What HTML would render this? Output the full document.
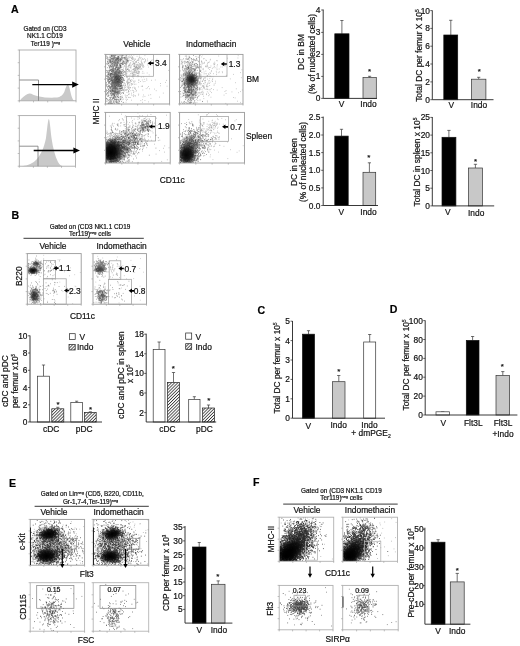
<!DOCTYPE html>
<html><head><meta charset="utf-8"><title>Figure</title>
<style>html,body{margin:0;padding:0;background:#fff}svg{display:block}text{font-family:"Liberation Sans",Arial,sans-serif;stroke:#111;stroke-width:.2px}</style>
</head><body>
<svg width="520" height="646" viewBox="0 0 520 646" font-size="8.4" fill="#111">
<defs><radialGradient id="g"><stop offset="0" stop-color="#000" stop-opacity="1"/><stop offset=".45" stop-color="#000" stop-opacity=".75"/><stop offset=".75" stop-color="#000" stop-opacity=".25"/><stop offset="1" stop-color="#000" stop-opacity="0"/></radialGradient><filter id="bl" x="-5%" y="-5%" width="110%" height="110%"><feGaussianBlur stdDeviation=".3"/></filter><pattern id="h" width="2.2" height="2.2" patternUnits="userSpaceOnUse" patternTransform="rotate(-45)"><rect width="2.2" height="2.2" fill="#fff"/><rect width="2.2" height=".8" fill="#333"/></pattern></defs>
<rect width="520" height="646" fill="#fff"/>
<text x="11" y="12.6" font-weight="bold" font-size="10.6" fill="#000">A</text><text x="45" y="30.5" text-anchor="middle" font-size="6.4">Gated on (CD3</text><text x="45" y="37.9" text-anchor="middle" font-size="6.4">NK1.1 CD19</text><text x="45.5" y="45.8" text-anchor="middle" font-size="6.4">Ter119 )<tspan dy="-2" font-size="3.8">neg</tspan></text><path d="M20 100.8L21 99C24 96 27 93.4 29.5 93.4C32 93.4 34 95.5 38 96.2C44 97.5 50 98 56 97.6C59 97.3 62 96.5 64.3 92C66 87.5 66.8 84.6 67.7 84.6C68.8 84.6 69.5 88 70.6 92.5C71.6 97 72.5 99.5 74 100.8Z" fill="#c9c9c9"/><rect x="19.3" y="50" width="56.7" height="50.8" fill="none" stroke="#aaa" stroke-width="0.9"/><path d="M19.3 100.8v1.6M19.3 100.8h-1.6M33.5 100.8v1.6M19.3 88.1h-1.6M47.7 100.8v1.6M19.3 75.4h-1.6M61.8 100.8v1.6M19.3 62.7h-1.6M76 100.8v1.6M19.3 50h-1.6" stroke="#999" stroke-width=".6" fill="none"/><path d="M19.3 80H38.5V100.8" stroke="#858585" stroke-width=".9" fill="none"/><path d="M32.3 84.6L72.7 84.6" stroke="#000" stroke-width="1.4" fill="none"/><path d="M78.8 84.6l-6.6 -3.1v6.2z" fill="#000"/><path d="M22 166.2C28 165.5 33 163.5 37 159C41 154 44 148 46 138C47.3 128 48 119 48.8 119C49.7 119 50.3 128 51.5 138C53 148 55 156 58 162C59.5 164.5 61 165.8 63 166.2Z" fill="#c9c9c9"/><rect x="19.3" y="115.6" width="56.2" height="50.6" fill="none" stroke="#aaa" stroke-width="0.9"/><path d="M19.3 166.2v1.6M19.3 166.2h-1.6M33.4 166.2v1.6M19.3 153.5h-1.6M47.4 166.2v1.6M19.3 140.9h-1.6M61.5 166.2v1.6M19.3 128.2h-1.6M75.5 166.2v1.6M19.3 115.6h-1.6" stroke="#999" stroke-width=".6" fill="none"/><path d="M19.3 146.2H38V166.2" stroke="#858585" stroke-width=".9" fill="none"/><path d="M33.7 150.5L73.9 150.5" stroke="#000" stroke-width="1.4" fill="none"/><path d="M80 150.5l-6.6 -3.1v6.2z" fill="#000"/><text x="136.8" y="46.9" text-anchor="middle">Vehicle</text><text x="211.2" y="46.9" text-anchor="middle">Indomethacin</text><text x="246.4" y="81.8">BM</text><text x="246" y="138.5">Spleen</text><text x="99.2" y="111.5" text-anchor="middle" transform="rotate(-90 99.2 111.5)">MHC II</text><text x="172.3" y="183.4" text-anchor="middle">CD11c</text><clipPath id="c1"><rect x="105.6" y="54.4" width="64" height="49.6"/></clipPath><g clip-path="url(#c1)"><ellipse cx="117.5" cy="79.5" rx="5" ry="7" fill="url(#g)" opacity="0.3"/><path d="M106.4 55h.7m2.6 0h.7m1-.1h.7m-.5 .3h.7m.1-.1h.7m-.5-.1h.7m0 .2h.7m0-.2h.7m-.3 0h.7m-.2 0h.7m.1 .2h.7m.3-.2h.7m.3 0h.7m.7 0h.7m1.1-.1h.7m.2 .2h.7m.3-.1h.7m-12.3 .5h.7m-.7-.2h.7m-.7 0h.7m1.3 .2h.7m.6 .1h.7m6.7-.3h.7m0 .1h.7m3 0h.7m-16.4 .6h.7m.4-.1h.7m-.1 0h.7m1.7-.1h.7m-.1 .1h.7m2 .3h.7m1.1-.3h.7m.8 .3h.7m-.6-.1h.7m0 .1h.7m-16.1 .4h.7m3.6 0h.7m-.2-.2h.7m-.5 0h.7m1.9 .3h.7m-.7-.1h.7m2.5-.1h.7m-.3 0h.7m-.7 0h.7m-.4 .2h.7m-.4 0h.7m-9.9 .3h.7m.1 .1h.7m.9-.3h.7m.8 .1h.7m-.6 .1h.7m-.4-.2h.7m3.6 .4h.7m.1 0h.7m12.5-.2h.7m-25.6 .4h.7m1 .3h.7m.7 0h.7m-.2-.4h.7m2.4 .4h.7m-.1-.3h.7m-.2 .2h.7m-.5 .1h.7m.4-.1h.7m.1-.3h.7m-.3 .1h.7m.2 .3h.7m-.2-.2h.7m1.8 .1h.7m-.6 0h.7m.1 0h.7m0 .1h.7m.4-.2h.7m-.7-.2h.7m-.2 .1h.7m3.7 .3h.7m-22.2 .5h.7m4.2-.3h.7m.6 .1h.7m.3 0h.7m-.6 .1h.7m.4-.1h.7m.7-.1h.7m.2 .1h.7m1.7 .1h.7m1.3 0h.7m2.1 0h.7m-.6-.3h.7m-19.6 .6h.7m3.5 .1h.7m-.3-.1h.7m.6-.1h.7m.4 0h.7m-.4 .4h.7m-.4-.4h.7m.9 .3h.7m-.2-.1h.7m-.2-.1h.7m-.3 .1h.7m-.3 .1h.7m-.7-.1h.7m-.4 .1h.7m-.6-.2h.7m.2 .2h.7m1.3 0h.7m9.6-.3h.7m-24.2 .8h.7m.7 .1h.7m1-.1h.7m-.4-.3h.7m-.6 .3h.7m0-.2h.7m-.2 .2h.7m-.5-.3h.7m.2 .2h.7m-.6 .1h.7m1.6 .1h.7m-.5-.1h.7m-.3 .1h.7m-.5 0h.7m-.6-.1h.7m-.6-.3h.7m-.6 .1h.7m.4-.1h.7m-.3 0h.7m-.1 .1h.7m.2 .1h.7m-.4-.2h.7m-.4 .3h.7m-.1-.3h.7m.4 0h.7m1.5 .3h.7m.3 .1h.7m-.2-.1h.7m.2 0h.7m-19 .3h.7m.5 .3h.7m.1-.1h.7m2.7 .1h.7m.9-.4h.7m-.6 .2h.7m-.7 .1h.7m.1-.3h.7m-.3 0h.7m-.6 .4h.7m-.2-.3h.7m.5 .3h.7m.3-.1h.7m-.5 0h.7m-.7-.3h.7m.2 .1h.7m-.1-.1h.7m4.3 0h.7m-19.5 .6h.7m1.3 .1h.7m-.4-.1h.7m1.5 0h.7m.2 .3h.7m1-.4h.7m.4 .2h.7m-.5 .2h.7m.4-.1h.7m.2 0h.7m-.2-.2h.7m-.6 .2h.7m.6-.2h.7m-.5 .2h.7m-.4 .1h.7m-.6-.4h.7m.1 .1h.7m5.9 .2h.7m-18.8 .3h.7m-.4-.1h.7m.1 0h.7m1.3 0h.7m1.5 0h.7m-.4 .3h.7m.1 .1h.7m0-.2h.7m.7 0h.7m-.1 .2h.7m.2-.2h.7m-.1 .2h.7m.8-.4h.7m3.5 0h.7m.7 0h.7m-.1 .2h.7m-20.1 .3h.7m-.3 .4h.7m.2-.3h.7m-.7 .1h.7m-.4-.1h.7m1.5 0h.7m-.3 0h.7m-.4 .3h.7m.2-.2h.7m-.5-.2h.7m0 .2h.7m-.3 0h.7m-.2 .1h.7m-.5-.3h.7m-.5 .4h.7m.1 0h.7m.2 0h.7m-.2-.3h.7m.8-.1h.7m-.4 .1h.7m1.6 .3h.7m4.1-.3h.7m-20.6 .5h.7m.8 0h.7m.8 0h.7m.8 .2h.7m-.5-.1h.7m-.6 .2h.7m1.1 0h.7m-.5-.3h.7m0-.1h.7m1.7 0h.7m.7 .3h.7m.3 0h.7m2.8-.3h.7m0 .4h.7m2.4-.2h.7m-20.6 .5h.7m-.2-.1h.7m1.4 .1h.7m-.4 0h.7m.3 0h.7m-.3 0h.7m.6-.2h.7m-.5 0h.7m1.9 0h.7m.6 0h.7m-.4 .4h.7m-.4-.3h.7m1.6 .2h.7m.3-.3h.7m1.3 .3h.7m.1-.3h.7m.7 .3h.7m2.6-.3h.7m-18.6 .5h.7m-.6 .1h.7m1.7 .3h.7m-.3-.3h.7m.8 .1h.7m0-.1h.7m.3 .3h.7m-.7-.1h.7m.2 0h.7m-.4-.2h.7m-.6 .3h.7m-.3-.2h.7m3.3 .1h.7m.8 .1h.7m2.1 0h.7m-19.2 .1h.7m.2 0h.7m-.5 0h.7m1.4 .1h.7m-.3 0h.7m0 .3h.7m.3-.2h.7m-.6 .1h.7m.1 0h.7m-.4-.1h.7m-.7-.2h.7m-.5 .3h.7m-.7-.3h.7m-.4 0h.7m-.4 .2h.7m-.3 0h.7m3.2 .2h.7m2.2 0h.7m0 0h.7m.4-.3h.7m-17 .6h.7m-.2 0h.7m2.7 .1h.7m-.3-.3h.7m2.5 .2h.7m.6 .2h.7m-.5-.3h.7m.2-.1h.7m-.3 .1h.7m.9-.1h.7m-.5 .4h.7m.3-.2h.7m-.5-.1h.7m-.2 .2h.7m2-.1h.7m-.1 .2h.7m-18.5 .5h.7m0-.3h.7m1.6-.1h.7m.8 0h.7m0 .2h.7m-.3 .1h.7m1.3-.2h.7m.7 0h.7m.8 .1h.7m2.1-.1h.7m1.6-.1h.7m-12.3 .8h.7m1.2-.3h.7m.2 .1h.7m-.6 0h.7m.6 .1h.7m.6 .1h.7m.1-.1h.7m.9 .2h.7m2.1-.3h.7m-.6 .2h.7m.4 0h.7m-14.1 .3h.7m1.8 0h.7m-.1 .2h.7m.6-.1h.7m-.4 .1h.7m.4 0h.7m.1-.3h.7m.3 0h.7m1.5 .1h.7m5.7 0h.7m3.1 0h.7m-22.2 .5h.7m1.1 0h.7m-.3 0h.7m1.2 .1h.7m.9 .2h.7m-.6-.4h.7m-.1 .1h.7m.2 .1h.7m.7 .1h.7m-.5 0h.7m-.2-.2h.7m2 0h.7m-.7 .2h.7m-.5 .1h.7m7.5-.1h.7m-19.3 .3h.7m.2-.1h.7m1.2 .2h.7m0 .1h.7m-.4-.1h.7m1 .2h.7m0-.3h.7m-.7-.1h.7m-.4 .2h.7m-.6 .1h.7m.3-.3h.7m.9 0h.7m.1 0h.7m.1 .2h.7m-12.7 .3h.7m-.6 .4h.7m.3-.4h.7m.7 .4h.7m-.1-.4h.7m0 .1h.7m.2 .3h.7m.5-.3h.7m.6 .2h.7m.8 0h.7m1.5 .1h.7m-.4-.1h.7m-10.9 .3h.7m.1-.1h.7m1.2 .2h.7m-.4-.2h.7m1.4 .3h.7m.9-.2h.7m.9 .3h.7m.3-.4h.7m1.8 .2h.7m-15.1 .7h.7m1.5-.2h.7m1.5 .1h.7m.7 .1h.7m2.1-.2h.7m-.6 0h.7m-.6 .1h.7m-.1-.1h.7m-.3 .1h.7m.1-.1h.7m-.4-.2h.7m1.4 0h.7m-.2 .3h.7m-.6-.3h.7m-12.6 .6h.7m-.1-.1h.7m1.3 .4h.7m.1 0h.7m.1-.3h.7m1.3 .3h.7m.1-.1h.7m0-.3h.7m.5 .2h.7m.6-.2h.7m-.6 0h.7m.4 .1h.7m-8.6 .4h.7m-.4 .3h.7m-.6-.3h.7m.3 .3h.7m.2 .1h.7m-.6-.1h.7m-.3-.3h.7m1.3 .3h.7m.7-.2h.7m-.6 .2h.7m-.4-.3h.7m-10.8 .8h.7m.7 .1h.7m-.2 0h.7m3.1-.1h.7m-.3-.2h.7m-.3 .1h.7m1.2 0h.7m.1 0h.7m-.6-.2h.7m-.4 0h.7m-8.4 .7h.7m-.1 0h.7m-.3 .1h.7m-.2-.1h.7m.5 0h.7m.6 .2h.7m-.6-.4h.7m-.2 0h.7m.1 .3h.7m0-.3h.7m-.5 0h.7m-.7 .3h.7m-.6 .1h.7m-.6 0h.7m-.5-.1h.7m.2-.3h.7m-.7 .3h.7m2.4-.2h.7m-.3 .3h.7m4.3-.3h.7m-17.5 .8h.7m-.5-.2h.7m-.3-.1h.7m-.3 .3h.7m-.5-.4h.7m-.1 0h.7m-.6 .2h.7m-.2 .2h.7m.1-.4h.7m-.6 0h.7m-.3 .4h.7m.1-.1h.7m1.8 0h.7m-.5-.2h.7m.9 .1h.7m-.7 .2h.7m-.2 0h.7m2.6-.1h.7m-17.3 .4h.7m.8 .1h.7m.5 .1h.7m-.2-.1h.7m-.6-.3h.7m0 .4h.7m-.5 0h.7m1.1-.1h.7m-.4 0h.7m-.2 .1h.7m-.4-.4h.7m-.6 .2h.7m-.2-.2h.7m1.8 0h.7m.5 .3h.7m-.6-.2h.7m.4 .1h.7m-.4 .2h.7m-12.1 .1h.7m.4 .4h.7m1.8-.1h.7m-.6 .1h.7m0 0h.7m-.4-.2h.7m0 0h.7m1.2-.1h.7m0 0h.7m-.6 .1h.7m-.5 .1h.7m-.4-.3h.7m-.7 .3h.7m-.2 .1h.7m.9-.4h.7m.3 .3h.7m.1 0h.7m-.6-.1h.7m2 0h.7m-14.6 .6h.7m1.3 0h.7m-.3-.3h.7m-.3 .3h.7m.4-.1h.7m-.5 .1h.7m.6-.2h.7m-.4-.1h.7m0 0h.7m-.5 .2h.7m0-.1h.7m.1 0h.7m.1-.1h.7m0 .2h.7m.1-.2h.7m-.4 .2h.7m-.6 0h.7m1.2 .1h.7m1.9 .1h.7m-17.7 .4h.7m-.7-.1h.7m3.8-.1h.7m-.3 .3h.7m-.1 0h.7m-.2-.2h.7m.5 .2h.7m-.7 0h.7m-.4-.2h.7m-.2 .2h.7m-.7-.4h.7m.2 .2h.7m-.4-.2h.7m-.4 .2h.7m-.6 0h.7m-.6 .2h.7m.5-.4h.7m-.6 .3h.7m-.1 0h.7m-.6 .1h.7m-.5-.3h.7m-.6 .2h.7m.6-.2h.7m3.9 .2h.7m-19.5 .2h.7m1.3 0h.7m-.2 .3h.7m2.5-.3h.7m.9 .3h.7m-.7 .1h.7m-.2-.2h.7m-.7-.2h.7m-.1 .1h.7m-.6 .1h.7m-.5 .1h.7m-.2-.2h.7m0 .1h.7m-.4-.1h.7m-.1-.1h.7m-.2 .2h.7m-.7 .2h.7m-.3-.2h.7m2.1-.2h.7m1.6 .3h.7m-15.8 .5h.7m-.5 0h.7m-.5-.1h.7m.7 .1h.7m.2 0h.7m-.5 .1h.7m.9-.3h.7m1.1 0h.7m-.3-.1h.7m-.6 .4h.7m-.6-.2h.7m-.4 .2h.7m-.5-.1h.7m-.1 0h.7m-.5-.1h.7m-.7 .1h.7m.8-.2h.7m-.5 .2h.7m-.6-.1h.7m-.6 .2h.7m-.5-.4h.7m-.7 .4h.7m-.2-.4h.7m-.5 .1h.7m-.5 .1h.7m0-.2h.7m-.7 .4h.7m-.3-.2h.7m-.2 .1h.7m.4 .1h.7m-.1-.1h.7m-13.5 .5h.7m-.4 .1h.7m-.1 0h.7m-.5-.2h.7m-.4 .1h.7m-.3 .1h.7m0-.1h.7m0-.3h.7m.6 .4h.7m-.6-.2h.7m-.7 0h.7m0-.2h.7m-.7 .3h.7m-.4-.1h.7m-.1 .1h.7m0-.1h.7m-.3 .1h.7m1.5 .1h.7m-.4-.4h.7m-.7 .2h.7m.9 0h.7m-.5-.2h.7m-14.6 .9h.7m-.7-.1h.7m-.1 0h.7m0 0h.7m-.3-.3h.7m0 .4h.7m-.5-.3h.7m-.5 .2h.7m-.4-.3h.7m-.3 .1h.7m.2 0h.7m-.5 .2h.7m.1-.1h.7m-.4 .2h.7m.2-.1h.7m-.6-.2h.7m-.4 .3h.7m-.2-.3h.7m.7 .3h.7m.3-.2h.7m0 0h.7m1.3 .2h.7m-12.6 .4h.7m-.2 .1h.7m.8-.3h.7m-.7 .1h.7m.9-.2h.7m-.4 .3h.7m-.5-.3h.7m.1 .2h.7m-.5 0h.7m-.2-.2h.7m-.4 .1h.7m-.6 .1h.7m-.6 .1h.7m-.6-.1h.7m-.4 0h.7m-.3 .2h.7m-.4-.3h.7m.1 .1h.7m-.6 .2h.7m-.3 0h.7m-.6-.1h.7m-.6-.3h.7m-.5 .1h.7m.8 .1h.7m.3-.1h.7m-12 .5h.7m1.6 .1h.7m0-.2h.7m-.3 .1h.7m1 .3h.7m-.1-.1h.7m-.6-.2h.7m-.6 .1h.7m.1 0h.7m-.1-.1h.7m-.1 .2h.7m-.6 .1h.7m-.3-.4h.7m-.6 .2h.7m.3-.2h.7m0 .2h.7m.2 .2h.7m-.1-.1h.7m.2-.2h.7m.7 0h.7m-15.6 .4h.7m1.2 0h.7m-.1 .1h.7m-.6 0h.7m-.4 .3h.7m.1-.3h.7m1.1-.1h.7m.8 .1h.7m-.5 .1h.7m0 .2h.7m-.5-.1h.7m-.1 0h.7m-.3 .1h.7m-.1-.2h.7m-.2-.1h.7m-.5-.1h.7m-.7 .1h.7m-.6 .1h.7m-.7 .2h.7m-.1-.1h.7m1-.2h.7m-.4 .2h.7m-.6-.3h.7m-.7 .1h.7m-.4 .2h.7m.9-.3h.7m.1 .2h.7m-17.9 .3h.7m-.6 .4h.7m.7-.3h.7m1.3 .1h.7m-.6 0h.7m-.4 .1h.7m-.5-.1h.7m-.6 0h.7m-.6 .1h.7m.5 .1h.7m-.1-.4h.7m.1 .3h.7m.1-.2h.7m-.6 0h.7m-.6 .1h.7m-.5 .2h.7m-.5-.1h.7m.4 .1h.7m-.7-.3h.7m-.4 .2h.7m-.5 0h.7m-.6-.3h.7m-.5 0h.7m-.4 0h.7m-.7 .4h.7m-.3-.1h.7m0-.2h.7m-.6-.1h.7m-.7 .3h.7m-.5-.1h.7m-.3-.1h.7m-.3 .2h.7m-.6-.1h.7m-.1 .1h.7m-.5-.2h.7m.3 .2h.7m-14.5 .3h.7m-.6 .3h.7m.1-.2h.7m-.1 0h.7m.9-.2h.7m-.3 .4h.7m-.4-.4h.7m1 0h.7m-.5 .1h.7m-.5-.1h.7m-.7 .3h.7m-.7 .1h.7m-.5-.1h.7m-.6 .1h.7m-.1-.4h.7m-.5 .3h.7m-.1-.3h.7m-.3 .1h.7m-.7 .1h.7m-.4-.2h.7m-.5 .1h.7m-.6 .2h.7m-.4-.1h.7m-.4 .2h.7m-.6-.4h.7m-.3 .2h.7m-.6 .2h.7m-.4-.1h.7m-.5-.2h.7m-.6 .2h.7m0 0h.7m-.4-.2h.7m0 0h.7m-.4 0h.7m-.6 .1h.7m-.3-.1h.7m.8 0h.7m2 .1h.7m-16.7 .7h.7m1.9-.1h.7m-.3 0h.7m-.6 0h.7m-.6 .1h.7m0 0h.7m.2-.1h.7m-.3-.3h.7m-.5 0h.7m-.6 .4h.7m-.5-.4h.7m-.3 0h.7m-.5 .3h.7m-.2 .1h.7m-.5-.3h.7m-.6 .2h.7m-.6-.2h.7m-.2 .1h.7m-.4-.2h.7m-.6 0h.7m-.6 .2h.7m-.4 .1h.7m-.7 .1h.7m-.5-.3h.7m-.4 0h.7m-.5 .3h.7m-.6-.2h.7m-.5 0h.7m-.4 .1h.7m-.1-.2h.7m-.6 .3h.7m-.7-.3h.7m-.3 0h.7m.4 .3h.7m.2-.2h.7m4.5-.1h.7m-18.2 .7h.7m-.5 .1h.7m-.6-.1h.7m2.1-.1h.7m-.5 .2h.7m-.4-.1h.7m1.5-.2h.7m-.5 .2h.7m-.6-.3h.7m-.4 0h.7m-.5 0h.7m-.7 .4h.7m0-.4h.7m-.1 .1h.7m.4 0h.7m-.5 0h.7m-.6-.1h.7m-.3 .4h.7m-.6 0h.7m.8-.4h.7m-.6 .3h.7m-.6-.1h.7m-.7-.2h.7m.1 .2h.7m-.3 .2h.7m0-.2h.7m-.7-.2h.7m-.1 .1h.7m-15.9 .5h.7m-.5 .1h.7m1.4 .2h.7m-.5-.1h.7m-.6-.1h.7m.2 .1h.7m-.7-.2h.7m-.2 .2h.7m-.7-.1h.7m.4 .2h.7m-.7-.2h.7m-.6-.1h.7m1 .3h.7m-.6-.4h.7m-.1 0h.7m-.6 .4h.7m-.2-.4h.7m-.6 .3h.7m-.6-.1h.7m.3-.2h.7m-.7 0h.7m-.5 .4h.7m-.7-.1h.7m-.7-.3h.7m.2 .3h.7m.5-.3h.7m-.3 .1h.7m-.3 0h.7m1.1 .1h.7m6.8 .2h.7m-23.8 .4h.7m.7 .1h.7m1.5 0h.7m.7 0h.7m-.1-.3h.7m-.4 0h.7m.9 0h.7m-.4-.1h.7m-.4 .1h.7m.1-.1h.7m-.2 .2h.7m-.3 .2h.7m-.5-.4h.7m-.6 .4h.7m-.6-.2h.7m-.2 .1h.7m-.3-.3h.7m-.6 .1h.7m-.4 0h.7m-.6 .3h.7m-.5-.4h.7m-.4 .2h.7m.7 .1h.7m-.6-.3h.7m-.6 .4h.7m-.3-.2h.7m.7 0h.7m.3-.1h.7m-15.2 .7h.7m-.2-.2h.7m-.1-.1h.7m-.5 .3h.7m-.6-.2h.7m-.3 0h.7m.2 .1h.7m0-.2h.7m1.3 .4h.7m-.4-.1h.7m-.4-.3h.7m-.3 0h.7m-.6 .1h.7m-.7 .3h.7m-.5-.1h.7m-.3-.3h.7m-.6 .3h.7m-.6-.3h.7m-.1 .1h.7m-.5 0h.7m-.7 .1h.7m-.4-.2h.7m-.7 0h.7m-.7 .1h.7m-.4 .2h.7m-.6-.2h.7m-.7 0h.7m-.4 .3h.7m-.5-.2h.7m-.4-.1h.7m-.2 .3h.7m-.1-.3h.7m-.5 .2h.7m-.6 0h.7m-.4 .1h.7m-.5 0h.7m-.4-.3h.7m2.9 .3h.7m-16.8 .2h.7m-.2 .1h.7m0 .1h.7m-.1-.2h.7m-.5 .1h.7m-.3 0h.7m.3 0h.7m-.2 .2h.7m-.4-.1h.7m-.7-.3h.7m-.6 .4h.7m.4-.1h.7m-.6-.2h.7m-.2 .2h.7m.4-.3h.7m-.4 .3h.7m.3 .1h.7m-.6 0h.7m-.5-.4h.7m-.5 .4h.7m-.6 0h.7m-.3-.1h.7m-.5-.2h.7m-.3 .1h.7m-.2 .1h.7m-.6 .1h.7m.2-.2h.7m-.4-.1h.7m1 .3h.7m-.7 0h.7m-.3-.3h.7m.6-.1h.7m-15.9 .8h.7m-.3 0h.7m-.6-.2h.7m1.5-.1h.7m.7 0h.7m-.7 0h.7m-.6 .3h.7m-.2-.1h.7m-.4 0h.7m-.1 .1h.7m-.3 0h.7m-.4 .1h.7m-.5-.4h.7m-.7 .2h.7m-.4-.2h.7m-.6 .3h.7m-.7-.3h.7m-.1 .1h.7m-.1 .1h.7m-.4 .1h.7m-.7-.2h.7m.1-.1h.7m.1 .4h.7m-.4-.1h.7m-.4 0h.7m.2-.3h.7m-.6 .1h.7m-.6 .3h.7m.3-.1h.7m-.7 .1h.7m.5-.2h.7m0-.1h.7m-14.8 .7h.7m1.2 .1h.7m.1 0h.7m-.2 0h.7m-.6 0h.7m-.1-.4h.7m-.6 .2h.7m0 .2h.7m-.5 0h.7m0-.2h.7m-.1-.2h.7m-.2 .4h.7m-.5 0h.7m-.5 0h.7m-.5-.3h.7m-.6 .2h.7m-.7-.2h.7m-.6 .3h.7m-.6-.1h.7m-.7-.2h.7m-.2 .2h.7m-.1-.3h.7m-.1 .4h.7m.2 0h.7m.4-.4h.7m-.3 .2h.7m-.5 0h.7m3-.2h.7m-.2 .2h.7m-17.5 .7h.7m-.3 0h.7m.2 0h.7m-.6 0h.7m1.1-.2h.7m-.6-.1h.7m-.6 .1h.7m-.2-.2h.7m-.2 0h.7m-.4 .3h.7m.6 0h.7m-.3-.1h.7m-.4-.1h.7m-.3 .2h.7m-.6 .1h.7m-.7-.1h.7m-.4 .1h.7m-.3-.2h.7m0-.1h.7m0 .1h.7m-.3 .1h.7m-.1 .1h.7m-.4-.3h.7m.6 0h.7m-.3 0h.7m-.5 0h.7m-.6-.1h.7m-.7 .1h.7m-.5 .1h.7m-.4-.1h.7m-.3 0h.7m-12.6 .6h.7m-.6 .1h.7m.4-.2h.7m1.5 .2h.7m-.3-.1h.7m-.1-.2h.7m-.6 .2h.7m-.1 0h.7m-.7 0h.7m-.4 .2h.7m-.4-.4h.7m-.1 .2h.7m.1-.1h.7m0-.1h.7m-.5 .1h.7m-.5 .2h.7m-.2-.1h.7m-.6 .2h.7m.1-.2h.7m-.1 0h.7m.7 0h.7m-.3-.2h.7m-.4 .1h.7m-.6 .2h.7m-.2-.1h.7m-.2 0h.7m-14.4 .7h.7m-.2-.3h.7m-.4-.1h.7m1.6 .4h.7m-.6 0h.7m-.4-.1h.7m-.2-.3h.7m-.1 .4h.7m-.1 0h.7m-.7-.1h.7m-.5-.3h.7m-.5 .1h.7m-.6 .2h.7m.1 .1h.7m-.6-.3h.7m-.6 .1h.7m.1 .1h.7m-.6-.2h.7m-.7 .1h.7m-.7 .2h.7m-.7-.2h.7m-.5 0h.7m.2 .2h.7m-.6-.4h.7m-.4 0h.7m-.3 .2h.7m-.6 .1h.7m-.6 .1h.7m-.5-.1h.7m-.5 .1h.7m-.4-.3h.7m-.3 0h.7m-.5 .2h.7m.1 .1h.7m.1-.3h.7m.5 .2h.7m-16.8 .4h.7m1.6 .1h.7m.2-.3h.7m1.8 .2h.7m-.4 0h.7m-.3-.1h.7m-.1-.1h.7m-.5 .1h.7m-.3 .3h.7m-.6-.3h.7m-.6-.1h.7m-.6 .2h.7m-.5-.2h.7m-.5 .4h.7m-.4-.3h.7m-.1 .2h.7m.1-.3h.7m-.6 .2h.7m-.7-.2h.7m-.1 .2h.7m-.2 .1h.7m-.5 .1h.7m-.5-.3h.7m.1 .2h.7m-.6 .1h.7m-.3-.2h.7m0 .2h.7m0-.3h.7m1 .1h.7m-14.6 .3h.7m.5 .1h.7m-.6 .3h.7m.8-.1h.7m-.3-.1h.7m-.6 .1h.7m-.1 0h.7m-.6-.2h.7m-.6 0h.7m-.5-.1h.7m-.5 .4h.7m.4-.1h.7m-.4-.1h.7m-.7-.2h.7m-.5 .3h.7m-.6-.1h.7m.1-.1h.7m-.6 0h.7m-.6 .1h.7m.2 .1h.7m-.4-.1h.7m-.6 .2h.7m-.3-.3h.7m-.5-.1h.7m-.7 .2h.7m.1 0h.7m-.3-.2h.7m-.6 .4h.7m-.7-.2h.7m-.7 .1h.7m.3-.3h.7m-.4 .3h.7m-.5-.3h.7m-.1 0h.7m-.5 .4h.7m-.5-.1h.7m-.5-.2h.7m-13.3 .8h.7m.5-.1h.7m.7-.3h.7m-.3 .1h.7m0 .1h.7m-.2-.1h.7m-.6 0h.7m-.6 .2h.7m-.5 .1h.7m-.4 0h.7m-.1-.2h.7m-.3 .1h.7m-.6-.3h.7m-.7 0h.7m-.5 .4h.7m-.4-.2h.7m-.3 .1h.7m-.6-.2h.7m-.7 .1h.7m-.6 .1h.7m-.1-.3h.7m.6 .4h.7m-.2 0h.7m.6-.3h.7m.1 0h.7m-.6-.1h.7m-.4 .2h.7m3.1 0h.7m-19.2 .4h.7m1.2-.1h.7m2.7 .3h.7m-.6 0h.7m.4-.1h.7m-.6-.1h.7m-.7-.1h.7m-.5 .3h.7m.4-.1h.7m.4-.2h.7m-.6 .2h.7m-.3-.1h.7m-.6 .3h.7m-.2 0h.7m0-.3h.7m-.5 .2h.7m-.7-.3h.7m-.2 .1h.7m-.6 0h.7m-.6 .2h.7m-.1-.3h.7m1.9 .1h.7m5.7 .1h.7m-20.9 .7h.7m2.5-.2h.7m-.3 .2h.7m-.5-.4h.7m-.3 .3h.7m-.1 0h.7m.8-.1h.7m-.1 .2h.7m-.4-.1h.7m-.6-.1h.7m-.6 .2h.7m-.2-.4h.7m.3 .4h.7m-.2-.3h.7m.2 .2h.7m-.7-.3h.7m0 .4h.7m-.4-.2h.7m-.7 .2h.7m-.2 0h.7m-.4 0h.7m-.2-.3h.7m.6 0h.7m-15.7 .7h.7m4.3 0h.7m0-.2h.7m-.4-.1h.7m-.5 .4h.7m.2-.4h.7m-.7 .1h.7m-.2 .1h.7m-.5 0h.7m-.5 .1h.7m-.7-.2h.7m-.6 0h.7m-.6 0h.7m-.3-.1h.7m-.3 .1h.7m-.3 .1h.7m-.2 .2h.7m-.3 0h.7m.1-.1h.7m-.7-.2h.7m-.3-.1h.7m0 0h.7m.1 .3h.7m-.4-.3h.7m.1 .3h.7m-.5-.2h.7m.2 .3h.7m-.3 0h.7m-13.7 .1h.7m-.7 .4h.7m2.5-.4h.7m-.3 0h.7m-.4 .4h.7m-.1-.4h.7m-.1 0h.7m0 .1h.7m-.4 .3h.7m.4-.4h.7m-.7 .3h.7m-.3-.1h.7m-.5 .1h.7m.4-.3h.7m1.3 .3h.7m-.3-.3h.7m-.1 .1h.7m-.3 0h.7m-.7 .3h.7m-.4-.3h.7m.6 .1h.7m1.9 .2h.7m-19.8 .5h.7m1.7-.4h.7m-.3 .3h.7m1.3 .1h.7m-.6-.1h.7m-.6 .1h.7m-.5-.4h.7m-.5 .1h.7m.5 .2h.7m-.6 .1h.7m-.5-.1h.7m.3 0h.7m-.6-.3h.7m-.6 .4h.7m-.5-.4h.7m-.6 .1h.7m-.3 .1h.7m-.5 .1h.7m-.2-.2h.7m-.7 .3h.7m-.6-.4h.7m-.5 .3h.7m.7-.3h.7m-.6 .1h.7m-.4 .3h.7m-.7-.1h.7m-.6-.3h.7m-.7 .1h.7m-.3 .2h.7m-.3-.3h.7m-.1 .3h.7m-.3 0h.7m-.1 0h.7m.1-.2h.7m2.7 .1h.7m-16.9 .4h.7m-.3 0h.7m-.5 .1h.7m1.1-.2h.7m.4 .2h.7m-.5-.1h.7m-.2 .3h.7m-.5-.3h.7m-.2 0h.7m.2 .1h.7m-.6-.1h.7m-.4 .2h.7m-.5 0h.7m-.6 .1h.7m-.6-.4h.7m-.7 0h.7m-.2 .2h.7m-.6-.1h.7m1.3 .3h.7m.4-.1h.7m-.1 .1h.7m-.6-.1h.7m-.6-.3h.7m-.2 .2h.7m-.1 .1h.7m-.6-.1h.7m-14.3 .3h.7m-.3 .1h.7m.7 .2h.7m.5-.3h.7m0 .2h.7m-.6-.2h.7m-.4 .3h.7m0-.1h.7m1.1 .2h.7m-.4-.2h.7m.2 .1h.7m.9-.2h.7m-.2 .3h.7m-.7-.1h.7m-.2-.3h.7m.7 .3h.7m-.6-.2h.7m.5-.1h.7m.6 .2h.7m.1-.2h.7m-12.4 .8h.7m-.6 .1h.7m1.1-.4h.7m-.3 .4h.7m.4-.3h.7m-.5-.1h.7m-.5 .4h.7m-.6-.2h.7m-.4 .1h.7m-.2-.2h.7m-.5 .1h.7m-.6 .2h.7m.5-.3h.7m4.2 0h.7m-.2-.1h.7m-15.5 .8h.7m1.4-.2h.7m-.7-.1h.7m-.5 .2h.7m-.1 .2h.7m-.5-.4h.7m.5 .2h.7m.2-.2h.7m-.2 .4h.7m-.5-.2h.7m-.5-.1h.7m-.6-.1h.7m.2 .4h.7m-.5 0h.7m-.1-.1h.7m-.5 .1h.7m-.4-.1h.7m-.7 0h.7m-.5-.3h.7m-.3 .2h.7m-.4-.2h.7m1.9 .4h.7m.8-.2h.7m.6 .2h.7m-.2 0h.7m-12.9 .3h.7m.9 .2h.7m.2-.3h.7m-.2 0h.7m-.7-.1h.7m.2 .3h.7m.3 0h.7m.1 .1h.7m-.3-.3h.7m.2 .3h.7m.8-.4h.7m-.1 .1h.7m0 .3h.7m-.6-.1h.7m-.4 .1h.7m-.5-.1h.7m-.5-.2h.7m-.5 0h.7m-.6 .1h.7m-13.7 .3h.7m3 0h.7m-.4 0h.7m-.1 .1h.7m-.7 .1h.7m-.2 .1h.7m0-.1h.7m-.5 .1h.7m-.2-.3h.7m-.6 .3h.7m.1-.2h.7m-.7 .1h.7m.7 .1h.7m-.3-.2h.7m-.6 .3h.7m-.5-.2h.7m-.4 .2h.7m-.1-.4h.7m2.3 .1h.7m-14.2 .6h.7m-.3 0h.7m1.8-.1h.7m.1 .2h.7m-.3-.2h.7m2.2-.1h.7m.2 .4h.7m-.3-.4h.7m.1 .1h.7m2 .3h.7m-14.3 .1h.7m3.3 .2h.7m-.3-.2h.7m1 0h.7m-.1 .2h.7m-.1 .1h.7m-.3 .1h.7m-.2-.4h.7m-.1 .1h.7m-.5 .3h.7m-.3-.2h.7m2.3 .2h.7m-.6-.1h.7m-.3 .1h.7m.6 0h.7m.5 0h.7m.3-.4h.7m.3 0h.7m-18 .5h.7m.2 .1h.7m.9 .3h.7m.8-.2h.7m0-.1h.7m.5 .1h.7m-.4 .1h.7m-.4 .1h.7m.1-.3h.7m-.6 .1h.7m1.3 0h.7m.6-.1h.7m3.1 .2h.7m1.9 .1h.7m-15.8 .5h.7m1.2-.3h.7m-.4-.1h.7m-.3 .3h.7m-.6 0h.7m.1 0h.7m-.6 0h.7m-.6-.3h.7m.4 .2h.7m-.6 .2h.7m-.2-.3h.7m-.7 .3h.7m0-.1h.7m-.5-.2h.7m-.3 .1h.7m.3-.1h.7m.5 0h.7m0 .3h.7m-.5-.4h.7m.4 .2h.7m-13.9 .4h.7m1.8-.1h.7m-.6 .4h.7m.9-.2h.7m-.3 0h.7m.7 .1h.7m-.1-.3h.7m0 .2h.7m-.4 0h.7m-.5-.2h.7m-.3 .1h.7m-.6 .1h.7m-.2-.2h.7m-.6 0h.7m-.3 .4h.7m-.7-.1h.7m.2-.1h.7m.2 .2h.7m-.6 0h.7m.5-.3h.7m.3 .1h.7m-10.4 .3h.7m0 0h.7m-.7 0h.7m.2 .4h.7m.5-.4h.7m-.5 .2h.7m.1 .1h.7m-.2-.2h.7m-.5-.1h.7m.4 .3h.7m-.5 0h.7m-.4-.3h.7m-.1 .2h.7m.3 .1h.7m-.2-.1h.7m-.1-.1h.7m.5 .2h.7m-.6-.2h.7m-12.8 .7h.7m.2-.3h.7m1.8 .1h.7m2.1 0h.7m-.4 .2h.7m-.1-.1h.7m-.4 .1h.7m-.5 0h.7m-.3 0h.7m-.5 .1h.7m-.5-.2h.7m.6-.1h.7m-.6-.1h.7m-.6 .1h.7m.3 .2h.7m2.7 0h.7m-15.9 .4h.7m-.1-.2h.7m-.6 .3h.7m2.7 0h.7m.7-.1h.7m.8-.1h.7m-.4 0h.7m-.1-.1h.7m-.3 0h.7m3.1 .2h.7m-.6 0h.7m1.2 .2h.7m1.3-.1h.7m-13.8 .3h.7m-.3 .3h.7m.4-.3h.7m0 .1h.7m.5-.2h.7m.2 .1h.7m.4 .3h.7m-.4-.1h.7m.2 0h.7m.1-.1h.7m-.3-.1h.7m1.2 0h.7m2.9 .1h.7m-17.7 .4h.7m0-.1h.7m.7 .2h.7m1.4 0h.7m.7-.1h.7m0 0h.7m-.5 .1h.7m-.3-.2h.7m.2 .2h.7m-.7-.1h.7m-.2 0h.7m1.1 .3h.7m0 0h.7m-.5-.4h.7m-.4 .3h.7m.1-.2h.7m-.6-.1h.7m-12.9 .9h.7m5.6 0h.7m-.2-.3h.7m-.5 .1h.7m-.3 0h.7m.1 0h.7m4.9 .1h.7m7.5-.3h.7m-22.2 .7h.7m1.4 .2h.7m1.7-.2h.7m-.3 .1h.7m-.3-.2h.7m.2-.1h.7m.6 .1h.7m.1 0h.7m.2-.1h.7m0 .3h.7m.6 .1h.7m6.3-.1h.7m-17.6 .6h.7m-.2-.3h.7m1.7-.1h.7m-.7 0h.7m1.2 .2h.7m.2 .1h.7m-.3 .1h.7m-.7 0h.7m-3.6 .4h.7m2.1-.3h.7m.1 .4h.7m1.1-.3h.7m.5-.1h.7m3.3 .3h.7m-15.3 .2h.7m.1 .1h.7m4.8 .2h.7m.4-.1h.7m0 0h.7m1.3 .2h.7m-.4-.1h.7m-5.5 .6h.7m-.7-.2h.7m1.1-.2h.7m3.4 .3h.7m.5-.2h.7m0-.1h.7m-.7 0h.7m4.3 .2h.7m-17.1 .4h.7m.5-.1h.7m.1 .3h.7m1.1 0h.7m-.1 .1h.7m-.6-.1h.7m.5 .1h.7m-.6-.2h.7m2.3 .1h.7m-.6-.1h.7m3.5 0h.7m-12.8 .3h.7m1.7 .2h.7m-.1-.2h.7m.2 .2h.7m6.2 0h.7m-15.5 .4h.7m-.5 .1h.7m5.5-.1h.7m0-.1h.7m-.3 .3h.7m5.5-.3h.7m-13.6 .8h.7m2.3-.2h.7m-.4 0h.7m1.2 0h.7m-.5 0h.7m.7 0h.7m.4 .2h.7m.3 .1h.7m0-.2h.7m.5 .2h.7m2.1-.1h.7m1.6 0h.7m-16.7 .5h.7m1.8-.3h.7m1 .4h.7m2.5-.4h.7m-.3 0h.7m-.7 .2h.7m-.3 .2h.7m.7-.3h.7m.3 .1h.7m.3 0h.7m.6-.2h.7m-.4 .2h.7m-12.1 .6h.7m.4-.1h.7m1.5 0h.7m3.1-.2h.7m-.4 0h.7m3.1 0h.7m-12 .5h.7m7.2 .3h.7m.9 .1h.7m-12.3 .5h.7m.4-.2h.7m1.8 0h.7m-.4 0h.7m0-.1h.7m1.7 .2h.7m-.7-.1h.7m-.2-.1h.7m.3 .3h.7m1.9 0h.7m-9.2 .2h.7m1 .2h.7m4.4-.3h.7m2.7 .1h.7m1.2 .1h.7m-10.3 .5h.7m1.2 0h.7m1.4 .2h.7m-.2-.2h.7m-.2-.1h.7m.7 .3h.7m.3-.4h.7m-10.7 .8h.7m4-.1h.7m2-.1h.7m.1 .3h.7m5-.3h.7m-15.1 .5h.7m.6 .1h.7m-.2-.2h.7m-.2 .3h.7m.1 .1h.7m1.3 0h.7m2.1-.1h.7m-9.4 .3h.7m-.3 .1h.7m-.4-.1h.7m0 0h.7m.1 0h.7m-.4 0h.7m.4 0h.7m-.6 0h.7m-.2 0h.7m-.4 0h.7m1.3 0h.7m2.5-.1h.7m.1 .2h.7m-.2-.2h.7m.1 .2h.7" stroke="#000" stroke-width=".7" opacity="0.6" fill="none" filter="url(#bl)"/><path d="M119.9 55h.7m12.9 .1h.7m4.8-.1h.7m-15.9 .3h.7m5 .4h.7m1.1 0h.7m12.6-.1h.7m-17.7 .4h.7m-2.5 .3h.7m2.1 .2h.7m7.4-.2h.7m-31.1 .7h.7m23.3 0h.7m7.9-.1h.7m-13.4 .6h.7m3.7 0h.7m1-.2h.7m6.5 0h.7m.5 .2h.7m-23.1 .7h.7m4.1-.3h.7m3.1 0h.7m.8 .2h.7m3.8-.1h.7m5.3-.1h.7m-28 .4h.7m4.9 .1h.7m6.1-.1h.7m-.3 .1h.7m-.6-.1h.7m2.2 0h.7m9.9 .3h.7m1.2 .1h.7m3.3-.1h.7m-31.9 .6h.7m-.1-.1h.7m9.6-.2h.7m2.6 .2h.7m4.2 0h.7m-.7-.3h.7m-.2 .2h.7m-.4 .2h.7m.2-.2h.7m.5-.1h.7m6.4 0h.7m-.2 0h.7m4.1 .1h.7m8.8 .2h.7m-39.7 .5h.7m3.4 0h.7m12.6-.4h.7m2.8 .2h.7m3.7 0h.7m-17.1 .5h.7m0 .2h.7m1.1-.1h.7m4.1 0h.7m3.2-.2h.7m2.8 .2h.7m3-.3h.7m-.6 .3h.7m6.1-.2h.7m-29.1 .7h.7m3.4 .1h.7m1.7-.2h.7m.8 .2h.7m2-.3h.7m2.6 .1h.7m-.5-.2h.7m.2 .4h.7m11.7-.2h.7m4.6-.1h.7m-46.1 .5h.7m11.8 .3h.7m.5-.2h.7m1 .1h.7m-.7 .1h.7m9.4-.1h.7m3.7 .1h.7m4-.1h.7m1.1-.3h.7m-37 .5h.7m6.9 0h.7m13.5 .1h.7m10.4 .3h.7m-34.3 .3h.7m15.2 .2h.7m-.2-.4h.7m.2 .1h.7m4.4-.1h.7m-.1 .4h.7m1-.2h.7m-.5 .1h.7m-.1-.3h.7m-.1 0h.7m4.1 .4h.7m-.5 0h.7m2.6-.4h.7m-27.7 .8h.7m8.2 0h.7m3.2-.1h.7m5.3 .1h.7m.9-.1h.7m5.6 .2h.7m-23.3 .2h.7m3.9 .2h.7m.1-.1h.7m6.5 .2h.7m7.4-.2h.7m-27.4 .7h.7m5.4-.3h.7m2.6 .2h.7m.4-.2h.7m3 .2h.7m2.6 0h.7m-.5-.2h.7m-.2-.1h.7m6.6 .3h.7m.1 .1h.7m-36.5 .1h.7m-.4 0h.7m4.1 .3h.7m4.6-.1h.7m-.1-.2h.7m11.3 .2h.7m1.9 .2h.7m1.4-.2h.7m-.2-.1h.7m-.3 0h.7m3.1 .2h.7m-.3-.3h.7m0 .1h.7m-.2 .3h.7m6.7-.3h.7m-28.6 .7h.7m-.1 .1h.7m1.4-.1h.7m2.7-.3h.7m5.7 0h.7m.8 .1h.7m1.4 .2h.7m0 .1h.7m0-.4h.7m2.7 .2h.7m-25.3 .5h.7m11.7 .2h.7m8-.1h.7m.6-.1h.7m-.1 .2h.7m.9-.4h.7m.6 .2h.7m-.7-.1h.7m.4 .2h.7m3.8 0h.7m3.7-.1h.7m-43.8 .7h.7m10-.4h.7m.3 .2h.7m2.8 .2h.7m4.6-.4h.7m4.2 0h.7m2.9 .4h.7m2.4-.4h.7m1.3 .4h.7m-32.6 .5h.7m8.4 0h.7m-.6 0h.7m3.3 0h.7m5.6-.1h.7m-.2-.3h.7m1.8 .2h.7m-.6 0h.7m-.1 .2h.7m.6-.1h.7m-.6 .1h.7m-.3-.2h.7m1 0h.7m1.2 .1h.7m-.2-.3h.7m1.5 .4h.7m13.4-.2h.7m-46.3 .7h.7m16.7-.2h.7m4.9 0h.7m-.2 0h.7m1.2-.2h.7m-.5 .4h.7m1.1-.1h.7m.1 .1h.7m.4-.1h.7m2.8 0h.7m-20.8 .3h.7m1.5 0h.7m-.6 .2h.7m1-.3h.7m1.1 .3h.7m.2 .1h.7m3-.2h.7m1 0h.7m-.1-.1h.7m2.4 .2h.7m.4-.2h.7m1.5-.1h.7m4.9 .3h.7m-33.4 .2h.7m3.7 .2h.7m14.7 0h.7m-.6 .1h.7m-.3 .1h.7m-.6-.1h.7m-.4 0h.7m.5-.2h.7m-.6 0h.7m.3-.1h.7m-.2 .2h.7m.4 .2h.7m2-.2h.7m-30.2 .7h.7m9 0h.7m4.2-.3h.7m1.9 0h.7m-.6 0h.7m4 0h.7m.9-.1h.7m0 .2h.7m0 .2h.7m-19.2 .4h.7m4.5 .1h.7m8.1-.1h.7m-.1-.3h.7m-.1 .4h.7m0-.4h.7m-.5 0h.7m.5 .1h.7m-.4 .2h.7m.1-.1h.7m-.5 .1h.7m.2-.3h.7m1 .4h.7m-14.8 .5h.7m-.3-.2h.7m-.2 0h.7m4.5 0h.7m.2-.1h.7m3.2 0h.7m1.9 .1h.7m.5 .1h.7m-24.6 .3h.7m2 .3h.7m4.4-.2h.7m1.5 0h.7m4 .1h.7m-.1 .1h.7m-.5-.3h.7m1.2 .2h.7m0 .1h.7m.3-.2h.7m-.2 .2h.7m1.6-.3h.7m-17.4 .6h.7m4.9-.2h.7m0 .2h.7m4.1-.2h.7m-.5 .4h.7m.1 0h.7m2-.3h.7m-12.1 .4h.7m1 .2h.7m.1 .2h.7m1.9-.4h.7m3.3 .3h.7m32.3-.2h.7m-48.3 .7h.7m2-.2h.7m5.4 0h.7m3.2 .2h.7m0-.1h.7m-.6 .2h.7m.3-.1h.7m-.1-.1h.7m1.1 0h.7m-16.8 .3h.7m-.2 .1h.7m2.9 .3h.7m1.2-.1h.7m1 .1h.7m0 0h.7m5.6-.4h.7m1.6 .1h.7m-.7 .1h.7m-.6 .2h.7m3.1-.3h.7m-22.2 .8h.7m2.6 0h.7m-.4-.2h.7m2.3-.2h.7m3.3 0h.7m-.6 .1h.7m1.3-.1h.7m2.5 .1h.7m1.1 .2h.7m-18.6 .3h.7m11.4 .3h.7m0-.3h.7m0 .1h.7m.1 .1h.7m.3-.1h.7m-18.1 .3h.7m13 .1h.7m2.5 .1h.7m.3-.2h.7m.7 .3h.7m-.3-.2h.7m-.2 0h.7m2.3 .3h.7m1 0h.7m2.5-.2h.7m-21 .3h.7m2.8 .2h.7m.7-.2h.7m.1 .3h.7m-.4-.2h.7m3.4 .2h.7m-.1-.1h.7m-.3-.1h.7m-28.3 .8h.7m.6-.2h.7m-.7-.2h.7m3.7 .1h.7m7.1 .3h.7m1.1-.4h.7m.4 .2h.7m6 .2h.7m.3 0h.7m3.7-.2h.7m-30.5 .7h.7m14.3 0h.7m-.2-.3h.7m8.2 .2h.7m0-.3h.7m-11.7 .9h.7m1.7-.3h.7m3.3 .3h.7m.5-.1h.7m.6 0h.7m-.2-.2h.7m2.4 .2h.7m-.5-.3h.7m12.6 .1h.7m-26.7 .6h.7m2.4 .2h.7m1.1-.4h.7m5.2 .1h.7m-.7 .2h.7m2.6-.1h.7m0-.2h.7m.1 .4h.7m-6.8 .2h.7m.6 0h.7m-18.7 .5h.7m11.1 0h.7m3.5 .1h.7m.2-.2h.7m-.6 .4h.7m.2-.4h.7m2.6 .4h.7m.9-.1h.7m-23.3 .3h.7m2.9 0h.7m2.1 .3h.7m3.8-.2h.7m4.5-.1h.7m8.3 .2h.7m1.5-.2h.7m-28.9 .5h.7m5 .4h.7m5.8 0h.7m5.4 .4h.7m-16.4 .1h.7m2.3 .1h.7m1.8 .2h.7m4.2 .1h.7m-9.3 .5h.7m.9-.2h.7m24.8-.1h.7m-30.8 .7h.7m1.1 0h.7m4.6-.3h.7m3.5 .3h.7m.2-.2h.7m.3 .3h.7m.7 0h.7m12.3-.4h.7m-26.2 .8h.7m3.3 .1h.7m4.5-.2h.7m4.2 .2h.7m4.9-.1h.7m-.1 0h.7m2.5-.1h.7m3.9 .2h.7m7.7-.2h.7m-44.2 .7h.7m9.8-.2h.7m.4-.2h.7m-.2 0h.7m6.1 .1h.7m20.3-.1h.7m14.2 .1h.7m-54.8 .4h.7m-.5 .4h.7m5.2-.2h.7m-.3 .1h.7m7.4 .1h.7m-.2-.3h.7m-.3 .3h.7m1.5-.2h.7m-.5-.2h.7m-.7 .1h.7m3.1 .2h.7m.3 0h.7m-18.3 .5h.7m8.6-.3h.7m4 0h.7m1.5 .4h.7m5.9-.2h.7m2.1 .2h.7m1.1-.2h.7m-21.8 .5h.7m-12.5 .7h.7m.9 0h.7m.7-.3h.7m6.4 0h.7m0-.1h.7m.6 .3h.7m2-.1h.7m.3 0h.7m-.6-.2h.7m.1 .2h.7m.2 0h.7m-.2-.2h.7m3.3 .4h.7m3.9-.3h.7m26.2 0h.7m-47.1 .5h.7m3.2 .2h.7m4.3-.1h.7m-1 .3h.7m.4 .4h.7m2.2 0h.7m28-.2h.7m-41.5 .6h.7m7.2 0h.7m2.7-.3h.7m-.2 .2h.7m.7 0h.7m2.3 .2h.7m-12.8 .3h.7m.9 .2h.7m6.5-.4h.7m1.2 0h.7m-28.8 .7h.7m9.4 .1h.7m12-.3h.7m1.3 .4h.7m-13.3 .2h.7m.9 .2h.7m2.3 .1h.7m3.8-.4h.7m-15.6 .6h.7m7.2 0h.7m7.1 .3h.7m.5-.3h.7m11.9 .2h.7m17.4-.3h.7m5.9 .4h.7m-46.6 .5h.7m19.4-.4h.7m.5 0h.7m5.2 .2h.7m-33.4 .4h.7m2.3 .1h.7m7.7-.2h.7m-.3 .4h.7m5.9 0h.7m3.6-.3h.7m-14.9 .8h.7m.5-.1h.7m2.3-.3h.7m1.2 .2h.7m4.1 .2h.7m-14.8 .3h.7m2.8 .2h.7m3.7-.4h.7m.2 .1h.7m-.1-.1h.7m1.4 0h.7m14.2 0h.7m-33 .7h.7m1.2 .2h.7m2.5-.4h.7m7.3 .4h.7m0-.4h.7m4.8 .1h.7m11.1 .2h.7m-35.7 .3h.7m7.4 0h.7m15.3 .2h.7m-.3 0h.7m13-.3h.7m4.5 .3h.7m-46 .6h.7m13-.4h.7m1.5 .2h.7m.5-.1h.7m.2 .1h.7m1.4 0h.7m-17.9 .7h.7m30-.2h.7m-34 .4h.7m2.4 .1h.7m7.8 0h.7m.4-.2h.7m2.7 .1h.7m.4 .2h.7m1 .1h.7m1.7 0h.7m1-.4h.7m.4 .4h.7m2.3-.3h.7m18.8 .3h.7m-41 .2h.7m8.1 .1h.7m3.3-.2h.7m-11.4 .9h.7m9.9-.1h.7m-.3 0h.7m6.4-.3h.7m-8.2 .7h.7m4.7-.2h.7m-17.8 .7h.7m-.5 0h.7m.4 .2h.7m4.7-.1h.7m2.7-.1h.7m5.8 .1h.7m-13.1 .4h.7m9.9 .2h.7m30.9-.1h.7m-50.6 .5h.7m4.8 .5h.7m9.8-.1h.7m8.7 .1h.7m-5.7 .6h.7m16.3 0h.7m-20 .3h.7m6.3 .1h.7m4.2-.1h.7m4.7 .2h.7m-35.1 .3h.7m12 0h.7m5.3 .1h.7m1.3-.1h.7m-8.6 .3h.7m7.4 .3h.7m-2.6 .5h.7m10.9-.2h.7m-29.2 .7h.7m.6-.1h.7m24.6-.2h.7m15.8 .3h.7m-44.1 .2h.7m9.5 .4h.7m1.5-.3h.7m-.1 0h.7m.4 .1h.7m20 .9h.7m-25.7 .8h.7m.9 .2h.7m14.2 .3h.7m-21.1 .2h.7m8.6 .3h.7m-12.4 .4h.7m6.3-.3h.7m13.5 .3h.7m3.4-.1h.7m-19.6 1.7h.7m21.6-.3h.7m-25.3 .5h.7m18.1-.1h.7" stroke="#000" stroke-width=".7" opacity="0.4" fill="none" filter="url(#bl)"/></g><rect x="105.6" y="54.4" width="64" height="49.6" fill="none" stroke="#9a9a9a" stroke-width="0.9"/><path d="M105.6 104v1.6M105.6 104h-1.6M121.6 104v1.6M105.6 91.6h-1.6M137.6 104v1.6M105.6 79.2h-1.6M153.6 104v1.6M105.6 66.8h-1.6M169.6 104v1.6M105.6 54.4h-1.6" stroke="#999" stroke-width=".6" fill="none"/><rect x="126" y="54.4" width="27.5" height="21.9" fill="none" stroke="#a0a0a0" stroke-width="0.75"/><path d="M147.7 63.2l3.4 -2.2v1.35h2.6v1.7h-2.6v1.35z" fill="#000"/><text x="155" y="66.2">3.4</text><clipPath id="c2"><rect x="179.6" y="54.4" width="63.4" height="49.6"/></clipPath><g clip-path="url(#c2)"><ellipse cx="191.3" cy="79.5" rx="5.8" ry="5.8" fill="url(#g)" opacity="0.7"/><ellipse cx="189.5" cy="84" rx="10" ry="22" fill="url(#g)" opacity="0.15"/><path d="M193.3 55.5h.7m-9.1 .6h.7m.8-.1h.7m1.6 .2h.7m6.2 .4h.7m-7.1 .4h.7m-1.1 .5h.7m.1 .1h.7m-2.1 1.1h.7m-.3-.3h.7m1.7 .3h.7m4.6-.3h.7m-13.8 .4h.7m1.6 .1h.7m-.3 .1h.7m.2-.1h.7m3.3-.1h.7m1.8 .2h.7m2.4-.2h.7m-16.5 .9h.7m5.6-.4h.7m.1 .1h.7m4 .2h.7m.4-.3h.7m-5.6 .5h.7m4.8 0h.7m0 .3h.7m.4-.2h.7m0 .2h.7m-3.8 .5h.7m1.2 .1h.7m-14.7 .5h.7m8.9-.2h.7m9.3 .1h.7m-14 .5h.7m3.5-.1h.7m5.8-.2h.7m-17.4 .6h.7m1.2 0h.7m.2 .1h.7m-.3 0h.7m1-.1h.7m.3 0h.7m4.7 .1h.7m-11.8 .7h.7m3.4-.1h.7m3.2-.3h.7m-.3 .4h.7m1.2-.4h.7m-.6 0h.7m8.6 .3h.7m-20.7 .6h.7m5.2-.3h.7m.2-.1h.7m2.5 .3h.7m-7.8 .6h.7m3.7-.4h.7m5 .1h.7m.7 .2h.7m-15.9 .4h.7m9.3 0h.7m.6 .1h.7m9-.3h.7m-14.8 .5h.7m.7 0h.7m1.9 .2h.7m1.4 .1h.7m-.2-.1h.7m2.3 0h.7m-15.9 .6h.7m3.9-.1h.7m2 .1h.7m4.3 0h.7m-10.2 .5h.7m1.9-.1h.7m.6 .2h.7m.8-.4h.7m3.9 .1h.7m-13.1 .8h.7m.1-.3h.7m1 .3h.7m4-.3h.7m.6 .1h.7m-.4-.1h.7m1.6 .2h.7m-.7 .1h.7m1.7-.2h.7m-14.3 .6h.7m5.1-.1h.7m3.4-.1h.7m4.6-.1h.7m-12.4 .8h.7m-.3-.1h.7m.5-.1h.7m-.1 .1h.7m1.5 .2h.7m3.9-.2h.7m1.7 0h.7m-16 .4h.7m5.1 0h.7m-.3 .3h.7m1-.2h.7m6.3-.1h.7m.2 0h.7m-15.8 .4h.7m2 .4h.7m.8-.1h.7m-.1-.2h.7m2.9-.1h.7m-.5 .4h.7m-.6-.3h.7m4.2 .3h.7m-.6-.3h.7m-12.7 .7h.7m2.7-.1h.7m-.3 .2h.7m-.5-.4h.7m-.5 0h.7m.4 .1h.7m2.1 0h.7m.2 .3h.7m-.2 0h.7m.7 0h.7m-13.7 .5h.7m2.1-.1h.7m.6-.2h.7m2.5 .3h.7m.2-.1h.7m1.2 0h.7m-.4-.2h.7m-.7-.1h.7m1.4 .4h.7m-11.4 .1h.7m1.6 0h.7m.4 .2h.7m2.5 0h.7m2.3 .2h.7m.2-.3h.7m-6.6 .4h.7m-.3 .4h.7m1.1-.2h.7m3.1 .1h.7m-12.7 .3h.7m1.2 .2h.7m.5 0h.7m4.3-.3h.7m.1 .3h.7m1.7-.2h.7m2.2 0h.7m-14.2 .7h.7m.8 0h.7m2.1-.1h.7m-.3 0h.7m.3-.1h.7m4.5 0h.7m-8.7 .6h.7m1.2 .2h.7m-.3-.4h.7m.9 .1h.7m.5-.1h.7m.3 .3h.7m.5 .1h.7m5.7-.3h.7m-13.1 .8h.7m.6-.2h.7m.7-.1h.7m-4.5 .5h.7m-.7 .1h.7m1 .2h.7m.1-.3h.7m-.1-.1h.7m-.4 .4h.7m1.4 0h.7m1.6-.4h.7m-10.4 .7h.7m0 .2h.7m-.1-.2h.7m.4 0h.7m1.8-.2h.7m-.6 .2h.7m.6-.1h.7m.7-.1h.7m2 .3h.7m-.2 0h.7m-12.8 .3h.7m-.2 .3h.7m1-.4h.7m.5 .3h.7m-.4 0h.7m0-.2h.7m.2 .1h.7m-.5-.1h.7m-.5 0h.7m-.3 .3h.7m-.5 0h.7m.6-.3h.7m-.6 .2h.7m-.6 0h.7m-.3 .1h.7m-.1-.4h.7m3.9 0h.7m1.5 .3h.7m-16.7 .6h.7m1.3 0h.7m.5-.3h.7m1.2 .3h.7m-.6-.2h.7m.1-.1h.7m2.5 .1h.7m0 .2h.7m.3-.2h.7m-.2-.1h.7m-12.3 .6h.7m1.6-.1h.7m.9 .2h.7m.4-.1h.7m0 0h.7m-.1 .2h.7m-.6-.4h.7m-.6 .2h.7m-.5-.2h.7m-.4 .4h.7m-.3-.2h.7m-.2 0h.7m-.2 .1h.7m-.2-.2h.7m-.6 .1h.7m-.5 .2h.7m-.2-.1h.7m-.5-.2h.7m0 .2h.7m-.3-.3h.7m-.5 .4h.7m-.7-.4h.7m0 .3h.7m.6 .1h.7m-16 .3h.7m2.4-.1h.7m.2 0h.7m-.4 .1h.7m-.4-.1h.7m.1-.1h.7m.1 .4h.7m-.7-.4h.7m.6 .3h.7m.9-.1h.7m-.4 0h.7m-.5-.1h.7m-.5 .2h.7m-.1-.2h.7m-.5 .1h.7m-.3 .2h.7m-.4-.3h.7m-.5 .1h.7m-.4 .2h.7m1-.1h.7m3.7 .1h.7m-16 .1h.7m2 .4h.7m-.2-.3h.7m.1 .2h.7m-.5-.1h.7m-.3-.1h.7m-.2-.1h.7m.1 0h.7m-.6 .3h.7m0-.2h.7m.1 .3h.7m.1-.2h.7m-.7-.2h.7m-.7 .1h.7m-.3 .3h.7m.1-.4h.7m-.4 .2h.7m-.1 0h.7m-.5-.1h.7m-.2 .2h.7m-.5-.1h.7m-.3-.2h.7m-.5 .1h.7m-14.6 .7h.7m-.2 0h.7m.5 0h.7m.8-.3h.7m-.3 0h.7m1.3 .4h.7m0-.1h.7m-.5 0h.7m-.6-.1h.7m0 .2h.7m-.4-.3h.7m-.7 .2h.7m-.5-.1h.7m-.6-.2h.7m-.2 .2h.7m-.6 .2h.7m-.5 0h.7m-.6-.3h.7m-.6 0h.7m-.6 .3h.7m-.5-.3h.7m.4 .3h.7m-.6-.4h.7m-.2 .1h.7m-.5-.1h.7m-.5 .3h.7m-.7-.3h.7m-.1 .4h.7m-.5 0h.7m-.5-.3h.7m.2-.1h.7m.6 .4h.7m-.2 0h.7m-.2-.3h.7m-12 .5h.7m.1 .3h.7m-.3-.4h.7m-.2 .2h.7m-.6 .1h.7m.2 0h.7m-.3 0h.7m-.5 .1h.7m0-.3h.7m-.4 .1h.7m-.6 0h.7m-.2-.1h.7m-.4 .1h.7m-.6 .1h.7m-.2-.1h.7m-.3 .2h.7m-.7-.4h.7m-.5 .1h.7m-.6 0h.7m-.7-.1h.7m-.2 .3h.7m-.4 0h.7m-.7-.2h.7m.3 0h.7m-.3 .1h.7m2-.2h.7m.3 .1h.7m.4 .2h.7m.3-.2h.7m-14.9 .7h.7m-.3 0h.7m-.1 0h.7m-.7 0h.7m0-.1h.7m-.5-.2h.7m.3 .2h.7m-.3-.2h.7m-.7 .4h.7m-.5-.2h.7m-.7-.2h.7m-.3 .3h.7m-.6 0h.7m-.7-.1h.7m-.5-.1h.7m-.7-.1h.7m-.3 0h.7m-.3 .1h.7m-.6 .2h.7m-.7 .1h.7m-.6 0h.7m-.3-.2h.7m-.6 0h.7m-.6 0h.7m-.6 .1h.7m-.7 0h.7m-.5 0h.7m-.7 .1h.7m-.6-.3h.7m-.2-.1h.7m-.6 .4h.7m-.3-.4h.7m.8 .1h.7m.1 .1h.7m-.4-.1h.7m-.6 .1h.7m-.7 .1h.7m-.1-.3h.7m-.4 .4h.7m-.3-.3h.7m0-.1h.7m-.7 .4h.7m-18 .3h.7m4 0h.7m1.2-.2h.7m-.6 0h.7m-.6 .2h.7m-.1-.2h.7m-.7 .3h.7m-.2-.1h.7m-.5 0h.7m-.5-.1h.7m.3 .3h.7m-.3-.3h.7m-.6 0h.7m-.6 .2h.7m-.4-.2h.7m-.3 0h.7m-.6 .2h.7m-.7-.2h.7m-.6 .1h.7m-.3 0h.7m-.5-.1h.7m-.5 .3h.7m-.7-.1h.7m-.7-.1h.7m-.4-.2h.7m-.7 .3h.7m-.6 .1h.7m-.3-.3h.7m-.3-.1h.7m-.6 .1h.7m-.7 .3h.7m-.6-.1h.7m.2 0h.7m-.3-.1h.7m.2 .1h.7m-.6-.1h.7m-.4-.1h.7m-10.1 .6h.7m-.7-.1h.7m-.3 .1h.7m-.6 0h.7m0 .2h.7m-.7 0h.7m-.1-.2h.7m-.6-.2h.7m-.6 .2h.7m-.6 0h.7m-.6-.1h.7m-.2 .3h.7m-.5-.2h.7m-.6-.1h.7m-.7 .3h.7m-.5-.4h.7m-.6 .4h.7m-.6 0h.7m-.6 0h.7m-.6 0h.7m-.7-.4h.7m-.6 .3h.7m-.6-.3h.7m-.4 .1h.7m-.3 .2h.7m-.6 .1h.7m-.3 0h.7m-.6 0h.7m-.6-.2h.7m-.6-.1h.7m-.3 .1h.7m-.5 0h.7m-.6 .1h.7m-.7-.3h.7m-.5 .3h.7m-.7 0h.7m-.7-.2h.7m-.5 .2h.7m-.7 0h.7m-.7-.3h.7m-.7 .3h.7m-.4-.2h.7m-.3 0h.7m-.5 .2h.7m-.6-.2h.7m-.6 .1h.7m-.4-.1h.7m-.5 .2h.7m-.4 0h.7m.2 0h.7m-15.7 .3h.7m2.2-.1h.7m-.4 0h.7m.2 .2h.7m.3-.2h.7m.6 .3h.7m-.7 0h.7m-.4 .1h.7m-.5-.1h.7m-.3 .1h.7m-.1 0h.7m-.6-.1h.7m-.4-.1h.7m-.5 0h.7m-.6 .2h.7m-.5-.1h.7m-.7 .1h.7m-.7 0h.7m-.4 0h.7m-.6-.4h.7m-.6 .4h.7m-.5 0h.7m-.7-.3h.7m-.7 .1h.7m-.7 .2h.7m-.6-.4h.7m-.5 .1h.7m-.2 .1h.7m-.6-.2h.7m-.6 .3h.7m-.6 0h.7m-.4 .1h.7m-.5-.4h.7m-.6 .3h.7m-.4-.3h.7m-.5 0h.7m-.5 0h.7m-.4 .1h.7m-.6 .1h.7m-.6-.1h.7m-.6-.1h.7m-.7 .3h.7m-.5-.2h.7m-.6-.1h.7m-.5 .4h.7m-.7 0h.7m-.6-.2h.7m.4 .1h.7m-.4-.2h.7m-.1 0h.7m-.4 .1h.7m.9-.1h.7m1.6-.1h.7m-17.9 .6h.7m4.1-.1h.7m.1 0h.7m-.7 .3h.7m-.6 .1h.7m-.5-.4h.7m-.6 .2h.7m-.6 .2h.7m-.2-.2h.7m-.5 .2h.7m-.7-.4h.7m-.6 .4h.7m-.6-.2h.7m-.5-.1h.7m-.5 .3h.7m-.5-.3h.7m-.6-.1h.7m-.6 .2h.7m-.6 0h.7m-.6 .2h.7m-.1-.4h.7m-.4 .2h.7m-.7 .1h.7m-.6-.3h.7m-.7 0h.7m-.6 0h.7m-.7 .3h.7m-.5-.1h.7m-.6-.2h.7m-.7 .2h.7m-.6 .2h.7m-.6-.3h.7m-.7 .3h.7m-.5-.1h.7m-.5-.1h.7m-.7 .2h.7m-.6-.2h.7m-.5 0h.7m-.7 .2h.7m-.7-.4h.7m-.3 .2h.7m-.5-.2h.7m-.7 .3h.7m-.6-.1h.7m-.7-.1h.7m-.7-.1h.7m-.7 .4h.7m-.5 0h.7m.5-.4h.7m.9 .3h.7m-.6-.3h.7m.1 .3h.7m-15.6 .6h.7m-.6-.3h.7m1.8 .2h.7m-.6-.1h.7m-.3 0h.7m-.5-.1h.7m-.3-.1h.7m-.6 .1h.7m-.4 0h.7m-.4 .1h.7m.1-.2h.7m-.6 0h.7m-.7 .3h.7m-.5-.3h.7m-.5 .3h.7m-.7 .1h.7m-.7 0h.7m-.4-.1h.7m-.6-.3h.7m-.6 .1h.7m-.7-.1h.7m-.5 .3h.7m-.6 0h.7m-.5-.1h.7m-.6-.2h.7m-.6 .1h.7m-.7-.1h.7m-.7 .1h.7m-.7-.1h.7m.1 .3h.7m-.4-.3h.7m-.7 .3h.7m-.4-.1h.7m-.7 .1h.7m-.6 .1h.7m-.4-.1h.7m-.6-.1h.7m-.7-.1h.7m-.5 .1h.7m-.6 0h.7m-.7 .1h.7m-.4 0h.7m-.5-.3h.7m-.4 .4h.7m-.6-.4h.7m-.5 .2h.7m-.7-.1h.7m-.3 .1h.7m-.5 .2h.7m-.7-.4h.7m-.7 .4h.7m-.5-.2h.7m-.5 .1h.7m-.6-.3h.7m-.6 0h.7m-.6 0h.7m.1 .1h.7m-.2-.1h.7m-.3 .3h.7m-.1-.1h.7m-13.4 .3h.7m.3 0h.7m.2 0h.7m-.2 .4h.7m.3-.2h.7m-.5-.1h.7m-.4 .3h.7m0-.1h.7m-.6-.3h.7m-.5 .1h.7m-.2 .3h.7m-.6-.4h.7m-.5 .1h.7m-.5 .3h.7m.1-.3h.7m-.6 .2h.7m-.5-.3h.7m-.7 .4h.7m-.7-.4h.7m-.6 .1h.7m-.7 0h.7m-.6 .3h.7m-.6-.1h.7m-.6-.2h.7m-.6 .1h.7m-.1 0h.7m-.7 .1h.7m-.5-.1h.7m-.7-.2h.7m-.7 .4h.7m-.3-.3h.7m-.6 .2h.7m-.5-.1h.7m-.5-.1h.7m-.5 .2h.7m-.7-.3h.7m-.4 .1h.7m-.7 .1h.7m-.5-.2h.7m-.6 .1h.7m-.5 0h.7m-.7-.1h.7m-.5 .1h.7m-.7 .1h.7m.2 .1h.7m-.5 0h.7m-.6 .1h.7m.4-.2h.7m-.5 .1h.7m-.1 .1h.7m-15.5 .5h.7m0-.1h.7m1.1-.1h.7m.5-.1h.7m0 .2h.7m-.5 .1h.7m-.1-.3h.7m-.7 .1h.7m-.6 .2h.7m-.7-.3h.7m-.3 .2h.7m-.6 0h.7m-.5-.1h.7m-.6 .1h.7m-.6 0h.7m-.3-.2h.7m-.5 .1h.7m-.7-.2h.7m-.5 0h.7m-.4 .2h.7m-.6-.2h.7m-.7 .3h.7m-.4 0h.7m-.7-.1h.7m-.4 .2h.7m-.7 0h.7m-.4 0h.7m-.6 0h.7m-.5 0h.7m-.7 0h.7m-.5 0h.7m-.7-.4h.7m-.2 .2h.7m-.4 .1h.7m-.6 0h.7m-.3-.1h.7m-.7-.2h.7m-.4 .3h.7m0-.1h.7m-.7 0h.7m-.4-.2h.7m-.5 .1h.7m.3 .3h.7m-.6-.3h.7m-.5 .1h.7m-.6 .1h.7m-.6-.3h.7m-.1 0h.7m.8 .4h.7m-16.5 .4h.7m1.5-.1h.7m-.6-.1h.7m0 .2h.7m.6-.1h.7m-.7-.1h.7m-.3 .3h.7m-.3-.1h.7m-.3 .1h.7m.5 0h.7m-.5-.4h.7m-.2 .3h.7m-.5 .1h.7m-.7-.2h.7m-.3 .1h.7m-.7-.3h.7m-.3 .1h.7m-.7 .3h.7m-.7-.2h.7m-.6-.2h.7m-.3 .3h.7m-.6-.2h.7m-.6-.1h.7m-.7 .1h.7m-.3 0h.7m-.6 .2h.7m-.4 .1h.7m-.6-.2h.7m-.2 0h.7m-.7-.1h.7m-.2 0h.7m-.7-.1h.7m-.6 .3h.7m-.6 .1h.7m-.7-.2h.7m-.6 0h.7m-.6 0h.7m-.6 0h.7m-.5 .2h.7m-.6-.2h.7m-.3 0h.7m-.6 0h.7m-.2 .2h.7m-.7-.2h.7m1.9 .1h.7m-17.2 .5h.7m-.1 .1h.7m-.1 0h.7m2.3-.4h.7m-.2 .4h.7m-.1-.4h.7m-.5 .1h.7m-.6 .1h.7m-.7-.1h.7m-.3-.1h.7m-.7 .1h.7m.6 0h.7m-.4 .3h.7m-.5-.1h.7m-.2 0h.7m-.7 0h.7m-.2-.1h.7m-.2 .1h.7m-.4 .1h.7m-.6 0h.7m-.7-.1h.7m-.3 0h.7m-.5 .1h.7m-.6 0h.7m-.5-.2h.7m-.2-.1h.7m-.6 .1h.7m-.7 0h.7m-.4 0h.7m-.4-.2h.7m-.7 .1h.7m-.6-.1h.7m-.4 .3h.7m-.4-.3h.7m-.5 .2h.7m-.1 .2h.7m.2 0h.7m-.6 0h.7m1-.4h.7m-.3 0h.7m-14.1 .7h.7m-.5 .2h.7m1.2-.1h.7m0 0h.7m-.6 0h.7m-.1 0h.7m-.3 0h.7m-.7-.2h.7m-.2 0h.7m-.3 .3h.7m-.3-.3h.7m-.6-.1h.7m-.6 .1h.7m-.5 0h.7m-.5 .2h.7m-.5-.3h.7m-.4 .3h.7m-.6-.1h.7m-.4-.2h.7m-.4 0h.7m-.3 .1h.7m-.6 .1h.7m-.2-.2h.7m-.5 .3h.7m-.6-.1h.7m-.5 .2h.7m-.3-.1h.7m-.3 .1h.7m-.6-.4h.7m-.4 0h.7m-.4 .2h.7m-.7 .1h.7m-.5 0h.7m-.3-.2h.7m-.6-.1h.7m-.7 .2h.7m-.7 .2h.7m-.6-.1h.7m0 .1h.7m-.2 0h.7m1.6-.2h.7m-14.5 .5h.7m.3-.2h.7m.6 .1h.7m-.2 .3h.7m-.4-.1h.7m-.5-.1h.7m-.6 .1h.7m-.3-.3h.7m.1 .1h.7m-.2 .3h.7m-.3-.1h.7m-.6 .1h.7m-.6-.4h.7m-.5 .3h.7m-.6-.2h.7m-.2 0h.7m-.2-.1h.7m-.3 .2h.7m-.2 .1h.7m0 .1h.7m-.6-.2h.7m.1-.1h.7m-.4-.1h.7m-.4 .3h.7m-.7 .1h.7m-.5-.4h.7m.5 0h.7m.4 0h.7m-.6 .3h.7m1.2 0h.7m5 0h.7m-22.1 .2h.7m.4 .4h.7m-.6 0h.7m-.1-.1h.7m-.2 0h.7m-.6-.1h.7m-.5 0h.7m-.1-.2h.7m.1 0h.7m-.6 .4h.7m-.5-.2h.7m-.5 .2h.7m-.6 0h.7m-.6-.2h.7m-.6 .2h.7m-.7-.4h.7m-.3 .3h.7m-.2-.1h.7m-.3 .2h.7m-.6-.2h.7m-.6-.1h.7m-.7 .2h.7m-.6 0h.7m-.4 0h.7m-.6-.3h.7m-.7 .2h.7m-.6 0h.7m.3 0h.7m-.7 .1h.7m-.6-.3h.7m-.7 .4h.7m-.6-.1h.7m-.6 .1h.7m-.4-.1h.7m-.4 .1h.7m-.5-.2h.7m-.4 0h.7m-.5-.2h.7m-.5 .4h.7m.9-.2h.7m-.6 .1h.7m0-.3h.7m-.1 .3h.7m-.3 0h.7m-.5-.3h.7m2.7 .3h.7m-16.9 .6h.7m1-.4h.7m-.5 .2h.7m1.1 .2h.7m-.6-.3h.7m-.1 .3h.7m-.4-.2h.7m-.7 .2h.7m-.5-.3h.7m-.2-.1h.7m-.4 .2h.7m-.7-.2h.7m-.6 .3h.7m-.5-.3h.7m-.1 .3h.7m-.6 0h.7m-.6 0h.7m0-.3h.7m-.7 .1h.7m-.3 .1h.7m-.1 0h.7m-.6 .2h.7m-.6-.2h.7m-.7-.2h.7m-.5 .4h.7m-.6 0h.7m-.4-.3h.7m-.6 .3h.7m-.3-.4h.7m0 0h.7m-.1 .2h.7m-.5-.2h.7m0 .2h.7m2.1 .2h.7m-17.6 .5h.7m.2-.3h.7m.1 .3h.7m-.4-.2h.7m-.4-.2h.7m-.7 .4h.7m-.5-.1h.7m-.5-.1h.7m.7-.1h.7m-.7 0h.7m-.1 0h.7m-.3 0h.7m-.1 .3h.7m-.7-.3h.7m.3-.1h.7m0 0h.7m-.5 .2h.7m-.6 .2h.7m-.3-.3h.7m-.6 0h.7m-.3 .3h.7m0-.4h.7m-.7 .4h.7m0-.2h.7m-.6 0h.7m-.4 .2h.7m-.6 0h.7m-.5-.1h.7m-.5-.2h.7m.2 0h.7m.5-.1h.7m-.5 .2h.7m-.4-.1h.7m-.4-.1h.7m.3 .1h.7m-12.8 .4h.7m.5 .3h.7m-.3-.3h.7m-.1 .3h.7m-.2-.1h.7m-.6 .1h.7m.3 0h.7m-.5-.3h.7m-.4 .2h.7m-.7-.1h.7m.3 .3h.7m.2-.2h.7m-.6 .1h.7m-.5-.3h.7m-.4 .2h.7m-.6-.1h.7m-.7-.1h.7m-.6 .3h.7m-.4 0h.7m-.3-.1h.7m-.4-.1h.7m-.3 0h.7m.4-.1h.7m0 .3h.7m-.4 0h.7m2.8-.2h.7m-15.3 .5h.7m.8 .1h.7m1.1 .1h.7m-.1-.3h.7m-.5 .1h.7m-.7 .2h.7m-.6-.2h.7m-.2-.1h.7m-.5 .2h.7m.4 .1h.7m-.4 .1h.7m-.1-.3h.7m-.6 .1h.7m-.5-.2h.7m-.6 .2h.7m-.3 .2h.7m-.4-.2h.7m-.4 .1h.7m-.6 .1h.7m-.6-.1h.7m-.6 .1h.7m-.3-.3h.7m-.4 .2h.7m-.4-.1h.7m0-.2h.7m-.4 .1h.7m.7 .3h.7m.6 0h.7m-15.7 .4h.7m2 .1h.7m-.4-.2h.7m.8 0h.7m.3-.1h.7m-.4 .3h.7m.3-.4h.7m-.5 .2h.7m-.7-.2h.7m-.5 .4h.7m.5-.2h.7m1.1 0h.7m-.4-.2h.7m-.2 .1h.7m.4 .1h.7m0 0h.7m.6 0h.7m-13 .3h.7m-.5 .2h.7m2.4-.1h.7m-.6-.1h.7m1.7 .3h.7m-.4-.2h.7m-.6 0h.7m-.6 0h.7m1.6 .3h.7m-.4-.2h.7m-.6-.1h.7m-.6 .2h.7m-.1 .1h.7m-.6-.1h.7m2.1-.2h.7m-16.2 .4h.7m5.2 .1h.7m-.3 0h.7m-.5 .2h.7m-.6-.3h.7m-.5 .2h.7m-.6-.1h.7m-.4-.1h.7m.8 .1h.7m-.6 .1h.7m-.4-.2h.7m.1 0h.7m-.3 .1h.7m-.7 0h.7m1.4 0h.7m1.8 .3h.7m-11.5 .2h.7m0-.1h.7m.7 .3h.7m.7 .1h.7m-.7-.4h.7m0 0h.7m-.6 .3h.7m.1-.1h.7m-.2-.2h.7m-.5 .3h.7m1-.2h.7m1 .2h.7m2.2-.2h.7m-17.8 .6h.7m2.1 .1h.7m.5-.3h.7m-.6 0h.7m1.2 .1h.7m-.1 0h.7m0 0h.7m0 .2h.7m-.3-.3h.7m-.7 .3h.7m-.6-.3h.7m1.7 0h.7m-.7 .2h.7m-.6-.2h.7m.5 .2h.7m.5-.1h.7m-.5 0h.7m2.7-.1h.7m-14.4 .6h.7m.5-.1h.7m.4 .2h.7m1.7 .1h.7m-.6-.1h.7m-.6 0h.7m-.5 .1h.7m1 .1h.7m2.9-.4h.7m.6 0h.7m1.6 .3h.7m-14.8 .5h.7m.3-.3h.7m3.4 .3h.7m-.1-.2h.7m.9 .1h.7m-.7-.2h.7m-.3 0h.7m1 .1h.7m1.4 .3h.7m-.2 0h.7m-.1-.3h.7m-12.5 .5h.7m.3 .2h.7m2.8-.1h.7m2.2-.1h.7m.8 .3h.7m3.2-.1h.7m1.6-.2h.7m-14.6 .8h.7m-.4-.4h.7m1.5 .2h.7m-.5-.2h.7m-.3 .4h.7m-.6-.3h.7m-.1 .1h.7m-.1 .1h.7m.3-.2h.7m0 .3h.7m-.6-.3h.7m.2 .3h.7m-.2-.1h.7m-.5 .1h.7m1.7-.1h.7m-12.1 .3h.7m-.7 .3h.7m.4-.1h.7m-.4-.1h.7m.4-.1h.7m.3 .3h.7m-.4-.4h.7m-.6 .1h.7m-.4 0h.7m-.6-.1h.7m-.2 .2h.7m.4 0h.7m-.6 0h.7m-.6 .1h.7m-.1 0h.7m-.4-.1h.7m-.4 0h.7m2 0h.7m.8-.2h.7m.5 .1h.7m-14.2 .6h.7m.3-.2h.7m3.9 0h.7m-.5 .4h.7m-.5-.3h.7m1.4 .3h.7m-8 .5h.7m-.2-.4h.7m1.7 .3h.7m-.7 0h.7m.6-.3h.7m.2 .2h.7m1.8 .2h.7m-.5-.3h.7m-.2 0h.7m.1-.1h.7m-.5 .1h.7m-.1 .1h.7m-.1 .1h.7m.2-.1h.7m-16 .5h.7m4.4 0h.7m-.4 .2h.7m.9 0h.7m-.2 0h.7m-.6-.4h.7m2.1 .3h.7m-.6-.1h.7m-.5 .1h.7m.9 0h.7m1.8 .1h.7m-11.3 .4h.7m-.5 0h.7m-.6-.3h.7m-.7 .1h.7m-.6-.1h.7m-.1 0h.7m.7 0h.7m-.5 .2h.7m.1 0h.7m.5-.1h.7m-.7 .2h.7m-.5-.2h.7m.8 0h.7m.7 .2h.7m.9 .1h.7m.6-.2h.7m-10.5 .7h.7m.4-.3h.7m-.5 .2h.7m-.6 .1h.7m.6-.4h.7m-.2 .2h.7m-.1 0h.7m-.3 .2h.7m-.6-.2h.7m-.3 0h.7m.3 0h.7m-.1-.2h.7m1.5 .3h.7m.5 0h.7m-.7 .1h.7m.5-.1h.7m-8.5 .2h.7m-.5 0h.7m1.4 0h.7m-.4 .4h.7m-.7-.1h.7m-.6 0h.7m-.6-.1h.7m-.5 .1h.7m3.3 .1h.7m-.4-.3h.7m-13 .6h.7m-.4-.2h.7m1.4 .3h.7m5 .1h.7m-.7-.1h.7m1.8-.2h.7m.2 .3h.7m-15.2 .3h.7m6.2 .2h.7m1.9-.4h.7m-.4 0h.7m-.5 0h.7m1.4 .3h.7m-.1-.1h.7m-.3-.2h.7m1.3 .3h.7m.6 .1h.7m-12.3 .2h.7m.5 .2h.7m.2 0h.7m1.2 0h.7m1.5-.1h.7m-.2 .1h.7m-.5-.3h.7m.1 0h.7m.7 .3h.7m-.4-.3h.7m-12.2 .9h.7m1.3 0h.7m0-.1h.7m.7 .1h.7m0-.1h.7m.5-.3h.7m-.1 0h.7m-.2 .2h.7m1.3 .2h.7m-.4-.2h.7m.1 0h.7m-.7-.1h.7m.8 .3h.7m-12 .3h.7m-.5-.2h.7m3 .1h.7m-.5 .3h.7m-.2 0h.7m-.2-.4h.7m-.3 .4h.7m-.7-.3h.7m-.5-.1h.7m1.2 0h.7m1 .3h.7m1.9-.1h.7m-.1 .1h.7m2-.3h.7m-13.4 .7h.7m-.4-.1h.7m.1-.1h.7m.4 .1h.7m-.5 .1h.7m3 0h.7m.9 0h.7m.6 0h.7m-13.3 .3h.7m4.1 0h.7m.8 .2h.7m9-.1h.7m-18.5 .6h.7m4-.1h.7m.6 .2h.7m.3-.3h.7m.2 .1h.7m1.4 .1h.7m-.5 .2h.7m.1-.2h.7m.5 .1h.7m3.8-.1h.7m-12.6 .3h.7m1.2 .4h.7m4.4-.2h.7m.4-.2h.7m.4 .2h.7m.2 0h.7m.9 .1h.7m-12.5 .3h.7m.4 .2h.7m1.7-.3h.7m.2 .1h.7m-.3-.1h.7m-.4 .3h.7m.1 .1h.7m-2.1 .1h.7m1.3 .2h.7m.2 0h.7m.2-.1h.7m-6 .7h.7m2.9 0h.7m.6 0h.7m-8.8 .4h.7m2.3 .1h.7m1.5-.3h.7m-.6 .1h.7m8.6 .6h.7m-13.3 .3h.7m1.6 0h.7m.4 .2h.7m-.1-.1h.7m2.7 .3h.7m-6.8 .5h.7m5.2-.1h.7m7.2 .3h.7m-21.8 .7h.7m1.2 .1h.7m.4-.3h.7m5.7-.1h.7m-5.7 .8h.7m2.5-.3h.7m.8 0h.7m.2 0h.7m1.9 .2h.7m-11.8 .7h.7m3-.1h.7m2.2 .1h.7m-.6-.4h.7m.1 0h.7m.7 0h.7m2.9 .2h.7m-13.3 .4h.7m1.1 0h.7m2.1 0h.7m.7 0h.7m.9 0h.7m2.2 0h.7" stroke="#000" stroke-width=".7" opacity="0.6" fill="none" filter="url(#bl)"/><path d="M199.5 55.2h.7m-.2-.2h.7m1.4-.1h.7m35 .8h.7m-20.1 .3h.7m-32.7 1.2h.7m10.6-.1h.7m3-.2h.7m-3.6 .5h.7m28.1 .8h.7m9.6-.2h.7m-34.6 .5h.7m-13.4 .5h.7m11.7-.1h.7m6.2 .4h.7m-28.6 .5h.7m22.4 .3h.7m3.6-.1h.7m-4.3 .6h.7m9.5 0h.7m-32.5 .4h.7m3.8-.2h.7m7.7 0h.7m18.7 0h.7m-30.4 .6h.7m13.6 0h.7m-3.7 .5h.7m9.7 0h.7m4.8 .3h.7m-10.8 .1h.7m2.7 .1h.7m0 .2h.7m-20.3 .4h.7m14.2 .1h.7m19.6-.2h.7m-29.4 .7h.7m7.6-.2h.7m3 0h.7m5.5-.1h.7m-24 .9h.7m2.6-.1h.7m1.8-.2h.7m17.1 .1h.7m.1-.2h.7m-17.9 .6h.7m1.4 0h.7m.3 0h.7m12.6 .1h.7m2.6 .2h.7m4.9 0h.7m-16.7 .3h.7m-.4 .2h.7m6.1-.3h.7m-17.6 .8h.7m27.1-.2h.7m-40.4 .6h.7m5.5-.3h.7m5.4 .1h.7m.7 .2h.7m1.4-.2h.7m3.6 .2h.7m.5 .1h.7m3.6-.2h.7m5.4 0h.7m7.4-.1h.7m-25.8 .7h.7m.3 0h.7m3.8 .1h.7m1.4-.4h.7m5.9 .2h.7m-26.3 .7h.7m.2-.3h.7m5.2 0h.7m.4 .2h.7m2.9-.2h.7m6 0h.7m13.3 .1h.7m.7 0h.7m-35.6 .6h.7m.9 .1h.7m9-.1h.7m-.2 0h.7m1 .1h.7m-.3 0h.7m6.3-.4h.7m.8 .2h.7m-.3 0h.7m2.3 .1h.7m1.2 .1h.7m-33.5 .1h.7m5.5 .3h.7m27.8 0h.7m-30.9 .5h.7m10.7-.3h.7m4.4 .1h.7m4.3 0h.7m3.3 .2h.7m-10.7 .6h.7m16.2-.2h.7m-32.3 .6h.7m7 0h.7m7.5 .1h.7m5.5-.2h.7m6.7 .1h.7m-23.8 .6h.7m-.4-.2h.7m5.3 0h.7m41-.2h.7m-52.2 .6h.7m4.2 .3h.7m3.6-.4h.7m.4 .2h.7m9.9 .1h.7m-31.4 .3h.7m13.9 .1h.7m4.6-.2h.7m-.3 .1h.7m4.2 .2h.7m-12.9 .6h.7m5.8-.4h.7m10.4 .3h.7m4.3-.3h.7m5.3 .4h.7m-38.2 .5h.7m-.2-.2h.7m18.1 0h.7m14.5-.2h.7m-30.6 .7h.7m2.9-.1h.7m3.2 .2h.7m1.3 .1h.7m2.3-.1h.7m16.3 .1h.7m2.9 0h.7m17.3-.1h.7m-53.1 .2h.7m2.6 .3h.7m6.9 .1h.7m10.3-.4h.7m6.1 0h.7m-28.1 .9h.7m6.2-.2h.7m8.2 .2h.7m4.7-.3h.7m2.1 .3h.7m-17.4 .5h.7m1.8-.4h.7m.5 .3h.7m3-.2h.7m1.8-.1h.7m1.1 0h.7m-9.4 .9h.7m8.6-.1h.7m6.9 0h.7m16.1-.2h.7m-41.2 .4h.7m1.7 .3h.7m.5-.1h.7m-.6 .2h.7m3.8-.2h.7m-13.7 .5h.7m4.3 .1h.7m6-.3h.7m.4 0h.7m5.6 .3h.7m-.4 0h.7m18.1-.3h.7m-33.4 .6h.7m32.5 .2h.7m-38 .6h.7m1-.4h.7m5 .2h.7m1.8 .2h.7m1.1-.1h.7m5.1-.2h.7m-.2 .2h.7m.8-.3h.7m.2 0h.7m-.2 0h.7m.1 .4h.7m1.2 0h.7m-22 .2h.7m.4 .3h.7m6.1-.1h.7m2.7-.1h.7m-16.2 .6h.7m7.1 0h.7m0-.3h.7m1.5 .4h.7m.9 0h.7m-.3 0h.7m.7-.3h.7m3.4 0h.7m34.8 .3h.7m-59.3 .4h.7m-.3 0h.7m1.6 0h.7m1.5-.3h.7m3 .4h.7m1.9 0h.7m4 0h.7m2-.1h.7m2.5-.3h.7m-18.8 .8h.7m8.1-.1h.7m3.6-.1h.7m4.9 0h.7m4.1 0h.7m-29.7 .8h.7m5.1-.1h.7m4.8 .1h.7m.1 0h.7m1.9-.3h.7m1.6-.1h.7m2.5 .1h.7m1.8-.1h.7m3.2 .3h.7m4.6-.2h.7m16.8 0h.7m-47.7 .4h.7m19.4 0h.7m8.6 .1h.7m-32.3 .7h.7m5.9 0h.7m7.7 .1h.7m1.5-.4h.7m1.8 .3h.7m1.8-.2h.7m-23.1 .6h.7m11.9 0h.7m2.7-.2h.7m6.7 .4h.7m.5-.4h.7m3.1 .1h.7m-26.7 .5h.7m7.3 .3h.7m.1-.4h.7m1.1 .3h.7m.3-.2h.7m-.3 .1h.7m.7 .2h.7m-.2-.4h.7m-.2 .1h.7m4.3 .1h.7m1.6 0h.7m-.4-.2h.7m2.8 .2h.7m2.6-.2h.7m2.8 .4h.7m-33.7 .2h.7m10.7 .3h.7m4.9-.2h.7m.5 .2h.7m.7-.3h.7m-.5-.1h.7m9.5 .2h.7m-3.2 .7h.7m-18.8 .4h.7m43 .1h.7m-51.4 .1h.7m13.6 .3h.7m8.2-.1h.7m6.5 .1h.7m-28.5 .6h.7m-.3-.4h.7m.6 .2h.7m7.5 .2h.7m3.2-.1h.7m1.4-.1h.7m3.7-.2h.7m.9 .1h.7m-26 .6h.7m4.8 .2h.7m6.1 0h.7m.1-.3h.7m1.9 0h.7m4.3 .1h.7m8.6 0h.7m-26.2 .6h.7m2.1-.1h.7m.5-.1h.7m.9-.1h.7m1.2 .1h.7m4.1 .3h.7m5.6-.4h.7m-19.7 .9h.7m2.2 0h.7m8.3-.3h.7m5.9 .2h.7m-25.8 .6h.7m20.7-.4h.7m-.6 .4h.7m5.9-.2h.7m3.6-.2h.7m-12.5 .8h.7m-.2 0h.7m.6 0h.7m1.5 .1h.7m-.5 0h.7m.7-.1h.7m-20.1 .5h.7m5.8-.3h.7m7.7 .3h.7m3.8 .1h.7m-18.9 .5h.7m13.5-.2h.7m2.4-.1h.7m-10.4 .6h.7m1.3 .1h.7m1.3-.2h.7m1.7 .2h.7m0-.2h.7m17.1 .2h.7m-22.6 .5h.7m-14.9 .3h.7m9.7-.1h.7m-.2 .3h.7m2.2-.2h.7m3.4-.1h.7m6.8 .3h.7m-10 .5h.7m1.9-.3h.7m1.4 .1h.7m28.7-.1h.7m-43.2 .7h.7m3.5 0h.7m1.1-.1h.7m.4 .2h.7m4.4-.2h.7m.6-.1h.7m-.1 0h.7m1.6 0h.7m2.6 .3h.7m-24.2 .2h.7m1.3 .3h.7m7 0h.7m8.8-.2h.7m7.3 .2h.7m24.4-.1h.7m-51.1 .7h.7m4.5-.1h.7m28.3 0h.7m-23.9 .6h.7m-7.2 .1h.7m4.9 .4h.7m7.6-.4h.7m14 .2h.7m14.9 .1h.7m-53.3 .2h.7m5.1 .4h.7m12.8-.4h.7m24 .1h.7m-43.9 .5h.7m8.6 .3h.7m.8-.3h.7m.8 .3h.7m-.6-.1h.7m9.7 0h.7m26.4 .1h.7m-56.6 .3h.7m14.9 0h.7m3.7 0h.7m-.1-.1h.7m4.6 .3h.7m-9.5 .1h.7m25.5 .2h.7m-20.2 .4h.7m-6.4 .5h.7m.7 .1h.7m0-.1h.7m2.8 .2h.7m-18.6 .3h.7m3.8 .1h.7m15.6-.2h.7m14 .3h.7m-16.4 .6h.7m-23.8 .2h.7m17.5 .3h.7m-17.7 .9h.7m4.6-.3h.7m18.5 .4h.7m21.7 .3h.7m1.1 .4h.7m-38.2 .8h.7m5.5-.1h.7m-11.3 .8h.7m2.7 0h.7m-5.4 .5h.7m5.2 .6h.7m8.7 .4h.7m29.4 .3h.7m-53.8 .4h.7m2.7 .1h.7m14.3-.1h.7m4.3 .4h.7m-11.4 .4h.7m42.7 0h.7m-60.6 1h.7m13-.1h.7m31 .1h.7" stroke="#000" stroke-width=".7" opacity="0.4" fill="none" filter="url(#bl)"/></g><rect x="179.6" y="54.4" width="63.4" height="49.6" fill="none" stroke="#9a9a9a" stroke-width="0.9"/><path d="M179.6 104v1.6M179.6 104h-1.6M195.4 104v1.6M179.6 91.6h-1.6M211.3 104v1.6M179.6 79.2h-1.6M227.2 104v1.6M179.6 66.8h-1.6M243 104v1.6M179.6 54.4h-1.6" stroke="#999" stroke-width=".6" fill="none"/><rect x="199.5" y="54.4" width="27.5" height="21.9" fill="none" stroke="#a0a0a0" stroke-width="0.75"/><path d="M220.8 64l3.4 -2.2v1.35h2.6v1.7h-2.6v1.35z" fill="#000"/><text x="228.7" y="66.8">1.3</text><clipPath id="c3"><rect x="105.6" y="112.4" width="64.6" height="50.6"/></clipPath><g clip-path="url(#c3)"><ellipse cx="111" cy="152.5" rx="11" ry="14" fill="url(#g)" opacity="1.0"/><ellipse cx="115" cy="149" rx="14" ry="15" fill="url(#g)" opacity="0.45"/><path d="M144.5 118.5h.7m-1.7 .5h.7m5 .1h.7m-4 .5h.7m-4.8 .5h.7m1.1 .4h.7m.3-.1h.7m.2 .3h.7m3.8-.1h.7m-5.8 .3h.7m1.3 .3h.7m.8-.4h.7m-.2 .4h.7m.2-.2h.7m-6.5 .6h.7m.6-.1h.7m.4 .1h.7m1.1-.3h.7m-9.7 .8h.7m1.7 .1h.7m-.1-.2h.7m.7 0h.7m6.1 .1h.7m-12.7 .2h.7m7.1 0h.7m.3 .1h.7m.6 0h.7m-29 .6h.7m18.2-.1h.7m2.9 .2h.7m2.5 0h.7m-.2-.2h.7m.2 .3h.7m.5-.2h.7m1-.2h.7m1.1 0h.7m-5.2 .9h.7m-.7-.2h.7m4.2 .2h.7m-27.5 .5h.7m14.8-.1h.7m-.1-.1h.7m.4-.1h.7m1.2 .2h.7m.2-.3h.7m-.7 .2h.7m.1-.2h.7m-.2 .3h.7m.7-.3h.7m-32.2 .6h.7m6.7 .3h.7m16.6 0h.7m.1-.4h.7m.3 0h.7m-.7 .3h.7m-.4-.2h.7m.3 .1h.7m1.1 .2h.7m1.3-.4h.7m-31.8 .8h.7m20.6 0h.7m3.1-.2h.7m-.6 0h.7m-.6-.1h.7m.1 .3h.7m-.5 .1h.7m1.8-.2h.7m1.8 .2h.7m-.6-.2h.7m-9.2 .7h.7m1.1 0h.7m.4-.2h.7m.5 .1h.7m1.6 0h.7m.5 .1h.7m-7.7 .1h.7m.1 0h.7m2.9 .4h.7m.3-.3h.7m.3 .1h.7m.9-.2h.7m-.7 .3h.7m-.1-.1h.7m2.6 0h.7m1.4 .2h.7m-30.2 .2h.7m13.8 0h.7m.9-.1h.7m1.5 .4h.7m1.3-.1h.7m-.7 .1h.7m-.1 0h.7m.2-.4h.7m-.4 .4h.7m-.7-.1h.7m.2-.1h.7m.3-.2h.7m-38.9 .9h.7m25.2 0h.7m4.3-.3h.7m1.1-.1h.7m-.5 .1h.7m0 .1h.7m0 .2h.7m-.5-.4h.7m1.1 .3h.7m.2 0h.7m.1-.2h.7m.1 .1h.7m-24.3 .6h.7m14.3-.1h.7m.6-.1h.7m.2-.1h.7m.5 .4h.7m-.2 0h.7m1.3-.2h.7m.7 .1h.7m1 .1h.7m2.7 0h.7m-15.2 .3h.7m.2 0h.7m0 0h.7m.2-.1h.7m-.3-.1h.7m-.7 .3h.7m1-.3h.7m.5 .3h.7m-.2 .1h.7m-.4-.2h.7m1.8-.2h.7m-33.8 .6h.7m18.9 .2h.7m1.3 .1h.7m.4-.3h.7m4.2 0h.7m-.7 .1h.7m3.4-.1h.7m-5.1 .5h.7m.6 0h.7m1.2 .2h.7m.9 .1h.7m-.1-.3h.7m-37.5 .8h.7m3.1-.4h.7m12.6 .4h.7m.4-.2h.7m3.7-.2h.7m1.1 .2h.7m5.9 .2h.7m.7-.1h.7m2.9-.2h.7m-.6 0h.7m1.4 0h.7m-22.5 .5h.7m5.3-.1h.7m-.2 .4h.7m2.6-.1h.7m3.8 .1h.7m.6 0h.7m2.1 0h.7m-35.1 .5h.7m7.3-.1h.7m16.8-.3h.7m2.5 0h.7m2.1 .2h.7m1.5-.2h.7m1.5 .3h.7m0-.2h.7m.8 0h.7m-38.6 .4h.7m10.2 .1h.7m-.1-.1h.7m4.4 .1h.7m-.4 0h.7m8.9 .2h.7m.9 0h.7m-.1 0h.7m-.6-.2h.7m.7-.1h.7m-.4 .4h.7m0-.2h.7m.5-.2h.7m3 .3h.7m-.4 .1h.7m-27.7 .4h.7m5-.3h.7m20.6 .1h.7m-36.8 .4h.7m6.4 .1h.7m-.2 .2h.7m10.5 .1h.7m1.5-.3h.7m5.4 .1h.7m.1 .2h.7m-28.7 .3h.7m-.4-.2h.7m0 .3h.7m9.8-.1h.7m3 .2h.7m14.2-.2h.7m-36.3 .7h.7m2.7 0h.7m1-.2h.7m9.5 .2h.7m1.4-.2h.7m.8 .2h.7m-.5 0h.7m2.7-.1h.7m1-.1h.7m1.2 .2h.7m-14.6 .2h.7m10.6-.1h.7m1.4 .3h.7m15.1-.1h.7m-41.5 .7h.7m.7-.3h.7m.5 0h.7m3.1 .3h.7m.7 0h.7m-.2 0h.7m1.2-.4h.7m1.4 0h.7m4.1 .4h.7m0-.1h.7m.4-.2h.7m1.7 .1h.7m3.2 0h.7m.2 .1h.7m3.9 0h.7m1.3-.1h.7m-20 .5h.7m.2 .1h.7m5.2-.3h.7m.4 .1h.7m5.3 .1h.7m.2 .2h.7m3.7 0h.7m1.4 0h.7m5.8-.3h.7m-38.5 .6h.7m5.7 .2h.7m.9-.1h.7m13.1 0h.7m2.2-.1h.7m2.9 0h.7m16.4 .2h.7m-44.8 .4h.7m4-.1h.7m5.6-.2h.7m2.5 .1h.7m.5 .1h.7m-.5-.2h.7m4.9 0h.7m0 .2h.7m.1 .2h.7m-.5-.1h.7m-.2-.2h.7m-.3 .1h.7m.4 .2h.7m.3-.3h.7m6.2 .2h.7m10.1 0h.7m-46.7 .3h.7m4.2 0h.7m.4 .1h.7m3.5-.1h.7m1.1 .3h.7m5.2 0h.7m2.9-.1h.7m1.1-.3h.7m2.9 .1h.7m6.7 0h.7m-31.2 .6h.7m4.6-.2h.7m2.1 .2h.7m-.5-.1h.7m2.7-.1h.7m-.3 .4h.7m5.2-.3h.7m1.5 .2h.7m-.3-.1h.7m-26.8 .3h.7m1.9 .1h.7m3.6 .2h.7m.7-.1h.7m.1-.2h.7m-.4 0h.7m.1 .4h.7m2-.2h.7m.4-.1h.7m-.1 0h.7m-.3 .2h.7m0-.3h.7m-.3 .3h.7m-.5 .1h.7m0 0h.7m1.1-.1h.7m1.5-.3h.7m-.6 .4h.7m-.4-.1h.7m4.5-.1h.7m-.7 .2h.7m7.1-.3h.7m-30.7 .4h.7m2.6 .2h.7m1.2 0h.7m-.2 .1h.7m-.7-.3h.7m.8 .3h.7m2.6 .1h.7m0 0h.7m2.6-.4h.7m.9 .4h.7m3.1-.4h.7m1.4 0h.7m-.6 .1h.7m-.1 .2h.7m.7-.1h.7m-21 .7h.7m2.3-.2h.7m-.3 .1h.7m-.3-.3h.7m-.4 .1h.7m1.7 .3h.7m4.6-.3h.7m-.2 .2h.7m-.7-.1h.7m-.6-.2h.7m.8 .3h.7m2.6-.3h.7m-.6 .4h.7m5.8-.1h.7m4.1 .1h.7m-34.8 .4h.7m4.1-.2h.7m.7 .2h.7m.5-.1h.7m2.8 .1h.7m0-.3h.7m1.6 .2h.7m-.5 .2h.7m.4-.2h.7m2 0h.7m-.1-.1h.7m0-.1h.7m3.3 .3h.7m0 .1h.7m.1-.4h.7m0 .4h.7m.1-.3h.7m3.8 0h.7m-32.5 .7h.7m-.6-.3h.7m1.8 0h.7m.1 .2h.7m-.6-.2h.7m.4 .4h.7m.1-.3h.7m-.1 .3h.7m.4-.3h.7m3.5-.1h.7m.7 .2h.7m1.4-.2h.7m4.1 .4h.7m5.3-.2h.7m.2 0h.7m.6 .2h.7m2.8-.1h.7m1.1 0h.7m-36.9 .3h.7m1 .3h.7m1.9-.3h.7m-.3 .2h.7m2.8-.2h.7m-.3 .3h.7m.1-.4h.7m.9 .3h.7m-.3-.1h.7m.4-.2h.7m-.4 .2h.7m-.2-.2h.7m.6 0h.7m0 .1h.7m-.7 .2h.7m2.7 .1h.7m.4-.2h.7m1.2 .1h.7m1.3 .1h.7m3.8-.1h.7m1.8 .1h.7m1.5 0h.7m5-.2h.7m-37.6 .4h.7m-.2-.1h.7m-.1 .3h.7m.5-.3h.7m.5 .3h.7m-.5 0h.7m-.3-.3h.7m-.4 .1h.7m-.2 .3h.7m-.2-.1h.7m.1-.3h.7m-.2 .2h.7m-.4 .1h.7m-.3-.2h.7m0-.1h.7m.9 0h.7m2 0h.7m.9 .3h.7m.6 0h.7m.1 .1h.7m-.7 0h.7m.5-.2h.7m1.2 .1h.7m2.7 0h.7m-.4-.1h.7m.3 .1h.7m7.3-.3h.7m-.7 .2h.7m3.4 .2h.7m-37 .2h.7m.5 .3h.7m-.1-.1h.7m0 0h.7m1.3-.1h.7m9.2-.1h.7m0 .3h.7m.3-.3h.7m.4 0h.7m-.7 0h.7m3.4 .3h.7m-.5-.4h.7m.8 .4h.7m-.2-.4h.7m.7 .4h.7m1.1-.1h.7m-28.9 .6h.7m.4 0h.7m1.9-.4h.7m0 0h.7m-.7 .3h.7m-.3-.1h.7m-.7 .2h.7m-.2 0h.7m-.3-.4h.7m-.3 0h.7m.9 .2h.7m-.2-.2h.7m-.5 .4h.7m0-.4h.7m.2 0h.7m-.5 .4h.7m2.2-.1h.7m2.1 .1h.7m.2-.2h.7m-.1-.1h.7m1.1-.1h.7m-.1 .1h.7m.2 .1h.7m1.4-.1h.7m.2 .3h.7m3.9-.3h.7m-.3-.1h.7m2 .2h.7m-.3-.2h.7m6.5 0h.7m.8 .3h.7m0 .1h.7m-40.7 .4h.7m2.5 0h.7m-.2-.1h.7m-.6 .2h.7m.1-.3h.7m.3-.1h.7m.1 .1h.7m-.5 .2h.7m-.7-.2h.7m-.2 .2h.7m3.1 .1h.7m-.1-.3h.7m2.2 0h.7m.9 .2h.7m.5 0h.7m.4-.1h.7m.3 0h.7m.2 0h.7m-.3-.2h.7m1.4 .1h.7m-.7 0h.7m2.7 .1h.7m7 .1h.7m-.3-.2h.7m-35.2 .5h.7m.4-.1h.7m.2 .3h.7m.6-.2h.7m-.4 .3h.7m-.5-.3h.7m.8 .1h.7m-.4-.2h.7m-.5 .4h.7m-.7 0h.7m-.6 0h.7m.7-.2h.7m-.7 .1h.7m.3-.3h.7m-.5 .1h.7m-.7 .2h.7m.2-.1h.7m0 .2h.7m.1-.3h.7m-.6-.1h.7m-.2 .3h.7m-.2 .1h.7m.3-.2h.7m.2 0h.7m.6-.1h.7m1.6 0h.7m-.3 .1h.7m.7 0h.7m-.4 0h.7m-.2 .2h.7m-.1-.4h.7m-.6 .3h.7m.3-.1h.7m-.3-.2h.7m.4 .2h.7m2.2 .2h.7m.7 0h.7m-.4 0h.7m.1-.2h.7m.3 .2h.7m.6-.3h.7m-.3 .3h.7m-.7-.4h.7m6 .4h.7m-39.6 .5h.7m-.6 0h.7m-.2 0h.7m.2-.2h.7m-.3 .1h.7m-.4-.1h.7m.8 .2h.7m.5-.1h.7m-.5-.1h.7m-.3-.1h.7m-.6 .3h.7m-.6-.1h.7m-.4 .1h.7m-.5-.4h.7m-.4 .3h.7m0 .1h.7m-.1-.1h.7m-.7-.1h.7m.6 .1h.7m-.6-.3h.7m.2 .4h.7m0-.2h.7m-.4 0h.7m-.4 .1h.7m0-.3h.7m.2 .1h.7m.7 .2h.7m-.7 .1h.7m-.7-.4h.7m-.6 .4h.7m-.5 0h.7m1-.3h.7m-.5 0h.7m-.2 .2h.7m-.6-.1h.7m-.6-.1h.7m-.2-.1h.7m-.6 .3h.7m.1-.3h.7m1 .1h.7m-.2 0h.7m.5 .2h.7m-.3-.2h.7m-.4 .2h.7m2-.3h.7m-.6 .4h.7m-.2-.3h.7m.3 .1h.7m-.6 0h.7m.1 0h.7m.1 0h.7m-.4-.2h.7m.8 .2h.7m-31.3 .4h.7m.1 0h.7m-.6 .1h.7m-.3-.1h.7m.7 .3h.7m-.6 0h.7m-.6-.1h.7m0-.2h.7m-.1 .1h.7m-.6-.1h.7m.3-.1h.7m1.2 .1h.7m-.3 .1h.7m-.6 .2h.7m0-.1h.7m-.6-.1h.7m-.6 .1h.7m2.3-.3h.7m-.5 .3h.7m-.7-.1h.7m-.4-.2h.7m-.2 0h.7m-.4 .4h.7m-.3 0h.7m3.4-.1h.7m.4 .1h.7m.4 0h.7m1.6-.2h.7m-.1 0h.7m-.2 0h.7m-.5 .2h.7m-.2-.4h.7m1.1 .1h.7m.8 .1h.7m0-.1h.7m.4 .3h.7m1.4 0h.7m8.2-.3h.7m-40.5 .4h.7m-.7 .4h.7m.8-.2h.7m.9 .2h.7m1.2-.2h.7m.1 0h.7m-.4 .1h.7m-.6-.3h.7m-.2 .2h.7m-.6-.2h.7m-.7 .3h.7m-.6-.3h.7m-.3 .2h.7m-.2 .2h.7m-.6-.2h.7m-.7 .1h.7m.5-.1h.7m.5 .2h.7m.1 0h.7m-.4 0h.7m-.3 0h.7m.9-.3h.7m1.4 0h.7m-.4-.1h.7m-.5 0h.7m-.7 .4h.7m2.2 0h.7m.4-.4h.7m1.2 .3h.7m.6-.3h.7m-.2 .2h.7m.2-.1h.7m1.9 0h.7m3.2 .2h.7m-.3-.1h.7m2.3-.1h.7m2.6 .3h.7m-38.5 .4h.7m-.3-.3h.7m-.6 .3h.7m-.5-.2h.7m-.4 .2h.7m.2-.3h.7m-.6 .1h.7m-.3 .1h.7m1.1-.1h.7m-.6-.1h.7m-.6 .1h.7m1 .3h.7m3.2-.1h.7m.2-.3h.7m-.2 .4h.7m2.1-.1h.7m.7-.3h.7m.5 0h.7m-.5 .3h.7m.1 .1h.7m1.2-.4h.7m-.4 .1h.7m-.3 0h.7m-.4 .1h.7m-.1-.1h.7m-.5 .3h.7m.2-.4h.7m-.1 .2h.7m-.1 0h.7m2.2 .1h.7m1.9-.1h.7m1.5 .1h.7m-.1 0h.7m7.7 0h.7m-41 .4h.7m0 .2h.7m-.6-.4h.7m-.3 0h.7m-.3 .3h.7m-.7 .1h.7m-.2 0h.7m-.2-.2h.7m-.5 .2h.7m-.1-.1h.7m-.7-.3h.7m-.4 .3h.7m-.4-.3h.7m-.4 .3h.7m-.6 0h.7m-.6-.1h.7m-.3 0h.7m-.6-.2h.7m-.7 0h.7m-.3 .4h.7m-.5 0h.7m-.1 0h.7m-.6-.2h.7m-.1-.2h.7m.5 .2h.7m-.7 0h.7m-.5-.2h.7m-.1 .1h.7m-.1 .1h.7m-.5 .1h.7m.2 0h.7m-.4-.3h.7m-.6 .3h.7m-.6-.1h.7m-.3 .2h.7m-.4-.3h.7m-.3 0h.7m.1 .1h.7m-.6 .1h.7m0-.2h.7m.1 .1h.7m-.1 .2h.7m.3 0h.7m-.2 0h.7m-.6-.1h.7m4.7 .1h.7m-.6-.1h.7m2-.2h.7m1.6 .3h.7m.4-.3h.7m.2-.1h.7m1.3 0h.7m-.3 0h.7m-.5 0h.7m.8 0h.7m-33.9 .7h.7m-.7 .2h.7m-.2-.4h.7m-.5 .4h.7m0 0h.7m.7-.2h.7m-.7-.1h.7m-.5 .1h.7m-.7 0h.7m-.3 .2h.7m-.4-.1h.7m-.7 0h.7m-.3-.3h.7m-.7 0h.7m-.4 .2h.7m-.5-.1h.7m-.6-.1h.7m-.7 .3h.7m.4 0h.7m-.1-.3h.7m-.6 0h.7m-.7 .3h.7m-.3 .1h.7m-.5-.2h.7m-.4 .1h.7m-.4 .1h.7m-.4-.1h.7m-.7-.1h.7m-.6 .2h.7m-.6-.4h.7m-.5 .2h.7m-.7 .1h.7m-.5 .1h.7m-.7-.4h.7m-.7 .3h.7m.4-.3h.7m-.7 .1h.7m-.1 .3h.7m-.3 0h.7m-.7 0h.7m-.4-.3h.7m-.1 .1h.7m-.5 0h.7m1.2 .1h.7m-.1-.1h.7m-.3-.1h.7m-.2-.1h.7m-.7 .3h.7m1.3-.1h.7m-.1 .2h.7m-.4-.2h.7m-.3 .2h.7m-.7-.4h.7m1.2 .4h.7m.6-.1h.7m-.5-.1h.7m.6 0h.7m3.5-.2h.7m-28.3 .8h.7m-.3 .1h.7m-.1-.1h.7m-.4 .1h.7m.9-.4h.7m-.3 .3h.7m-.2 .1h.7m.3-.2h.7m-.7-.2h.7m-.4 .1h.7m-.7 .3h.7m-.6-.1h.7m-.7 0h.7m-.5-.1h.7m-.5 .2h.7m.1 0h.7m-.7 0h.7m-.3-.4h.7m-.1 0h.7m-.3 0h.7m-.3 0h.7m0 0h.7m-.4 .4h.7m.9-.3h.7m-.7 .3h.7m0-.3h.7m-.2 0h.7m-.4 .1h.7m-.6-.2h.7m0 .2h.7m-.7-.1h.7m-.3 .1h.7m-.6-.1h.7m-.5 0h.7m0 .1h.7m-.3 .1h.7m-.4 .1h.7m2.4 0h.7m1.2 0h.7m.7 0h.7m4.1 0h.7m-.4-.2h.7m-.4 .2h.7m2.3-.4h.7m5.7 0h.7m1.2 0h.7m1.9 .2h.7m-41.6 .6h.7m-.2 .1h.7m.7 0h.7m-.5-.4h.7m.3 0h.7m.9 .3h.7m-.5 .1h.7m-.6-.2h.7m-.5 .1h.7m-.6-.3h.7m-.7 .2h.7m-.6-.2h.7m-.6 .2h.7m-.6 0h.7m-.2 .2h.7m-.4-.3h.7m-.5 .1h.7m-.7-.1h.7m0-.1h.7m-.5 .2h.7m-.7 .2h.7m-.3-.4h.7m-.6 0h.7m-.7 .1h.7m-.5-.1h.7m-.6 .1h.7m-.5 .1h.7m.5 .2h.7m-.2-.4h.7m-.5 0h.7m-.7 .2h.7m-.6 .2h.7m-.6-.3h.7m-.2 .1h.7m-.1-.1h.7m0 .2h.7m-.4-.2h.7m-.6 0h.7m-.7 .3h.7m1.2-.2h.7m-.2-.1h.7m.7-.1h.7m.9 .4h.7m.4-.1h.7m-.5 0h.7m.2 .1h.7m2.3 0h.7m.7-.2h.7m-.3 .1h.7m-.7 0h.7m1.9-.2h.7m9.3 0h.7m-37.7 .4h.7m-.2 .2h.7m-.4 .1h.7m.1-.3h.7m-.5 .1h.7m-.5 .1h.7m-.4-.2h.7m-.4 .2h.7m-.7-.1h.7m-.7 0h.7m0-.1h.7m0 0h.7m-.7 .4h.7m-.2-.3h.7m-.5 .1h.7m-.4-.2h.7m-.6 .3h.7m-.7 0h.7m0 .1h.7m-.6-.3h.7m-.7 0h.7m-.5 .3h.7m-.4-.2h.7m-.6-.2h.7m-.6 .2h.7m-.4 0h.7m-.1 .1h.7m-.4 .1h.7m-.5-.3h.7m-.1 0h.7m-.5 .2h.7m-.5-.3h.7m-.4 .1h.7m-.6 .3h.7m-.7-.3h.7m-.3-.1h.7m-.7 .2h.7m-.3 0h.7m-.1 .1h.7m-.4 .1h.7m-.4-.4h.7m-.1 .1h.7m-.1 0h.7m.6 .2h.7m-.1-.1h.7m1.4-.2h.7m-.6 .2h.7m-.5-.2h.7m.4 .3h.7m-.2 0h.7m3.3-.1h.7m.4 .1h.7m2.7-.1h.7m-.4 .1h.7m.9-.3h.7m.5 .2h.7m2.4 0h.7m.9-.1h.7m-36.3 .5h.7m-.7 .3h.7m0-.4h.7m.6 .1h.7m-.4 .1h.7m-.5-.2h.7m-.4 .4h.7m-.5-.4h.7m-.6 .2h.7m-.4 0h.7m-.7 .2h.7m0 0h.7m-.5 0h.7m.2-.1h.7m-.3-.2h.7m1 .2h.7m-.5 0h.7m-.4-.2h.7m0 0h.7m-.5 .2h.7m.1-.2h.7m-.7-.1h.7m-.5 .1h.7m-.7 .2h.7m1-.2h.7m-.6 .2h.7m.6-.2h.7m-.3-.1h.7m-.6 .1h.7m-.6 0h.7m.4 .3h.7m-.3 0h.7m-.3-.4h.7m-.6 .2h.7m-.4 0h.7m.1-.2h.7m-.7 .1h.7m.1 .3h.7m-.4-.2h.7m.1-.2h.7m-.1 .4h.7m-.6 0h.7m-.2-.3h.7m-.6 0h.7m.1 .1h.7m-.5-.1h.7m.9 0h.7m1 .3h.7m1-.1h.7m1.5 0h.7m-.7 0h.7m-28.6 .6h.7m-.7-.2h.7m-.3-.1h.7m-.7 .3h.7m-.6-.3h.7m.1-.1h.7m-.6 0h.7m-.7 .2h.7m-.6 .2h.7m-.6-.2h.7m-.5-.1h.7m-.3 .3h.7m-.6 0h.7m0-.1h.7m-.7-.3h.7m-.4 .3h.7m-.6 .1h.7m-.5-.4h.7m-.3 .2h.7m-.5 .1h.7m-.6-.3h.7m-.6 0h.7m-.3 0h.7m-.1 .2h.7m-.5-.1h.7m-.6 .2h.7m-.5-.1h.7m-.4 .1h.7m-.7 .1h.7m0-.2h.7m-.5 0h.7m-.7 .2h.7m-.4-.1h.7m-.3 .1h.7m-.3-.4h.7m-.7 .2h.7m-.6-.1h.7m-.3 .1h.7m-.5-.1h.7m-.5 .1h.7m-.5 0h.7m.2-.1h.7m.3 0h.7m-.6 .3h.7m0-.4h.7m-.5 0h.7m-.7 .4h.7m-.3-.3h.7m-.5 .2h.7m-.7 0h.7m0 .1h.7m-.3-.1h.7m-.6-.3h.7m.8 .4h.7m-.6-.3h.7m-.5-.1h.7m-.6 .1h.7m-.5 .2h.7m-.2 .1h.7m-.6-.4h.7m-.7 .3h.7m-.4-.3h.7m-.3 .2h.7m-.4-.2h.7m-.6 0h.7m-.4 .2h.7m-.7 .2h.7m1.2-.1h.7m.5-.3h.7m-.5 .4h.7m4.5-.2h.7m1.3 0h.7m-.3-.1h.7m-29.7 .7h.7m-.7 .1h.7m-.7-.4h.7m-.7 .2h.7m-.7 .2h.7m-.1 0h.7m-.2 0h.7m-.6-.1h.7m-.6-.1h.7m-.5 .1h.7m-.7-.2h.7m.1 0h.7m-.6 .1h.7m-.7 0h.7m-.5-.1h.7m-.5 0h.7m-.5-.1h.7m-.4 0h.7m-.5 .4h.7m-.7 0h.7m-.4-.3h.7m-.6 0h.7m-.5-.1h.7m-.7 .1h.7m-.6-.1h.7m-.6 0h.7m-.6 0h.7m-.7 .1h.7m.1 .2h.7m-.5-.3h.7m-.4 .1h.7m-.5 .1h.7m-.7 .2h.7m-.5-.3h.7m-.5 .3h.7m-.6-.4h.7m-.5 0h.7m-.2 0h.7m.4 .1h.7m-.5 .3h.7m-.5 0h.7m-.7-.2h.7m.1-.2h.7m-.5 0h.7m-.4 .2h.7m-.3 .2h.7m-.4-.3h.7m-.6 0h.7m-.5-.1h.7m-.3 0h.7m-.7 .3h.7m-.4 0h.7m-.3-.2h.7m1.8 .2h.7m1-.3h.7m.3 .3h.7m-.3-.3h.7m-.2 .1h.7m-.7 0h.7m-.5 0h.7m1-.1h.7m1.7 .4h.7m-.4-.1h.7m-.6-.2h.7m.9 .1h.7m-.1-.1h.7m-.6 .1h.7m.1 0h.7m-.2-.2h.7m.4 .1h.7m-.4 .2h.7m2.1-.1h.7m.4-.1h.7m4.3 .2h.7m12.1 0h.7m-50.2 .4h.7m-.7-.1h.7m-.5 0h.7m-.3 .2h.7m-.3 0h.7m-.6 0h.7m-.3 .1h.7m-.7-.3h.7m-.6 .1h.7m-.2-.1h.7m-.4 .3h.7m-.2-.2h.7m.1 .1h.7m-.6 .1h.7m-.6 0h.7m-.7 0h.7m-.7-.3h.7m-.6 0h.7m-.6 .1h.7m-.2 .1h.7m.2-.1h.7m-.6-.2h.7m-.3 .3h.7m-.5-.2h.7m-.2 .1h.7m-.3-.2h.7m-.7 .4h.7m.2-.3h.7m-.6 .3h.7m-.6 0h.7m.1-.4h.7m-.5 0h.7m-.7 .1h.7m0 .1h.7m-.5 0h.7m-.5 0h.7m-.3 0h.7m-.6-.2h.7m-.3 .1h.7m.2 .1h.7m-.3-.1h.7m-.6 .2h.7m-.4-.2h.7m.8 .2h.7m-.6-.2h.7m-.7 0h.7m-.2 .1h.7m-.3 .1h.7m.4 0h.7m-.6 0h.7m-.7-.2h.7m.6 .2h.7m.4 0h.7m.2 .1h.7m-.4-.1h.7m.4 .1h.7m.1-.4h.7m-.2 0h.7m-.1 0h.7m-.7 .3h.7m2.6-.1h.7m.6 0h.7m1.9-.2h.7m.2 .4h.7m-32.1 .4h.7m-.6-.3h.7m-.6 0h.7m-.1 .2h.7m.1-.1h.7m-.6 0h.7m-.7 .1h.7m-.5 .2h.7m-.5-.2h.7m-.1-.2h.7m-.5 0h.7m.1 .2h.7m-.7 .2h.7m-.7-.4h.7m-.1 .3h.7m-.4-.3h.7m-.7 .3h.7m-.1 .1h.7m-.6-.1h.7m-.7 0h.7m-.5-.2h.7m-.7 .3h.7m-.5-.2h.7m-.6 .1h.7m-.6-.1h.7m.4-.2h.7m-.2 .2h.7m-.5-.1h.7m-.7 .2h.7m-.7 .1h.7m-.7 0h.7m-.5 0h.7m-.6-.1h.7m-.4-.1h.7m-.6 .2h.7m-.5-.1h.7m-.7-.1h.7m-.6 .1h.7m-.6-.1h.7m-.7 0h.7m-.6 .1h.7m-.5-.3h.7m-.5 0h.7m-.5 .3h.7m-.7-.1h.7m-.4 .1h.7m-.4-.3h.7m-.2 .4h.7m-.2-.4h.7m-.4 .2h.7m-.5-.1h.7m-.3 0h.7m-.6 .3h.7m-.4-.3h.7m-.6 .3h.7m-.6-.3h.7m.1 .2h.7m-.7-.3h.7m-.6 .1h.7m.3 .1h.7m-.4 .2h.7m.4-.4h.7m1.8 .3h.7m-.5-.2h.7m-.6-.1h.7m-.6 .1h.7m-.2 0h.7m.4 .2h.7m-.2 .1h.7m-.4-.4h.7m-.4 .2h.7m-22.1 .3h.7m-.7 0h.7m.6 0h.7m-.5 .2h.7m-.5 .1h.7m-.5-.3h.7m-.5 .4h.7m-.5-.1h.7m-.3 0h.7m-.2-.1h.7m-.3 .1h.7m-.7 0h.7m-.6 .1h.7m-.7-.1h.7m-.3-.3h.7m-.7 .4h.7m-.5-.1h.7m.5-.1h.7m.6 0h.7m-.6-.2h.7m0 .1h.7m-.5-.1h.7m-.2 .3h.7m-.7 0h.7m0 .1h.7m-.6-.3h.7m-.7 .2h.7m-.5-.1h.7m-.5 0h.7m-.6 .2h.7m.3 0h.7m-.2-.2h.7m-.1 .1h.7m.9-.2h.7m-.1 0h.7m-.2 .2h.7m2.3 0h.7m-.6 0h.7m.5 0h.7m-.3 0h.7m.6-.3h.7m-.3 .3h.7m-.7-.3h.7m-.3 .3h.7m-.6 .1h.7m1.5-.1h.7m-.4 0h.7m-.7-.3h.7m6.7 .1h.7m1.3 .2h.7m2.3-.2h.7m-36.9 .5h.7m-.2 .3h.7m-.6-.1h.7m-.2-.3h.7m-.7 .1h.7m-.6 0h.7m-.6-.1h.7m-.6 0h.7m-.5 .3h.7m-.4-.3h.7m-.7 .3h.7m-.6 0h.7m-.1 .1h.7m-.3-.4h.7m-.1 .4h.7m-.2 0h.7m-.2 0h.7m-.3-.4h.7m-.6 0h.7m-.7 .1h.7m-.5 .3h.7m-.5-.4h.7m-.3 .1h.7m-.5 .3h.7m-.6 0h.7m-.7-.1h.7m-.5 0h.7m-.2-.3h.7m-.7 .4h.7m-.6-.4h.7m-.1 .3h.7m-.6-.2h.7m-.7 .2h.7m-.6-.2h.7m-.2 .2h.7m-.6 0h.7m-.7-.1h.7m-.3-.1h.7m-.5 0h.7m-.6 .1h.7m-.6 .1h.7m-.7-.2h.7m-.4 .1h.7m-.4-.2h.7m.1 .3h.7m-.7 0h.7m-.6-.3h.7m.1 0h.7m-.5 .2h.7m-.5-.1h.7m-.6 0h.7m-.7 .2h.7m.1-.1h.7m.1-.1h.7m-.4 .1h.7m-.3-.1h.7m-.3 0h.7m-.6 .2h.7m-.5-.1h.7m1.2 .1h.7m0-.2h.7m-.6 0h.7m-.2 .3h.7m.3 0h.7m-.4-.1h.7m-.1-.1h.7m-.4 .1h.7m-.5-.2h.7m.4 .1h.7m-.1 .1h.7m.4-.1h.7m4-.2h.7m-28.8 .5h.7m-.7 .1h.7m-.4-.1h.7m-.3 .1h.7m-.6-.1h.7m-.5 .3h.7m-.5-.3h.7m-.5 .4h.7m0 0h.7m-.7 0h.7m-.5-.4h.7m-.6 .4h.7m-.2 0h.7m-.6-.1h.7m-.7-.1h.7m-.3 0h.7m-.5 0h.7m-.6 .1h.7m-.7 0h.7m-.5-.3h.7m-.6 .4h.7m-.6-.2h.7m-.4 .2h.7m-.3-.4h.7m-.3 0h.7m-.6 .4h.7m-.7 0h.7m0-.1h.7m-.6-.2h.7m-.3 .2h.7m-.6-.1h.7m-.7-.1h.7m-.5 .3h.7m-.4-.3h.7m-.7 0h.7m-.5 0h.7m-.3 .2h.7m-.7-.3h.7m-.5 .3h.7m-.4 0h.7m-.1 0h.7m-.6 0h.7m.1-.1h.7m.2 .1h.7m-.7 .1h.7m-.2-.3h.7m.1 0h.7m-.2 0h.7m-.5 0h.7m-.5 .1h.7m-.2 .2h.7m-.2-.3h.7m-.6-.1h.7m-.7 .2h.7m-.4 .1h.7m1.2-.1h.7m3.9 0h.7m-.2 0h.7m.8-.2h.7m.6 .1h.7m.3 .3h.7m-25 .4h.7m-.7-.1h.7m-.2-.2h.7m-.5 .3h.7m-.5-.1h.7m-.4 0h.7m-.4-.2h.7m-.5 .2h.7m-.6 .2h.7m-.4-.3h.7m-.5-.1h.7m-.4 0h.7m.2 .1h.7m-.7 .1h.7m-.6-.1h.7m-.2-.1h.7m-.3 0h.7m-.3 .2h.7m-.6 .2h.7m-.4-.1h.7m-.7 .1h.7m-.7-.3h.7m-.7 0h.7m-.5 .3h.7m-.7-.4h.7m-.7 .4h.7m0 0h.7m-.7-.3h.7m.2 0h.7m-.5 .3h.7m-.4 0h.7m-.5 0h.7m-.7-.3h.7m-.3 .3h.7m-.6 0h.7m-.7-.4h.7m-.5 .4h.7m-.7-.2h.7m-.4 .2h.7m-.5-.4h.7m-.5 .1h.7m-.6 .1h.7m-.6-.2h.7m-.4 .2h.7m-.6-.2h.7m-.7 .3h.7m-.5-.2h.7m-.7 .3h.7m-.2-.3h.7m.1 .3h.7m1.6-.2h.7m-.2 .1h.7m-.6-.2h.7m-.6 .3h.7m-.2-.3h.7m.2 .1h.7m1.7 .1h.7m1-.3h.7m-.6 .4h.7m1.3-.3h.7m-23.3 .7h.7m-.1 0h.7m-.5-.1h.7m-.6 .2h.7m0-.3h.7m-.3 .2h.7m-.5-.3h.7m-.6 .3h.7m-.2 .1h.7m.2-.4h.7m-.6 .2h.7m-.6 0h.7m-.3 0h.7m-.6 0h.7m-.6-.2h.7m.4 0h.7m-.5 0h.7m-.3 .3h.7m-.5-.2h.7m-.7 .3h.7m-.3-.2h.7m-.7-.2h.7m-.6 .4h.7m-.5-.2h.7m.1-.2h.7m-.5 .2h.7m-.6-.2h.7m.1 .4h.7m-.6-.3h.7m-.6 0h.7m-.7-.1h.7m-.7 .3h.7m-.6-.1h.7m-.5 0h.7m.1-.2h.7m-.2 .4h.7m-.6-.3h.7m-.2 .1h.7m-.6 .1h.7m-.5 .1h.7m.3 0h.7m-.4-.4h.7m-.3 0h.7m-.4 .1h.7m-.1 .2h.7m-.1-.1h.7m.2-.1h.7m-.7-.1h.7m-.1 0h.7m-.3 .1h.7m-.2 0h.7m-.7 .2h.7m-.5 0h.7m1.4-.3h.7m1.2 .4h.7m.4-.2h.7m2.3-.2h.7m1.1 0h.7m-28.2 .7h.7m-.6-.2h.7m-.4 0h.7m.1 0h.7m-.6 .4h.7m-.6-.3h.7m.7 .1h.7m-.4 .2h.7m-.5-.4h.7m-.5 .4h.7m-.6-.2h.7m-.6-.1h.7m-.3-.1h.7m-.6 .3h.7m-.4-.2h.7m-.7 .1h.7m-.6 .2h.7m-.4-.3h.7m-.5 .2h.7m-.2-.1h.7m-.3 0h.7m-.7 .1h.7m.2-.2h.7m-.6 .2h.7m-.6 0h.7m-.6-.1h.7m-.7-.1h.7m-.6 .1h.7m-.1-.2h.7m-.2 .3h.7m-.5 0h.7m-.5 0h.7m-.6-.2h.7m-.7 .1h.7m-.5-.2h.7m-.6 .2h.7m-.6 .1h.7m-.4 0h.7m-.6-.3h.7m-.4 .1h.7m-.4 0h.7m-.6 .2h.7m-.2-.2h.7m.4 0h.7m-.3-.1h.7m.4 0h.7m-.6 .2h.7m.9 0h.7m.8-.2h.7m3 .2h.7m-.4 .1h.7m.2 .1h.7m2.2-.2h.7m0-.1h.7m4.3 .1h.7m-30.9 .4h.7m-.6 .2h.7m-.6-.3h.7m.9 .3h.7m-.6 0h.7m-.6-.3h.7m-.6 .4h.7m-.7-.3h.7m-.6 .1h.7m0-.1h.7m-.3-.1h.7m-.1 .2h.7m-.1 0h.7m-.4 .1h.7m-.4-.1h.7m-.2 .1h.7m-.5 0h.7m-.2 .1h.7m-.5 0h.7m-.4-.3h.7m0 .2h.7m-.5-.1h.7m-.4-.2h.7m-.6 .3h.7m-.4-.1h.7m-.6 0h.7m-.4-.1h.7m-.7 .3h.7m.2-.1h.7m-.6 .1h.7m-.7-.3h.7m-.2 .1h.7m-.4 .1h.7m-.7-.2h.7m-.4 .2h.7m-.6-.2h.7m-.7 .3h.7m-.1-.2h.7m0 .1h.7m-.1 .1h.7m-.4-.1h.7m.9-.2h.7m.6 .1h.7m.4 .2h.7m.2-.1h.7m-.3 0h.7m-.4-.2h.7m.9 .2h.7m-.4-.2h.7m1.6 .2h.7m8.6-.2h.7m-32.9 .8h.7m-.1 0h.7m-.2-.3h.7m-.6 .2h.7m-.5 .1h.7m-.5-.4h.7m-.7 .4h.7m-.4 0h.7m-.7-.1h.7m-.4-.3h.7m-.6 .4h.7m-.7-.4h.7m-.7 .3h.7m-.5-.2h.7m-.7-.1h.7m-.3 .3h.7m-.6-.1h.7m-.5-.1h.7m-.5 0h.7m-.5 .2h.7m-.3 .1h.7m-.6-.3h.7m-.5 0h.7m-.6 .2h.7m-.6-.1h.7m-.7-.1h.7m-.3 .3h.7m-.6-.3h.7m.8 .3h.7m-.5-.4h.7m-.6 .1h.7m-.5-.1h.7m-.6 0h.7m-.4 .4h.7m-.2-.4h.7m-.6 .4h.7m-.6-.4h.7m-.6 .4h.7m-.3-.4h.7m-.3 .3h.7m-.4 0h.7m-.7 0h.7m-.4-.2h.7m-.5 .1h.7m-.2 .1h.7m-.6-.3h.7m-.2 .4h.7m.5-.2h.7m-.2 .2h.7m-.7-.1h.7m-.6 0h.7m-.5-.1h.7m-.7 0h.7m-.7 0h.7m-.5 .1h.7m-.5 0h.7m-.1-.1h.7m-.6-.1h.7m-.7 .3h.7m.1-.4h.7m.2 .2h.7m0-.2h.7m1.5 .1h.7m-.6 .3h.7m1-.4h.7m.1 .1h.7m-.6 .3h.7m.2-.4h.7m4 .4h.7m1.1-.2h.7m3.1-.2h.7m-33.2 .5h.7m-.7 .2h.7m-.3 0h.7m.4 .1h.7m-.7 0h.7m-.6-.2h.7m-.5 0h.7m-.3 .2h.7m-.6 .1h.7m-.6-.3h.7m-.7 0h.7m-.6 0h.7m-.6 .3h.7m-.6 0h.7m.1-.3h.7m-.7-.1h.7m.2 .1h.7m-.2 .3h.7m.1-.4h.7m-.7 0h.7m-.5 .1h.7m-.6 .2h.7m-.3-.1h.7m0 .2h.7m-.3-.4h.7m-.5 0h.7m-.6 .2h.7m-.6 0h.7m.1-.2h.7m.1 .3h.7m-.6-.3h.7m-.4 .3h.7m-.3-.2h.7m-.2 .1h.7m-.7 .2h.7m-.4-.1h.7m-.5-.3h.7m-.7 .3h.7m-.4-.3h.7m-.4 0h.7m-.5 .1h.7m-.6 .1h.7m-.2-.2h.7m-.6 .1h.7m0-.1h.7m-.3 .4h.7m.4-.4h.7m-.4 .1h.7m.2 .1h.7m.6 0h.7m.9-.1h.7m4.8 .1h.7m-25.3 .4h.7m.2 .2h.7m-.5 .1h.7m.2-.1h.7m-.6 0h.7m-.2 0h.7m-.2-.1h.7m-.1-.2h.7m-.5 .1h.7m-.5 .2h.7m-.6-.3h.7m.1 .1h.7m-.6 .1h.7m-.4 .1h.7m-.6-.2h.7m-.7 0h.7m.3 .2h.7m0-.1h.7m-.6-.2h.7m-.6 .2h.7m-.7-.1h.7m-.4 .2h.7m-.7-.1h.7m-.5-.1h.7m.3 0h.7m-.2 .3h.7m-.4-.1h.7m-.6 0h.7m-.1 0h.7m-.4 0h.7m-.7 0h.7m-.2 .1h.7m-.1 0h.7m.3-.2h.7m-.6 .2h.7m-.5-.1h.7m.2-.3h.7m-.3 .4h.7m.1-.1h.7m2.2-.3h.7m.4 .3h.7m6.7 0h.7m-.5-.2h.7m.5 .3h.7m2.3-.4h.7m-31.7 .5h.7m-.7 .3h.7m.1 0h.7m-.6-.1h.7m.3-.1h.7m-.5 .3h.7m-.5-.3h.7m-.5 0h.7m-.6 .3h.7m-.5-.4h.7m-.5 .4h.7m-.6 0h.7m-.7-.1h.7m-.7-.3h.7m-.4 0h.7m0 .3h.7m-.5 .1h.7m-.7 0h.7m-.1-.1h.7m-.6 .1h.7m-.7 0h.7m-.6-.2h.7m-.7 .2h.7m-.4-.2h.7m-.5 0h.7m-.7-.2h.7m-.4 .2h.7m-.4 0h.7m-.1 .1h.7m-.7 .1h.7m-.3-.3h.7m-.3 .2h.7m-.2-.1h.7m-.7 .1h.7m-.7 0h.7m-.5 .1h.7m-.5-.3h.7m-.2-.1h.7m.3 .1h.7m-.7-.1h.7m-.6 .1h.7m-.7 .2h.7m-.2-.3h.7m-.7 0h.7m-.6 .3h.7m-.6 .1h.7m-.7 0h.7m-.1-.4h.7m-.7 .4h.7m-.2 0h.7m-.3-.3h.7m-.2-.1h.7m-.2 .1h.7m-.4 0h.7m-.7-.1h.7m.1 .1h.7m-.5 0h.7m0 0h.7m-.6 .2h.7m-.3 .1h.7m-.4 0h.7m5.3-.1h.7m-22.3 .2h.7m.2 .2h.7m-.3-.1h.7m-.5 .1h.7m-.6 .2h.7m-.5 0h.7m-.4-.3h.7m-.7 .2h.7m-.3-.2h.7m-.5 .3h.7m-.4-.3h.7m-.7 .3h.7m-.7-.1h.7m-.6-.1h.7m.9-.1h.7m.7 .3h.7m-.6-.3h.7m-.5 .2h.7m-.6 .1h.7m-.7-.3h.7m-.2 .2h.7m-.7 0h.7m-.5-.2h.7m-.4 .1h.7m-.7 .2h.7m-.2-.3h.7m1 .2h.7m-.6-.2h.7m-.4 .1h.7m.7 .2h.7m-.1-.3h.7m-.2 .2h.7m-.2 0h.7m-.4 0h.7m.7 .1h.7m-.6-.1h.7m-.1-.3h.7m.2 .2h.7m-.2 .2h.7m.5-.1h.7m-.5-.3h.7m-.4 .4h.7m0 0h.7m.8-.3h.7m.5 0h.7m19.6 .3h.7m-43.5 .4h.7m-.7-.1h.7m-.5 .1h.7m-.4 .1h.7m-.4-.3h.7m-.3-.1h.7m-.6 .4h.7m-.5-.4h.7m-.3 .2h.7m-.3 .2h.7m-.6 0h.7m-.6-.2h.7m.2-.2h.7m-.1 .4h.7m.6-.2h.7m-.7 0h.7m-.7-.1h.7m1 .1h.7m-.5 .2h.7m-.5-.4h.7m-.5 .1h.7m-.7 0h.7m-.4 .3h.7m-.7 0h.7m-.1-.1h.7m.4 0h.7m.1-.2h.7m-.6-.1h.7m-.4 .4h.7m-.5-.1h.7m-.2-.1h.7m-.2 .2h.7m4.2-.4h.7m-.7 .3h.7m-.7 0h.7m-.6-.3h.7m-.1 .1h.7m-.6 .1h.7m-.4 .2h.7m3.3-.2h.7m-22.3 .5h.7m-.4 .2h.7m-.5-.4h.7m-.6 .2h.7m-.3 .1h.7m-.2-.2h.7m-.5 .2h.7m.8-.1h.7m-.2 0h.7m-.5-.1h.7m-.4 0h.7m-.5 0h.7m-.7 .3h.7m-.4-.3h.7m-.6-.1h.7m-.4 .2h.7m-.5 .2h.7m-.7-.2h.7m-.2-.2h.7m-.2 .4h.7m0-.1h.7m-.4-.1h.7m-.3-.1h.7m-.4-.1h.7m-.6 .4h.7m-.7-.4h.7m-.7 .3h.7m-.5 0h.7m-.3-.2h.7m1 0h.7m-.5 .2h.7m.8-.2h.7m-.4 .1h.7m-.3-.2h.7m-.7 .4h.7m-.6-.3h.7m-.5 .2h.7m-.5-.1h.7m-.1-.2h.7m1.1 .1h.7m.2 0h.7m5.3-.1h.7m-.6 0h.7m5.6 .2h.7m-29.8 .3h.7m0 .1h.7m-.1 .1h.7m1.2-.1h.7m-.5-.1h.7m-.7 .2h.7m0 0h.7m-.7 0h.7m0-.1h.7m-.3-.1h.7m-.6 .2h.7m-.4 .1h.7m-.5-.3h.7m-.5 .4h.7m-.7-.3h.7m-.5 0h.7m-.5 0h.7m.1 .2h.7m-.7-.2h.7m0 0h.7m-.6 .2h.7m.9 0h.7m-.2-.2h.7m-.1 .3h.7m-.5-.3h.7m.7 0h.7m.5-.1h.7m-.1 .4h.7m.1-.4h.7m-.6 .3h.7m.8-.1h.7m.1-.1h.7m-.3 .2h.7m1-.2h.7m-20.2 .6h.7m-.5 0h.7m-.4-.2h.7m-.6 .2h.7m-.6-.2h.7m-.2 .4h.7m-.4 0h.7m-.6-.4h.7m-.7 .3h.7m-.4-.3h.7m-.3 .1h.7m-.6 0h.7m.3 .2h.7m-.3-.1h.7m-.6-.1h.7m.2 .2h.7m-.2-.3h.7m0 .2h.7m.9-.2h.7m-.4 .2h.7m.3 .2h.7m1.2-.2h.7m-.5 .2h.7m-.6-.4h.7m-.6 .2h.7m-.7 0h.7m-.1 0h.7m-.6-.2h.7m.5 .2h.7m-.3-.2h.7m0 .4h.7m-.4-.4h.7m.4 0h.7m1.2 .3h.7m-.6-.1h.7m-.6-.2h.7m.7 0h.7m1.6 0h.7m-22.3 .6h.7m-.7 .3h.7m-.7-.3h.7m-.4 .1h.7m-.2 .1h.7m-.4 0h.7m-.3 0h.7m-.6 0h.7m-.6 0h.7m-.2-.3h.7m.9 .3h.7m-.5-.1h.7m-.5-.2h.7m.2 .1h.7m-.7 .1h.7m.6 .2h.7m-.1-.1h.7m-.4 .1h.7m.2-.4h.7m-.4 0h.7m-.6 .2h.7m-.7 .1h.7m-.7-.3h.7m-.3 .4h.7m-.4-.1h.7m.6-.3h.7m-.2 .1h.7m-.5-.1h.7m-.7 .4h.7m.1-.3h.7m-.6 .2h.7m-.5-.2h.7m-.5 0h.7m-.3 .2h.7m-.5 .1h.7m-.7-.2h.7m.6 0h.7m-.6 .2h.7m.9-.1h.7m-.3 .1h.7m4.3-.2h.7m.2 .2h.7m-23.2 .5h.7m-.7-.1h.7m-.7-.2h.7m-.5 .3h.7m-.1-.3h.7m1.1 .2h.7m-.2 0h.7m0-.1h.7m-.6-.1h.7m-.3-.1h.7m-.4 0h.7m-.6 .3h.7m-.1-.2h.7m-.3 .3h.7m-.6-.4h.7m.1 0h.7m.1 .1h.7m.9 .2h.7m-.7 .1h.7m-.3-.1h.7m-.4-.3h.7m-.5 .1h.7m-.2-.1h.7m-.3 .1h.7m0 .2h.7m.8-.2h.7m-.6 .1h.7m-.6 .2h.7m-.2-.4h.7m.7 .4h.7m1.5-.1h.7m12.2-.1h.7m-31 .7h.7m0-.1h.7m-.1-.1h.7m-.7 .2h.7m-.6-.3h.7m-.4 .2h.7m-.6-.2h.7m0 .3h.7m-.1-.1h.7m-.1-.2h.7m-.6 0h.7m.8 0h.7m-.6-.1h.7m-.4 .2h.7m-.5 .1h.7m-.4-.3h.7m-.4 .2h.7m-.4 0h.7m-.5-.2h.7m-.6 0h.7m-.6 .4h.7m-.3 0h.7m-.5-.4h.7m-.5 0h.7m-.4 .3h.7m-.4-.2h.7m-.6 .1h.7m-.6 0h.7m0-.1h.7m-.6-.1h.7m-.7 .4h.7m0 0h.7m-.6-.4h.7m1.2 .3h.7m.8-.1h.7m-.3 0h.7m.3 .1h.7m0 .1h.7m1.4-.4h.7m2.4 .2h.7m-21.7 .6h.7m0-.2h.7m-.5-.1h.7m.8 .2h.7m.5-.1h.7m-.6 0h.7m-.6 .3h.7m-.2-.3h.7m-.3 0h.7m-.6 0h.7m-.4 .1h.7m-.2 .2h.7m-.7-.4h.7m-.5 .4h.7m.7-.3h.7m1.2 .2h.7m-.4 0h.7m-.5-.2h.7m-.6-.1h.7m-.4 0h.7m.2 .1h.7m-.2 .1h.7m-.2 .2h.7m.5 0h.7m.1-.1h.7m-.5 .1h.7m-.5-.1h.7m12.1-.1h.7m-27.8 .6h.7m.3 .1h.7m-.4-.4h.7m0 0h.7m-.1 0h.7m0 .1h.7m-.5 .3h.7m-.6 0h.7m-.7-.1h.7m-.6-.2h.7m-.6 .2h.7m.1-.3h.7m1.8 .2h.7m.7 .2h.7m2-.2h.7m1.1-.1h.7m.9-.1h.7m2 .3h.7m-.1 0h.7m-16.9 .6h.7m2.5-.1h.7m.7-.3h.7m-.1 .2h.7m.5-.2h.7m1 .1h.7m-.6 .3h.7m-.6-.2h.7m-.6 0h.7m-.1 .1h.7m-.7-.1h.7m.1 0h.7m-.7 .2h.7m.6 0h.7m-.4-.3h.7m1.9-.1h.7m1.4 .2h.7m3.9 0h.7m-23.2 .4h.7m3.9 .1h.7m2.9-.1h.7m0 .2h.7m-.5 .1h.7m.7 0h.7m-.5 0h.7m-.2 0h.7m.6-.2h.7m-13.1 .7h.7m3.1-.2h.7m-.5 .1h.7m.2-.1h.7m-.5 .2h.7m.5-.1h.7m-.4-.1h.7m-.1 .2h.7m-.7-.1h.7m.6-.3h.7m-.5 .2h.7m-.4-.1h.7m-.6 .3h.7m-.3-.2h.7m.3 .1h.7m.8-.3h.7m.3 .1h.7m.6 .3h.7m4.7 0h.7m1.3-.3h.7m.9 .3h.7m-24 .3h.7m1.9-.1h.7m0 .3h.7m.6-.2h.7m.4 .1h.7m-.4-.3h.7m-.2 .2h.7m-.3 .1h.7m-.2-.1h.7m.3-.2h.7m-.4 0h.7m1.5 .2h.7m-.5-.1h.7m-.2 0h.7m-.1 .1h.7m.9 .2h.7m1.9-.4h.7m4.3 .1h.7m3.7 .3h.7m-22.8 .1h.7m-.7 .4h.7m-.2-.3h.7m-.6-.1h.7m.2 .1h.7m.6-.1h.7m-.4 .2h.7m.7-.1h.7m-.7 0h.7m.8 0h.7m1.8-.1h.7m1.6 .1h.7m-15.2 .5h.7m-.7 0h.7m-.2 0h.7m1.5 0h.7m-.4 0h.7m-.2 0h.7m.9-.1h.7m-.6 0h.7m.9 .1h.7m1.7 0h.7m0-.1h.7m-.6 .1h.7m2.2 0h.7m.1 0h.7m2.5 .1h.7m1.2-.1h.7m12.1 0h.7" stroke="#000" stroke-width=".7" opacity="0.65" fill="none" filter="url(#bl)"/><path d="M137.6 113h.7m-17.3 1.2h.7m28.9 .3h.7m-4.1 .7h.7m18.4 0h.7m-27.5 .4h.7m1.7 .1h.7m-33.3 .5h.7m15.4-.4h.7m-1.5 1.2h.7m12.1 0h.7m.6 .5h.7m-8.2 .5h.7m13.6-.2h.7m9.9 .4h.7m-34.9 .3h.7m16.7 .1h.7m-6.2 .5h.7m3.1 .1h.7m9.3-.3h.7m-29.2 .6h.7m2.7 .2h.7m0 .4h.7m17.4 .1h.7m-23.5 .5h.7m6.9-.3h.7m5.4 .2h.7m10.9-.1h.7m-1.8 .7h.7m9 .5h.7m-26.4 .3h.7m4.2 0h.7m8.5 0h.7m-17.8 .3h.7m4.6 .2h.7m11.9 0h.7m-.1-.2h.7m-21.7 .5h.7m10.2 .1h.7m2 .3h.7m-.1-.3h.7m6.5 .1h.7m10.7 .1h.7m-42.4 .2h.7m.8 .1h.7m3.1 .2h.7m16.9 .1h.7m5.3-.4h.7m-6.2 .7h.7m1.5 0h.7m9.7 .1h.7m-37.2 .2h.7m15.3 0h.7m-10.7 .5h.7m4.7 0h.7m8.6 0h.7m8.6 .3h.7m4.8 .1h.7m-36.3 .2h.7m5.1 .2h.7m11.4-.2h.7m2.8 .1h.7m3.1 .2h.7m2.4-.1h.7m.8-.2h.7m14.5 .3h.7m-47.5 .2h.7m2.7 .3h.7m4.4 0h.7m1.3-.3h.7m2.8 .3h.7m10.2-.1h.7m2.1-.1h.7m-9.5 .4h.7m2.5-.1h.7m2.4 .1h.7m.2 .3h.7m10.3-.3h.7m2.3 0h.7m-39.8 .7h.7m17.1-.3h.7m.4 .2h.7m1.5 0h.7m.1 .2h.7m7.5-.4h.7m1.2 .2h.7m1.6 0h.7m-18.4 .7h.7m.2-.2h.7m-.2 .2h.7m2.3 0h.7m-.4 0h.7m6.8 0h.7m9.8-.4h.7m-9 .8h.7m.6-.3h.7m.5 0h.7m-34 .9h.7m13.1 0h.7m2.3-.3h.7m2.4 .2h.7m9.1 .1h.7m1-.3h.7m-26.3 .8h.7m-.1 0h.7m8.9-.2h.7m3.4 0h.7m3-.1h.7m3.7 0h.7m.7 0h.7m-30.7 .8h.7m4.1 0h.7m21.1-.2h.7m.1-.1h.7m1.7-.1h.7m.1 .3h.7m0-.1h.7m.3 .2h.7m-.6-.1h.7m-.2 0h.7m3.7-.1h.7m-22.6 .5h.7m1.2-.1h.7m2.2 .2h.7m.8-.2h.7m1.9-.1h.7m11.3 .1h.7m-31.1 .7h.7m8-.2h.7m2.5-.1h.7m3.3 .3h.7m.2 .1h.7m.2-.3h.7m4.8 .3h.7m.8-.4h.7m5.2 0h.7m-41.3 .8h.7m15.6-.1h.7m-.4-.1h.7m.4 .2h.7m-.5-.3h.7m6.4 .1h.7m7.3 .3h.7m7.5-.2h.7m1.3-.1h.7m1.2 .3h.7m-31.2 .5h.7m3.2 0h.7m3.3-.4h.7m2.1 0h.7m1.9 .3h.7m-.1 .1h.7m2.1-.4h.7m5.8 .4h.7m-.2-.4h.7m-23.5 .5h.7m2 .4h.7m-.7 0h.7m.5-.4h.7m4.2 .4h.7m1.2 0h.7m10-.4h.7m-37.3 .6h.7m18.5-.1h.7m2.6 .3h.7m2.9-.1h.7m2.9 .2h.7m-27.2 .2h.7m4.7 .1h.7m4.1 .2h.7m0-.4h.7m6.9 .4h.7m2.3-.2h.7m-.6 .1h.7m3.6-.3h.7m-.3 .4h.7m2.7-.2h.7m-.5 .2h.7m12-.3h.7m-42.5 .5h.7m2.7 0h.7m1 .1h.7m7 0h.7m.1-.2h.7m-.4 0h.7m-.2 .3h.7m4.2-.3h.7m.6 0h.7m-.3 .3h.7m-.1 .1h.7m.4-.1h.7m-.6-.3h.7m-.4 .3h.7m.4 .1h.7m.3-.1h.7m1-.2h.7m.2 0h.7m-15.4 .8h.7m1.8-.1h.7m.4 0h.7m.4-.3h.7m.9 .4h.7m4.7 0h.7m-.6-.4h.7m.7 .4h.7m8.7 0h.7m-36.2 .5h.7m9.2 0h.7m4.3-.1h.7m2.4-.2h.7m9.5 0h.7m1.5 .2h.7m2.7-.1h.7m-24 .3h.7m2.8 .3h.7m-.6 .1h.7m-.5-.3h.7m.4 .2h.7m.6-.2h.7m-.1 .3h.7m-.5-.4h.7m.2 .4h.7m-.3-.3h.7m.5 0h.7m-.3-.1h.7m-.6 .2h.7m2.2-.1h.7m-.5 0h.7m-.7-.1h.7m1.4 0h.7m1 0h.7m2 0h.7m-16.5 .8h.7m6.7 .1h.7m-.2-.3h.7m2.7 0h.7m1.8 0h.7m2.5 .2h.7m-20.6 .4h.7m1.4 .1h.7m2-.3h.7m2.1 0h.7m-.5 .1h.7m-.7 .3h.7m2.3 0h.7m2.3-.2h.7m1.7 .2h.7m8.1-.3h.7m-27.7 .5h.7m2.2 0h.7m6.8-.1h.7m.1 0h.7m-.1 0h.7m5.6 .4h.7m1.6-.3h.7m6.5 .2h.7m-35 .4h.7m1.3 0h.7m8.2-.1h.7m3.6 .2h.7m1.5-.2h.7m-.4 0h.7m1.4 .2h.7m-.4 0h.7m2.8-.2h.7m-.6 .1h.7m3.2 .1h.7m8.2-.1h.7m-44.9 .7h.7m16-.4h.7m2.7 .1h.7m.9 .1h.7m0-.1h.7m1.4 .3h.7m-.6-.3h.7m0 .1h.7m.4 .2h.7m3.1-.4h.7m20.8 .3h.7m-26.8 .6h.7m0 0h.7m.5-.1h.7m1.5-.1h.7m-.3 .1h.7m1.7-.2h.7m18.9-.1h.7m-40.4 .9h.7m5.8 0h.7m3-.1h.7m5.9-.3h.7m1.3 0h.7m-.1 .3h.7m1.8-.3h.7m-27.4 .7h.7m3.4 .2h.7m7.6-.3h.7m.3 .3h.7m2.4-.1h.7m2.6 .1h.7m.6-.3h.7m.1-.1h.7m.3 .3h.7m1.7 .1h.7m.3-.4h.7m-.4 .1h.7m1.4 .1h.7m-22.4 .7h.7m2.2 0h.7m6.1-.4h.7m.4 0h.7m0 .4h.7m-.2-.2h.7m.1-.1h.7m.9 .1h.7m-.6 0h.7m4.8-.2h.7m.1 0h.7m1 .1h.7m-25.9 .6h.7m4.3 .1h.7m1.4-.1h.7m.3 .2h.7m0 0h.7m1.1 0h.7m-.6 0h.7m3.5 0h.7m-.2 0h.7m14-.3h.7m10.7 .3h.7m-47.5 .1h.7m1.7 .4h.7m4.5 0h.7m2.9-.3h.7m4.3 .2h.7m1-.1h.7m.9 .2h.7m1.3-.2h.7m-.7-.1h.7m5.9 .2h.7m.2 0h.7m8.6-.3h.7m3.3 .1h.7m2.2 .2h.7m-40.1 .6h.7m3.9-.3h.7m1.3 .2h.7m1-.2h.7m2-.1h.7m1.6 .2h.7m1.8 .1h.7m.4-.3h.7m0 .1h.7m.5 0h.7m-.1 .1h.7m2.4 0h.7m-.3 .2h.7m-31.1 .4h.7m4.1 0h.7m.8-.2h.7m.3 .3h.7m2.9-.4h.7m.8 .4h.7m4-.2h.7m.7-.2h.7m3.5 .1h.7m-.4-.1h.7m.6 .4h.7m6.1-.4h.7m-22.5 .6h.7m3.3 .2h.7m-.6-.2h.7m.6 .1h.7m1.9 0h.7m2.9-.2h.7m3 0h.7m0 0h.7m.2 .2h.7m2.6 .2h.7m-27.7 .1h.7m1.2 .4h.7m5-.1h.7m.6-.3h.7m-.2 .1h.7m1.6 .1h.7m2.6-.2h.7m2.3 .3h.7m3.1-.3h.7m-.5 .3h.7m-21.5 .3h.7m11 .2h.7m.1-.2h.7m-.7 0h.7m1.5 0h.7m-.5 .2h.7m6.5 0h.7m-.4 .1h.7m.9-.2h.7m2.6-.2h.7m-28.1 .7h.7m9.1-.2h.7m.3 .4h.7m20.4-.3h.7m-18.3 .5h.7m4.2 .1h.7m.8-.2h.7m1.2 .4h.7m6.1-.3h.7m2.1 .3h.7m6.7 0h.7m-44.3 .5h.7m7-.3h.7m4.6 0h.7m2.9 .1h.7m1.4-.1h.7m-.4 .1h.7m2.2 .1h.7m-12.6 .2h.7m5.2 .2h.7m.9 .1h.7m-.6-.3h.7m2.9 0h.7m1.2 0h.7m-.4 0h.7m1.7 .2h.7m3.2 .2h.7m-.3-.4h.7m-33.4 .7h.7m8.5-.1h.7m.6 .3h.7m-.1-.4h.7m1.5 .3h.7m20.9 .1h.7m.1-.1h.7m-28.6 .3h.7m6.3-.1h.7m.2 .2h.7m5.6-.2h.7m33.7 .1h.7m-47 .4h.7m3.1 .2h.7m-.5 .1h.7m20.1-.2h.7m-29.3 .5h.7m18.9 0h.7m-7.8 .5h.7m1 .2h.7m8.8-.2h.7m7.7 .3h.7m-37.4 .3h.7m3.6-.2h.7m7.3 .1h.7m0 .3h.7m.5-.1h.7m3.1-.1h.7m40.3-.2h.7m-54.3 .7h.7m9.9 .2h.7m8.9-.2h.7m0-.2h.7m26.6 0h.7m-52 .8h.7m5.7-.2h.7m8.1-.1h.7m0 .3h.7m1.8-.1h.7m8.8-.1h.7m-14.1 .5h.7m-.2 .1h.7m-5.8 .5h.7m5.6-.2h.7m7.5 .7h.7m22.2 .1h.7m-47.7 .6h.7m5.7-.2h.7m1.7-.1h.7m6.5 .2h.7m13 0h.7m-14.7 .2h.7m1.2 0h.7m4.3 .1h.7m-12.8 .8h.7m40.6-.1h.7m-38.1 .2h.7m5.6 .1h.7m-19.3 .7h.7m9.4 .1h.7m-17 .5h.7m25.4 0h.7m-20.9 .4h.7m8.8-.3h.7m31.4 .3h.7m-27 .2h.7m-13.9 .6h.7m10.8-.1h.7m1.9 .4h.7m.4 .9h.7m-22.7 .6h.7m8.5-.3h.7m-10.8 .5h.7m15.7 .1h.7m1 .7h.7m-17.2 1.3h.7m16.9 1h.7m.6-.2h.7m37.2 0h.7m-51.5 1.2h.7m5.5 .7h.7m38.4-.3h.7m-34 .8h.7m-17.5 .2h.7" stroke="#000" stroke-width=".7" opacity="0.45" fill="none" filter="url(#bl)"/></g><rect x="105.6" y="112.4" width="64.6" height="50.6" fill="none" stroke="#9a9a9a" stroke-width="0.9"/><path d="M105.6 163v1.6M105.6 163h-1.6M121.8 163v1.6M105.6 150.3h-1.6M137.9 163v1.6M105.6 137.7h-1.6M154 163v1.6M105.6 125.1h-1.6M170.2 163v1.6M105.6 112.4h-1.6" stroke="#999" stroke-width=".6" fill="none"/><rect x="126.5" y="116.4" width="29" height="24.6" fill="none" stroke="#a0a0a0" stroke-width="0.75"/><path d="M149 126.5l3.4 -2.2v1.35h2.6v1.7h-2.6v1.35z" fill="#000"/><text x="158" y="129.4">1.9</text><clipPath id="c4"><rect x="179.6" y="112.4" width="64.9" height="50.6"/></clipPath><g clip-path="url(#c4)"><ellipse cx="186.5" cy="155" rx="10" ry="11" fill="url(#g)" opacity="0.9"/><ellipse cx="189" cy="149" rx="11" ry="17" fill="url(#g)" opacity="0.4" transform="rotate(17.2 189 149)"/><path d="M206.8 114.7h.7m-16 7.1h.7m-3.3 .5h.7m13.3 .6h.7m.2 0h.7m-23.2 .7h.7m2.6-.1h.7m4.3 .2h.7m10.1 .3h.7m-.5 0h.7m-14.9 .5h.7m5.4-.1h.7m-.7 .2h.7m-7.1 .2h.7m5.4 .4h.7m8.8-.1h.7m-10 .2h.7m9.2 .3h.7m-10.3 .4h.7m-8.5 .8h.7m25.6 .4h.7m-26 .5h.7m2.4-.2h.7m18.8 .2h.7m-21 .3h.7m7.2 .2h.7m1.2-.4h.7m.1 0h.7m-10.3 .9h.7m-1.3 .4h.7m1.8-.2h.7m6 .1h.7m3.2-.1h.7m-19.4 .7h.7m9.7-.1h.7m4.5 .1h.7m1.9 0h.7m-8.1 .5h.7m1.5-.1h.7m.2 0h.7m-.4 .2h.7m-9.7 .3h.7m1.6 .2h.7m.2 0h.7m7.8-.2h.7m1.1 0h.7m-17.3 .3h.7m1.3 .3h.7m1.6 0h.7m-.6 .1h.7m-.2 0h.7m-.4-.3h.7m.7 0h.7m-.5 .2h.7m8.2-.3h.7m-.7 .1h.7m1.2 .2h.7m7.4-.3h.7m-27.8 .6h.7m.5 .2h.7m3.3-.2h.7m-.6 .1h.7m1.3 0h.7m1.6 .2h.7m.2-.4h.7m-.5 .3h.7m2.5-.1h.7m0 .1h.7m-4.2 .6h.7m-.1-.2h.7m2.6-.2h.7m.4 .3h.7m4.8 0h.7m-23.9 .4h.7m5.5-.2h.7m-.3 .4h.7m5.2-.3h.7m-.6-.1h.7m-.6 .2h.7m.1-.1h.7m-.2 .3h.7m-6.9 .1h.7m-.6 .1h.7m-.6 .1h.7m-.1 .2h.7m5.9-.1h.7m-15.6 .3h.7m1 .3h.7m8.4-.4h.7m1.6 .2h.7m1.3 .1h.7m-.6-.2h.7m-18.2 .7h.7m7.3 0h.7m-.6-.1h.7m.4-.1h.7m2.9-.1h.7m1.2 .1h.7m-.6 0h.7m.8 .2h.7m.2-.2h.7m8.7-.1h.7m-22.5 .9h.7m0-.1h.7m7.2-.3h.7m-.4 .2h.7m.2 .2h.7m-.6-.4h.7m3.8 .4h.7m1.9-.1h.7m3.7-.3h.7m-24.9 .7h.7m-.6 0h.7m3.9 0h.7m1.5 0h.7m1 .2h.7m-.3-.1h.7m1-.1h.7m1.9-.1h.7m4.4-.1h.7m1.2 0h.7m.4 .2h.7m4.2 .1h.7m-17.1 .6h.7m1-.1h.7m.7 .1h.7m2.6 0h.7m2.1-.2h.7m-.7-.1h.7m3.1 0h.7m-15.6 .8h.7m.4-.3h.7m-.4 0h.7m.8 .1h.7m-.6 .2h.7m.3 0h.7m2.1-.1h.7m-.1 0h.7m4.2-.3h.7m.5 0h.7m-23 .5h.7m-.4 0h.7m4.1 .4h.7m-.3 0h.7m1.1-.1h.7m.4-.1h.7m1.3 .1h.7m1-.1h.7m-.4 0h.7m.5-.2h.7m2.3 0h.7m.8 .4h.7m1.8-.4h.7m10.2 0h.7m-31.4 .5h.7m2.1 .3h.7m1.1 .1h.7m1.5-.1h.7m.1-.1h.7m2.2-.1h.7m1.7 0h.7m2.1 .2h.7m.4-.1h.7m3.1-.2h.7m-17.3 .8h.7m-.5-.3h.7m-.6 .2h.7m.6 0h.7m1.3-.1h.7m.7 0h.7m-.1 .3h.7m0-.2h.7m-.2 .1h.7m.5-.2h.7m-.6 .1h.7m3.8 0h.7m15.1 0h.7m-31.7 .5h.7m.2 .1h.7m1.9-.3h.7m2.3 .4h.7m-.1-.4h.7m-.7 0h.7m.4 .4h.7m1.7-.1h.7m.9-.3h.7m.4 .3h.7m1.2-.2h.7m.6 0h.7m-.5-.1h.7m1.4 .1h.7m12-.1h.7m-31 .9h.7m.4-.2h.7m.3-.2h.7m1 .1h.7m.5 .3h.7m1.1-.1h.7m.8-.1h.7m-.5 0h.7m6.2-.1h.7m-.3 0h.7m10.8 .1h.7m-30.1 .6h.7m1.5-.3h.7m1.2 0h.7m.4 0h.7m.8 0h.7m-.2 .4h.7m.9-.1h.7m-.7-.1h.7m7.5 0h.7m.5 .1h.7m4.2 0h.7m5.9 0h.7m2-.2h.7m2.9 .3h.7m-36.4 .1h.7m.6 .4h.7m-.3-.1h.7m1.4-.2h.7m-.2 0h.7m.9-.1h.7m-.6 .3h.7m1-.3h.7m-.6 .1h.7m.4 .1h.7m-.3-.1h.7m3 .3h.7m1.6 0h.7m-.2-.2h.7m.4-.2h.7m3.4 .1h.7m-.3 .1h.7m2.9 0h.7m1.3 .2h.7m-.3-.2h.7m-29.8 .7h.7m.4-.1h.7m3.1 .1h.7m2.2-.3h.7m-.3 .3h.7m-.1 0h.7m-.2-.2h.7m0 0h.7m.1 .2h.7m-.7-.4h.7m.1 .3h.7m-.6 0h.7m.5 .1h.7m.2-.2h.7m-.4-.2h.7m.6 .2h.7m.1 .1h.7m-.4 0h.7m-.5-.3h.7m-.7 .4h.7m.5-.3h.7m1.5 .2h.7m5 0h.7m-22.5 .6h.7m.6-.2h.7m-.6 .1h.7m1.7-.2h.7m-.1 0h.7m1.4 0h.7m.2 .3h.7m-.1-.2h.7m1-.2h.7m-.4 .3h.7m2.2 0h.7m.3 .1h.7m1.9-.1h.7m-.3-.3h.7m1 .3h.7m1.1 .1h.7m0 0h.7m.1-.1h.7m-27.4 .2h.7m-.5 .1h.7m1.8 0h.7m-.3 .3h.7m.4-.4h.7m-.6 0h.7m.5 .3h.7m-.6-.3h.7m0 .1h.7m.1 .3h.7m-.4-.4h.7m.4 0h.7m1.3 .3h.7m-.2 .1h.7m2.9-.1h.7m1.2 0h.7m2.6-.2h.7m-.1 0h.7m.7 0h.7m2.9 0h.7m-24.3 .6h.7m1.4-.1h.7m.5 .2h.7m.4-.2h.7m2.2 .2h.7m1.1-.2h.7m0 0h.7m.3 .1h.7m1.8-.1h.7m1.2 .3h.7m.3 0h.7m1.1-.4h.7m.7 .1h.7m.4 .1h.7m-.5 0h.7m-.7-.2h.7m3.7 .3h.7m1.6 .1h.7m-30.2 .2h.7m0 .3h.7m1.5-.2h.7m-.6 0h.7m1.2-.1h.7m-.3 0h.7m.4 0h.7m0 .1h.7m.2 .2h.7m-.6-.1h.7m-.2-.3h.7m.7 .1h.7m.7 .3h.7m-.5 0h.7m-.7-.2h.7m1.1 .1h.7m.5-.2h.7m.8 .2h.7m-.7 0h.7m.5-.2h.7m-.3 .1h.7m2.4-.2h.7m.4 .3h.7m5 .1h.7m3.6-.3h.7m-29.9 .7h.7m-.5 0h.7m-.3-.3h.7m.2 .1h.7m-.3 .2h.7m1.1 0h.7m.3 .1h.7m.1-.4h.7m-.2 .2h.7m-.2-.1h.7m-.6 0h.7m-.1-.1h.7m-.2 .1h.7m2.1-.1h.7m.4 .4h.7m-.4-.4h.7m-.6 .2h.7m-.6 .1h.7m-.4-.2h.7m.5 .3h.7m.2-.2h.7m.6-.1h.7m-.2-.1h.7m-.6 .2h.7m.8-.1h.7m4.3-.1h.7m-26.3 .9h.7m-.7-.1h.7m-.7-.3h.7m4.6 .1h.7m.2 .1h.7m-.7-.2h.7m.1 .3h.7m.3-.1h.7m-.6 .2h.7m1.2-.1h.7m-.1 .1h.7m2.7 0h.7m.5-.4h.7m-.7 .3h.7m.2-.3h.7m.4 .2h.7m-15.7 .4h.7m-.6 .3h.7m1.4-.4h.7m-.4 .1h.7m-.4 .3h.7m.8-.4h.7m-.4 .1h.7m-.7 .3h.7m-.5-.2h.7m.2 0h.7m.1-.2h.7m-.6 0h.7m-.5 .3h.7m-.4-.2h.7m-.4 0h.7m-.5 0h.7m-.7 .1h.7m-.7-.2h.7m-.2 .1h.7m0 .2h.7m-.6 .1h.7m-.6-.2h.7m.4 .1h.7m-.6-.2h.7m-.2-.1h.7m.7 .3h.7m1.2-.3h.7m.5 .1h.7m-.6 0h.7m2.4-.1h.7m1.9 .4h.7m1.5 0h.7m9.3-.1h.7m-34 .5h.7m.9 .1h.7m.8-.3h.7m.1 .3h.7m.6-.4h.7m-.7 .1h.7m-.7 .3h.7m.3-.1h.7m-.7-.1h.7m1.6 0h.7m.3-.1h.7m-.2-.1h.7m0 .3h.7m.2-.2h.7m-.4 .1h.7m.9 .1h.7m-.6-.2h.7m-.1 .2h.7m-.6-.2h.7m-.6 .1h.7m.1 .2h.7m-.7-.2h.7m5.5 .2h.7m4.9-.3h.7m.3-.1h.7m-29.3 .5h.7m.3 .3h.7m-.3 .1h.7m-.2-.3h.7m-.7-.1h.7m-.5 .2h.7m-.2-.1h.7m-.6 .2h.7m-.4 .1h.7m-.3-.4h.7m1.5 .2h.7m1.1 0h.7m-.6-.1h.7m-.6 .3h.7m-.3 0h.7m-.6 0h.7m-.5 0h.7m.9-.3h.7m.6-.1h.7m-.6 0h.7m1 .2h.7m.7 .1h.7m-.3 0h.7m.5-.3h.7m.3 .2h.7m1.1-.1h.7m-20.6 .5h.7m.4 .2h.7m-.5-.2h.7m-.6-.1h.7m0 .2h.7m2.6 .1h.7m-.5-.2h.7m-.2 0h.7m-.7-.1h.7m-.4 .2h.7m.2 .2h.7m-.4-.3h.7m-.6-.1h.7m-.2 .2h.7m-.7 .2h.7m-.6 0h.7m.2-.2h.7m2.5-.2h.7m-.5 .3h.7m-.3-.2h.7m-.3 .3h.7m.1 0h.7m-.6-.4h.7m-.6 0h.7m-.5 .3h.7m-.6-.2h.7m1.1 .2h.7m.7-.1h.7m.1-.2h.7m1.1 .2h.7m.7-.1h.7m5.2 .1h.7m-28.3 .5h.7m-.7 0h.7m-.6 0h.7m2.2 .1h.7m-.4 .1h.7m.9-.4h.7m-.4 .4h.7m.8-.3h.7m-.3 0h.7m-.6 .3h.7m-.6-.3h.7m-.6-.1h.7m.6 .3h.7m-.6-.3h.7m.6 .1h.7m.4 .2h.7m-.4-.1h.7m.7-.2h.7m-.6 .2h.7m1.7-.1h.7m-.4 .3h.7m-.2-.3h.7m0 .2h.7m.5 0h.7m.7 .1h.7m3.3 0h.7m14.6-.4h.7m-39.3 .5h.7m1.4 .3h.7m-.6-.2h.7m.4 .3h.7m.4-.3h.7m-.7-.1h.7m-.7 .4h.7m.3-.3h.7m-.6 .3h.7m.1-.3h.7m-.7-.1h.7m-.6 .1h.7m-.2 .1h.7m-.5-.2h.7m.6 .2h.7m-.7 .2h.7m1-.4h.7m-.4 0h.7m0 .1h.7m1.1 0h.7m-.1-.1h.7m1.6 .4h.7m-.6-.2h.7m1 .1h.7m.1 .1h.7m1.5-.1h.7m-.4-.3h.7m.5 0h.7m.3 0h.7m-.3 .4h.7m-.7-.1h.7m4.4 .1h.7m1-.2h.7m2 .2h.7m-33.6 .2h.7m2.5 .2h.7m-.6 .1h.7m-.6-.4h.7m-.3 .4h.7m0 0h.7m-.3-.3h.7m.4 .2h.7m.9-.2h.7m-.6 .3h.7m-.6-.2h.7m-.6-.2h.7m-.6 0h.7m-.5 0h.7m-.6 .1h.7m-.6 .1h.7m-.3 0h.7m-.4 .2h.7m-.4 0h.7m.1-.4h.7m0 0h.7m.5 .1h.7m-.6 0h.7m-.2 .1h.7m1.4-.2h.7m1.1 .1h.7m-18.2 .6h.7m-.3 0h.7m-.1 .2h.7m-.4-.4h.7m-.3 .4h.7m-.1-.3h.7m.1 0h.7m-.6 .2h.7m0 .1h.7m.3 0h.7m.3-.2h.7m-.6-.1h.7m0-.1h.7m-.6 .2h.7m1.2 .2h.7m-.5-.4h.7m-.3 .2h.7m-.3 .1h.7m-.3 0h.7m-.4 .1h.7m-.3-.1h.7m-.7-.1h.7m-.4-.2h.7m-.5 0h.7m.1 .2h.7m.5-.2h.7m.3 .4h.7m-.7-.1h.7m-.3-.2h.7m.1 .1h.7m.9 .2h.7m-.5-.2h.7m5.9 .1h.7m.3 0h.7m2.4 .1h.7m-28.6 .5h.7m0-.3h.7m-.4-.1h.7m-.2 .4h.7m-.6-.1h.7m-.6 .1h.7m.1 0h.7m-.5-.3h.7m-.3 .2h.7m-.2 0h.7m-.4-.2h.7m-.5 0h.7m-.7-.1h.7m-.4 .1h.7m.2 .2h.7m-.2 0h.7m-.2-.1h.7m.3 .2h.7m-.7-.3h.7m-.6 .2h.7m-.1-.1h.7m-.5 .2h.7m.4-.4h.7m.1 .2h.7m0-.2h.7m-.5 0h.7m-.6 .4h.7m-.5-.1h.7m-.5-.2h.7m-.5 .2h.7m-.7 .1h.7m-.7-.2h.7m-.1-.1h.7m.1 .1h.7m1.8 .1h.7m.5-.1h.7m-.4-.1h.7m.4-.1h.7m0 .4h.7m2.1-.3h.7m-.1 .2h.7m.3-.1h.7m-21.6 .6h.7m.5-.1h.7m-.7 .2h.7m-.2-.2h.7m.5-.2h.7m-.4 .3h.7m-.7 .1h.7m-.5-.3h.7m-.6 .3h.7m.1-.2h.7m-.4 0h.7m-.1 .1h.7m-.1-.1h.7m-.5 0h.7m-.2 .1h.7m-.3 .1h.7m-.7-.2h.7m-.5-.1h.7m1.7 .2h.7m-.4 0h.7m-.2-.2h.7m-.1 .1h.7m-.7-.2h.7m1.1 .1h.7m.3 .3h.7m1.5 0h.7m.1-.3h.7m1.9 .1h.7m.5 .2h.7m1.5-.2h.7m-25.8 .5h.7m.6-.1h.7m1.1-.1h.7m-.1 .4h.7m-.6 0h.7m-.3-.1h.7m-.6-.2h.7m-.3-.1h.7m-.7 .4h.7m-.5 0h.7m0-.4h.7m-.5 .1h.7m-.6 .2h.7m-.5 0h.7m-.4 0h.7m-.4-.2h.7m-.5 0h.7m-.3 .1h.7m-.6 .1h.7m-.7-.3h.7m.2 .3h.7m1.6-.3h.7m-.4 .2h.7m0 0h.7m-.6 .1h.7m-.1-.1h.7m.2 .2h.7m-.6-.2h.7m-.6 .2h.7m1 0h.7m-.5 0h.7m-.3 0h.7m-.5-.1h.7m1.7 0h.7m-.2-.1h.7m.3 0h.7m3.2-.1h.7m-.1-.1h.7m-25 .5h.7m.3 .4h.7m-.5-.1h.7m-.1-.1h.7m-.2-.2h.7m.4 .2h.7m-.4 .2h.7m-.6-.4h.7m-.3 .3h.7m-.6-.3h.7m.1 .2h.7m-.7-.1h.7m-.5 .3h.7m-.3-.3h.7m-.6 .3h.7m.7-.3h.7m-.6 .3h.7m-.4-.1h.7m-.3-.1h.7m-.6 .1h.7m.1 0h.7m-.4 0h.7m-.6-.2h.7m-.6 0h.7m-.6 .1h.7m-.4-.2h.7m-.6 .3h.7m-.5-.1h.7m.7-.2h.7m2.1 .1h.7m-.6 .2h.7m1.5 .1h.7m-13.7 .2h.7m-.7 .1h.7m-.4 0h.7m-.6 .2h.7m-.4-.4h.7m-.6 .2h.7m-.4 .1h.7m0 0h.7m-.5-.1h.7m-.4 0h.7m.3 .2h.7m-.6 0h.7m-.4 0h.7m-.4-.4h.7m-.6 .1h.7m-.7 .2h.7m-.6-.2h.7m-.5-.1h.7m-.5 .3h.7m-.6-.3h.7m-.3 .2h.7m-.6 .1h.7m-.6-.2h.7m-.6 0h.7m-.4-.1h.7m-.5 .4h.7m-.6-.4h.7m-.6 .3h.7m-.6-.2h.7m-.2 .2h.7m-.7-.1h.7m-.4-.2h.7m-.3 0h.7m-.7 .3h.7m.1 .1h.7m-.1-.3h.7m-.5 .2h.7m-.2-.3h.7m.8 .2h.7m4.4-.2h.7m6.4 .1h.7m-26.7 .5h.7m-.3 0h.7m-.2 .1h.7m0 .2h.7m-.4 0h.7m-.3-.2h.7m-.1 0h.7m-.3 .2h.7m-.7-.3h.7m-.6 .1h.7m-.6-.1h.7m-.6 .2h.7m-.5 0h.7m-.6-.1h.7m-.7-.2h.7m-.7 .2h.7m-.5-.1h.7m-.6 .2h.7m-.4 .1h.7m-.5-.2h.7m-.4 0h.7m-.5-.2h.7m-.5 0h.7m-.6 .2h.7m-.1-.2h.7m-.5 .1h.7m.8 .2h.7m-.4-.2h.7m-.6 0h.7m-.2 .1h.7m-.4 .1h.7m-.4-.3h.7m-.4 .3h.7m0 0h.7m.3-.1h.7m-.5 0h.7m2 .2h.7m3.2-.1h.7m-19.4 .6h.7m-.7 0h.7m1.9-.3h.7m-.6 .3h.7m0-.3h.7m-.7 .3h.7m.8 0h.7m-.5-.4h.7m-.6 .1h.7m.8 .1h.7m-.4-.2h.7m-.3 .3h.7m-.3-.2h.7m-.7 .3h.7m-.2-.4h.7m-.7 .3h.7m.7 .1h.7m-.4 0h.7m-.5-.3h.7m0-.1h.7m-.3 .4h.7m.3-.2h.7m-.7 0h.7m-.6 .2h.7m.5-.3h.7m-.2 .2h.7m-.3-.3h.7m-.3 .2h.7m.5-.1h.7m-.3 .1h.7m.7-.1h.7m.4-.1h.7m-20 .6h.7m-.4 .2h.7m.4-.3h.7m.1 0h.7m-.1 .3h.7m-.5-.2h.7m-.3 .1h.7m-.5 .1h.7m-.4-.3h.7m0 .1h.7m-.6 0h.7m-.6 .1h.7m-.3 .2h.7m-.4-.1h.7m0-.1h.7m-.6-.1h.7m-.3 0h.7m-.3 .3h.7m-.5-.3h.7m-.3 .2h.7m-.3 .1h.7m-.7-.2h.7m-.7 .2h.7m-.2 0h.7m-.5-.4h.7m-.7 .1h.7m-.1 .2h.7m-.3-.3h.7m-.4 .2h.7m-.7 .1h.7m-.3 0h.7m-.5-.3h.7m-.6 .2h.7m-.5-.1h.7m-.7 .1h.7m-.4 .2h.7m-.7-.2h.7m-.3 .2h.7m-.4-.2h.7m.2 0h.7m-.2-.2h.7m.6 .4h.7m-.6 0h.7m-.2-.3h.7m-.7 0h.7m.8 0h.7m-.1 .1h.7m3.7-.1h.7m5 0h.7m-28 .8h.7m-.7-.2h.7m0 .1h.7m-.3-.1h.7m-.6-.1h.7m0 .3h.7m.2 0h.7m-.2-.2h.7m-.5-.1h.7m-.5 .3h.7m-.6-.2h.7m-.2 0h.7m-.5 .1h.7m-.7-.3h.7m-.3 .4h.7m-.7-.2h.7m-.5 .1h.7m-.5-.3h.7m-.2 .4h.7m.9-.4h.7m-.5 .4h.7m-.5-.4h.7m-.5 .1h.7m-.6-.1h.7m-.6 .2h.7m-.6-.2h.7m-.5 .3h.7m-.4-.3h.7m.6 .2h.7m-.3 .2h.7m-.7-.1h.7m-.5-.3h.7m-.4 0h.7m1.2 .1h.7m-.7 .2h.7m-.3 0h.7m-.5-.2h.7m1.3 0h.7m-.3-.1h.7m1.2 .1h.7m2.4 0h.7m3.1 .2h.7m-24.9 .3h.7m.8 .3h.7m0-.2h.7m-.6-.1h.7m-.5 .1h.7m-.7-.2h.7m-.7 .2h.7m.3-.2h.7m-.7 .2h.7m-.6-.1h.7m-.6 .1h.7m-.3-.2h.7m-.2 .3h.7m-.2-.1h.7m-.5 .1h.7m-.6-.2h.7m-.7 .3h.7m-.6-.3h.7m-.2 .1h.7m-.6 0h.7m-.5 .2h.7m-.6-.1h.7m-.7 .1h.7m-.6-.3h.7m-.3 .2h.7m-.6-.2h.7m-.6 .2h.7m-.3-.3h.7m-.1 .1h.7m-.7 .1h.7m-.7 0h.7m-.2 .2h.7m-.6-.4h.7m-.2 .4h.7m-.2-.2h.7m-.7 .2h.7m.4-.2h.7m-.3 0h.7m-.5 .2h.7m-.3 0h.7m-.3-.2h.7m-.2-.2h.7m-.2 .3h.7m-.1 .1h.7m.1-.2h.7m-.6 .1h.7m-.5-.1h.7m-.7 0h.7m.1 .2h.7m1.5 0h.7m3.9 0h.7m4.5 0h.7m-29.2 .1h.7m-.6 .4h.7m-.7-.1h.7m-.7 .1h.7m-.6-.3h.7m-.4 .3h.7m-.2-.3h.7m-.2 .3h.7m-.7-.1h.7m.5 .1h.7m-.5-.4h.7m-.6 .1h.7m-.7 .1h.7m-.6 .2h.7m-.1-.2h.7m.6-.1h.7m-.6 .3h.7m-.3-.3h.7m-.7-.1h.7m-.3 0h.7m-.3 .3h.7m-.5-.1h.7m-.6-.2h.7m-.5 .3h.7m-.5-.3h.7m-.1 .4h.7m-.6-.3h.7m-.3 0h.7m-.6 .3h.7m-.2-.4h.7m-.3 0h.7m-.5 .2h.7m-.3 .2h.7m-.4-.4h.7m-.6 .2h.7m.1 .2h.7m-.6-.3h.7m-.5 .1h.7m-.3 .2h.7m-.5-.3h.7m-.3 .2h.7m-.4-.1h.7m-.6-.1h.7m-.5 .3h.7m-.4-.2h.7m0 .1h.7m-.4-.1h.7m1.2-.2h.7m.3 0h.7m-.6 .1h.7m-16.6 .4h.7m-.6 0h.7m-.4 .1h.7m-.5 .3h.7m-.3-.2h.7m-.4 .2h.7m-.6-.4h.7m-.5 .4h.7m-.4 0h.7m-.6-.1h.7m-.7-.1h.7m-.2 .1h.7m-.1 0h.7m-.1 .1h.7m-.6-.3h.7m-.6 .2h.7m-.6-.3h.7m-.6 .4h.7m-.6 0h.7m-.5-.3h.7m-.5 .3h.7m-.7-.2h.7m-.3 .1h.7m-.7 0h.7m-.2-.3h.7m-.6 .3h.7m-.5 .1h.7m-.6-.1h.7m-.5 0h.7m-.1-.2h.7m-.7-.1h.7m-.6 0h.7m-.6 .4h.7m-.2-.4h.7m-.7 .1h.7m-.6 .2h.7m-.6 0h.7m-.7-.3h.7m-.1 0h.7m-.3 .4h.7m.1-.2h.7m-.7 .2h.7m-.2-.4h.7m-.5 .2h.7m-.7 .1h.7m-.2 0h.7m1.1-.3h.7m.6 .2h.7m3.1 .1h.7m.1-.2h.7m-20.2 .6h.7m-.6-.1h.7m.4 0h.7m-.1 .2h.7m-.5 .1h.7m-.6-.3h.7m-.6 .1h.7m-.1 0h.7m-.5 .1h.7m-.4-.3h.7m0 .4h.7m-.3-.4h.7m-.6 .3h.7m-.4-.1h.7m-.6 0h.7m-.5-.1h.7m-.5 .1h.7m-.4-.2h.7m-.6 .4h.7m-.1 0h.7m.2-.2h.7m-.6-.2h.7m.1 .1h.7m-.6 .2h.7m-.6 .1h.7m.2-.1h.7m-.5 0h.7m-.7-.1h.7m-.3-.2h.7m-.7 .2h.7m-.5 .1h.7m-.5 0h.7m-.5-.1h.7m-.6-.2h.7m.2 0h.7m-.1 0h.7m-.3 .1h.7m-.6-.1h.7m-.4 .3h.7m0-.2h.7m.3 .1h.7m0-.2h.7m.1 .4h.7m5.6-.2h.7m-.4-.2h.7m1 .1h.7m-24.9 .4h.7m-.5 0h.7m.3 .1h.7m-.3-.1h.7m-.1 .3h.7m-.3 0h.7m-.7-.3h.7m-.6 .2h.7m.2 .1h.7m-.3 0h.7m-.2-.3h.7m-.6 .2h.7m-.2 .2h.7m-.7-.1h.7m-.7-.1h.7m-.6-.2h.7m-.5 .3h.7m-.7 .1h.7m0-.2h.7m-.5 .2h.7m-.3 0h.7m-.5-.3h.7m.1 .2h.7m-.6-.3h.7m-.6 0h.7m-.5 .4h.7m.1-.1h.7m-.5 .1h.7m0 0h.7m-.7 0h.7m-.3-.3h.7m-.4-.1h.7m-.7 .1h.7m-.7 .3h.7m-.4-.3h.7m-.3-.1h.7m-.6 .2h.7m-.7 .1h.7m.7-.2h.7m-.6 0h.7m1.6 .2h.7m2-.3h.7m-.6 .2h.7m-.5 .1h.7m1.4-.2h.7m-20.9 .8h.7m-.3 0h.7m-.1 0h.7m0 0h.7m-.6 0h.7m-.5-.2h.7m-.2 0h.7m-.5-.2h.7m-.3 0h.7m-.5 .4h.7m-.6-.1h.7m-.5 .1h.7m-.5 0h.7m-.2-.1h.7m-.4-.3h.7m-.7 .4h.7m-.6-.4h.7m-.5 .3h.7m-.5 0h.7m-.6 0h.7m-.7 .1h.7m-.4-.2h.7m-.6 .1h.7m-.5-.2h.7m-.2-.1h.7m-.5 .2h.7m-.1-.2h.7m-.7 .1h.7m-.1 .3h.7m-.2-.3h.7m-.3 .3h.7m-.5-.3h.7m-.6 .2h.7m-.4-.1h.7m-.7 .1h.7m-.5-.2h.7m-.6 0h.7m-.1-.1h.7m-.5 .1h.7m-.1 .1h.7m-.6-.2h.7m-.7 .2h.7m-.2-.2h.7m0 .2h.7m-.7-.1h.7m-.5-.1h.7m-.6 .2h.7m-.5 0h.7m-.2 0h.7m-.5 .2h.7m6.1-.1h.7m5.2-.1h.7m-26.8 .5h.7m-.1 .2h.7m-.5-.3h.7m.2 0h.7m-.5 .1h.7m-.6 .1h.7m-.5-.1h.7m-.6 .1h.7m-.5 .1h.7m-.7 0h.7m-.3-.2h.7m-.6-.1h.7m.1 .2h.7m-.6-.2h.7m-.7 .1h.7m-.7 0h.7m-.6 .1h.7m-.7 0h.7m-.4-.3h.7m-.5 .2h.7m-.4 .1h.7m-.4 0h.7m-.2-.1h.7m-.6 .2h.7m.1 0h.7m-.6-.2h.7m-.1 0h.7m-.4-.1h.7m-.7 .1h.7m-.7-.2h.7m-.6 0h.7m-.1 .1h.7m-.5 .1h.7m-.1-.1h.7m-.4 0h.7m-.3 0h.7m-.6-.1h.7m-.4 .4h.7m-.5 0h.7m-.4-.2h.7m.2 .2h.7m-.6-.3h.7m-.4 .2h.7m-.3-.3h.7m-.6 .1h.7m-.4 .3h.7m4.2-.1h.7m2 0h.7m-.6 0h.7m-21.1 .6h.7m-.3-.4h.7m-.3 .1h.7m-.4-.1h.7m.1 .3h.7m-.5-.3h.7m.5 .3h.7m-.3-.2h.7m-.6 .2h.7m-.2 .1h.7m-.4-.4h.7m-.7 .2h.7m-.2 .1h.7m-.7 0h.7m-.6-.3h.7m-.7 .1h.7m-.4 .3h.7m-.3-.2h.7m-.4 .2h.7m-.7-.3h.7m-.5-.1h.7m-.6 0h.7m-.4 .1h.7m-.2 .2h.7m-.7-.3h.7m-.3 .3h.7m-.7-.1h.7m-.6 .2h.7m-.4-.4h.7m-.5 0h.7m-.6 .3h.7m-.6-.3h.7m-.2 0h.7m1 0h.7m-.6 0h.7m0 .3h.7m-.3-.2h.7m-.7-.1h.7m.2 0h.7m.1 0h.7m-.6 .1h.7m-.7 0h.7m.3 .3h.7m-.3-.2h.7m-.6 .2h.7m-.6-.1h.7m0 0h.7m.1-.2h.7m2.9 .3h.7m-21.1 .4h.7m-.5 .1h.7m1.5-.3h.7m-.4 .2h.7m-.3-.2h.7m-.2 0h.7m.1 .1h.7m-.4-.1h.7m-.6 0h.7m-.1 0h.7m-.6 .2h.7m-.7-.3h.7m-.1 .2h.7m-.5 .2h.7m-.6-.1h.7m-.5 0h.7m-.7 0h.7m-.4 0h.7m0 .1h.7m-.6 0h.7m-.6-.3h.7m-.6 .1h.7m-.7 .1h.7m-.6-.2h.7m.4 .2h.7m-.5 .1h.7m-.4-.3h.7m-.3 .3h.7m.2-.2h.7m-.7-.1h.7m-.3 .3h.7m-.6 0h.7m0-.1h.7m-.6-.3h.7m-.6 .1h.7m-.6 .2h.7m0 0h.7m-.4 .1h.7m.5-.4h.7m1.7 0h.7m-.1 .1h.7m.8 0h.7m-.3 .3h.7m3.1-.3h.7m-23.9 .8h.7m-.7-.2h.7m-.5-.1h.7m.7 .1h.7m.8-.2h.7m-.4 .1h.7m-.5 .1h.7m-.2-.2h.7m-.2 .3h.7m-.6 0h.7m-.6 .1h.7m-.5 0h.7m-.2 0h.7m-.5-.1h.7m-.1-.1h.7m-.4 0h.7m1.6-.1h.7m-.3-.1h.7m-.6 .3h.7m-.6-.2h.7m-.4 .1h.7m-.4 .2h.7m-.6-.3h.7m.2 .1h.7m-.3 0h.7m-.2-.2h.7m-.4 .4h.7m-.7-.1h.7m.4 .1h.7m-.5-.1h.7m.1-.1h.7m2.9-.2h.7m-.3 .3h.7m-19.2 .5h.7m-.4-.2h.7m-.6-.1h.7m-.5 0h.7m-.6 .3h.7m-.2-.1h.7m.3-.2h.7m-.4 .2h.7m.7 .2h.7m-.1-.1h.7m-.4-.1h.7m-.6-.2h.7m-.2 0h.7m0 0h.7m-.2 .3h.7m-.6 .1h.7m-.7-.4h.7m-.3 .1h.7m.2 .3h.7m-.7-.1h.7m-.7-.1h.7m-.1 0h.7m-.5 0h.7m-.7-.2h.7m0 .3h.7m-.7 0h.7m-.5-.1h.7m-.5-.1h.7m1.1 .1h.7m-.7 0h.7m.3 0h.7m.5 .2h.7m.9-.3h.7m-.5-.1h.7m.8 .2h.7m-17.9 .5h.7m-.2-.2h.7m-.7 0h.7m-.5 .3h.7m.1-.2h.7m.3 .3h.7m-.6-.2h.7m-.5 0h.7m-.6-.1h.7m-.4 0h.7m-.3 0h.7m-.2 .3h.7m-.5-.3h.7m-.5-.1h.7m-.6 0h.7m-.6 .3h.7m-.6 0h.7m-.1-.1h.7m-.4 0h.7m-.6 .1h.7m.1-.3h.7m-.6 .1h.7m-.5 .2h.7m-.2-.2h.7m-.1 .2h.7m-.5-.1h.7m-.6-.1h.7m-.5 .2h.7m-.4-.3h.7m-.5 .4h.7m-.6 0h.7m-.6-.4h.7m-.5 .4h.7m-.6 0h.7m1.4 0h.7m-.5-.2h.7m-.5-.2h.7m-.7 .1h.7m.4 .3h.7m.7-.3h.7m2.2 .1h.7m-16.9 .7h.7m-.4 0h.7m-.3-.1h.7m-.7-.1h.7m-.6 .1h.7m.6 .1h.7m-.1-.3h.7m-.4 .1h.7m-.5 .1h.7m-.3 0h.7m-.6-.2h.7m-.4-.1h.7m-.7 .1h.7m-.6 0h.7m-.2 .1h.7m-.6 .2h.7m-.4-.1h.7m-.3-.1h.7m-.5 .1h.7m-.4-.1h.7m-.5-.2h.7m-.6 .2h.7m-.4 .1h.7m-.5-.2h.7m-.6 .3h.7m-.6-.4h.7m-.5 .4h.7m-.3-.4h.7m-.4 .4h.7m-.6 0h.7m-.6-.1h.7m-.6-.1h.7m-.6 .2h.7m0-.3h.7m0 .2h.7m-.7-.3h.7m-.7 .1h.7m-.3-.1h.7m1.2 .3h.7m-.2-.3h.7m0 .2h.7m.2-.1h.7m2.2 .3h.7m-18.3 .4h.7m-.2-.3h.7m-.2 .2h.7m0-.2h.7m-.5 0h.7m-.3 .1h.7m-.4 0h.7m-.2 .1h.7m-.4-.1h.7m-.6 .1h.7m-.5 0h.7m-.7 .1h.7m0-.1h.7m-.7 0h.7m-.5 0h.7m-.5 0h.7m-.7-.2h.7m-.6 .3h.7m-.2-.1h.7m-.4 .1h.7m-.6-.2h.7m-.5 .1h.7m0-.1h.7m-.5-.1h.7m-.7 0h.7m.6 .3h.7m-.2 .1h.7m-.7 0h.7m-.2 0h.7m-.5-.1h.7m1.2 .1h.7m1.3-.4h.7m0 .3h.7m.5 .1h.7m.6-.2h.7m-.5-.2h.7m-16.2 .7h.7m.2 .1h.7m-.6 0h.7m.2-.1h.7m-.6 0h.7m-.5-.1h.7m-.4 .2h.7m-.2 .1h.7m-.7-.4h.7m-.5 .2h.7m-.5-.2h.7m-.2 .1h.7m.5 .1h.7m-.6 .1h.7m-.6-.1h.7m-.6 .2h.7m-.1-.1h.7m-.6-.3h.7m-.6 .1h.7m-.5 0h.7m-.5 .2h.7m-.5-.1h.7m0 .1h.7m-.6 .1h.7m-.5-.1h.7m0-.2h.7m-.1-.1h.7m-.1 .3h.7m-.5 0h.7m1.3 0h.7m0-.2h.7m1.9 .2h.7m-17.6 .5h.7m-.5 0h.7m.1-.3h.7m-.5 .1h.7m.9 .3h.7m0-.1h.7m-.1-.2h.7m-.7-.1h.7m.1 .3h.7m-.7-.1h.7m-.2 0h.7m-.6 .1h.7m-.5 0h.7m-.7 .1h.7m-.7 0h.7m1-.3h.7m-.1 .3h.7m-.5-.1h.7m-.7-.2h.7m.3 .2h.7m-.2-.3h.7m-.3 .2h.7m.2 .2h.7m-.5-.3h.7m-.2 .1h.7m-.6 .1h.7m.1-.3h.7m-.1 .4h.7m.1-.4h.7m-.3 .1h.7m.6 .3h.7m.3-.3h.7m2.6 .3h.7m-20.7 .3h.7m-.2-.2h.7m1.7 .1h.7m-.1 .3h.7m-.7-.2h.7m0 .2h.7m0-.2h.7m-.7 .2h.7m0-.2h.7m.3 0h.7m1 .2h.7m-.3-.4h.7m-.2 .3h.7m-.1-.1h.7m.1 .1h.7m1.1-.3h.7m-.5 .4h.7m3-.3h.7m-.5 .3h.7m.9-.4h.7m-18.8 .7h.7m-.4-.2h.7m-.6 0h.7m-.5 .4h.7m-.4-.2h.7m-.6 0h.7m-.3-.2h.7m-.7 .4h.7m.3-.1h.7m-.1-.2h.7m0 .3h.7m.1-.1h.7m-.7-.2h.7m-.6 .1h.7m-.6 0h.7m-.4-.2h.7m0 0h.7m.5 .2h.7m-.7 0h.7m-.6 .2h.7m-.6-.2h.7m-.5-.1h.7m-.4 .3h.7m-.4-.1h.7m0 .1h.7m-.5-.1h.7m-.1-.2h.7m.7 .3h.7m-.4-.3h.7m-.3 .3h.7m-.2-.4h.7m.1 .4h.7m-.6 0h.7m.6-.2h.7m0 0h.7m-14.8 .4h.7m0-.1h.7m-.2 .3h.7m1.1-.2h.7m.5 .2h.7m-.6 0h.7m-.6-.2h.7m-.7 .2h.7m-.3 0h.7m-.6-.1h.7m-.4 .2h.7m-.7 0h.7m.2-.2h.7m-.6-.2h.7m-.4 .2h.7m-.7 0h.7m-.6-.2h.7m-.5 .2h.7m.5-.2h.7m-.1 .3h.7m-.3-.1h.7m-.1 .1h.7m.2-.2h.7m1.5 0h.7m-.3-.1h.7m1.5 0h.7m.4 .3h.7m-16.7 .3h.7m-.6 .3h.7m1.3-.4h.7m-.6 .1h.7m1.3-.1h.7m.1 .4h.7m.1-.3h.7m-.7 0h.7m-.4 .3h.7m-.4 0h.7m.3-.1h.7m0-.2h.7m-.3-.1h.7m1.1 .4h.7m-.5-.2h.7m-.2 .1h.7m5.3-.2h.7m-16.3 .4h.7m.3 .2h.7m-.6-.1h.7m0 .1h.7m.9-.1h.7m-.7 .2h.7m-.2-.3h.7m-.6 .1h.7m.1-.1h.7m-.4 .2h.7m1.2-.1h.7m-.6 .1h.7m.3 .1h.7m1.7-.1h.7m1.1 .1h.7m-.3 .1h.7m-16 .2h.7m-.7 0h.7m-.7 0h.7m-.7 0h.7m-.7 0h.7m-.7 0h.7m-.7 0h.7m2 0h.7m-.7-.1h.7m.1 .1h.7m-.5 0h.7m-.4 0h.7m-.7-.1h.7m-.2 .1h.7m-.5 0h.7m-.3-.1h.7m.5 .1h.7m1.1 0h.7m-.3 0h.7m-.7 0h.7m.1 0h.7m-.7 0h.7m-.4 0h.7m-.5 0h.7m-.6 0h.7m-.2 0h.7m-.4 0h.7m0-.1h.7m-.4 .1h.7m.4 0h.7" stroke="#000" stroke-width=".7" opacity="0.65" fill="none" filter="url(#bl)"/><path d="M208.4 113.4h.7m7.2 1.2h.7m-19.1 .2h.7m7.5 .3h.7m10.2 .5h.7m3.8 2.8h.7m-19.6 .6h.7m13.9-.2h.7m-29.5 .7h.7m28.7 .1h.7m17.4 0h.7m-37.5 .5h.7m12.5 .1h.7m12.1-.4h.7m-14.1 1h.7m22.2 .1h.7m-26.8 .4h.7m5.6 0h.7m-16.6 .8h.7m-13.5 .4h.7m25 0h.7m.3 .2h.7m.6-.1h.7m.8 .4h.7m.6 .2h.7m-26.9 .4h.7m.6-.1h.7m7.2 .1h.7m12.8 0h.7m-.1 0h.7m2-.3h.7m-10.6 .8h.7m2.8 .1h.7m3-.2h.7m.2-.1h.7m.6 .2h.7m2.2 0h.7m3.1 .1h.7m-20.1 .2h.7m5.2-.1h.7m2.1 .1h.7m4.1 0h.7m-9.8 .6h.7m1.2-.1h.7m5.3 .1h.7m-6.8 .3h.7m.8 .4h.7m1-.3h.7m0 .1h.7m.2-.1h.7m-.6 .1h.7m.8-.2h.7m-23.4 .5h.7m5 0h.7m10.5 .1h.7m0 .2h.7m1 0h.7m-10.8 .5h.7m3.4-.1h.7m7.6 .1h.7m-6.6 .2h.7m3.7 .4h.7m.9-.3h.7m1.9 .3h.7m-22.2 .1h.7m12.8 .4h.7m1.2 0h.7m-12.7 .1h.7m10.4 .1h.7m3.2 .3h.7m-24 .3h.7m17.1-.2h.7m1.9 .1h.7m4.8-.1h.7m-28.6 .6h.7m13 0h.7m.7 0h.7m.9 .1h.7m.7-.1h.7m5.1 .3h.7m17.6-.4h.7m-24.5 .7h.7m5.1 .2h.7m-27.7 .5h.7m1.1 0h.7m19.4-.4h.7m1.4 .2h.7m-.5 .1h.7m-4.6 .3h.7m2 0h.7m.7 .1h.7m-6.1 .3h.7m10.9 .3h.7m-11.7 .3h.7m-2.9 .8h.7m.1-.1h.7m6.2 0h.7m-16.5 .5h.7m.6-.2h.7m4.7 .3h.7m5-.4h.7m1.5 .3h.7m2.5 0h.7m3-.1h.7m-27.9 .3h.7m9.2 .3h.7m4.8-.2h.7m.3 .2h.7m8.5 0h.7m1.8-.1h.7m-18.7 .5h.7m4.7 0h.7m3.9-.1h.7m8-.1h.7m-39 .8h.7m6.6-.1h.7m17-.1h.7m.8 .3h.7m6.6-.4h.7m-20.9 .6h.7m3.8 .2h.7m3.8 .1h.7m1-.1h.7m2.4 0h.7m-.3 0h.7m-20.4 .4h.7m18.2 .2h.7m-12.9 .4h.7m19.1 .1h.7m-.1-.1h.7m-18 .4h.7m2.3-.2h.7m2 .3h.7m-.5-.2h.7m.2 .2h.7m9.7-.2h.7m.4 .1h.7m-15.7 .3h.7m3.3 .2h.7m.2-.2h.7m.4 .3h.7m-.5-.3h.7m-.6 .2h.7m10.4 .1h.7m-37.6 .2h.7m8.5 0h.7m5.7 0h.7m-.5 .4h.7m-.3-.3h.7m5.8-.1h.7m.5 0h.7m5.6 .1h.7m-15.3 .8h.7m12.2 0h.7m-.3-.2h.7m1.4-.2h.7m3.6 0h.7m.2 .4h.7m-.4-.1h.7m-20.5 .5h.7m3.2-.2h.7m7.2 .3h.7m-20 .1h.7m9.3 .4h.7m1.1-.4h.7m12.1 .1h.7m-30.5 .5h.7m18.3-.1h.7m2.4 .4h.7m22-.4h.7m-33.5 .5h.7m11.5 .2h.7m0-.1h.7m2.6-.1h.7m1.2 .2h.7m-4.6 .7h.7m-.7-.2h.7m-22.4 .7h.7m3.6-.4h.7m4.7 .1h.7m11.4 0h.7m-17.8 .4h.7m1.1 .1h.7m.5 .3h.7m3-.4h.7m3.1 .4h.7m-13.5 .3h.7m1.6-.2h.7m13.2 0h.7m.5 0h.7m.8 .1h.7m-18.4 .5h.7m3.5-.1h.7m9 0h.7m.1 .1h.7m17.3 .1h.7m-25 .6h.7m.3-.3h.7m10.3 .4h.7m-16.3 .9h.7m5.9-.3h.7m-.6 .2h.7m-1.6 .3h.7m4.3 .4h.7m-11.6 .2h.7m5.9 0h.7m.5 .1h.7m7-.1h.7m-30.5 .6h.7m15.3-.2h.7m4.8 .1h.7m.7 .7h.7m34.4 .1h.7m-54.6 .5h.7m11-.2h.7m-9.3 .7h.7m20.5 0h.7m9.7-.4h.7m-33.5 .8h.7m3.9-.3h.7m6.6 .6h.7m-15.3 .7h.7m2.7-.1h.7m15.1 0h.7m-5.4 .6h.7m3.7-.3h.7m.1 .7h.7m.9 .1h.7m-13.3 .2h.7m13 .2h.7m18.9 .2h.7m-34 .1h.7m6.6 .4h.7m2.5-.2h.7m1.6-.2h.7m3.7 .3h.7m-24.7 .3h.7m1.4 .3h.7m-12 .1h.7m14.3 .4h.7m42.3-.3h.7m-49.1 .5h.7m6.3 .6h.7m10.4-.1h.7m9.1 .2h.7m-24 .2h.7m5.8 .1h.7m34.5-.1h.7m-45 2.5h.7m16.9 0h.7m-6.2 .7h.7m4.6 1.4h.7m-29.2 .4h.7m16.6 .4h.7m-12.6 .5h.7m10.4 .4h.7m29 0h.7m-27.8 .9h.7m11.5 .1h.7m-17.5 .6h.7" stroke="#000" stroke-width=".7" opacity="0.4" fill="none" filter="url(#bl)"/></g><rect x="179.6" y="112.4" width="64.9" height="50.6" fill="none" stroke="#9a9a9a" stroke-width="0.9"/><path d="M179.6 163v1.6M179.6 163h-1.6M195.8 163v1.6M179.6 150.3h-1.6M212.1 163v1.6M179.6 137.7h-1.6M228.3 163v1.6M179.6 125.1h-1.6M244.5 163v1.6M179.6 112.4h-1.6" stroke="#999" stroke-width=".6" fill="none"/><rect x="200.3" y="116.4" width="28.3" height="24.9" fill="none" stroke="#a0a0a0" stroke-width="0.75"/><path d="M222 126.8l3.4 -2.2v1.35h2.6v1.7h-2.6v1.35z" fill="#000"/><text x="230.3" y="129.6">0.7</text><path d="M341.9 20.5L341.9 33.8" stroke="#333" stroke-width="0.7" fill="none"/><path d="M340.3 20.5L343.5 20.5" stroke="#333" stroke-width="0.7" fill="none"/><rect x="334.8" y="33.8" width="14.2" height="64.6" fill="#000" stroke="#111" stroke-width="0.7"/><path d="M369.6 76.3L369.6 77.6" stroke="#333" stroke-width="0.7" fill="none"/><path d="M368 76.3L371.2 76.3" stroke="#333" stroke-width="0.7" fill="none"/><rect x="363" y="77.6" width="13.3" height="20.8" fill="#c8c8c8" stroke="#333" stroke-width="0.7"/><text x="369.5" y="73.7" text-anchor="middle" font-size="8">*</text><path d="M323.2 9.5L323.2 98.4" stroke="#222" stroke-width="0.9" fill="none"/><path d="M323.2 98.4L377 98.4" stroke="#222" stroke-width="0.9" fill="none"/><path d="M321.2 10L323.2 10" stroke="#222" stroke-width="0.7" fill="none"/><text x="320.5" y="13" text-anchor="end">4</text><path d="M321.2 32.4L323.2 32.4" stroke="#222" stroke-width="0.7" fill="none"/><text x="320.5" y="35.4" text-anchor="end">3</text><path d="M321.2 54.4L323.2 54.4" stroke="#222" stroke-width="0.7" fill="none"/><text x="320.5" y="57.4" text-anchor="end">2</text><path d="M321.2 76.4L323.2 76.4" stroke="#222" stroke-width="0.7" fill="none"/><text x="320.5" y="79.4" text-anchor="end">1</text><path d="M321.2 98.4L323.2 98.4" stroke="#222" stroke-width="0.7" fill="none"/><text x="320.5" y="101.4" text-anchor="end">0</text><text x="304" y="52" text-anchor="middle" transform="rotate(-90 304 52)">DC in BM</text><text x="315" y="54" text-anchor="middle" transform="rotate(-90 315 54)">(% of nucleated cells)</text><text x="341.6" y="107" text-anchor="middle">V</text><text x="368.5" y="107" text-anchor="middle">Indo</text><path d="M450.8 20.3L450.8 35" stroke="#333" stroke-width="0.7" fill="none"/><path d="M449.1 20.3L452.4 20.3" stroke="#333" stroke-width="0.7" fill="none"/><rect x="443.8" y="35" width="13.9" height="64.7" fill="#000" stroke="#111" stroke-width="0.7"/><path d="M478.7 77.3L478.7 79.2" stroke="#333" stroke-width="0.7" fill="none"/><path d="M477.1 77.3L480.3 77.3" stroke="#333" stroke-width="0.7" fill="none"/><rect x="471.5" y="79.2" width="14.4" height="20.5" fill="#c8c8c8" stroke="#333" stroke-width="0.7"/><text x="479.2" y="73.7" text-anchor="middle" font-size="8">*</text><path d="M432.3 10.4L432.3 99.7" stroke="#222" stroke-width="0.9" fill="none"/><path d="M432.3 99.7L493.5 99.7" stroke="#222" stroke-width="0.9" fill="none"/><path d="M430.3 10.6L432.3 10.6" stroke="#222" stroke-width="0.7" fill="none"/><text x="430" y="13.6" text-anchor="end">10</text><path d="M430.3 28.4L432.3 28.4" stroke="#222" stroke-width="0.7" fill="none"/><text x="430" y="31.4" text-anchor="end">8</text><path d="M430.3 46.2L432.3 46.2" stroke="#222" stroke-width="0.7" fill="none"/><text x="430" y="49.2" text-anchor="end">6</text><path d="M430.3 64L432.3 64" stroke="#222" stroke-width="0.7" fill="none"/><text x="430" y="67" text-anchor="end">4</text><path d="M430.3 81.9L432.3 81.9" stroke="#222" stroke-width="0.7" fill="none"/><text x="430" y="84.9" text-anchor="end">2</text><path d="M430.3 99.7L432.3 99.7" stroke="#222" stroke-width="0.7" fill="none"/><text x="430" y="102.7" text-anchor="end">0</text><text x="422" y="55.5" text-anchor="middle" transform="rotate(-90 422 55.5)">Total DC per femur X 10<tspan dy="-3" font-size="5">5</tspan></text><text x="451.2" y="107.8" text-anchor="middle">V</text><text x="479" y="107.8" text-anchor="middle">Indo</text><path d="M341.5 129.3L341.5 136.1" stroke="#333" stroke-width="0.7" fill="none"/><path d="M339.9 129.3L343.1 129.3" stroke="#333" stroke-width="0.7" fill="none"/><rect x="334.8" y="136.1" width="13.4" height="69.4" fill="#000" stroke="#111" stroke-width="0.7"/><path d="M369.4 162.8L369.4 172.3" stroke="#333" stroke-width="0.7" fill="none"/><path d="M367.8 162.8L371 162.8" stroke="#333" stroke-width="0.7" fill="none"/><rect x="363" y="172.3" width="12.7" height="33.2" fill="#c8c8c8" stroke="#333" stroke-width="0.7"/><text x="368.7" y="160.2" text-anchor="middle" font-size="8">*</text><path d="M323.2 116.6L323.2 205.5" stroke="#222" stroke-width="0.9" fill="none"/><path d="M323.2 205.5L378 205.5" stroke="#222" stroke-width="0.9" fill="none"/><path d="M321.2 117.4L323.2 117.4" stroke="#222" stroke-width="0.7" fill="none"/><text x="320.5" y="120.4" text-anchor="end">2.5</text><path d="M321.2 135L323.2 135" stroke="#222" stroke-width="0.7" fill="none"/><text x="320.5" y="138" text-anchor="end">2.0</text><path d="M321.2 152.6L323.2 152.6" stroke="#222" stroke-width="0.7" fill="none"/><text x="320.5" y="155.6" text-anchor="end">1.5</text><path d="M321.2 170.3L323.2 170.3" stroke="#222" stroke-width="0.7" fill="none"/><text x="320.5" y="173.3" text-anchor="end">1.0</text><path d="M321.2 187.9L323.2 187.9" stroke="#222" stroke-width="0.7" fill="none"/><text x="320.5" y="190.9" text-anchor="end">0.5</text><path d="M321.2 205.5L323.2 205.5" stroke="#222" stroke-width="0.7" fill="none"/><text x="320.5" y="208.5" text-anchor="end">0.0</text><text x="297" y="162" text-anchor="middle" transform="rotate(-90 297 162)">DC in spleen</text><text x="306" y="162" text-anchor="middle" transform="rotate(-90 306 162)">(% of nucleated cells)</text><text x="341.3" y="215" text-anchor="middle">V</text><text x="368.5" y="215" text-anchor="middle">Indo</text><path d="M448.9 130.4L448.9 137.3" stroke="#333" stroke-width="0.7" fill="none"/><path d="M447.3 130.4L450.6 130.4" stroke="#333" stroke-width="0.7" fill="none"/><rect x="442" y="137.3" width="13.9" height="68.6" fill="#000" stroke="#111" stroke-width="0.7"/><path d="M475.4 164.3L475.4 168" stroke="#333" stroke-width="0.7" fill="none"/><path d="M473.8 164.3L477.1 164.3" stroke="#333" stroke-width="0.7" fill="none"/><rect x="468.5" y="168" width="13.9" height="37.9" fill="#c8c8c8" stroke="#333" stroke-width="0.7"/><text x="475.5" y="163.7" text-anchor="middle" font-size="8">*</text><path d="M432.3 117L432.3 205.9" stroke="#222" stroke-width="0.9" fill="none"/><path d="M432.3 205.9L494.2 205.9" stroke="#222" stroke-width="0.9" fill="none"/><path d="M430.3 117.4L432.3 117.4" stroke="#222" stroke-width="0.7" fill="none"/><text x="430" y="120.4" text-anchor="end">25</text><path d="M430.3 135.1L432.3 135.1" stroke="#222" stroke-width="0.7" fill="none"/><text x="430" y="138.1" text-anchor="end">20</text><path d="M430.3 152.8L432.3 152.8" stroke="#222" stroke-width="0.7" fill="none"/><text x="430" y="155.8" text-anchor="end">15</text><path d="M430.3 170.5L432.3 170.5" stroke="#222" stroke-width="0.7" fill="none"/><text x="430" y="173.5" text-anchor="end">10</text><path d="M430.3 188.2L432.3 188.2" stroke="#222" stroke-width="0.7" fill="none"/><text x="430" y="191.2" text-anchor="end">5</text><path d="M430.3 205.9L432.3 205.9" stroke="#222" stroke-width="0.7" fill="none"/><text x="430" y="208.9" text-anchor="end">0</text><text x="420.3" y="162" text-anchor="middle" transform="rotate(-90 420.3 162)">Total DC in spleen x 10<tspan dy="-3" font-size="5">5</tspan></text><text x="447.8" y="214.6" text-anchor="middle">V</text><text x="476.2" y="216.2" text-anchor="middle">Indo</text><text x="11.4" y="218.8" font-weight="bold" font-size="10.6" fill="#000">B</text><text x="90" y="228.9" text-anchor="middle" font-size="6.4">Gated on (CD3 NK1.1 CD19</text><text x="90" y="236.2" text-anchor="middle" font-size="6.4">Ter119)<tspan dy="-2" font-size="3.8">neg</tspan><tspan dy="2"> cells</tspan></text><path d="M23.5 238.3L143.8 238.3" stroke="#222" stroke-width="0.9" fill="none"/><text x="53" y="248.9" text-anchor="middle">Vehicle</text><text x="121.6" y="248.7" text-anchor="middle">Indomethacin</text><text x="22" y="276.2" text-anchor="middle" transform="rotate(-90 22 276.2)">B220</text><text x="82.4" y="318.9" text-anchor="middle">CD11c</text><clipPath id="c5"><rect x="27.3" y="253.6" width="53.9" height="50.6"/></clipPath><g clip-path="url(#c5)"><ellipse cx="33" cy="270.5" rx="6" ry="4" fill="url(#g)" opacity="0.95"/><ellipse cx="36" cy="263.5" rx="4" ry="2.5" fill="url(#g)" opacity="0.5"/><ellipse cx="34.6" cy="295.5" rx="5.5" ry="8" fill="url(#g)" opacity="0.6"/><path d="M36.3 256h.7m-1.6 2.2h.7m7.3 .8h.7m-8.5 .5h.7m-7.7 .5h.7m7.3 .5h.7m-2.9 .6h.7m.4 0h.7m-.6 0h.7m1.9-.3h.7m1.9 .2h.7m-9.6 .5h.7m2.3-.2h.7m-.2 0h.7m.5 .4h.7m.5-.3h.7m11.4 .3h.7m-19.2 .5h.7m1-.3h.7m1.6 .2h.7m-.7-.2h.7m-.7 0h.7m-.4 .1h.7m2.3 .1h.7m.2-.3h.7m-.1 .1h.7m5.1 .1h.7m7.6 .1h.7m-21.9 .6h.7m.4 0h.7m-.6-.1h.7m.7-.3h.7m-.4 .4h.7m-.3-.3h.7m-.6 .2h.7m-.4-.2h.7m1.8 0h.7m.2 .3h.7m-.2-.3h.7m8.9 0h.7m-17.4 .8h.7m-.1 0h.7m-.2 0h.7m.4-.4h.7m-.2 .4h.7m-.1-.2h.7m-.4 .1h.7m-.2 0h.7m-.4-.2h.7m-.2 .2h.7m-11.5 .2h.7m-.2 .2h.7m-.2 .2h.7m2 0h.7m1.4-.4h.7m-.3 .1h.7m.3 0h.7m-.6 .3h.7m-.1-.3h.7m-.7 0h.7m.2 .3h.7m-.6-.2h.7m-.3-.1h.7m.7 .1h.7m-.6 .1h.7m.7-.2h.7m-.7 .3h.7m.6-.3h.7m-.3 .3h.7m-11.7 .2h.7m.8-.1h.7m.2 0h.7m.5 .1h.7m1.1 .2h.7m-.2-.3h.7m-.6 0h.7m-.7 .2h.7m-.7 0h.7m-.3 .1h.7m-.4-.3h.7m7.3 0h.7m5.2 0h.7m-24.1 .5h.7m1.2 .1h.7m2.5-.1h.7m-.7 .2h.7m-.5 .1h.7m-.7 .1h.7m.1-.2h.7m.6 .1h.7m.3-.1h.7m0 0h.7m-.7-.1h.7m.1 .1h.7m-.4 0h.7m-.6-.2h.7m-.2 0h.7m-.6 .1h.7m-.1 .2h.7m2.5-.3h.7m9.5 .1h.7m-25 .6h.7m2.9 .2h.7m.8-.3h.7m.1 .3h.7m-.4-.4h.7m-.7 .1h.7m1.3 0h.7m-.4 .2h.7m-.2 0h.7m-.3-.3h.7m1.6 0h.7m1.8 0h.7m-15.1 .7h.7m5 0h.7m-.5 .1h.7m.6-.3h.7m-.7 0h.7m-.6 0h.7m-.6 .2h.7m-.7 .2h.7m-.6-.2h.7m.3-.2h.7m-.3 0h.7m1.7 0h.7m0 .2h.7m-.2-.2h.7m6.3 .1h.7m-17.5 .4h.7m-.2 .4h.7m.8-.4h.7m2.7 .2h.7m-.4-.2h.7m-.6 .3h.7m-.5-.1h.7m-.4-.2h.7m-.2 0h.7m.3 .1h.7m-.2 .3h.7m-.4-.3h.7m8.2-.1h.7m1.8 .3h.7m-20.7 .5h.7m1.3-.2h.7m-.3 0h.7m-.1 .3h.7m.5-.1h.7m.1 0h.7m-.7-.1h.7m-.5 0h.7m.1 .2h.7m.2-.1h.7m.3 0h.7m-.3-.2h.7m.5 .2h.7m5.6 .1h.7m6.7-.2h.7m0 .1h.7m-27.7 .4h.7m-.7-.1h.7m-.7 .2h.7m1.1-.2h.7m-.4 .1h.7m-.6 .2h.7m1.2-.2h.7m-.1 .2h.7m.3 0h.7m-.3-.3h.7m2.1 .2h.7m.1-.3h.7m.1 .2h.7m-.3-.1h.7m-.6 .2h.7m2.3-.3h.7m-14.8 .9h.7m-.6 0h.7m1.5-.1h.7m.9 0h.7m.5-.2h.7m-.6 .1h.7m-.3 0h.7m-.1-.2h.7m-.6 .4h.7m-.7-.4h.7m.2 .1h.7m.1 .2h.7m0 0h.7m2.6 .1h.7m.2-.3h.7m-.3 0h.7m12.5 .3h.7m-26.7 .1h.7m0 .2h.7m1 .2h.7m.5-.1h.7m-.6-.1h.7m.3 .1h.7m-.7 0h.7m.4-.3h.7m-.4 .1h.7m-.6 .2h.7m-.7-.3h.7m-.4 .2h.7m.7 0h.7m-.4 0h.7m.6-.1h.7m.4 0h.7m.7 .2h.7m-.2 0h.7m4.9 .1h.7m2.9-.2h.7m-.4 0h.7m-22.5 .7h.7m.3 0h.7m-.7-.3h.7m-.3 .2h.7m-.3 .1h.7m-.6 0h.7m0-.3h.7m-.4-.1h.7m.6 .4h.7m.6-.3h.7m-.7 .2h.7m-.2 0h.7m-.5-.2h.7m2.4 0h.7m.6 0h.7m.6 0h.7m-.7 .1h.7m-.3 .1h.7m11.7-.1h.7m-26.1 .6h.7m1.4-.1h.7m-.4 0h.7m0-.1h.7m-.6-.1h.7m-.2 .4h.7m.3-.1h.7m-.6 0h.7m1-.3h.7m-.5 .4h.7m-.2 0h.7m-.5-.2h.7m-.7 .1h.7m-.6 0h.7m-.6 0h.7m-.5 0h.7m-.6-.2h.7m-.2 .2h.7m.1-.3h.7m2.1 .1h.7m-11.6 .8h.7m.2-.4h.7m.4 .2h.7m-.7 .1h.7m-.5-.3h.7m-.4 .2h.7m-.6 .1h.7m-.6 .1h.7m-.2-.4h.7m-.3 .3h.7m1.3-.1h.7m-.6 0h.7m-.4 .2h.7m-.5-.3h.7m-.6 .2h.7m-.6 .1h.7m-.1 0h.7m-.3-.1h.7m0 .1h.7m1.5-.4h.7m.6 .1h.7m1.8 .2h.7m9-.2h.7m6.3 .2h.7m-32.5 .2h.7m-.7 .3h.7m.5-.3h.7m-.2 .1h.7m-.1 .2h.7m-.5 0h.7m-.7-.2h.7m-.3 0h.7m-.1 0h.7m-.4 0h.7m-.3 0h.7m-.3 .3h.7m-.7-.1h.7m-.6-.2h.7m-.6 .1h.7m-.6 0h.7m-.5 0h.7m-.7 .2h.7m-.6-.2h.7m-.6 .1h.7m-.6-.3h.7m-.6 .1h.7m-.5 0h.7m-.7 0h.7m-.6 0h.7m-.7 .2h.7m-.5 0h.7m-.6-.3h.7m-.5 0h.7m-.2 0h.7m.1 .1h.7m-.5 .1h.7m0 .1h.7m.8-.1h.7m-.4 0h.7m12.4 .2h.7m1.1-.3h.7m-25.4 .5h.7m-.3 .3h.7m1.1-.3h.7m-.6 0h.7m-.5 .1h.7m-.6 .1h.7m.2-.3h.7m-.6 .4h.7m0 0h.7m-.5-.1h.7m-.6-.1h.7m-.3 .1h.7m-.4-.1h.7m.3-.2h.7m-.5 .3h.7m-.7-.1h.7m-.5 0h.7m.4-.2h.7m-.7 .1h.7m-.2 .2h.7m-.7-.3h.7m-.5 .4h.7m-.1-.1h.7m-.1-.3h.7m.8 .3h.7m-.2 0h.7m3.5 .1h.7m3.4 0h.7m1.2-.3h.7m.4 0h.7m-24 .4h.7m.1 .3h.7m-.3-.2h.7m-.6 .1h.7m-.2-.1h.7m-.7 .1h.7m-.3 0h.7m0-.1h.7m-.6 .2h.7m.2-.2h.7m-.6 .1h.7m-.5-.1h.7m-.5 .3h.7m-.5-.3h.7m.7 .3h.7m-.4 0h.7m-.4-.3h.7m-.5 .1h.7m2.6-.2h.7m.3 .2h.7m3.7 .2h.7m4.5-.4h.7m-21.5 .8h.7m.4-.3h.7m-.2 .4h.7m-.1 0h.7m0-.4h.7m-.6 .4h.7m.3-.2h.7m-.6-.1h.7m-.5 .2h.7m-.5 0h.7m-.5-.1h.7m-.5 .1h.7m-.7-.1h.7m.1 .1h.7m-.4-.2h.7m0 .3h.7m.4-.1h.7m-.5-.1h.7m-.7 .1h.7m-.2 0h.7m-.1 .1h.7m0-.4h.7m-.6 .2h.7m11.5-.1h.7m-22.8 .7h.7m-.3-.1h.7m-.3 .2h.7m.5-.3h.7m-.6 0h.7m-.5 .1h.7m-.1-.2h.7m-.6 .2h.7m-.4 .2h.7m-.5-.1h.7m-.5-.3h.7m-.6 .4h.7m-.7-.1h.7m-.1-.1h.7m-.4 .2h.7m.3 0h.7m.1-.2h.7m-.7-.1h.7m1.1 .1h.7m-.4 0h.7m-.4 .2h.7m10.2-.4h.7m.1 .1h.7m-21.1 .8h.7m1-.2h.7m-.4 .1h.7m.1 0h.7m-.3 0h.7m-.2-.3h.7m-.3 .1h.7m-.6 .2h.7m0-.2h.7m-.6 .1h.7m0 .1h.7m-.5 0h.7m-.6-.2h.7m.7 .3h.7m1.6-.2h.7m-.1 0h.7m.1 0h.7m-9 .3h.7m-.2 0h.7m-.6 .1h.7m0 .1h.7m-.4 .1h.7m-.6-.2h.7m-.2 .1h.7m-.5 .1h.7m0-.2h.7m1 .3h.7m-.7-.3h.7m-.5-.1h.7m-.2 .1h.7m2.5 0h.7m.9 0h.7m-13.6 .8h.7m.3-.2h.7m-.4-.2h.7m.9 .1h.7m-.4-.1h.7m-.3 .3h.7m-.6-.1h.7m0 .1h.7m.1-.2h.7m-.6 .2h.7m-.6 .1h.7m-.6-.3h.7m-.5 .2h.7m1.1-.2h.7m-.5 .2h.7m.8-.2h.7m-8.8 .6h.7m.9 .1h.7m-.1-.3h.7m3.6 .8h.7m8-.3h.7m5 .4h.7m-12.5 .1h.7m-8.6 .6h.7m3.5 .1h.7m7.9-.1h.7m8.5 .3h.7m-13.5 .9h.7m6.7-.2h.7m-1.2 1.7h.7m4.4 .2h.7m-.6 1.4h.7m-17.1 1.8h.7m2.7 .4h.7m-3.3 .6h.7m17.4-.1h.7m-.4 .3h.7m1.5-.1h.7m-26.5 .3h.7m13.9-.1h.7m-9.2 .9h.7m12.4 .1h.7m-21 1.4h.7m6.8-.4h.7m9.8 .4h.7m5.7-.4h.7m-7.2 .7h.7m-20.2 .6h.7m3.2-.3h.7m6.6 .4h.7m2.3-.4h.7m4.3 .2h.7m.4 0h.7m-13.8 .7h.7m-.4-.4h.7m3.8 .2h.7m4.7 .1h.7m12.2-.1h.7m4.9-.1h.7m-32.6 .8h.7m-.2 0h.7m-3.8 .1h.7m5.8 .3h.7m-5.8 .6h.7m3.2 0h.7m-.6-.1h.7m2.8-.1h.7m13.6 .2h.7m-22.2 .4h.7m2.9 .1h.7m.3 0h.7m7.9-.2h.7m-14.5 .3h.7m3.4 .2h.7m-.1 .2h.7m.5-.1h.7m9.5 0h.7m-16.9 .4h.7m1-.2h.7m-.2 .4h.7m0-.2h.7m-.6 .2h.7m-.3-.4h.7m-.5 .3h.7m.3-.2h.7m.1 .2h.7m-.2 .1h.7m1.6 0h.7m0-.1h.7m1.8 .1h.7m12.2 0h.7m-23.8 .3h.7m.3 .2h.7m1.3-.4h.7m-.7 0h.7m1 .4h.7m-.4 0h.7m1-.3h.7m0 .3h.7m12.7 0h.7m0-.2h.7m-.7 .2h.7m-23.7 .3h.7m.7-.1h.7m3.5 0h.7m0-.1h.7m-.5 0h.7m8.2 .3h.7m5.8 .1h.7m8.4-.3h.7m-31.9 .5h.7m-.3 .1h.7m1.2-.2h.7m.6 0h.7m.6 .1h.7m.7 0h.7m-.5 .2h.7m0-.2h.7m17.8 .3h.7m-26.9 .5h.7m1.9-.2h.7m-.5 0h.7m-.7-.2h.7m.5 .4h.7m0-.2h.7m2.7 0h.7m15.4 0h.7m-27 .3h.7m2.4 0h.7m.9 .4h.7m-.2 0h.7m1.9-.1h.7m-.5-.1h.7m1.5 .2h.7m-.7-.4h.7m-.4 .2h.7m-.5 .2h.7m-.2-.3h.7m-.3-.1h.7m14.1 .3h.7m1-.1h.7m-25.8 .6h.7m-.1 .1h.7m-.3-.3h.7m.5 0h.7m-.6 0h.7m-.4 0h.7m-.6 .3h.7m-.6-.2h.7m-.7-.1h.7m-.4 .3h.7m-.3-.1h.7m-.2-.1h.7m1.2 .2h.7m0-.2h.7m0 0h.7m.2 .1h.7m-.1-.2h.7m13.7 .2h.7m-25.9 .4h.7m2.6-.1h.7m.5 .2h.7m-.4-.2h.7m0 .3h.7m0 0h.7m.1-.2h.7m-.7 .1h.7m-.2 .1h.7m3.1-.1h.7m1.9-.2h.7m-.5 .3h.7m-14.7 .2h.7m.6 .1h.7m.6 .1h.7m.4 0h.7m.1-.1h.7m-.4 .2h.7m-.3-.4h.7m.2 .1h.7m.9 .2h.7m2 0h.7m6.8-.1h.7m2.5-.2h.7m2.9 0h.7m-25 .6h.7m1.1 0h.7m-.7 0h.7m1.5 .1h.7m-.5 .1h.7m-.6-.2h.7m-.5 .3h.7m.6-.3h.7m.2 .2h.7m-.5 0h.7m-.7-.3h.7m-.1 .1h.7m-.1 .3h.7m-.4-.1h.7m-8.5 .4h.7m-.5 .1h.7m-.2 0h.7m.6-.3h.7m-.3 .3h.7m-.6 0h.7m-.3-.1h.7m-.1 .1h.7m-.2-.3h.7m-.6 .1h.7m-.6 .2h.7m.6 .1h.7m-.2-.4h.7m.5 .4h.7m.7-.4h.7m.9 .2h.7m.9 .1h.7m5.6-.1h.7m8.1-.2h.7m-25.3 .8h.7m-.1-.2h.7m-.5 .1h.7m-.7 .2h.7m-.5-.4h.7m-.2 .1h.7m-.5-.1h.7m-.7 .3h.7m-.1-.1h.7m-.2-.1h.7m-.7-.1h.7m-.2 0h.7m1.2 .1h.7m1.5 .1h.7m1.7 .2h.7m-14.7 .4h.7m2.4-.2h.7m-.1 0h.7m.6 0h.7m-.4 .2h.7m-.3-.3h.7m-.1 .4h.7m-.6-.1h.7m-.7 .1h.7m-.5 0h.7m-.2-.2h.7m-.5 0h.7m1.4 0h.7m0 0h.7m-.4-.2h.7m1.2 0h.7m.6 .2h.7m-12.3 .7h.7m.6 0h.7m-.5-.4h.7m-.3 .2h.7m-.6 .2h.7m-.2-.3h.7m-.3 .1h.7m-.6-.2h.7m1.1 .3h.7m-.2-.3h.7m-.5 .4h.7m-.5-.2h.7m0-.2h.7m.1 0h.7m.9 .3h.7m1.3-.1h.7m-9.2 .6h.7m-.7 0h.7m-.4 .1h.7m-.6-.3h.7m.2 .2h.7m-.5-.2h.7m-.5 .1h.7m-.2-.1h.7m.9 .3h.7m-.4 0h.7m-.2 0h.7m-.6 0h.7m-.6-.4h.7m-.1 0h.7m0 .3h.7m-.2-.1h.7m-9.2 .7h.7m0 0h.7m-.6-.3h.7m-.1 0h.7m-.6 .3h.7m-.5-.1h.7m.1 0h.7m-.6-.1h.7m-.7 .1h.7m.3 .1h.7m.6-.1h.7m-.4 .1h.7m-.6-.2h.7m.7-.2h.7m-.7 .1h.7m-8 .6h.7m.9-.1h.7m-.5 0h.7m.6 .2h.7m-.7-.3h.7m0 .2h.7m-.4-.2h.7m1.4 .1h.7m1 .2h.7m1.1-.3h.7m-11.2 .6h.7m1.7 .1h.7m.1-.2h.7m-.1 .3h.7m-.6-.1h.7m-.7 0h.7m-.5 .1h.7m.2-.2h.7m-.5 .2h.7m1.1 .1h.7m-.2-.2h.7m-.7-.1h.7m1.5 .2h.7m1.3-.1h.7m-10.5 .6h.7m1.2-.3h.7m-.6 .1h.7m.3 .1h.7m-.3 .2h.7m-.2-.1h.7m-.6-.3h.7m-.1 .3h.7m-.2 0h.7m-.6 .1h.7m.5-.2h.7m-.2-.1h.7m.1-.1h.7m-.2 .4h.7m-8.1 .5h.7m.2-.3h.7m-.5 .2h.7m.1 0h.7m-.3-.3h.7m-.2 0h.7m-.6 .2h.7m-.4-.1h.7m.9 .2h.7m-.1 .1h.7m.5-.4h.7m1.1 .4h.7m2.9-.4h.7m-14 .9h.7m.8-.3h.7m-.1 0h.7m.2 .3h.7m0-.4h.7m-.7 .4h.7m-.3-.3h.7m-.3 .1h.7m-.3 .1h.7m-.7-.1h.7m.2-.2h.7m-.3 .4h.7m-.5-.2h.7m-.3-.1h.7m-.7-.1h.7m1.1 .4h.7m12.3-.2h.7m1.2 0h.7m-25 .3h.7m1.7 0h.7m-.5 .1h.7m-.3 .3h.7m-.6-.4h.7m-.3 0h.7m-.5 .4h.7m-.7-.3h.7m.1-.1h.7m.6 .3h.7m-.5-.1h.7m1.3-.2h.7m.3 .1h.7m-8.3 .8h.7m5.1-.1h.7m.5-.1h.7m.2 0h.7m1.4-.1h.7m-8.5 .6h.7m.9 0h.7m.5 .1h.7m-.4-.1h.7m.2-.2h.7m16.8 .2h.7m-16 .7h.7m-10.5 .1h.7m3 .3h.7m.4 0h.7m-.6 0h.7m1-.1h.7m-.4 .2h.7m.7-.2h.7m.3 0h.7m-7.3 .4h.7m-.3 0h.7m1.9 .3h.7m11.1-.3h.7m6.6 .1h.7m-20.4 .6h.7m2-.2h.7m-6.9 .4h.7m1.4 0h.7m.2 .3h.7m.6-.3h.7m3.9 .3h.7m14.4 0h.7m-.5 0h.7" stroke="#000" stroke-width=".7" opacity="0.6" fill="none" filter="url(#bl)"/><path d="M43.4 255.3h.7m-7.4 4.1h.7m20.3 .3h.7m1.2-.2h.7m-1.4 1.5h.7m-.3-.2h.7m-12.1 .5h.7m6.2 .4h.7m-5 .2h.7m7.6 4.4h.7m-22.8 1.1h.7m.8 .6h.7m.4-.2h.7m7.8 0h.7m21.7 0h.7m-35 2h.7m27.5 2h.7m15.1 .7h.7m-6.2 2.2h.7m-21.3 .1h.7m14.8 1h.7m-31.2 3.4h.7m3.4 .4h.7m11.6 0h.7m3.6 2.5h.7m14.5 4h.7m.1 .5h.7m-43.2 1.3h.7m32.6-.1h.7m11.9 2.3h.7m-26 1.4h.7m8.3 .1h.7m-17.5 1.7h.7m23.5 .8h.7m-17.5 1.7h.7m13.9 1.2h.7m-35 1.8h.7m-4.6 1.1h.7m16.7 1.4h.7m24.7 2.3h.7" stroke="#000" stroke-width=".7" opacity="0.35" fill="none" filter="url(#bl)"/></g><rect x="27.3" y="253.6" width="53.9" height="50.6" fill="none" stroke="#9a9a9a" stroke-width="0.9"/><path d="M27.3 304.2v1.6M27.3 304.2h-1.6M40.8 304.2v1.6M27.3 291.6h-1.6M54.2 304.2v1.6M27.3 278.9h-1.6M67.7 304.2v1.6M27.3 266.2h-1.6M81.2 304.2v1.6M27.3 253.6h-1.6" stroke="#999" stroke-width=".6" fill="none"/><rect x="43.4" y="260.4" width="12" height="18.4" fill="none" stroke="#a0a0a0" stroke-width="0.75"/><rect x="43.4" y="278.8" width="22.8" height="25.4" fill="none" stroke="#a0a0a0" stroke-width="0.75"/><path d="M53.4 268.2l3.4 -2.2v1.35h1.8v1.7h-1.8v1.35z" fill="#000"/><text x="59" y="271.3">1.1</text><path d="M64 290.5l3.4 -2.2v1.35h1.8v1.7h-1.8v1.35z" fill="#000"/><text x="69" y="293.6">2.3</text><clipPath id="c6"><rect x="93" y="253.6" width="53.5" height="50.6"/></clipPath><g clip-path="url(#c6)"><ellipse cx="99.5" cy="269.5" rx="6" ry="3.6" fill="url(#g)" opacity="0.4"/><ellipse cx="101.5" cy="295.5" rx="5.5" ry="7.5" fill="url(#g)" opacity="0.2"/><path d="M97.8 258.5h.7m-.3 1.7h.7m-.1 0h.7m1-.3h.7m14.9-.1h.7m-18 .6h.7m.8 .3h.7m1.9-.1h.7m-7.8 .3h.7m3.8 0h.7m2.3 .2h.7m-10.2 .6h.7m1.9-.4h.7m-.3 .2h.7m1.6 .2h.7m.3-.3h.7m-.4 .1h.7m3.9 .1h.7m.6-.1h.7m1.9-.1h.7m-12.6 .6h.7m.5 0h.7m2 .1h.7m-.3-.1h.7m0 .2h.7m-.4-.3h.7m-.5 .1h.7m-.3-.2h.7m-.6 .3h.7m-9.9 .6h.7m5-.4h.7m-.6 .4h.7m-.2-.1h.7m-.6-.3h.7m0 .4h.7m-.1-.1h.7m-.3-.3h.7m.3 .2h.7m-7.4 .4h.7m.6-.1h.7m-.3 .1h.7m2.2 .2h.7m-.6 .1h.7m-.3-.4h.7m.1 .3h.7m.8-.3h.7m1.9 .4h.7m.7-.2h.7m-13 .6h.7m.4 .1h.7m-.4-.3h.7m-.1 .1h.7m0 0h.7m.6 0h.7m-.4 .1h.7m-.2 0h.7m.7-.2h.7m-.3 .1h.7m-.3 .2h.7m-.1-.3h.7m.6 .2h.7m-.2-.2h.7m2.7 0h.7m-.5-.1h.7m7.9 .3h.7m-19.8 .5h.7m-.2 .1h.7m1.6-.4h.7m-.1 .4h.7m.4-.1h.7m1.5 0h.7m-.1-.2h.7m2.4 0h.7m-13.8 .5h.7m1.8 .2h.7m.7-.1h.7m.1-.1h.7m-.2 .1h.7m.3-.2h.7m-.6 .1h.7m-.2 .2h.7m.2-.1h.7m-.7 .2h.7m3.3-.2h.7m-13.7 .6h.7m-.1 .1h.7m.9-.2h.7m-.2 .1h.7m1.2 0h.7m-.2-.2h.7m0 0h.7m-.1 .3h.7m-.5-.3h.7m0 .2h.7m.4-.1h.7m-.4 .2h.7m0 0h.7m-.3-.1h.7m0-.2h.7m-.2 .3h.7m-.2-.2h.7m.9-.1h.7m5.1 0h.7m4.1-.1h.7m-22.7 .8h.7m.1-.3h.7m.7 .3h.7m-.1-.2h.7m0 0h.7m-.4-.1h.7m.3 .2h.7m-.2 .2h.7m.5-.2h.7m.2 0h.7m-.2 .2h.7m.2-.3h.7m-10.8 .6h.7m1.5 0h.7m-.5 .1h.7m-.3-.1h.7m0 0h.7m-.6 0h.7m0 .1h.7m-.6 .1h.7m-.4-.4h.7m-.4 .1h.7m-.6 0h.7m-.5 .2h.7m-.2-.2h.7m-.3 .2h.7m-.3 0h.7m0 .1h.7m-.5 0h.7m-.3-.1h.7m-.4 .1h.7m-.7 0h.7m-.1-.4h.7m-.4 .1h.7m0 0h.7m-.5-.1h.7m7.5 .2h.7m-17.8 .6h.7m-.2 .1h.7m.8-.2h.7m-.1 0h.7m-.5-.2h.7m-.3 .3h.7m-.4-.2h.7m-.5 .3h.7m-.1 0h.7m-.5-.1h.7m-.6 0h.7m-.2 0h.7m-.1-.2h.7m2.1 0h.7m-.2 .3h.7m13.8-.4h.7m-24.6 .8h.7m-.6-.2h.7m-.5 0h.7m1.1 .3h.7m0 0h.7m-.5-.4h.7m-.6 .3h.7m.3-.2h.7m-.6-.1h.7m-.4 .2h.7m-.7 .2h.7m-.6 0h.7m-.7-.4h.7m.2 .2h.7m.2-.1h.7m-.7 .1h.7m.5-.2h.7m-.5 .2h.7m-.4-.1h.7m-.6 .3h.7m-.5-.4h.7m-.2 .4h.7m-.5-.3h.7m5.4 0h.7m-16 .5h.7m1.4 .2h.7m-.1-.3h.7m-.3 .4h.7m-.3-.1h.7m-.6-.3h.7m-.5 .4h.7m.9-.2h.7m-.5 .2h.7m-.6-.1h.7m-.6-.1h.7m-.4 0h.7m-.4-.2h.7m-.4 .2h.7m-.6 .1h.7m-.4-.2h.7m-.1 .2h.7m0-.1h.7m.1-.1h.7m.4 0h.7m2.4-.1h.7m3.5 .1h.7m-17.5 .8h.7m-.6 0h.7m1.3-.2h.7m-.2-.1h.7m-.7 .3h.7m-.6-.3h.7m-.4 .1h.7m-.3 .2h.7m-.7 0h.7m-.6-.3h.7m-.5-.1h.7m-.2 .2h.7m.9 .2h.7m.5-.1h.7m.5-.2h.7m-.4 .2h.7m.7 .1h.7m4.2-.3h.7m-16.3 .4h.7m-.2 .4h.7m.2 0h.7m-.3-.2h.7m-.6-.1h.7m-.2 .1h.7m-.7 .2h.7m-.5 0h.7m-.1-.2h.7m-.2 .2h.7m-.7-.4h.7m-.3 .4h.7m-.5-.3h.7m-.2 0h.7m-.3 .2h.7m-.6-.1h.7m-.7-.1h.7m-.6-.1h.7m-.5 .1h.7m-.6 0h.7m-.4 0h.7m-.6-.1h.7m-.4 .3h.7m-.1-.3h.7m-.3 0h.7m-.2 .3h.7m-.4-.2h.7m0 .3h.7m0-.3h.7m.3-.1h.7m-.1 .1h.7m-12.5 .8h.7m.7-.2h.7m.2-.1h.7m-.6-.1h.7m-.3 0h.7m.6 .4h.7m-.6-.2h.7m-.7-.2h.7m-.6 .1h.7m.4 0h.7m-.6 .2h.7m-.4-.2h.7m-.5 0h.7m0 .2h.7m-.2-.1h.7m-.6 0h.7m-.2 .1h.7m-.6 .1h.7m-.6-.4h.7m-.4 0h.7m-.6 .3h.7m-.6-.2h.7m-.2 .1h.7m.5 .1h.7m-.3-.3h.7m.7 0h.7m5.2 .3h.7m1.7-.3h.7m-19.5 .8h.7m-.5-.1h.7m-.7 0h.7m-.5 .1h.7m-.5-.1h.7m.2 .2h.7m.6-.2h.7m-.4 .1h.7m-.5 .1h.7m-.7-.1h.7m-.5-.2h.7m-.4 .3h.7m-.6-.4h.7m-.6 .3h.7m-.4 .1h.7m-.3-.1h.7m-.1 .1h.7m-.5-.3h.7m-.5 0h.7m-.4 0h.7m-.3 .2h.7m-.5 .1h.7m-.3-.2h.7m-.3 .2h.7m-.3-.2h.7m-.1 0h.7m.3 .2h.7m.1 0h.7m4 0h.7m-17.4 .4h.7m-.2 0h.7m-.2-.2h.7m-.5 .1h.7m-.6 0h.7m-.1-.1h.7m-.6 0h.7m.2 0h.7m.8-.1h.7m-.2 .3h.7m.1-.2h.7m-.5-.1h.7m-.4 .1h.7m.2 .3h.7m-.2-.4h.7m-.3 .2h.7m-.6 .2h.7m-.7 0h.7m-.6-.4h.7m-.4 .2h.7m-.5 .1h.7m-.1 .1h.7m.4-.2h.7m0-.2h.7m7.9 .1h.7m-20.7 .6h.7m1.4 .1h.7m-.6-.2h.7m0 .3h.7m-.1-.2h.7m-.6 .1h.7m-.4-.3h.7m-.1 0h.7m-.7 .4h.7m-.7-.3h.7m-.4 .2h.7m-.5-.1h.7m-.7 .1h.7m-.4 .1h.7m-.6-.2h.7m-.3 .1h.7m-.2 .1h.7m-.3 0h.7m-.6 0h.7m-.6 0h.7m-.7-.1h.7m0-.3h.7m-.2 .4h.7m-.6 0h.7m-.5-.2h.7m0 .1h.7m-.4 .1h.7m-.5-.1h.7m-.6 .1h.7m-10.4 .1h.7m1.7 .3h.7m0-.2h.7m0 0h.7m-.3 .3h.7m-.7 0h.7m-.6-.2h.7m-.2-.1h.7m-.4 .1h.7m-.2-.1h.7m-.1-.1h.7m-.5 0h.7m.7 0h.7m-.6 .3h.7m-.4-.2h.7m-.6-.1h.7m.8 .2h.7m.4 .1h.7m.2-.1h.7m5 .1h.7m1.7-.1h.7m-19.4 .4h.7m.1 .3h.7m-.3-.2h.7m-.5-.2h.7m.1 0h.7m-.5 .3h.7m-.7-.1h.7m.4 .2h.7m-.6-.4h.7m-.5 .3h.7m.7-.3h.7m-.6 .1h.7m.2 .2h.7m.1-.3h.7m1.2 .3h.7m-.5-.1h.7m.2 0h.7m-8.3 .6h.7m1.4-.1h.7m.1 .1h.7m-.1-.2h.7m-.1 0h.7m.2 .3h.7m3-.4h.7m1.1 .1h.7m-9.6 .5h.7m.4-.1h.7m1.6 .1h.7m-.6 .3h.7m-7.8 .3h.7m2.1-.1h.7m-.2 .1h.7m1.3 .2h.7m10.6-.4h.7m3.6 .4h.7m-18.8 .4h.7m.7-.3h.7m2.4 .3h.7m-5.7 .2h.7m1.3 .2h.7m-.3 0h.7m1.4 .1h.7m14.2-.1h.7m-18.9 .3h.7m-.5 .2h.7m1.7-.1h.7m13.9 .1h.7m-3.7 .6h.7m-11.3 .6h.7m13.9-.3h.7m-21.1 .6h.7m7.6 .1h.7m-3.9 .5h.7m-4.9 .5h.7m-.4-.2h.7m5.1 .2h.7m5.6-.2h.7m-11 3.4h.7m28.4 .9h.7m-11.9 .4h.7m-13.7 1.5h.7m12.7-.2h.7m-14.7 1.4h.7m19.6 .4h.7m-26.1 .5h.7m10.8 0h.7m7.9-.1h.7m.8-.1h.7m-.4 0h.7m1.7 .1h.7m-23.5 .5h.7m21.4-.1h.7m-22.8 .4h.7m2.3 .3h.7m23-.2h.7m-32.9 1h.7m9.3 0h.7m-6.4 .6h.7m3.5-.2h.7m8.1 .2h.7m-14.1 .5h.7m19.7 .5h.7m-25.2 .4h.7m4.6-.1h.7m4.5 .2h.7m-10.1 .6h.7m1.3-.3h.7m14.3 .1h.7m12-.1h.7m-29.5 .5h.7m6.9 .1h.7m-.1-.2h.7m1.5 .2h.7m2-.2h.7m-13.1 .5h.7m3.5 .4h.7m1.4-.1h.7m-.7-.3h.7m2.2 .3h.7m.5-.2h.7m1.1 .3h.7m-12.7 .2h.7m1 .1h.7m-.6-.1h.7m.2 .3h.7m-.6-.4h.7m-.6 .3h.7m-.4-.2h.7m-.6 0h.7m.2-.1h.7m.3 .4h.7m1.1-.3h.7m-9.1 .6h.7m.9 .1h.7m-.2 .1h.7m-.2-.2h.7m-.5-.1h.7m-.3 .1h.7m.8 0h.7m.1-.2h.7m-.4 .1h.7m-.1-.1h.7m.5 0h.7m-.3 .3h.7m-7.7 .6h.7m-.2-.2h.7m-.5-.2h.7m.6 .1h.7m.7 0h.7m1 .3h.7m-.6-.1h.7m.9-.2h.7m3.1 .1h.7m-9.6 .5h.7m-.1-.2h.7m-.3 .3h.7m1.3 0h.7m-.3-.3h.7m-.4 .4h.7m.6-.4h.7m.2 0h.7m-.3 .3h.7m-.6 .1h.7m-.5-.1h.7m12.5 0h.7m11.5-.1h.7m-35.3 .4h.7m-.2 .3h.7m-.6 0h.7m.5 0h.7m-.6-.4h.7m-.4 .2h.7m-.5 .1h.7m.3-.3h.7m-.1 .1h.7m.8-.1h.7m-.2 .3h.7m-.3-.1h.7m2.9-.2h.7m.9 .4h.7m7.7 0h.7m-21.4 .5h.7m1.2-.2h.7m4.3 .1h.7m2.6 .1h.7m0-.1h.7m7.3 .1h.7m7.8-.3h.7m-25.4 .4h.7m1.8 .4h.7m-.1-.1h.7m-.5 .1h.7m.6-.3h.7m-.3 .3h.7m-.1-.4h.7m-.3 .2h.7m11.2-.2h.7m1.7 .3h.7m-.3 0h.7m-24.8 .4h.7m2.6-.1h.7m-.2 0h.7m-.7 .2h.7m1.8 0h.7m-.6-.1h.7m-.6 0h.7m-.4 .1h.7m-.6-.1h.7m-.3-.1h.7m-.5 .3h.7m.2-.1h.7m-.4-.1h.7m-5.9 .7h.7m.1 0h.7m1.1 0h.7m.6-.1h.7m-.2-.2h.7m-5.8 .4h.7m.6 .1h.7m.5 .2h.7m.5 .1h.7m-.6-.1h.7m-.6-.2h.7m-.4 .3h.7m-.1-.4h.7m0 .1h.7m-.6 .2h.7m.1 .1h.7m-.4-.2h.7m-.2-.1h.7m-.3-.1h.7m10.7 .4h.7m3.8 0h.7m-21.6 .2h.7m0 0h.7m.3 0h.7m-.6-.1h.7m-.3 .3h.7m-.4-.2h.7m-.5 .1h.7m-.3-.1h.7m-.2 .2h.7m-.5 .1h.7m-.6-.4h.7m-.2 .3h.7m16.1-.2h.7m-27.1 .6h.7m1 0h.7m.6 0h.7m-.5 .2h.7m.6-.3h.7m-.2 .2h.7m.6 .1h.7m.4-.3h.7m-.5 .1h.7m-.3 0h.7m.4 0h.7m.6-.2h.7m-.3 .1h.7m-.5 .1h.7m-.7 0h.7m0 .1h.7m.2-.1h.7m.4 .1h.7m8-.3h.7m-17.5 .8h.7m.5 .1h.7m0-.1h.7m-.5 .1h.7m-.6-.4h.7m.8 .3h.7m2.9-.3h.7m3.4 .1h.7m6.7 .3h.7m-22.9 .1h.7m.8 0h.7m-.4 .2h.7m-.1-.1h.7m1.8 .1h.7m.5-.2h.7m1.6 .1h.7m0-.1h.7m-.5 .3h.7m8.1 0h.7m-16.5 .3h.7m-.5-.1h.7m-.3 .4h.7m-.6-.1h.7m1.1 0h.7m-.2-.1h.7m-.1 0h.7m-.2-.1h.7m.5 .3h.7m-.7 0h.7m.8-.2h.7m-.4 .1h.7m6.8-.3h.7m-17.1 .5h.7m.1 .3h.7m.6 0h.7m.1-.1h.7m.7-.1h.7m1.5 .3h.7m-8.7 .5h.7m1.3-.3h.7m.1 .3h.7m-.4-.2h.7m-.6-.2h.7m-.5 .1h.7m-.3 .1h.7m.8 .2h.7m1.1-.3h.7m2.1 .3h.7m14.7-.1h.7m-20.6 .5h.7m-.3 .1h.7m-.2 0h.7m-.6-.4h.7m-.5 .4h.7m0 0h.7m.4-.2h.7m1 0h.7m-8.9 .6h.7m.1-.1h.7m.6 .2h.7m.1-.3h.7m-.1-.1h.7m.4 .2h.7m.9 0h.7m.8 .2h.7m15.6-.3h.7m-23.5 .5h.7m-.6 .1h.7m.1 .1h.7m-.3-.1h.7m.5-.2h.7m2.5 .2h.7m0-.2h.7m-5.8 .5h.7m.2 0h.7m-.6 .4h.7m-.6-.3h.7m-.2-.1h.7m.6 .2h.7m20 .1h.7m-24 .6h.7m-5.8 .5h.7m3.4-.3h.7m.5 .2h.7m-.4 0h.7m-8.5 .4h.7m3.6-.2h.7m.4 .4h.7m1.8-.3h.7m1.7-.1h.7m2.1 .3h.7m-7.4 .6h.7m-.3-.3h.7m.1 0h.7m2.9 .1h.7m.2-.1h.7m-4.9 .6h.7m1.6-.2h.7" stroke="#000" stroke-width=".7" opacity="0.6" fill="none" filter="url(#bl)"/><path d="M97.4 256.3h.7m18.8 .7h.7m-15.2 1h.7m36.9 .6h.7m-10.1 1.8h.7m-33.1 2.3h.7m12.5 .6h.7m20.5 1.6h.7m-10.7 .7h.7m-6.5 1h.7m21.9 1.9h.7m-44 1.2h.7m36.2-.1h.7m-.5 2.6h.7m9.4 0h.7m-9.6 .2h.7m-11.2 3.3h.7m-12.4 1.7h.7m6.2 .1h.7m13.6 1.1h.7m-8.1 .2h.7m-31.2 3.3h.7m8.5 1.5h.7m34.3 2.6h.7m-19.4 1.8h.7m-3 .7h.7m-15 .1h.7m14.6 0h.7m23.1 4.3h.7m-37.6 .3h.7m26.9 2.5h.7m-35.6 .7h.7m8.1-.2h.7m31.1 3.8h.7m-21.9 2.7h.7" stroke="#000" stroke-width=".7" opacity="0.35" fill="none" filter="url(#bl)"/></g><rect x="93" y="253.6" width="53.5" height="50.6" fill="none" stroke="#9a9a9a" stroke-width="0.9"/><path d="M93 304.2v1.6M93 304.2h-1.6M106.4 304.2v1.6M93 291.6h-1.6M119.8 304.2v1.6M93 278.9h-1.6M133.1 304.2v1.6M93 266.2h-1.6M146.5 304.2v1.6M93 253.6h-1.6" stroke="#999" stroke-width=".6" fill="none"/><rect x="109.2" y="260.8" width="11.6" height="18.5" fill="none" stroke="#a0a0a0" stroke-width="0.75"/><rect x="108.5" y="279.3" width="23" height="24.9" fill="none" stroke="#a0a0a0" stroke-width="0.75"/><path d="M118.4 268.5l3.4 -2.2v1.35h2v1.7h-2v1.35z" fill="#000"/><text x="124.5" y="271.5">0.7</text><path d="M128.6 290.8l3.4 -2.2v1.35h2v1.7h-2v1.35z" fill="#000"/><text x="133.8" y="293.8">0.8</text><path d="M43.5 365L43.5 376.2" stroke="#333" stroke-width="0.7" fill="none"/><path d="M41.9 365L45.1 365" stroke="#333" stroke-width="0.7" fill="none"/><rect x="37.5" y="376.2" width="12" height="45.8" fill="#fff" stroke="#333" stroke-width="0.7"/><path d="M57.8 407.3L57.8 408.8" stroke="#333" stroke-width="0.7" fill="none"/><path d="M56.2 407.3L59.4 407.3" stroke="#333" stroke-width="0.7" fill="none"/><rect x="51.8" y="408.8" width="12" height="13.2" fill="url(#h)" stroke="#222" stroke-width="0.7"/><text x="58" y="406.7" text-anchor="middle" font-size="8">*</text><path d="M76.7 401.2L76.7 402.5" stroke="#333" stroke-width="0.7" fill="none"/><path d="M75.1 401.2L78.2 401.2" stroke="#333" stroke-width="0.7" fill="none"/><rect x="70.8" y="402.5" width="11.7" height="19.5" fill="#fff" stroke="#333" stroke-width="0.7"/><path d="M90.3 411.8L90.3 412.5" stroke="#333" stroke-width="0.7" fill="none"/><path d="M88.8 411.8L91.9 411.8" stroke="#333" stroke-width="0.7" fill="none"/><rect x="84.5" y="412.5" width="11.7" height="9.5" fill="url(#h)" stroke="#222" stroke-width="0.7"/><text x="90.5" y="411.7" text-anchor="middle" font-size="8">*</text><path d="M30 335.5L30 422" stroke="#222" stroke-width="0.9" fill="none"/><path d="M30 422L102 422" stroke="#222" stroke-width="0.9" fill="none"/><path d="M28 335.8L30 335.8" stroke="#222" stroke-width="0.7" fill="none"/><text x="27.5" y="338.8" text-anchor="end">10</text><path d="M28 353L30 353" stroke="#222" stroke-width="0.7" fill="none"/><text x="27.5" y="356" text-anchor="end">8</text><path d="M28 370.3L30 370.3" stroke="#222" stroke-width="0.7" fill="none"/><text x="27.5" y="373.3" text-anchor="end">6</text><path d="M28 387.5L30 387.5" stroke="#222" stroke-width="0.7" fill="none"/><text x="27.5" y="390.5" text-anchor="end">4</text><path d="M28 404.8L30 404.8" stroke="#222" stroke-width="0.7" fill="none"/><text x="27.5" y="407.8" text-anchor="end">2</text><path d="M28 422L30 422" stroke="#222" stroke-width="0.7" fill="none"/><text x="27.5" y="425" text-anchor="end">0</text><text x="8.3" y="381" text-anchor="middle" transform="rotate(-90 8.3 381)">cDC and pDC</text><text x="18" y="381" text-anchor="middle" transform="rotate(-90 18 381)">per femur x10<tspan dy="-3" font-size="4.5">5</tspan></text><text x="51.2" y="431.8" text-anchor="middle">cDC</text><text x="84.2" y="431.8" text-anchor="middle">pDC</text><rect x="69.5" y="333.7" width="5.7" height="5.8" fill="#fff" stroke="#222" stroke-width="0.7"/><text x="79.5" y="339.8">V</text><rect x="69" y="344.5" width="6.2" height="5.5" fill="url(#h)" stroke="#222" stroke-width="0.7"/><text x="77" y="350.2">Indo</text><path d="M159.1 342L159.1 349.5" stroke="#333" stroke-width="0.7" fill="none"/><path d="M157.5 342L160.7 342" stroke="#333" stroke-width="0.7" fill="none"/><rect x="153.2" y="349.5" width="11.8" height="72.5" fill="#fff" stroke="#333" stroke-width="0.7"/><path d="M173.5 372.5L173.5 382.5" stroke="#333" stroke-width="0.7" fill="none"/><path d="M171.9 372.5L175.1 372.5" stroke="#333" stroke-width="0.7" fill="none"/><rect x="167.5" y="382.5" width="12" height="39.5" fill="url(#h)" stroke="#222" stroke-width="0.7"/><text x="173.2" y="371" text-anchor="middle" font-size="8">*</text><path d="M194.3 396.7L194.3 399.5" stroke="#333" stroke-width="0.7" fill="none"/><path d="M192.8 396.7L195.9 396.7" stroke="#333" stroke-width="0.7" fill="none"/><rect x="188.7" y="399.5" width="11.3" height="22.5" fill="#fff" stroke="#333" stroke-width="0.7"/><path d="M208.5 405L208.5 408" stroke="#333" stroke-width="0.7" fill="none"/><path d="M206.9 405L210.1 405" stroke="#333" stroke-width="0.7" fill="none"/><rect x="202.5" y="408" width="12" height="14" fill="url(#h)" stroke="#222" stroke-width="0.7"/><text x="208.7" y="403.2" text-anchor="middle" font-size="8">*</text><path d="M146.2 333.7L146.2 422" stroke="#222" stroke-width="0.9" fill="none"/><path d="M146.2 422L216.2 422" stroke="#222" stroke-width="0.9" fill="none"/><path d="M144.2 334.2L146.2 334.2" stroke="#222" stroke-width="0.7" fill="none"/><text x="144" y="337.2" text-anchor="end">18</text><path d="M144.2 353.8L146.2 353.8" stroke="#222" stroke-width="0.7" fill="none"/><text x="144" y="356.8" text-anchor="end">14</text><path d="M144.2 373.4L146.2 373.4" stroke="#222" stroke-width="0.7" fill="none"/><text x="144" y="376.4" text-anchor="end">10</text><path d="M144.2 393L146.2 393" stroke="#222" stroke-width="0.7" fill="none"/><text x="144" y="396" text-anchor="end">6</text><path d="M144.2 412.6L146.2 412.6" stroke="#222" stroke-width="0.7" fill="none"/><text x="144" y="415.6" text-anchor="end">2</text><text x="124" y="375" text-anchor="middle" transform="rotate(-90 124 375)">cDC and pDC in spleen</text><text x="133" y="373.7" text-anchor="middle" transform="rotate(-90 133 373.7)">x 10<tspan dy="-3" font-size="4.5">5</tspan></text><text x="167.5" y="431.8" text-anchor="middle">cDC</text><text x="204.5" y="431.8" text-anchor="middle">pDC</text><rect x="185.7" y="333" width="6" height="6.2" fill="#fff" stroke="#222" stroke-width="0.7"/><text x="195.5" y="339.6">V</text><rect x="185.7" y="343.7" width="6" height="5.8" fill="url(#h)" stroke="#222" stroke-width="0.7"/><text x="195.5" y="350">Indo</text><text x="257.5" y="313.8" font-weight="bold" font-size="10.6" fill="#000">C</text><path d="M308.5 330.7L308.5 334.2" stroke="#333" stroke-width="0.7" fill="none"/><path d="M306.9 330.7L310.1 330.7" stroke="#333" stroke-width="0.7" fill="none"/><rect x="302.5" y="334.2" width="12" height="84" fill="#000" stroke="#111" stroke-width="0.7"/><path d="M338.8 375.5L338.8 381.7" stroke="#333" stroke-width="0.7" fill="none"/><path d="M337.1 375.5L340.4 375.5" stroke="#333" stroke-width="0.7" fill="none"/><rect x="332.5" y="381.7" width="12.5" height="36.5" fill="#c8c8c8" stroke="#333" stroke-width="0.7"/><text x="338.7" y="373.5" text-anchor="middle" font-size="8">*</text><path d="M369.7 334.5L369.7 342" stroke="#333" stroke-width="0.7" fill="none"/><path d="M368.1 334.5L371.3 334.5" stroke="#333" stroke-width="0.7" fill="none"/><rect x="363.7" y="342" width="12" height="76.2" fill="#fff" stroke="#333" stroke-width="0.7"/><path d="M292.5 321L292.5 418.2" stroke="#222" stroke-width="0.9" fill="none"/><path d="M292.5 418.2L385 418.2" stroke="#222" stroke-width="0.9" fill="none"/><path d="M290.5 321.2L292.5 321.2" stroke="#222" stroke-width="0.7" fill="none"/><text x="289.8" y="324.2" text-anchor="end">5</text><path d="M290.5 340.6L292.5 340.6" stroke="#222" stroke-width="0.7" fill="none"/><text x="289.8" y="343.6" text-anchor="end">4</text><path d="M290.5 360L292.5 360" stroke="#222" stroke-width="0.7" fill="none"/><text x="289.8" y="363" text-anchor="end">3</text><path d="M290.5 379.4L292.5 379.4" stroke="#222" stroke-width="0.7" fill="none"/><text x="289.8" y="382.4" text-anchor="end">2</text><path d="M290.5 398.8L292.5 398.8" stroke="#222" stroke-width="0.7" fill="none"/><text x="289.8" y="401.8" text-anchor="end">1</text><path d="M290.5 418.2L292.5 418.2" stroke="#222" stroke-width="0.7" fill="none"/><text x="289.8" y="421.2" text-anchor="end">0</text><text x="280" y="368" text-anchor="middle" transform="rotate(-90 280 368)">Total DC per femur x 10<tspan dy="-3" font-size="4.5">5</tspan></text><text x="308.2" y="429.2" text-anchor="middle">V</text><text x="338.7" y="428.2" text-anchor="middle">Indo</text><text x="369.5" y="428" text-anchor="middle">Indo</text><text x="371" y="436.4" text-anchor="middle">+ dmPGE<tspan dy="1.5" font-size="5">2</tspan></text><text x="389.7" y="313.3" font-weight="bold" font-size="10.6" fill="#000">D</text><path d="M442.7 411.8L442.7 411.8" stroke="#333" stroke-width="0.7" fill="none"/><path d="M441.1 411.8L444.3 411.8" stroke="#333" stroke-width="0.7" fill="none"/><rect x="436" y="411.8" width="13.4" height="3.2" fill="#fff" stroke="#333" stroke-width="0.7"/><path d="M472.6 336.5L472.6 340.4" stroke="#333" stroke-width="0.7" fill="none"/><path d="M471 336.5L474.2 336.5" stroke="#333" stroke-width="0.7" fill="none"/><rect x="466.3" y="340.4" width="12.7" height="74.6" fill="#000" stroke="#111" stroke-width="0.7"/><path d="M502.8 371.6L502.8 375.5" stroke="#333" stroke-width="0.7" fill="none"/><path d="M501.2 371.6L504.4 371.6" stroke="#333" stroke-width="0.7" fill="none"/><rect x="496" y="375.5" width="13.6" height="39.5" fill="#c8c8c8" stroke="#333" stroke-width="0.7"/><text x="502.3" y="369.2" text-anchor="middle" font-size="8">*</text><path d="M425.2 320.4L425.2 415" stroke="#222" stroke-width="0.9" fill="none"/><path d="M425.2 415L517.4 415" stroke="#222" stroke-width="0.9" fill="none"/><path d="M423.2 320.6L425.2 320.6" stroke="#222" stroke-width="0.7" fill="none"/><text x="422.8" y="323.6" text-anchor="end">100</text><path d="M423.2 339.5L425.2 339.5" stroke="#222" stroke-width="0.7" fill="none"/><text x="422.8" y="342.5" text-anchor="end">80</text><path d="M423.2 358.4L425.2 358.4" stroke="#222" stroke-width="0.7" fill="none"/><text x="422.8" y="361.4" text-anchor="end">60</text><path d="M423.2 377.2L425.2 377.2" stroke="#222" stroke-width="0.7" fill="none"/><text x="422.8" y="380.2" text-anchor="end">40</text><path d="M423.2 396.1L425.2 396.1" stroke="#222" stroke-width="0.7" fill="none"/><text x="422.8" y="399.1" text-anchor="end">20</text><path d="M423.2 415L425.2 415" stroke="#222" stroke-width="0.7" fill="none"/><text x="422.8" y="418" text-anchor="end">0</text><text x="409.3" y="365" text-anchor="middle" transform="rotate(-90 409.3 365)">Total DC per femur x 10<tspan dy="-3" font-size="4.5">5</tspan></text><text x="443.4" y="426.2" text-anchor="middle">V</text><text x="473.3" y="426.2" text-anchor="middle">Flt3L</text><text x="503" y="426.2" text-anchor="middle">Flt3L</text><text x="503" y="436.5" text-anchor="middle">+Indo</text><text x="9" y="486.8" font-weight="bold" font-size="10.6" fill="#000">E</text><text x="92.3" y="496.1" text-anchor="middle" font-size="6.4">Gated on Lin<tspan dy="-2" font-size="3.8">neg</tspan><tspan dy="2"> (CD5, B220, CD11b,</tspan></text><text x="90.5" y="504.1" text-anchor="middle" font-size="6.4">Gr-1,7-4,Ter-119)<tspan dy="-2" font-size="3.8">neg</tspan></text><path d="M34.6 506.3L148.8 506.3" stroke="#222" stroke-width="0.9" fill="none"/><text x="54" y="515.2" text-anchor="middle">Vehicle</text><text x="118.6" y="514.7" text-anchor="middle">Indomethacin</text><text x="25.3" y="541.6" text-anchor="middle" transform="rotate(-90 25.3 541.6)">c-Kit</text><text x="86.8" y="576.6" text-anchor="middle">Flt3</text><text x="25.5" y="607" text-anchor="middle" transform="rotate(-90 25.5 607)">CD115</text><text x="86" y="642.5" text-anchor="middle">FSC</text><clipPath id="c7"><rect x="30.2" y="519.4" width="54.4" height="45.8"/></clipPath><g clip-path="url(#c7)"><ellipse cx="49" cy="534" rx="11.5" ry="7" fill="url(#g)" opacity="1.0" transform="rotate(-11.5 49 534)"/><ellipse cx="46.5" cy="556" rx="13.5" ry="8.5" fill="url(#g)" opacity="1.0"/><ellipse cx="49" cy="545" rx="20" ry="22" fill="url(#g)" opacity="0.2"/><path d="M53.6 520h.8m4.2 .2h.8m-22.6 .3h.8m8.2 .1h.8m12.6 .6h.8m-18.4 .2h.8m8-.1h.8m3 .1h.8m-8.2 .5h.8m8.4 .1h.8m-16.6 .4h.8m13.1 .1h.8m3.9 .1h.8m-14.6 .4h.8m8.1-.2h.8m5.3 .3h.8m-12.4 .5h.8m4.2-.1h.8m4.2-.2h.8m11.2 .2h.8m-36.1 .5h.8m8.1-.2h.8m4.7 .3h.8m-9.5 .6h.8m1-.4h.8m-10.6 .9h.8m17.8-.3h.8m-.3 .2h.8m3.5 .1h.8m-.7-.1h.8m9 .1h.8m-27.3 .1h.8m-.7 .1h.8m4 .2h.8m6.3-.3h.8m-6.3 .5h.8m5 .1h.8m1.2 .1h.8m1.7 .1h.8m-7.5 .5h.8m.9 .1h.8m-.7 0h.8m.2 0h.8m.7 0h.8m0-.1h.8m1.6-.3h.8m.1 .2h.8m-20.3 .3h.8m5.1 .3h.8m-.3 .1h.8m.7-.2h.8m3.3 .1h.8m5.2-.1h.8m.9 .2h.8m2.9-.4h.8m5.4 .2h.8m-29.6 .7h.8m3.5-.3h.8m1.9-.1h.8m6.2 .3h.8m-.5 .1h.8m-15.6 .5h.8m2.1-.2h.8m2.3 .1h.8m3.2-.1h.8m2.4-.2h.8m-.1 .1h.8m-.3 .3h.8m-.5-.3h.8m-.6-.1h.8m4.4 .2h.8m1.3 .2h.8m-18.1 .2h.8m1.7 .2h.8m1.1 .1h.8m2.2-.4h.8m2.3 .3h.8m1.2-.2h.8m.2 0h.8m.5-.1h.8m1.3 .3h.8m.9-.2h.8m7.8 .3h.8m-31.6 .3h.8m-.4-.2h.8m2.8 .4h.8m1.5-.2h.8m.4 .2h.8m-.7-.1h.8m-.8 .1h.8m-.3 0h.8m2.3-.4h.8m-.6 .1h.8m.4 .2h.8m1.6-.3h.8m1 .2h.8m4.4-.1h.8m13.2 .2h.8m-39 .4h.8m.8-.1h.8m1.2 0h.8m.7-.1h.8m1.9 .2h.8m-.2-.2h.8m.3 .4h.8m.4-.1h.8m-.7 .1h.8m.3-.1h.8m-.4-.3h.8m-.7 .4h.8m-.6-.3h.8m-.5 0h.8m.7 0h.8m2.4 .3h.8m-.5-.4h.8m-.2 0h.8m1.1 0h.8m-.2 .4h.8m2.4-.3h.8m6.3 .1h.8m2.3-.1h.8m-34 .5h.8m5.6 .2h.8m.6 .1h.8m-.5-.2h.8m.4-.2h.8m-.5 0h.8m-.6 0h.8m-.5 .4h.8m-.2-.4h.8m.4 .1h.8m-.1 .2h.8m1.5-.3h.8m-.2 .1h.8m-.7 .2h.8m.5 0h.8m0 .1h.8m-.6 0h.8m.7-.3h.8m-.4 .2h.8m3.1-.1h.8m-26.7 .6h.8m1.6-.1h.8m.6 0h.8m1.7 .1h.8m-.6-.2h.8m-.1 .1h.8m1.5 .1h.8m-.8-.2h.8m.1 .2h.8m-.8 0h.8m-.5 .1h.8m-.7-.1h.8m0 .1h.8m-.4-.3h.8m-.5-.1h.8m-.5 .4h.8m-.2-.3h.8m0 .3h.8m-.4-.2h.8m-.7 .2h.8m-.5-.3h.8m1.6-.1h.8m-.5 .3h.8m-.6-.1h.8m-.4 .1h.8m.7 .1h.8m-.5-.2h.8m.1-.2h.8m.1 .4h.8m-23.7 .4h.8m6.5 0h.8m-.7 .1h.8m-.6-.4h.8m.8 .3h.8m1.1 .1h.8m-.3-.2h.8m-.4-.1h.8m1.6 0h.8m.5 .3h.8m-.8-.3h.8m-.6 .1h.8m-.7-.1h.8m.3 .3h.8m.6-.3h.8m-.7 0h.8m-.4 0h.8m1.8-.1h.8m5.7 .2h.8m-27.2 .4h.8m3.4-.1h.8m-.7 .4h.8m1.2-.2h.8m-.3-.2h.8m-.6 .3h.8m.1 0h.8m1.5-.1h.8m-.3-.1h.8m.7 .3h.8m.2-.1h.8m-.5-.2h.8m-.8 .3h.8m-.4-.3h.8m-.7 .2h.8m.5-.2h.8m-.7 .2h.8m-.7 0h.8m-.7-.2h.8m-.5 .3h.8m-.7-.3h.8m-.4 .3h.8m-.3-.4h.8m-.6 .1h.8m-.5 .2h.8m1.8 .1h.8m1.4-.1h.8m3.4-.1h.8m-31 .4h.8m6.8 .3h.8m-.2-.4h.8m-.8 .4h.8m.4 0h.8m.3-.1h.8m-.5 .1h.8m-.4-.3h.8m0 .2h.8m.1-.3h.8m-.5 0h.8m-.3 0h.8m-.2 .1h.8m-.1 .1h.8m-.4-.1h.8m.6-.1h.8m.1 0h.8m-.6 .3h.8m-.3-.1h.8m0 .2h.8m.5-.3h.8m.1 .3h.8m-.8-.3h.8m2.1 .2h.8m-.6 0h.8m-.3 0h.8m1.4 0h.8m6.5 0h.8m4-.3h.8m-43.1 .7h.8m-.8-.2h.8m4.7 0h.8m-.3 .4h.8m.2-.1h.8m1 .1h.8m-.7-.2h.8m-.6-.1h.8m-.7-.1h.8m-.2 .3h.8m-.7-.2h.8m-.7 .1h.8m-.5 .2h.8m-.4-.4h.8m1.3 .1h.8m.1 .1h.8m0 0h.8m-.1-.1h.8m-.3-.1h.8m.3 .3h.8m-.5 0h.8m-.8-.1h.8m-.8-.1h.8m.7 .2h.8m-.7-.2h.8m-.8-.1h.8m-.5 .1h.8m-.8 .3h.8m.5 0h.8m-.2 0h.8m-.5 0h.8m-.6-.2h.8m-.6-.1h.8m-.2-.1h.8m-.7 .4h.8m-.1-.1h.8m-.6-.3h.8m-.3 .1h.8m-.8 .1h.8m.5 0h.8m-.7 0h.8m-.8 .1h.8m4.1-.2h.8m.4 0h.8m-20.9 .4h.8m-.8 .4h.8m-.2-.1h.8m-.4-.3h.8m-.7 .2h.8m.8 0h.8m-.2 .2h.8m.4-.4h.8m-.6 .3h.8m-.6-.1h.8m-.4-.1h.8m-.4-.1h.8m-.5 .3h.8m-.4 0h.8m0-.1h.8m.2 .1h.8m.1 .1h.8m-.6-.1h.8m-.1 0h.8m-.4 0h.8m-.6-.3h.8m-.6 .1h.8m-.7-.1h.8m.2 .3h.8m.6-.2h.8m-.7-.1h.8m-.4 .1h.8m.5 .2h.8m.5-.2h.8m.3 .3h.8m3.7-.4h.8m5 .2h.8m3.4 0h.8m-41.7 .5h.8m-.4 0h.8m4.9 0h.8m1.4-.2h.8m0 .1h.8m-.5 0h.8m-.5 .3h.8m.3-.1h.8m0 0h.8m-.7-.2h.8m-.5 .2h.8m-.4 .1h.8m-.4 0h.8m-.1-.1h.8m-.5-.1h.8m-.2 0h.8m-.6 0h.8m-.8-.2h.8m-.6 .1h.8m-.7 .3h.8m-.4 0h.8m0-.1h.8m-.6 .1h.8m-.2-.1h.8m-.1-.1h.8m.8 0h.8m-.1-.2h.8m-.8 0h.8m-.5 0h.8m1.1 .3h.8m-.5 0h.8m-.5-.3h.8m-.8 .2h.8m-.7 .1h.8m.6 .1h.8m-.5 0h.8m2.5 0h.8m6.3-.3h.8m-34.8 .5h.8m2.4 .3h.8m2.4-.4h.8m-.5 .3h.8m.9-.3h.8m1.1 .4h.8m-.3-.4h.8m-.2 .1h.8m-.4 .2h.8m-.7 .1h.8m-.1 0h.8m-.6-.3h.8m-.8 .1h.8m.6 .1h.8m-.7 .1h.8m-.7-.2h.8m-.7-.1h.8m-.2 .3h.8m-.6-.3h.8m-.5 .2h.8m-.1-.3h.8m-.8 .1h.8m-.6-.1h.8m.3 .2h.8m-.6 0h.8m-.2-.2h.8m-.5 .1h.8m-.8 .3h.8m-.4-.4h.8m-.6 .2h.8m.2 .1h.8m0-.3h.8m-.5 .3h.8m-.8 0h.8m-.6-.1h.8m.3 .1h.8m-.7-.1h.8m0 .1h.8m-.1 0h.8m.6 .1h.8m-.5-.2h.8m2.1-.2h.8m-27.2 .6h.8m1.8 0h.8m.3 0h.8m-.1 .3h.8m-.4-.2h.8m-.7-.2h.8m-.3 .2h.8m0 0h.8m-.8 .2h.8m-.2-.4h.8m-.6 .2h.8m-.6 .1h.8m-.2-.1h.8m-.5 .1h.8m-.6-.3h.8m-.5 .4h.8m.1-.3h.8m-.5 .2h.8m-.6-.3h.8m-.6 .1h.8m-.2 0h.8m-.7 .3h.8m-.3 0h.8m-.8-.1h.8m-.1-.2h.8m-.7 .3h.8m-.6-.4h.8m-.5 .3h.8m-.2 0h.8m-.7 0h.8m-.8-.3h.8m-.7 .3h.8m-.8-.3h.8m-.7 .3h.8m-.8-.1h.8m-.6-.1h.8m-.2-.1h.8m-.7 .4h.8m-.1 0h.8m-.7 0h.8m.2-.4h.8m-.5 .2h.8m-.5 .2h.8m-.3-.3h.8m.3-.1h.8m-.7 .4h.8m-.6-.4h.8m-.8 0h.8m.1 .1h.8m.6 0h.8m1.7-.1h.8m2.4 .2h.8m-29.4 .6h.8m1.2-.2h.8m.6-.1h.8m.2 .2h.8m-.6 0h.8m-.7-.1h.8m-.6 0h.8m.4 .3h.8m-.6-.1h.8m-.2 0h.8m-.1-.2h.8m-.7 0h.8m-.4 .1h.8m-.5-.1h.8m-.4 .2h.8m-.6-.3h.8m-.1 .4h.8m-.1-.3h.8m-.4 0h.8m-.2 .1h.8m-.6-.1h.8m-.4 .1h.8m.2-.1h.8m-.1 .1h.8m-.8-.1h.8m-.8 .3h.8m.8-.2h.8m-.7 0h.8m-.2-.1h.8m-.5 0h.8m-.6 .1h.8m-.7-.2h.8m.1 .1h.8m-.4 .2h.8m-.3-.2h.8m-.4 .1h.8m-.4-.2h.8m-.6 .1h.8m-.1-.1h.8m-.8 .4h.8m-.8-.1h.8m-.5-.1h.8m2.3-.2h.8m-.4 .1h.8m-.6-.1h.8m2.1 .3h.8m-.4-.1h.8m-.4 0h.8m2.3-.2h.8m1.7 .1h.8m-36.3 .6h.8m1.4 .2h.8m1.1 0h.8m.3-.1h.8m1-.2h.8m-.5 .3h.8m-.2-.1h.8m.5-.2h.8m-.2 .2h.8m-.1-.3h.8m-.4 .3h.8m-.6-.1h.8m-.4-.2h.8m-.3 .4h.8m-.8-.1h.8m.1 .1h.8m-.5-.3h.8m-.8 .1h.8m-.3 0h.8m-.4-.1h.8m1.3 .1h.8m-.8 .1h.8m-.6-.3h.8m-.2 .1h.8m-.2-.1h.8m-.2 0h.8m.4 .3h.8m-.6-.2h.8m0 0h.8m.1 .3h.8m-.7 0h.8m.7 0h.8m1.7-.1h.8m-.4-.3h.8m-.4 0h.8m3.8 .3h.8m1 0h.8m-29.4 .2h.8m1 0h.8m1.8 .1h.8m-.7-.1h.8m-.4 .3h.8m-.2-.3h.8m-.6 .1h.8m-.1 .1h.8m-.7-.1h.8m-.3 .2h.8m-.8-.3h.8m-.4 0h.8m1.7 .2h.8m0 .2h.8m-.3-.3h.8m-.8 .3h.8m-.1-.2h.8m-.4 0h.8m-.5 .1h.8m-.6-.2h.8m-.5 .3h.8m-.6 0h.8m-.7-.3h.8m-.7 .2h.8m-.5 0h.8m.4 0h.8m-.4 0h.8m-.4-.2h.8m.4 0h.8m.9 .1h.8m-.6 .1h.8m2.2 .1h.8m1.2-.3h.8m.4 .2h.8m-.6 0h.8m.9-.2h.8m5.6 .1h.8m4.8-.2h.8m-34.2 .6h.8m.6 0h.8m-.7 .1h.8m.9 0h.8m-.4-.1h.8m-.8 0h.8m-.2 .1h.8m-.5 .1h.8m-.3-.2h.8m-.6 .1h.8m-.4-.2h.8m-.6 .3h.8m-.2-.1h.8m-.5 .1h.8m.3-.3h.8m-.5 .1h.8m.1 .1h.8m0 .2h.8m-.5-.1h.8m1-.1h.8m-.6-.1h.8m-.7 .3h.8m-.6-.4h.8m-.5 .1h.8m-.7 .1h.8m.4 0h.8m0-.1h.8m.2 .3h.8m1.1-.4h.8m.4 .1h.8m-.5-.1h.8m-.5 0h.8m14.6 .4h.8m-38.8 .4h.8m-.6-.1h.8m.6 .1h.8m-.6 0h.8m.2-.2h.8m1.5 .1h.8m-.3 .1h.8m.9-.3h.8m-.6 0h.8m-.4 .3h.8m-.3 .1h.8m1.2-.1h.8m-.6-.2h.8m-.3 .2h.8m.2 0h.8m-.6-.3h.8m-.4 .3h.8m-.7-.3h.8m-.6 .2h.8m.2 0h.8m-.6 .2h.8m-.7 0h.8m0-.2h.8m-.2-.1h.8m-.2 .2h.8m.5-.2h.8m.4-.1h.8m-.7 0h.8m4.7 .2h.8m-.1-.2h.8m1.2 .3h.8m-29.9 .3h.8m2 .3h.8m.9 0h.8m-.8-.2h.8m.9 0h.8m-.7 .1h.8m.2-.3h.8m-.8 .3h.8m-.4 0h.8m-.5-.2h.8m-.2-.1h.8m-.7 0h.8m-.4 .2h.8m.1-.1h.8m0-.1h.8m.1 .1h.8m-.4-.1h.8m-.6 0h.8m-.6 .1h.8m.2 0h.8m-.7 .1h.8m.1 0h.8m0 0h.8m1.9 0h.8m-.1-.1h.8m-.8 .3h.8m-.5 0h.8m-.8-.1h.8m-.6-.3h.8m.8 0h.8m-.6 .2h.8m21.4 .2h.8m-49.6 .4h.8m.4-.3h.8m3.2 .1h.8m3.9 0h.8m.8 0h.8m.6 .1h.8m1 0h.8m-.2 0h.8m-.7-.1h.8m.4-.1h.8m-.7 .3h.8m1-.3h.8m.3 .1h.8m-.6 .3h.8m-.7-.2h.8m-.3 0h.8m-.6-.2h.8m1.5 .1h.8m-.7 .3h.8m-.4-.1h.8m1 0h.8m.4 .1h.8m-.3-.2h.8m.4 .2h.8m2.1-.3h.8m2.1 .3h.8m3.1-.2h.8m-.5-.2h.8m2 .2h.8m3.5 .2h.8m-40.6 .4h.8m-.7-.3h.8m1.6 .1h.8m0 .3h.8m-.8-.2h.8m1.1 .2h.8m.6-.4h.8m-.3 .3h.8m.4-.2h.8m.4 .1h.8m-.6-.1h.8m.2-.1h.8m.9 .1h.8m-.3-.1h.8m0 0h.8m.8 .2h.8m.6-.2h.8m.9 .3h.8m2.8 0h.8m.3-.2h.8m-.1 .3h.8m2.3-.4h.8m12.2 .4h.8m-46.7 .1h.8m4.5 .1h.8m-.1-.1h.8m2.4 0h.8m1.3 .3h.8m-.4 0h.8m-.2 .1h.8m-.2-.3h.8m-.8 .1h.8m1-.2h.8m.2 0h.8m.4 0h.8m.2 .4h.8m3.4-.3h.8m.3 .2h.8m-.5-.2h.8m1.5 0h.8m.5 .3h.8m7.9-.1h.8m-.1-.3h.8m-.2 .2h.8m1.9 .2h.8m4-.3h.8m-44.6 .4h.8m3.3 0h.8m8.5 .1h.8m.4 .1h.8m2.7-.2h.8m.1 .2h.8m.2 .1h.8m-.6-.2h.8m-.2-.1h.8m.3 .1h.8m.2-.1h.8m.7 0h.8m1.2 .3h.8m-.8-.2h.8m2.2 .2h.8m-.8-.2h.8m2.2 .1h.8m2.3-.1h.8m3 .1h.8m-32.1 .5h.8m2.4-.1h.8m1.2-.1h.8m-.4 .2h.8m.2 0h.8m-.7 0h.8m.9 .1h.8m-.4-.3h.8m1.1 .2h.8m0 .2h.8m-.6-.2h.8m-.4-.2h.8m.3 .1h.8m.7 0h.8m.4 .3h.8m0 0h.8m-.4 0h.8m-.7-.2h.8m-.5 .1h.8m-.1-.2h.8m-.4 0h.8m-.7 .3h.8m-.7-.3h.8m7.7 .1h.8m4.4-.2h.8m-.3 0h.8m-.1 0h.8m-.7 0h.8m-40.2 .8h.8m-.5 0h.8m1.5-.2h.8m.3 .3h.8m2.1-.3h.8m2.3 .3h.8m0-.3h.8m-.6-.1h.8m1.9 .4h.8m.4-.4h.8m1 .2h.8m0-.2h.8m-.5 .3h.8m-.5-.3h.8m-.6 .2h.8m-.6 .1h.8m.3 0h.8m-.3 0h.8m.7 .1h.8m2.1-.2h.8m-.8 0h.8m7.6-.2h.8m3.1 .1h.8m1.1 .1h.8m1.5 .1h.8m.1-.1h.8m2.3 .1h.8m-45.4 .4h.8m1.7 0h.8m5.4 .1h.8m-.4-.3h.8m0 .1h.8m0 .2h.8m3.7-.1h.8m-.6 .1h.8m.4 0h.8m.5 0h.8m-.4-.3h.8m-.7 .2h.8m-.5 .2h.8m2.4 0h.8m.5-.4h.8m.5 0h.8m2.6 .2h.8m1.8-.2h.8m3.4 .1h.8m-35.4 .5h.8m3 .2h.8m2.6-.1h.8m.2 .1h.8m-.6 .1h.8m.3-.2h.8m.2 0h.8m-.7-.2h.8m-.3 .1h.8m.8 .3h.8m.4-.2h.8m-.1-.2h.8m-.6 .1h.8m.7 0h.8m5 .3h.8m-.2-.2h.8m.2 .2h.8m-.2-.2h.8m1 .1h.8m2.4-.3h.8m-.6 0h.8m.1 .3h.8m.5-.3h.8m2.4 0h.8m-.2 .3h.8m2.5 0h.8m-37 .6h.8m1.8-.1h.8m2.7 0h.8m.1 0h.8m-.8-.3h.8m-.8 .1h.8m.4-.1h.8m.4 .3h.8m-.3-.3h.8m-.5 .2h.8m1.3-.1h.8m.5-.1h.8m1.8 0h.8m.2 .2h.8m.3 0h.8m1.4-.2h.8m2.8 .4h.8m-.3-.2h.8m6.5-.2h.8m2.2 .3h.8m1.8-.1h.8m7 .1h.8m-51.2 .6h.8m.4-.3h.8m-.5 .3h.8m1.2-.4h.8m6.6 .1h.8m.2 .3h.8m2-.4h.8m-.1 .1h.8m2.2 .1h.8m.6-.2h.8m.2 .4h.8m1.1-.1h.8m.2-.3h.8m-.8 0h.8m2.8 .2h.8m.1 0h.8m-.5 .2h.8m1.8-.4h.8m1.2 0h.8m0 .2h.8m-25.9 .4h.8m.3 .2h.8m-.1-.2h.8m5.7 0h.8m1.3-.1h.8m.7 .4h.8m.2-.1h.8m-.6 .1h.8m2.1-.2h.8m0-.2h.8m.7 .1h.8m-.3-.1h.8m.6 .4h.8m2.3 0h.8m.3-.1h.8m.2-.2h.8m3.8-.1h.8m.4 .1h.8m5.6 .1h.8m-41.4 .7h.8m1.3-.4h.8m8.9 .3h.8m-.5-.2h.8m0 .2h.8m.4-.3h.8m-.2 .1h.8m1.4 .3h.8m.7-.1h.8m1.6-.1h.8m.1 .1h.8m.7-.1h.8m1.7 .2h.8m0-.1h.8m5.3-.3h.8m2.4 .2h.8m6.7 0h.8m-39.4 .5h.8m-.1-.2h.8m-.6 0h.8m-.4 0h.8m-.5 .3h.8m1-.2h.8m1.2 .2h.8m.5-.1h.8m0-.1h.8m2.7 0h.8m-.3 .2h.8m2.8 0h.8m-.5-.1h.8m-.5 .2h.8m.7-.4h.8m.8 .2h.8m4.9-.1h.8m3.3 0h.8m-.4-.1h.8m1.4 .2h.8m4.3 .1h.8m2.4-.2h.8m-49.7 .5h.8m5 .1h.8m.8 .1h.8m.6-.2h.8m.2 0h.8m.6 .3h.8m2.1-.1h.8m-.8-.3h.8m-.7 .4h.8m-.1-.1h.8m1.7-.1h.8m-.7-.2h.8m2.1 .3h.8m.5 .1h.8m.5-.3h.8m2 .3h.8m-.5-.1h.8m-.2 .1h.8m1.8-.3h.8m.9 .1h.8m1.7-.1h.8m-.7 0h.8m-31.9 .5h.8m.1 .2h.8m.8 .1h.8m4.1-.2h.8m.8-.1h.8m2 0h.8m-.8 .2h.8m-.7 .1h.8m1.9-.4h.8m-.6 .4h.8m-.7 0h.8m.4-.2h.8m-.5 0h.8m-.4 .2h.8m3.2-.4h.8m4.1 0h.8m2.1 .4h.8m.5 0h.8m1.6-.2h.8m3.3-.2h.8m5.5 .1h.8m-47.1 .7h.8m3.4-.3h.8m-.6 0h.8m-.3 .2h.8m-.2-.1h.8m1 .3h.8m-.6-.3h.8m4.6 0h.8m-.1 .1h.8m0-.2h.8m1.1 .4h.8m-.8-.2h.8m-.4 .2h.8m5.3-.1h.8m5.4-.1h.8m2-.2h.8m.6 .2h.8m.8-.1h.8m-.4 .2h.8m-.8-.1h.8m-.3 0h.8m-.2 .2h.8m-.1-.1h.8m-29.9 .3h.8m-.1 .1h.8m1.3 .2h.8m2.1-.2h.8m3.5 0h.8m-.7 0h.8m-.3 0h.8m4.2-.2h.8m1.4 0h.8m-.2 .4h.8m1.6 0h.8m-.7-.4h.8m.1 .3h.8m2.4-.1h.8m1.6 0h.8m.6 .2h.8m4.5-.2h.8m.3-.1h.8m-43 .8h.8m.1-.1h.8m0-.1h.8m7.2-.1h.8m-.5 .3h.8m2.6-.1h.8m.1-.2h.8m-.4 0h.8m1.2 0h.8m-.5 0h.8m-.7 .3h.8m.5-.3h.8m.1 .3h.8m.8-.1h.8m-.1 .1h.8m1.1-.4h.8m-.4 .4h.8m-.6 0h.8m-.6-.3h.8m-.2 .2h.8m2.5 .1h.8m.3-.1h.8m2.9 0h.8m2-.2h.8m7.4 .2h.8m.1 .1h.8m2.2-.1h.8m-45.6 .4h.8m3-.2h.8m0 .1h.8m1.7 .2h.8m3.3-.1h.8m.5-.1h.8m-.6 .2h.8m.3-.1h.8m2.3 0h.8m.3-.2h.8m5.7 .3h.8m.6 .1h.8m-.5-.2h.8m-.3-.2h.8m.7 .2h.8m4 .1h.8m1-.2h.8m-.2-.1h.8m-41.1 .5h.8m1.4 0h.8m-.7 .3h.8m1.2-.2h.8m1.4 .2h.8m-.7 0h.8m1.5 0h.8m1.9-.2h.8m.9 0h.8m-.2-.1h.8m-.7 .4h.8m-.7 0h.8m.1 0h.8m.8-.3h.8m-.4 .1h.8m-.7-.2h.8m-.2 0h.8m-.1 .1h.8m.5 .2h.8m2.4-.1h.8m2.5 .2h.8m-.6 0h.8m1.9 0h.8m1-.1h.8m-.3-.3h.8m1.9 .3h.8m-.4-.2h.8m-.8 0h.8m-.2 .2h.8m.8-.2h.8m-.1 .2h.8m1.3-.3h.8m-32.9 .8h.8m-.8 0h.8m3.6-.1h.8m1.9-.1h.8m.4 .1h.8m-.4 .2h.8m-.7-.4h.8m.8 .1h.8m-.4 .2h.8m.9-.1h.8m2.3 .1h.8m.4-.3h.8m.7 0h.8m-.5 0h.8m-.1 0h.8m.3 .1h.8m.6 .3h.8m2.5-.1h.8m.6-.3h.8m-.1 0h.8m.2 .4h.8m1.7-.1h.8m5.4 .1h.8m2.6 0h.8m2-.2h.8m-47.1 .3h.8m-.5 .4h.8m-.2-.3h.8m.5-.1h.8m4 .2h.8m1.9-.2h.8m-.7 .2h.8m.3-.1h.8m-.2 .2h.8m1.4-.2h.8m0 0h.8m.1 .2h.8m.3-.3h.8m4.6 .3h.8m-.5-.1h.8m.4 0h.8m-.3-.1h.8m1.6 .3h.8m-.1-.4h.8m1.7 .2h.8m.3-.1h.8m-.6 .1h.8m-.1-.1h.8m.6-.1h.8m.2 .2h.8m1.1 0h.8m11.1 .1h.8m-52.4 .4h.8m8.6-.2h.8m4.4 .2h.8m.2-.1h.8m1.8 .3h.8m1.6-.3h.8m-.5 .2h.8m-.2-.1h.8m.6-.2h.8m.7 .3h.8m1.5-.3h.8m-.4 .4h.8m2.5-.2h.8m-.4-.1h.8m-.1 .3h.8m-.2-.3h.8m4.6-.1h.8m-35.7 .7h.8m.3-.1h.8m2.2 .2h.8m.8-.3h.8m.1 .4h.8m-.4 0h.8m4.4-.1h.8m-.7 0h.8m-.4 0h.8m-.7-.2h.8m0 .2h.8m-.2-.3h.8m.4 .2h.8m-.4-.1h.8m-.1 0h.8m1.2 .2h.8m1.7 0h.8m.1 .1h.8m.4-.3h.8m-.6-.1h.8m-.5 .2h.8m.7 .2h.8m-.2 0h.8m.9-.1h.8m-.2 .1h.8m.6-.2h.8m7.1 .2h.8m.6 0h.8m1.2-.4h.8m-37.3 .9h.8m2.3-.3h.8m1.2-.1h.8m-.4 0h.8m-.7 0h.8m-.6 .3h.8m-.2-.3h.8m-.1 0h.8m1.1 .2h.8m-.6-.2h.8m-.4 .4h.8m-.4 0h.8m-.5 0h.8m-.7-.3h.8m-.2 .3h.8m.6-.1h.8m.5 .1h.8m1.1-.4h.8m.8 .3h.8m-.6-.1h.8m2.2 0h.8m0-.1h.8m-.8 .3h.8m0 0h.8m1.5-.4h.8m-.4 .4h.8m-.7-.1h.8m-.6-.1h.8m-.1 0h.8m-.6 0h.8m.5-.2h.8m-.3 .4h.8m-.2 0h.8m.8-.1h.8m1.3 0h.8m.2-.2h.8m-.4 .1h.8m.2-.1h.8m3.2 0h.8m-44.3 .7h.8m.2 .1h.8m1.3-.3h.8m2.2 .2h.8m2.4-.3h.8m-.4 0h.8m-.4 .4h.8m-.2 0h.8m0-.1h.8m-.3-.1h.8m-.2 .1h.8m-.5-.1h.8m-.5-.2h.8m2.5 0h.8m.2 0h.8m-.2 .1h.8m-.7-.1h.8m-.7 0h.8m-.5 .1h.8m-.8 .3h.8m-.3 0h.8m.7-.3h.8m0 0h.8m1 .2h.8m-.5-.1h.8m-.4-.1h.8m-.3 .3h.8m3.9 0h.8m-.8-.2h.8m.5 .2h.8m.1-.1h.8m2.4-.3h.8m.5 .4h.8m4.7-.4h.8m7.5 .1h.8m-50.9 .6h.8m2.6 .1h.8m1.5 0h.8m1 0h.8m.1-.3h.8m-.6 .4h.8m-.6-.3h.8m-.7 .1h.8m-.1-.1h.8m-.3 .1h.8m.1 .2h.8m-.7 0h.8m-.6-.2h.8m-.7 0h.8m-.1-.1h.8m-.4 .3h.8m-.3-.3h.8m.4 .2h.8m-.8-.1h.8m-.5 .1h.8m-.7-.1h.8m-.7-.1h.8m-.5 .3h.8m-.3 0h.8m-.8-.2h.8m.2-.2h.8m-.6 .2h.8m-.7 0h.8m.5 .2h.8m1-.3h.8m.1 .3h.8m-.7-.4h.8m1.3 .2h.8m-.7-.2h.8m.1 .3h.8m-.4-.1h.8m-.5 0h.8m-.3 .1h.8m2.6 .1h.8m-.7-.1h.8m6.1-.2h.8m5.5 .3h.8m-41.3 .1h.8m3.6 .1h.8m-.2 .3h.8m-.4 0h.8m.2-.1h.8m-.3-.3h.8m.1 0h.8m.6 .2h.8m-.1 .2h.8m.2-.4h.8m-.8 0h.8m-.7 .3h.8m-.5 0h.8m-.1-.3h.8m-.5 .3h.8m.9 .1h.8m-.2 0h.8m-.4-.2h.8m-.3-.1h.8m-.5 .1h.8m.3 0h.8m.3-.1h.8m-.7 0h.8m-.2 0h.8m-.6 0h.8m.6 0h.8m-.8 .2h.8m-.7 .1h.8m-.7-.2h.8m-.6 .1h.8m-.7-.3h.8m-.6 .1h.8m.5 .1h.8m-.2 0h.8m0-.1h.8m-.1 .1h.8m-.5 .1h.8m0-.2h.8m-.7 .2h.8m.3-.1h.8m-.2 0h.8m3 .1h.8m-.1 .1h.8m2.2-.2h.8m-.6 .2h.8m.3-.2h.8m6.2-.2h.8m5 .4h.8m-49.3 .2h.8m1.2 .2h.8m2.1 .1h.8m-.3 0h.8m1.1-.3h.8m-.7-.1h.8m-.7 .2h.8m-.6 .1h.8m-.3-.1h.8m.5 .1h.8m-.3-.3h.8m-.5 .3h.8m-.6 .1h.8m-.6 0h.8m-.3-.2h.8m-.6 0h.8m.9 0h.8m-.7 0h.8m-.7 0h.8m.3-.1h.8m-.5 .1h.8m-.2 0h.8m-.4-.2h.8m-.4 .2h.8m-.2 .1h.8m-.2-.2h.8m-.7 0h.8m2 .1h.8m-.7 .2h.8m-.8-.2h.8m.3 .1h.8m0 .1h.8m-.6 0h.8m.2 0h.8m-.1-.2h.8m-.1 .1h.8m-.6 .1h.8m-.4 0h.8m-.5 0h.8m-.4-.1h.8m0 0h.8m-.8 0h.8m1.4 0h.8m2.7-.2h.8m3.9 .2h.8m-.1-.2h.8m1.4 .1h.8m-44.3 .4h.8m8.5 .1h.8m-.8-.1h.8m-.7 .1h.8m0-.2h.8m.2 .3h.8m-.4-.2h.8m-.3 .3h.8m0-.2h.8m.4 .1h.8m-.8 .1h.8m-.5-.2h.8m-.2 0h.8m-.3 .2h.8m.6-.3h.8m-.5 .2h.8m-.4 0h.8m-.4 0h.8m.6 .1h.8m-.6 0h.8m-.2-.4h.8m-.3 .1h.8m-.3-.1h.8m0 .4h.8m.1-.3h.8m.6 .2h.8m.6 0h.8m1.8 0h.8m-.1-.3h.8m1.8 .1h.8m-.6 .2h.8m.9 0h.8m.1-.2h.8m-.1 0h.8m2.9 .1h.8m.5-.2h.8m-40.5 .5h.8m1.4 .1h.8m4.1 .1h.8m.1 0h.8m.6-.1h.8m-.2-.1h.8m-.4 .1h.8m-.5 .1h.8m-.1 .1h.8m-.6 .1h.8m.2-.2h.8m-.1 .2h.8m-.6 0h.8m-.5-.1h.8m-.8-.3h.8m-.7 .1h.8m-.6 .3h.8m1.1 0h.8m-.3 0h.8m.3 0h.8m-.6 0h.8m.1-.4h.8m-.1 .2h.8m-.6 .1h.8m0-.2h.8m-.7 .1h.8m-.2-.2h.8m1 .2h.8m-.3-.2h.8m-.6 .4h.8m-.5-.2h.8m.4-.2h.8m-.3 .2h.8m-.6 0h.8m-.4-.2h.8m2.2 0h.8m2.6 .2h.8m3.5 .1h.8m.2-.1h.8m2.8 0h.8m-39.8 .6h.8m2.8-.3h.8m-.6 .1h.8m-.2 .1h.8m-.6-.1h.8m2.3 .1h.8m-.5-.1h.8m.3 .3h.8m.1-.3h.8m.1 0h.8m-.6 .3h.8m-.4-.1h.8m-.7 .1h.8m-.5-.1h.8m-.5 .1h.8m-.5-.1h.8m-.8-.3h.8m-.7 0h.8m-.8 0h.8m0 .1h.8m-.1 0h.8m-.5 .3h.8m-.5-.2h.8m-.7-.1h.8m-.8-.1h.8m.1 .1h.8m-.6 .3h.8m-.3-.4h.8m-.7 0h.8m-.6 .4h.8m-.5-.1h.8m1.4-.1h.8m-.6-.1h.8m.5 .2h.8m1.7-.1h.8m-.5 .1h.8m.5 0h.8m.8-.2h.8m1.8-.1h.8m-.6 .2h.8m3.7 0h.8m3-.1h.8m5.2-.1h.8m-39.6 .9h.8m-.6-.4h.8m.6 .1h.8m-.7 .2h.8m1.2-.1h.8m-.5-.1h.8m-.4 0h.8m-.5 .1h.8m-.7 .2h.8m1.2-.3h.8m-.7 .1h.8m-.7-.1h.8m-.7 .2h.8m-.4-.1h.8m-.6 .1h.8m-.6 .1h.8m-.2-.4h.8m-.8 0h.8m-.7 .3h.8m-.8-.2h.8m-.8 0h.8m-.3 .2h.8m-.4-.1h.8m0-.1h.8m-.3 .2h.8m.7-.3h.8m0 .3h.8m-.5-.3h.8m-.6 0h.8m-.7 .2h.8m-.1-.2h.8m-.7 .1h.8m-.5 .3h.8m-.8-.1h.8m-.3 .1h.8m-.7-.1h.8m-.6 .1h.8m.7-.3h.8m0 .2h.8m-.8-.3h.8m-.5 .1h.8m-.5-.1h.8m-.8 .4h.8m-.3-.3h.8m1.2 .2h.8m.6 .1h.8m-.1-.3h.8m-.2 .3h.8m12.2-.2h.8m-42.1 .4h.8m.1 0h.8m1.5 .1h.8m1.1 .2h.8m-.8 0h.8m-.8-.3h.8m-.7 .2h.8m-.7-.1h.8m.6-.2h.8m-.5 .3h.8m-.5-.3h.8m-.6 .4h.8m0-.3h.8m-.2 .3h.8m-.4 0h.8m.1-.3h.8m-.3-.1h.8m-.6 .4h.8m.2-.2h.8m-.6-.1h.8m-.8 .3h.8m-.5-.1h.8m-.3 0h.8m.3 .1h.8m-.6 0h.8m.4-.2h.8m-.6 0h.8m-.4 0h.8m-.8 .1h.8m-.3 .1h.8m-.6-.3h.8m-.7 .1h.8m-.7-.2h.8m-.5 .4h.8m-.8-.4h.8m.5 .2h.8m-.8 .1h.8m0 0h.8m-.4-.2h.8m-.6 .3h.8m-.7-.1h.8m-.4-.3h.8m-.5 .1h.8m.5-.1h.8m-.6 .3h.8m-.5 .1h.8m2.2-.2h.8m-.4-.1h.8m1.7 .1h.8m.9 .1h.8m4.2-.2h.8m1.1 .2h.8m.7 0h.8m-39 .6h.8m.4-.3h.8m-.8-.1h.8m1.2 .4h.8m0-.4h.8m-.7 0h.8m-.8 .3h.8m.2-.1h.8m.2 0h.8m.6-.2h.8m-.4 0h.8m-.5 .4h.8m-.2-.1h.8m.1 0h.8m-.3 0h.8m-.8 0h.8m-.5-.3h.8m-.8 .1h.8m-.6 0h.8m-.3 .3h.8m-.4-.4h.8m-.1 .1h.8m-.7 .1h.8m-.5 .1h.8m-.7 .1h.8m-.3 0h.8m.1-.2h.8m-.7-.2h.8m-.8 .1h.8m-.1 .1h.8m-.6 0h.8m-.6 .1h.8m.3-.1h.8m.4 .1h.8m-.5-.3h.8m3.8 .2h.8m-.6-.2h.8m.8 .1h.8m-.4 .1h.8m0 .2h.8m.7-.4h.8m.1 .1h.8m.6-.1h.8m-.7 .2h.8m3.1-.2h.8m0 0h.8m1.6 0h.8m4.8 .2h.8m-38.7 .5h.8m-.8 .1h.8m-.5-.2h.8m-.7 0h.8m-.6 0h.8m-.7-.1h.8m-.7 .1h.8m-.4 .3h.8m-.7 0h.8m.9 0h.8m-.5-.2h.8m-.6-.2h.8m.8 .4h.8m-.6-.1h.8m.4 0h.8m.1 0h.8m-.8-.3h.8m-.2 0h.8m-.7 .4h.8m-.7 0h.8m-.2-.1h.8m-.5-.1h.8m-.7-.2h.8m-.6 .2h.8m-.6-.1h.8m-.8 .1h.8m-.1-.1h.8m-.7-.1h.8m-.4 .4h.8m-.8 0h.8m-.4-.1h.8m.1-.1h.8m.1-.2h.8m-.5 .4h.8m-.7-.2h.8m-.7-.1h.8m-.7-.1h.8m-.5 .4h.8m.8-.2h.8m.9-.1h.8m.4 0h.8m-.1 .3h.8m-.1-.3h.8m-.4 .1h.8m-.2-.1h.8m-.7 0h.8m3.8 .3h.8m-.6 0h.8m-.1-.3h.8m2.2-.1h.8m2.1 0h.8m7.5 .4h.8m-48.3 .3h.8m1.4 .1h.8m-.7-.2h.8m1.9 .1h.8m-.7 .1h.8m1.6 0h.8m-.4-.2h.8m-.7-.1h.8m-.1 .3h.8m-.7-.3h.8m-.3 0h.8m-.7 .3h.8m-.5-.2h.8m-.3-.1h.8m0 0h.8m-.4 .1h.8m-.4 0h.8m-.7-.1h.8m-.3 .4h.8m-.2-.3h.8m1 0h.8m-.7 0h.8m-.5 0h.8m.7 .3h.8m-.5-.2h.8m-.3-.1h.8m-.7-.1h.8m-.7 .4h.8m0 0h.8m-.4-.1h.8m.1-.2h.8m.2 0h.8m-.3 0h.8m-.8 .3h.8m-.4-.3h.8m-.7-.1h.8m-.5 .4h.8m-.6 0h.8m.9-.2h.8m-.2-.2h.8m-.5 .4h.8m-.1-.2h.8m5.2-.2h.8m2.9 0h.8m2.9 .1h.8m4.7 .2h.8m2.9-.2h.8m-49.8 .8h.8m-.7-.2h.8m4.4 .1h.8m-.3-.3h.8m-.6 0h.8m.1 .3h.8m-.8 0h.8m.2-.2h.8m-.6 0h.8m-.6 .3h.8m-.5 0h.8m-.7-.3h.8m.4 .2h.8m.1 0h.8m-.3-.3h.8m-.1 .2h.8m-.3-.2h.8m.2 .4h.8m-.3-.1h.8m-.4-.3h.8m.1 0h.8m.6 .4h.8m-.7-.3h.8m-.8 .3h.8m-.3-.3h.8m-.7 .2h.8m-.6 .1h.8m-.2-.1h.8m-.5-.2h.8m.2 .3h.8m1.5 0h.8m2.7-.2h.8m-.4 0h.8m-.2 .1h.8m.4 0h.8m1.5 0h.8m1.5-.3h.8m.1 .2h.8m-.5 0h.8m-.6-.2h.8m2 .2h.8m5.7-.2h.8m-38.7 .9h.8m-.2-.2h.8m.2-.2h.8m-.8 .2h.8m1.7-.2h.8m-.5 .1h.8m-.8 .1h.8m.6 0h.8m-.8 0h.8m1.1-.2h.8m0 .2h.8m-.4-.1h.8m-.4 .1h.8m-.8 .2h.8m-.8-.4h.8m-.7 .2h.8m-.3 0h.8m-.7 .2h.8m-.7-.3h.8m-.7 .1h.8m-.6 0h.8m.8 0h.8m-.7 .2h.8m-.6-.3h.8m.3 0h.8m.7 0h.8m-.4 .2h.8m-.7-.2h.8m-.3-.1h.8m-.6 .3h.8m-.1-.3h.8m-.5 .4h.8m.2-.3h.8m-.2 .2h.8m-.3-.3h.8m-.6 .1h.8m.5 .2h.8m.8 .1h.8m-26 .1h.8m1.9 .3h.8m3.5-.2h.8m0-.1h.8m-.3 0h.8m-.4 .1h.8m.2 0h.8m-.6 .2h.8m-.4-.2h.8m-.5 .2h.8m-.6-.1h.8m-.7 .1h.8m-.5 .1h.8m-.3 0h.8m-.7-.2h.8m0-.2h.8m-.3 .2h.8m-.2-.2h.8m-.8 .1h.8m-.1 .2h.8m-.6 0h.8m-.3-.2h.8m-.6 0h.8m-.4 .2h.8m-.3 0h.8m-.5-.2h.8m.2 .3h.8m-.8-.4h.8m-.3 .4h.8m.2 0h.8m.1-.1h.8m-.5 .1h.8m0-.1h.8m-.7 0h.8m2.4 0h.8m-.5-.3h.8m-.2 .1h.8m-.4 .3h.8m2.7-.3h.8m1.6-.1h.8m-.8 0h.8m1 .1h.8m-31.6 .5h.8m.2-.1h.8m2.2 .2h.8m-.8 0h.8m-.2 0h.8m.7-.2h.8m.4 .4h.8m-.5-.3h.8m.4-.1h.8m-.7 .3h.8m-.1 0h.8m-.2-.3h.8m-.1 .1h.8m-.7 .2h.8m-.4 .1h.8m-.6-.2h.8m-.8 0h.8m-.8 .2h.8m-.7-.3h.8m.9-.1h.8m-.6 0h.8m.2 0h.8m.1 .4h.8m-.6-.4h.8m-.8 .2h.8m-.6-.2h.8m-.4 .2h.8m-.6-.2h.8m1.3 0h.8m4.9 .3h.8m-.4 .1h.8m1.7-.3h.8m-.5 0h.8m-.4 0h.8m1.1 0h.8m.4 .3h.8m-.2-.4h.8m3.1 .3h.8m-.1 .1h.8m5.9-.1h.8m3-.2h.8m-50 .7h.8m3.2-.1h.8m2.9 .1h.8m-.7-.1h.8m-.4-.2h.8m-.1 .4h.8m-.6-.2h.8m0 .2h.8m-.5 0h.8m-.5-.1h.8m-.5-.2h.8m.4-.1h.8m-.3 0h.8m-.6 0h.8m-.6 .1h.8m-.7 0h.8m1.2 .1h.8m.7-.1h.8m-.5 .1h.8m.2-.1h.8m-.2-.1h.8m-.4 0h.8m-.6 .4h.8m1.9-.2h.8m.1-.1h.8m-.7 .1h.8m-.6 .1h.8m.4 .1h.8m.9-.4h.8m.2 .1h.8m1.4-.1h.8m.3 .3h.8m5.6-.1h.8m-35 .5h.8m1.9 0h.8m-.3 .2h.8m-.7-.3h.8m.1 .2h.8m.3-.1h.8m-.3 .1h.8m.1 0h.8m0-.2h.8m-.8-.1h.8m-.7 0h.8m1.1 .2h.8m-.2-.1h.8m.1 .2h.8m-.7-.1h.8m-.7 0h.8m-.5-.1h.8m-.4 .1h.8m0 0h.8m.2 .2h.8m1.2-.1h.8m.4 .1h.8m-.7-.1h.8m.1 0h.8m.7 .1h.8m-.6 0h.8m.8-.1h.8m-.7-.1h.8m-.6 .2h.8m1.1-.3h.8m1.5-.1h.8m14 .2h.8m-42.5 .4h.8m3.8 .2h.8m.9 .1h.8m-.8-.3h.8m.5-.1h.8m1.2 .4h.8m-.7 0h.8m.7-.2h.8m0 0h.8m-.8 .1h.8m2.4 .1h.8m-.7-.2h.8m0 .2h.8m1.1-.4h.8m.1 .3h.8m.8 .1h.8m-.8-.2h.8m0 0h.8m.2 .1h.8m-.6-.2h.8m1.8 .2h.8m-.5 .1h.8m-.6-.3h.8m.9 0h.8m10 .3h.8m-39.9 .2h.8m5.6 .3h.8m.3-.2h.8m-.3-.2h.8m-.2 0h.8m.7 .1h.8m.1 0h.8m.8 0h.8m0 .3h.8m-.1 0h.8m-.6-.1h.8m1 .1h.8m.3-.3h.8m-.3 .3h.8m-.7 0h.8m2.5-.3h.8m1.8 .2h.8m8.8-.1h.8m-30 .6h.8m.4-.3h.8m-.3 .2h.8m.7-.2h.8m1.4 0h.8m-.5 .2h.8m-.4-.1h.8m-.5 .1h.8m-.7-.2h.8m-.6 .4h.8m-.8-.3h.8m.3-.1h.8m.8 .2h.8m.2 .1h.8m.4 0h.8m.6-.3h.8m-.4 0h.8m-.6 .3h.8m.3-.1h.8m-.2 0h.8m-.5 .1h.8m-.8 .1h.8m-.5-.3h.8m1.3-.1h.8m20.8 .3h.8m-39.6 .2h.8m-.1 .3h.8m.2-.3h.8m3.1 .2h.8m-.6 0h.8m-.5-.2h.8m-.4 .3h.8m-.4-.2h.8m0 .3h.8m-.1-.1h.8m-.8 0h.8m-.3 0h.8m-.4 0h.8m-.5-.1h.8m3.6 .1h.8m-.7 .1h.8m.4-.2h.8m2.9 .2h.8m.9-.3h.8m-27.4 .8h.8m4.4-.4h.8m-.8 .2h.8m2.5-.2h.8m1.9 0h.8m-.5 .4h.8m.6-.3h.8m1.1 .3h.8m2.3 0h.8m-.1-.3h.8m-.2 .2h.8m-.6 .1h.8m1.9-.3h.8m-.8 0h.8m-.7 .1h.8m-.8-.1h.8m2.3 .2h.8m.4 .1h.8m6.2 0h.8m4.3-.4h.8m10.9 .4h.8m-49.3 .3h.8m6.6 .1h.8m.4 .1h.8m-.5-.2h.8m2.3-.2h.8m.4 .1h.8m.5-.1h.8m2.3 .4h.8m.9-.4h.8m.8 .1h.8m-.4-.1h.8m.9 .2h.8m.3-.2h.8m3.2 .3h.8m-.5-.2h.8m.3 .2h.8m-.7 .1h.8m-24.1 .3h.8m2.9-.2h.8m3.5 .4h.8m1.5-.1h.8m1-.2h.8m-.1-.1h.8m2.6 0h.8m.9 .3h.8m3.3-.2h.8m-.4 .3h.8m-28.7 .5h.8m4.6 0h.8m.6-.4h.8m3.5 .2h.8m2.9-.2h.8m-.6 .4h.8m-.5 0h.8m-.6 0h.8m-.7-.2h.8m2.2 0h.8m2.3-.2h.8m-.3 0h.8m.3 .1h.8m1.3 .1h.8m-.5-.2h.8m0 .1h.8m-25.3 .8h.8m-.7-.4h.8m.1 .1h.8m.7 .2h.8m2.6-.2h.8m-.3 0h.8m-.6-.1h.8m.9 .1h.8m1.4 0h.8m1 .3h.8m7.1-.3h.8m-17.9 .5h.8m5.2-.1h.8m.1 0h.8m.4 .1h.8m-.4 .3h.8m2.5-.3h.8m15.4 0h.8m-29.8 .7h.8m1.4 0h.8m2.5-.2h.8m3.1 .3h.8m.4-.1h.8m1.2 0h.8m1.4 0h.8m-.5 0h.8m1.5 0h.8m-.7 .1h.8m2.5-.2h.8m2.5 .1h.8m3.9 0h.8m8.3-.2h.8" stroke="#000" stroke-width=".8" opacity="0.8" fill="none" filter="url(#bl)"/><path d="M70.9 521.7h.8m-32.5 .3h.8m.8-.2h.8m1.7 .1h.8m10.6 .2h.8m-9.2 1h.8m15.6 1.9h.8m1.8 .3h.8m.1 .3h.8m16.3 1h.8m-18.4 .5h.8m-15.1 .3h.8m-7.5 .8h.8m5-.4h.8m23.3 .2h.8m-17.6 .7h.8m20.8 .5h.8m-46.3 .1h.8m14.7 .1h.8m23.6 0h.8m-28.2 .6h.8m23 .9h.8m-20.7 .4h.8m23.3 .2h.8m-5.3 1.4h.8m-26.1 .4h.8m11.3 .7h.8m18.4-.2h.8m-40 1.2h.8m3.4 0h.8m23.2 .3h.8m8.4 1.6h.8m-24 .4h.8m11 0h.8m.8 .7h.8m6.9 .3h.8m-34.5 2.4h.8m-4.3 1.5h.8m-3.9 .8h.8m12 .2h.8m22.4 .9h.8m-.3-.1h.8m13.6 .5h.8m-41.3 .7h.8m-10.5 .1h.8m26.2 .3h.8m3.3 .3h.8m-21.1 1.3h.8m15-.4h.8m-15.5 .6h.8m26.3 .3h.8m6.7 0h.8m-16.2 .4h.8m9.9-.1h.8m-8.4 1.2h.8m-34.1 1.7h.8m3.3 .1h.8m1.8 0h.8m7.2 .2h.8m6.6 .6h.8m26.6 .2h.8m-17.7 .3h.8m3.5 1.3h.8m12.2 .1h.8m-21.7 .1h.8m-26 1.2h.8m39.4 .6h.8m-45.5 .2h.8m.8 0h.8m21.9 .2h.8m3.5 .1h.8m-22.3 .5h.8m-.2 .5h.8m.3-.3h.8m8.2 .4h.8m11.9-.3h.8m-24.1 1.2h.8m29.4-.3h.8m-22.1 1.1h.8m-.8 1.2h.8m1.7-.1h.8m-3.6 .7h.8m.4-.4h.8m15.4 0h.8m13 .2h.8m-45.6 1.1h.8m14.1 1.2h.8m29.5 .3h.8m1.1 .5h.8m-46.7 .5h.8" stroke="#000" stroke-width=".8" opacity="0.35" fill="none" filter="url(#bl)"/></g><rect x="30.2" y="519.4" width="54.4" height="45.8" fill="none" stroke="#9a9a9a" stroke-width="0.9"/><path d="M30.2 565.2v1.6M30.2 565.2h-1.6M43.8 565.2v1.6M30.2 553.8h-1.6M57.4 565.2v1.6M30.2 542.3h-1.6M71 565.2v1.6M30.2 530.9h-1.6M84.6 565.2v1.6M30.2 519.4h-1.6" stroke="#999" stroke-width=".6" fill="none"/><rect x="63" y="538.3" width="13.5" height="10.7" fill="none" stroke="#909090" stroke-width="0.75"/><path d="M30.5 527.5L30.5 565" stroke="#000" stroke-width="0.8" fill="none"/><path d="M62.3 549L62.3 564.5" stroke="#000" stroke-width="1.2" fill="none"/><path d="M62.3 568l-2.2 -4h4.4z" fill="#000"/><clipPath id="c8"><rect x="93.2" y="519.4" width="55.5" height="45.8"/></clipPath><g clip-path="url(#c8)"><ellipse cx="112.5" cy="534" rx="11" ry="6.5" fill="url(#g)" opacity="1.0" transform="rotate(-11.5 112.5 534)"/><ellipse cx="110" cy="556.5" rx="12" ry="7.5" fill="url(#g)" opacity="1.0"/><ellipse cx="112" cy="545" rx="19" ry="22" fill="url(#g)" opacity="0.18"/><path d="M105.2 520h.8m6.5 0h.8m11.4 .2h.8m2.6-.2h.8m-32.8 .6h.8m18.3-.3h.8m5.4 .3h.8m-18.2 .6h.8m-1.5 .3h.8m7.7-.1h.8m-3.2 .8h.8m-4.7 .5h.8m2.1-.3h.8m1.1 .8h.8m2.2 0h.8m-17.6 .4h.8m16.4 0h.8m13.9-.2h.8m-.4 .6h.8m-22.1 .7h.8m7.4 0h.8m1.1-.2h.8m-24.7 .4h.8m3 .1h.8m5.3 .1h.8m1.3 .1h.8m13.8-.4h.8m.1 .1h.8m-21.2 .7h.8m9.7-.2h.8m1.5 .1h.8m7.9 .2h.8m1.7-.2h.8m-23.6 .4h.8m10.4 .2h.8m10 .1h.8m.4-.1h.8m-24.9 .2h.8m5.2 .3h.8m4.4-.3h.8m-.5 .4h.8m-5.3 .4h.8m-.7-.1h.8m1.5-.2h.8m-.3 .3h.8m1.2-.3h.8m1 0h.8m-.2 .3h.8m-.3-.1h.8m6.8 .2h.8m-27.1 .3h.8m10.5 0h.8m-.7 0h.8m.2-.2h.8m1.3 .2h.8m2.5-.1h.8m-.5 .2h.8m.5 .1h.8m-.3-.4h.8m.4 .3h.8m2.1 .1h.8m-.1-.4h.8m-.8 0h.8m4.6 .3h.8m-23.3 .2h.8m-.6 .2h.8m1.6 .2h.8m2-.1h.8m0-.2h.8m.6 .2h.8m-.8 .1h.8m-.7-.2h.8m1.2 .1h.8m1.4-.3h.8m2.8 0h.8m-16 .7h.8m.1 .1h.8m2.5 0h.8m-.3-.3h.8m0 0h.8m-.7 0h.8m.4 0h.8m.6 .1h.8m-.5 .3h.8m-.1 0h.8m-.4-.1h.8m1.5 0h.8m-.5-.2h.8m2.2 .1h.8m7.9 .1h.8m-35.9 .2h.8m2.9 .3h.8m7.3-.2h.8m3.4 .2h.8m1.5-.2h.8m-.4 .3h.8m-.5-.3h.8m.6 0h.8m-.1 0h.8m0 0h.8m.4 .2h.8m6.9 .1h.8m-22.9 .4h.8m-.2-.1h.8m2.4-.1h.8m1.4 0h.8m1.7 .2h.8m-.2 .1h.8m.4 0h.8m-.2-.1h.8m-.8-.3h.8m.3 0h.8m2.2 .3h.8m-.5-.1h.8m-.8 .1h.8m3.1-.2h.8m8.8-.1h.8m-30.4 .7h.8m1.4-.1h.8m1.4 0h.8m-.3 .3h.8m-.6-.2h.8m-.5 .1h.8m-.6 0h.8m2-.2h.8m-.5 .1h.8m-.8 .2h.8m.1-.4h.8m0 0h.8m-.7 .2h.8m-.1-.2h.8m-.5 .3h.8m-.5 0h.8m.4 0h.8m.3 .1h.8m-.8-.1h.8m.7 0h.8m-.2-.3h.8m0 .1h.8m.5 .1h.8m1.2 .1h.8m1.5 0h.8m22.6-.3h.8m-51.8 .5h.8m8.8 .4h.8m-.6 0h.8m-.7-.2h.8m-.8-.1h.8m.4 .2h.8m1.6 .1h.8m.3-.1h.8m-.6 0h.8m-.3 0h.8m.2 .1h.8m-.7 0h.8m-.5-.4h.8m-.5 .2h.8m-.5 0h.8m2.4-.2h.8m.8 .4h.8m.8-.1h.8m-19.2 .6h.8m-.3-.1h.8m-.4-.3h.8m1.4 .3h.8m.3-.2h.8m.4-.1h.8m-.8 .3h.8m.5-.1h.8m1.4-.1h.8m-.6-.1h.8m-.4 .1h.8m-.8 .2h.8m-.7 .1h.8m0-.4h.8m.3 .2h.8m-.3-.2h.8m-.7 .2h.8m-.7 .1h.8m-.2-.1h.8m.2-.2h.8m-.2 .2h.8m-.7-.1h.8m.3 .3h.8m-.2-.4h.8m0 .2h.8m.3-.2h.8m1.7 .3h.8m-.2 .1h.8m.7-.4h.8m-31.9 .7h.8m-.6 .1h.8m11.9 0h.8m-.8-.2h.8m-.6 0h.8m-.2 .3h.8m-.7 0h.8m-.2-.1h.8m-.7 0h.8m.1-.1h.8m-.4 .2h.8m-.7-.3h.8m2.1-.1h.8m.1 .2h.8m0-.1h.8m-.6 .1h.8m-.5-.2h.8m-.5 .3h.8m-.6-.2h.8m-.2 .3h.8m-.8-.1h.8m.2-.2h.8m-.8 0h.8m-.7-.1h.8m-.2 0h.8m-.8 0h.8m.1 0h.8m-.3 .3h.8m-21.5 .2h.8m1.3 0h.8m1.4 .1h.8m1.1-.1h.8m-.7 .4h.8m-.7-.1h.8m.9-.3h.8m-.1 .1h.8m-.1-.1h.8m-.1 .1h.8m.5-.1h.8m-.2 .4h.8m-.4 0h.8m-.4-.1h.8m-.6-.2h.8m-.8 .3h.8m.1-.3h.8m-.2 .2h.8m1.5-.1h.8m-.6 .1h.8m-.8 .1h.8m-.7-.4h.8m-.6 .2h.8m-.8 .1h.8m-.6 0h.8m.2 .1h.8m.5-.1h.8m-.1-.2h.8m-.6 0h.8m.1 .2h.8m-.6-.1h.8m.7 0h.8m0-.2h.8m1.9 .2h.8m7.6 0h.8m-33.4 .5h.8m.3-.1h.8m0 0h.8m-.6-.1h.8m1.3 0h.8m2.7 .1h.8m0 .2h.8m-.7 .1h.8m.6-.3h.8m-.7 0h.8m-.5 .1h.8m-.6 0h.8m-.6 .1h.8m-.5 0h.8m-.3 0h.8m-.3-.1h.8m-.5 .2h.8m-.2-.2h.8m-.1 .2h.8m-.7-.1h.8m-.5-.2h.8m-.5 .2h.8m-.7-.1h.8m.2-.1h.8m.2-.1h.8m-.5 .2h.8m2 0h.8m-.4 .1h.8m-.1-.3h.8m2.6 .1h.8m-23.9 .7h.8m1.5 .1h.8m-.7-.4h.8m.9 .4h.8m-.6-.2h.8m-.3-.1h.8m-.6-.1h.8m.1 .1h.8m1.2 .2h.8m-.8-.1h.8m.2-.2h.8m.1 .1h.8m-.1 0h.8m0 .2h.8m-.1-.2h.8m-.4 0h.8m-.5 .3h.8m-.6-.2h.8m-.7 .2h.8m-.8-.3h.8m-.8 0h.8m-.7 0h.8m.4 .1h.8m-.7 0h.8m-.4 .1h.8m-.8-.3h.8m.4 .4h.8m-.7-.1h.8m-.8-.2h.8m0 .2h.8m-.2 0h.8m-.5 0h.8m.3-.2h.8m0 .2h.8m-.5-.1h.8m-.3 .1h.8m-.2-.1h.8m-.7-.1h.8m2.9 .1h.8m.7-.1h.8m16.3 0h.8m-46.2 .7h.8m1-.3h.8m-.1 0h.8m-.6 .2h.8m-.5 .1h.8m-.6-.1h.8m0-.2h.8m-.1 .4h.8m-.3-.4h.8m-.4 .4h.8m-.6 0h.8m-.7-.2h.8m-.7 .2h.8m-.6-.3h.8m0 .2h.8m-.7-.1h.8m-.4-.2h.8m-.5 .1h.8m0-.1h.8m-.3 0h.8m.7 .2h.8m-.3-.1h.8m-.6 .3h.8m-.2-.4h.8m-.5 .1h.8m-.1 .2h.8m0 .1h.8m-.2-.1h.8m-.1-.2h.8m-.6 .2h.8m-.1 .1h.8m-.8 0h.8m.2 0h.8m.8-.1h.8m2.9-.2h.8m-.8 0h.8m.3 0h.8m0 .1h.8m4.9 0h.8m-.7 .2h.8m-32.3 .2h.8m3.2 .2h.8m-.6-.2h.8m-.1 .1h.8m1.4-.2h.8m-.7 .4h.8m-.8-.1h.8m.4-.3h.8m-.4 .4h.8m-.3-.1h.8m-.5 0h.8m-.5 .1h.8m-.7-.2h.8m-.1-.1h.8m.7-.1h.8m-.5 .1h.8m-.6-.1h.8m-.5 0h.8m-.6 .3h.8m-.6 .1h.8m-.5-.3h.8m-.6 0h.8m.2 .1h.8m.5 0h.8m-.7-.2h.8m-.5 0h.8m.1 .4h.8m-.3-.3h.8m-.2-.1h.8m-.7 .1h.8m-.4 0h.8m0 .3h.8m-.4-.4h.8m-.2 0h.8m.1 0h.8m2.3 0h.8m-22.3 .7h.8m.9 0h.8m-.2 .1h.8m1.3-.2h.8m-.4 .3h.8m1.5-.4h.8m-.3 .2h.8m-.1-.2h.8m-.4 .4h.8m-.8-.4h.8m-.5 0h.8m-.7 .2h.8m-.7-.2h.8m-.7 .4h.8m-.1 0h.8m-.8 0h.8m-.5 0h.8m-.5 0h.8m1.1 0h.8m-.4-.4h.8m-.6 .3h.8m-.1-.3h.8m-.5 .1h.8m1.4-.1h.8m-.2 .4h.8m.4-.4h.8m.3 0h.8m2.3 .4h.8m1.8-.3h.8m1.3 0h.8m-.2 .1h.8m5.3-.2h.8m-.1 .1h.8m-37.5 .7h.8m2.6 0h.8m1.2-.1h.8m-.5 .2h.8m.3-.4h.8m-.1 0h.8m-.4 0h.8m-.3 .2h.8m.3-.1h.8m-.7 .3h.8m-.6-.2h.8m-.7-.2h.8m-.3 .4h.8m0-.4h.8m-.5 .3h.8m-.8-.2h.8m-.3 .2h.8m-.6 0h.8m-.5 0h.8m-.7 .1h.8m-.6-.3h.8m.2 .1h.8m-.5 .1h.8m-.8 .1h.8m.1-.4h.8m-.7 .3h.8m-.4 0h.8m-.7 0h.8m-.2-.2h.8m-.5 .3h.8m-.2-.2h.8m-.1 0h.8m2.4-.1h.8m.1 .3h.8m-.7-.2h.8m-.4-.2h.8m-.6 .2h.8m-.6-.2h.8m8.8 .3h.8m1.4-.2h.8m-32.4 .5h.8m1.4 .2h.8m-.4 0h.8m-.8 0h.8m-.4-.1h.8m-.5 .2h.8m1.4-.1h.8m-.3 0h.8m-.6 .1h.8m0-.4h.8m-.5 .3h.8m-.6 0h.8m.3-.1h.8m-.4-.1h.8m-.3 0h.8m-.8-.1h.8m-.3 0h.8m-.7 .3h.8m-.7 0h.8m-.7-.1h.8m-.7 0h.8m-.7 0h.8m.2 0h.8m-.4 0h.8m-.7-.2h.8m-.5 .2h.8m-.5-.1h.8m-.7 0h.8m.7 .3h.8m.8-.3h.8m-.2 .3h.8m-.4-.4h.8m0 0h.8m-.4 .1h.8m.2 .2h.8m-.2-.1h.8m-.1-.1h.8m1.1-.1h.8m.8 .4h.8m1.8-.4h.8m3.4 0h.8m-35.4 .7h.8m-.5 .2h.8m0-.1h.8m-.1-.2h.8m1.7-.1h.8m1.2 .4h.8m-.7-.2h.8m-.8-.2h.8m-.5 .2h.8m.8 .2h.8m-.3-.1h.8m0 .1h.8m-.6-.4h.8m-.7 .2h.8m-.7 0h.8m-.7-.2h.8m-.8 .1h.8m-.6 0h.8m-.4 .3h.8m-.1-.1h.8m.3-.2h.8m-.6 .3h.8m-.8-.1h.8m-.4-.1h.8m-.2 0h.8m-.8 .2h.8m.6-.1h.8m-.4 0h.8m-.1-.3h.8m-.1 .1h.8m.9-.1h.8m-.4 .1h.8m-.6-.1h.8m2.4 .1h.8m.4 .2h.8m1.7 0h.8m5.6-.1h.8m8.9 .1h.8m2.8 .1h.8m-44.1 .1h.8m4.1 .2h.8m1 0h.8m.1 .2h.8m.6-.2h.8m-.3 .1h.8m0-.3h.8m-.2 .1h.8m-.7 .1h.8m-.4 0h.8m-.6 .2h.8m.4-.4h.8m.2 0h.8m-.2 0h.8m-.1 0h.8m4.1 .4h.8m-.8-.1h.8m-.4-.2h.8m-.5 .1h.8m8.3-.1h.8m0 .2h.8m-33.7 .5h.8m2.7-.1h.8m-.1 0h.8m-.2 .2h.8m1.3-.2h.8m-.2 .1h.8m0 0h.8m-.6 0h.8m-.7 .1h.8m1-.1h.8m-.2 0h.8m.6-.1h.8m-.4 .1h.8m-.4-.2h.8m-.6 .2h.8m-.3-.1h.8m-.5 .1h.8m0-.3h.8m-.3 .2h.8m.4 .1h.8m.1-.3h.8m-.5 0h.8m3.9 0h.8m-.8 .4h.8m.4 0h.8m-.1-.3h.8m5.2 .1h.8m2.4 .2h.8m-33.1 .4h.8m1.8 0h.8m-.3-.2h.8m1.4-.1h.8m0 .3h.8m-.7-.2h.8m.3 .1h.8m-.3 .1h.8m0 0h.8m-.2-.1h.8m.1 .2h.8m-.1-.3h.8m-.3 .2h.8m-.7 0h.8m-.6 .1h.8m1.7 0h.8m-.5-.3h.8m.1 0h.8m-.2 .1h.8m-.3 .1h.8m1.9 0h.8m3.2-.3h.8m3.1 .1h.8m3.8 .3h.8m6.9 0h.8m-39.2 .2h.8m.2-.1h.8m-.3 .2h.8m-.2-.1h.8m2.8 .3h.8m.3-.3h.8m.1 .3h.8m-.7-.3h.8m-.1 0h.8m-.5 0h.8m-.2 .2h.8m0-.1h.8m.1-.1h.8m-.6 .3h.8m.3-.4h.8m.6 .2h.8m-.5-.2h.8m1.1 .2h.8m-.8 0h.8m-.8 0h.8m-.6-.1h.8m-.6 .2h.8m.9 .1h.8m4-.4h.8m4.9 .4h.8m7.7 0h.8m-41.2 .3h.8m3.4 .1h.8m.4 0h.8m-.3 .1h.8m1.3-.4h.8m-.5 0h.8m-.2 0h.8m1.1 .4h.8m-.6 0h.8m-.6-.3h.8m.4 0h.8m-.8 .2h.8m-.5-.3h.8m.5 .4h.8m.7-.3h.8m.2-.1h.8m.2 .3h.8m.4-.1h.8m-.6 .2h.8m8.2-.2h.8m2.8-.2h.8m.5 .2h.8m-28.1 .7h.8m1.2 0h.8m1.3-.4h.8m-.6 .2h.8m-.2-.2h.8m1.9 .3h.8m-.5 0h.8m.7-.1h.8m-.8 .1h.8m-.7 .1h.8m-.5-.3h.8m-.3 .3h.8m-.3-.1h.8m.9-.1h.8m.9 .1h.8m-.8 0h.8m-.4-.2h.8m2.1 .2h.8m-.5-.1h.8m2.6-.1h.8m1.4 .2h.8m2.3 0h.8m4.6-.1h.8m-38.9 .7h.8m2.2-.3h.8m1.7-.1h.8m.3 0h.8m.4 .2h.8m1.8 .2h.8m.8-.2h.8m-.3-.2h.8m0 .1h.8m0 0h.8m1.4 0h.8m1 .1h.8m6.5 .1h.8m4.2-.3h.8m-.7 .1h.8m1.9 .1h.8m5.2-.1h.8m-37.7 .4h.8m2.2 .4h.8m4.1-.4h.8m-.4 0h.8m1.2 .1h.8m-.8 .1h.8m1.1 .2h.8m-.5 0h.8m2-.3h.8m-.5 0h.8m-.3 .3h.8m-.6-.1h.8m-.8-.2h.8m1.3 .1h.8m-.3 0h.8m.4 0h.8m1.5-.2h.8m-.2 0h.8m-.4 .1h.8m.5 0h.8m.9 .3h.8m1.7-.4h.8m-.6 .4h.8m-.6-.3h.8m.1-.1h.8m1.7 .3h.8m-35.3 .2h.8m-.6 .4h.8m5.2-.2h.8m4.1 0h.8m-.2-.1h.8m1.6-.1h.8m.7 .3h.8m2.9 0h.8m-.5-.3h.8m0 .1h.8m.2 .3h.8m4.3-.4h.8m-.1 .4h.8m3 0h.8m1.5-.1h.8m1.3-.3h.8m3.5 .2h.8m-42.1 .5h.8m4.3-.2h.8m.5 .1h.8m1.3 0h.8m.5 0h.8m.1 .1h.8m-.6 0h.8m3-.2h.8m-.6 0h.8m-.4 .2h.8m1.3-.1h.8m-.8 .3h.8m2.1-.1h.8m.1 0h.8m.6-.2h.8m3.1 0h.8m.2 .2h.8m-.5 .1h.8m7.7-.4h.8m-.4 .1h.8m1.9 0h.8m-.3 .3h.8m-.2-.3h.8m-41.5 .4h.8m2.7 .3h.8m.3-.2h.8m1.7 .2h.8m.2 .1h.8m-.7-.4h.8m-.5 0h.8m-.4 .1h.8m2.3 .2h.8m.9-.3h.8m-.5 .3h.8m0-.1h.8m-.4 0h.8m.4-.2h.8m1.8 .3h.8m0-.1h.8m2.3 0h.8m1.3 0h.8m.2 0h.8m2.2-.1h.8m.3-.1h.8m.8 .1h.8m1.3 .3h.8m2.5-.1h.8m-28.4 .2h.8m1.1 .4h.8m.6-.4h.8m.2 .3h.8m.8-.1h.8m.3 .2h.8m-.8 0h.8m1.3-.2h.8m6.4-.1h.8m.5 .3h.8m-.8-.4h.8m5.7 .4h.8m.2-.1h.8m3.2-.3h.8m.3 .1h.8m-30 .5h.8m2.7 0h.8m1.8 .1h.8m-.2 .2h.8m1.4-.1h.8m-.3 0h.8m.3 .1h.8m-.8-.2h.8m.5-.1h.8m-.3 .3h.8m.6-.4h.8m-.5 .1h.8m-.4 .3h.8m.2-.1h.8m3-.2h.8m8.2 .1h.8m2.1 .2h.8m-42 .3h.8m3.6 .2h.8m.7 0h.8m1-.4h.8m3 .1h.8m.3 0h.8m-.4 0h.8m.8 .1h.8m4.6-.2h.8m3.6 0h.8m-.8 .4h.8m3.6-.3h.8m.7 .1h.8m-.3 .1h.8m-.7-.3h.8m4.6 .4h.8m-39.5 .5h.8m4.7-.4h.8m-.5 .4h.8m0-.3h.8m.8-.1h.8m2 .4h.8m-.5-.3h.8m-.7-.1h.8m4.3 .1h.8m-.8 .1h.8m2.2 .2h.8m4.1-.1h.8m.2 .1h.8m2.4-.3h.8m.8 .3h.8m3.1-.4h.8m1.8 .1h.8m1.3 0h.8m-35 .6h.8m1-.2h.8m.1 .4h.8m2.5-.3h.8m-.4 .1h.8m.3-.1h.8m-.4 0h.8m.9 0h.8m-.3 .3h.8m3.9-.3h.8m.9 0h.8m-.5-.1h.8m1.7 .1h.8m2 .1h.8m3.2 .1h.8m-.1-.2h.8m-.8 .2h.8m-28 .5h.8m1.8-.3h.8m2.9 .3h.8m.1-.1h.8m.3 0h.8m3-.1h.8m.9 0h.8m-.7 .1h.8m-.5 .2h.8m.3 0h.8m.3-.3h.8m-.7 .3h.8m-.8-.1h.8m-.5 .1h.8m.4-.4h.8m1.2 .2h.8m-.7-.2h.8m-.5 .3h.8m-.6 .1h.8m5.1-.3h.8m.2 .2h.8m-.6-.2h.8m-.1 .3h.8m3.9-.3h.8m-.5 .2h.8m.9-.2h.8m.3 .3h.8m.9-.4h.8m-39.3 .5h.8m3 .3h.8m-.3-.3h.8m-.2 0h.8m1.7 .1h.8m3.4 .1h.8m5.8-.1h.8m1.1 .1h.8m1 .1h.8m.3-.3h.8m.5 .3h.8m-.6-.3h.8m.1 .1h.8m1 .3h.8m1.1 0h.8m1.6-.2h.8m-.2 0h.8m2.1-.2h.8m-38 .5h.8m3.7 .1h.8m.2-.1h.8m-.2 .4h.8m2-.1h.8m2.9 0h.8m-.5-.3h.8m-.2 .2h.8m2.2 0h.8m.1 0h.8m0-.1h.8m1.3 .3h.8m0-.1h.8m2.7 .1h.8m-.6-.4h.8m-.1 .4h.8m.5-.1h.8m4.6-.2h.8m.8 .1h.8m-.6 .2h.8m-.4 0h.8m.3-.4h.8m-32.8 .9h.8m.1 0h.8m-.5 0h.8m-.4-.3h.8m2.8 .3h.8m0-.2h.8m-.2 .2h.8m1.1-.3h.8m-.4-.1h.8m6.2 .4h.8m-.3-.2h.8m0-.2h.8m.3 .2h.8m.8 0h.8m0 .1h.8m1.5 .1h.8m.8-.1h.8m.7-.2h.8m5.7-.1h.8m-31.2 .7h.8m1.5-.1h.8m-.7 .1h.8m3 0h.8m.2 0h.8m-.8 .1h.8m.2-.2h.8m-.4 0h.8m.2 .3h.8m3.3 0h.8m2.7 0h.8m-.4-.3h.8m-.6 .3h.8m-.5-.1h.8m.9-.2h.8m2.3 .1h.8m-.5 0h.8m-.2 0h.8m.1 0h.8m-31.6 .4h.8m7.2 .3h.8m1.3-.1h.8m-.7 .1h.8m2.8-.2h.8m.1 .2h.8m1.5-.4h.8m7.8 .1h.8m-.3 0h.8m.4 .3h.8m.8-.1h.8m1.8-.2h.8m2.6-.1h.8m.6 .1h.8m6.5 0h.8m-40.6 .4h.8m3.9 .4h.8m3.9-.1h.8m.4 0h.8m.7-.3h.8m.3 .3h.8m-.6-.3h.8m-.6 .2h.8m-.1 .2h.8m1.6-.1h.8m.1-.2h.8m0 .1h.8m-.8 .2h.8m3.9-.4h.8m.1 .4h.8m-.7 0h.8m7.3-.3h.8m-.1-.1h.8m-35.4 .9h.8m-.3-.3h.8m1.6 .1h.8m1.4-.2h.8m1.3 .2h.8m.1-.2h.8m.9 .1h.8m2-.1h.8m0 .1h.8m1.1 0h.8m.7-.1h.8m0 .3h.8m-.8 .1h.8m3-.4h.8m4.8 .2h.8m-.6-.1h.8m3.9 .1h.8m-.2 .2h.8m-.8-.2h.8m.8 .1h.8m-27.5 .4h.8m.7 0h.8m-.3-.1h.8m-.7 .1h.8m1-.2h.8m-.1 .1h.8m-.1-.1h.8m.4 .1h.8m.2-.1h.8m1 .2h.8m.2 .1h.8m1.8 .1h.8m-.5-.4h.8m-.5 .1h.8m-.8 0h.8m-.2 .2h.8m.5-.3h.8m3 0h.8m-.7 .3h.8m3.2 0h.8m2.6 .1h.8m-33.8 .1h.8m2 .1h.8m.7-.1h.8m2.2 .4h.8m2-.1h.8m-.6 0h.8m-.7 .1h.8m0-.3h.8m-.2 .3h.8m4.4-.2h.8m-.2 .1h.8m-.7-.1h.8m3.1 .1h.8m.3 .1h.8m2 0h.8m12-.1h.8m1.1-.3h.8m-41.9 .5h.8m3.6 0h.8m3.7 0h.8m-.4 .1h.8m.4 .3h.8m-.2-.3h.8m-.7 .3h.8m-.5-.3h.8m.7 .2h.8m3.3-.2h.8m-.6 .3h.8m1-.3h.8m2.1 .2h.8m-.3-.2h.8m.5 .1h.8m.7 0h.8m1.2 0h.8m0 .1h.8m1.3 .1h.8m-.7-.2h.8m-.3 .1h.8m.3-.2h.8m1 .2h.8m-.3-.2h.8m.7 .1h.8m.1 0h.8m.3-.1h.8m1.4 .2h.8m.4 0h.8m-43.2 .5h.8m1.2 .1h.8m3.7-.3h.8m-.2 0h.8m3.5 .2h.8m-.4 .1h.8m.7-.2h.8m-.4-.1h.8m-.6 .2h.8m-.2-.1h.8m1.8-.2h.8m.9 .4h.8m.2-.4h.8m-.4 .4h.8m-.2-.4h.8m.2 .4h.8m1.9 0h.8m2.4 0h.8m.2 0h.8m.6-.1h.8m.5 .1h.8m-.6-.3h.8m4.3 .3h.8m0-.2h.8m-33 .6h.8m1 0h.8m.8 0h.8m0-.3h.8m-.6 .3h.8m.4-.3h.8m.1 .1h.8m.5 .2h.8m.6-.2h.8m2.4 .1h.8m1.6 .2h.8m-.7-.2h.8m-.3 0h.8m-.5-.2h.8m3.4 .4h.8m4.3 0h.8m.4-.2h.8m3.2 .2h.8m3.1-.4h.8m6.1 .3h.8m-45.9 .5h.8m3.3 .1h.8m1.1-.2h.8m.2 .1h.8m-.7-.2h.8m.5 0h.8m-.1 .1h.8m.1 .2h.8m.5 0h.8m1.6 0h.8m-.7-.1h.8m1.3 .1h.8m-.8 0h.8m.2-.1h.8m-.8-.2h.8m-.3 .3h.8m-.2-.3h.8m-.5 0h.8m-.4 0h.8m.8 0h.8m.8-.1h.8m-.5 .4h.8m.9-.4h.8m1.3 .1h.8m-.7 0h.8m-24.3 .6h.8m2.9 0h.8m.6-.1h.8m-.8-.1h.8m1.2 0h.8m-.5 .2h.8m1.4 0h.8m-.4-.1h.8m1.4 .1h.8m1.4-.1h.8m.5-.1h.8m.1 .1h.8m-.1 .3h.8m2.2-.1h.8m3 .1h.8m5.3-.1h.8m.4-.3h.8m-.1 .1h.8m.1 .2h.8m3.9-.1h.8m1.6 .1h.8m-42.6 .2h.8m2.5 .4h.8m.7 0h.8m1.6-.1h.8m.4-.2h.8m-.4 .3h.8m-.8 0h.8m-.3 0h.8m-.4-.3h.8m-.5 .1h.8m-.2-.2h.8m.1 0h.8m.4 0h.8m-.6 0h.8m0 .1h.8m-.3-.1h.8m-.4 .2h.8m-.2 0h.8m.8 .1h.8m-.8 .1h.8m1.3 0h.8m-.6-.1h.8m-.5-.2h.8m1.4 .3h.8m6.1 0h.8m1.2-.2h.8m-.4 .2h.8m3.1-.3h.8m-.5 .3h.8m7.3-.2h.8m-.4-.2h.8m-44.4 .5h.8m3.6 .3h.8m.6 0h.8m-.5-.2h.8m-.3 .1h.8m.3 .1h.8m-.7 0h.8m.5 0h.8m.4-.2h.8m-.6 .2h.8m1.2-.2h.8m-.5 .1h.8m-.8 .2h.8m-.3-.1h.8m-.8-.3h.8m.9 0h.8m-.6 .2h.8m-.2-.1h.8m-.6 .1h.8m-.6 .2h.8m-.1-.1h.8m-.4 .1h.8m-.7-.2h.8m-.5-.1h.8m-.5 .2h.8m-.8-.3h.8m.4 0h.8m1 .2h.8m1.3-.1h.8m1.2 .1h.8m1.2-.1h.8m.1 .3h.8m1.3-.1h.8m2.1 0h.8m3.2-.2h.8m-.5 .3h.8m-.4-.2h.8m1.5-.1h.8m-44.8 .5h.8m-.1 .3h.8m.2-.3h.8m7.9 0h.8m1.7-.1h.8m.3 .3h.8m-.2 0h.8m-.8-.3h.8m-.1 .1h.8m-.6-.1h.8m-.5 0h.8m-.5 .1h.8m-.6 .3h.8m-.3-.4h.8m-.1 .3h.8m-.3-.1h.8m-.5 .1h.8m-.8 .1h.8m0 0h.8m-.3 0h.8m-.8-.2h.8m-.3 .2h.8m-.4-.1h.8m.8-.2h.8m2 .3h.8m-.3-.3h.8m-.1 .3h.8m1.2-.2h.8m1.1 0h.8m2.1-.1h.8m7.7 .3h.8m-42.3 .2h.8m2.9 .2h.8m-.8-.1h.8m1.5-.2h.8m.1 .1h.8m-.5 .1h.8m1.6-.2h.8m-.6 .2h.8m.5-.1h.8m0 .1h.8m.8 .1h.8m.9-.1h.8m0 0h.8m-.6 0h.8m-.3 .2h.8m-.5-.4h.8m-.1 .1h.8m-.1 .2h.8m.1-.3h.8m.2 0h.8m-.7 .3h.8m-.4-.2h.8m-.2 .3h.8m-.1-.3h.8m.1-.1h.8m-.3 .3h.8m-.1-.1h.8m-.5-.1h.8m-.4 0h.8m1.6 0h.8m2.5 .2h.8m0-.3h.8m1.7 0h.8m-.6 .2h.8m6.8-.2h.8m-39.4 .6h.8m1.9-.1h.8m-.4 .2h.8m2.3 .1h.8m.3 .1h.8m.7-.2h.8m.4-.2h.8m-.8 0h.8m-.3 .4h.8m-.3-.3h.8m-.8 0h.8m-.4 .2h.8m-.1-.2h.8m-.2 .3h.8m-.4-.1h.8m-.8 .1h.8m-.2-.3h.8m-.7 0h.8m-.5 .2h.8m-.4-.1h.8m.3-.2h.8m-.5 0h.8m-.5 .4h.8m.1-.3h.8m-.4 .3h.8m-.4 0h.8m-.4-.1h.8m.8 .1h.8m.5 0h.8m4.1-.3h.8m.8 .2h.8m1.1-.3h.8m-.4 .2h.8m-.5 .2h.8m3 0h.8m4.1-.2h.8m-42.3 .5h.8m3.3 .2h.8m2.7-.4h.8m-.6 .3h.8m-.3-.2h.8m.7 .3h.8m-.4 0h.8m-.8-.1h.8m.6-.1h.8m-.8 .2h.8m-.3-.3h.8m.5 .1h.8m-.8 .2h.8m.7-.4h.8m-.7 .2h.8m0 .2h.8m-.7-.4h.8m-.5 .2h.8m-.1-.2h.8m-.2 .4h.8m.4-.4h.8m-.4 .1h.8m-.3 .2h.8m-.3-.1h.8m-.7 .1h.8m-.3-.2h.8m-.3 .1h.8m-.8-.1h.8m.5 .3h.8m-.3-.3h.8m-.2 .2h.8m1.5-.1h.8m-.1 0h.8m-.6-.2h.8m.3 .2h.8m2.9 0h.8m.1 0h.8m.1 .1h.8m-31.4 .4h.8m-.2 .1h.8m3-.3h.8m-.6 .2h.8m.6 0h.8m-.7 .2h.8m-.6-.3h.8m-.6 .3h.8m1.9-.4h.8m-.4 .1h.8m.1 0h.8m-.8 0h.8m-.2 .3h.8m.1-.2h.8m.5 .2h.8m-.6-.1h.8m-.3-.2h.8m-.7 .2h.8m-.6-.2h.8m-.6-.1h.8m-.7 .2h.8m-.8 0h.8m-.8 0h.8m-.4-.1h.8m-.1 .1h.8m.4-.2h.8m-.7 .3h.8m.2-.2h.8m0 .3h.8m-.5-.3h.8m-.6 .3h.8m.7-.1h.8m-.2-.1h.8m-.5 .1h.8m0-.3h.8m1.3 .1h.8m.6-.1h.8m.7 .2h.8m0 .2h.8m1.3 0h.8m3.2 0h.8m.4 0h.8m2.4-.4h.8m8.4 .3h.8m-49.8 .6h.8m.7 0h.8m2.6-.1h.8m1.1-.2h.8m.2 .2h.8m-.8 0h.8m-.4-.1h.8m-.7 0h.8m-.4-.1h.8m1 0h.8m-.7 .3h.8m-.7-.4h.8m-.5 .4h.8m-.1-.4h.8m-.6 .4h.8m-.5-.2h.8m-.1 .2h.8m-.7-.2h.8m-.6 .2h.8m-.5-.2h.8m.2 .1h.8m-.7 0h.8m-.7 .1h.8m-.7-.2h.8m-.8 .2h.8m-.6-.2h.8m-.7-.2h.8m-.5 .2h.8m-.8 .2h.8m-.3-.4h.8m-.5 .4h.8m-.4-.4h.8m0 0h.8m-.7 .4h.8m-.6-.1h.8m-.1-.2h.8m.2 0h.8m-.8-.1h.8m-.6 .4h.8m-.2-.1h.8m-.1-.3h.8m-.2 .4h.8m-.8-.3h.8m.4 0h.8m.7 .3h.8m-.3-.1h.8m.4-.1h.8m3.9-.2h.8m-.5 .4h.8m-32.6 .5h.8m-.7-.3h.8m.8-.1h.8m-.7 .2h.8m.4 .1h.8m-.4-.3h.8m3.3 .1h.8m-.6 .1h.8m-.5 .2h.8m-.7-.2h.8m-.4 .2h.8m-.1-.3h.8m-.4 .2h.8m-.5-.2h.8m-.1 0h.8m-.6 .3h.8m.7-.3h.8m-.8-.1h.8m-.4 .1h.8m.5 0h.8m-.7 .1h.8m-.7-.2h.8m.1 0h.8m-.4 .2h.8m-.8 .1h.8m-.2-.2h.8m.9 .2h.8m-.5 0h.8m.1 .1h.8m.3-.4h.8m0 .4h.8m.2-.1h.8m.2-.1h.8m-.8 0h.8m0 .1h.8m.5-.2h.8m1.8 .3h.8m2-.2h.8m1.1-.1h.8m1.1 0h.8m1.8 .2h.8m8.1 .1h.8m-46.9 .5h.8m1.2-.1h.8m.6 .1h.8m-.8-.3h.8m-.5 .2h.8m-.7 0h.8m-.5-.2h.8m1.4 .3h.8m0-.2h.8m1.8-.2h.8m-.6 0h.8m-.3 0h.8m-.7 .1h.8m-.1 .1h.8m.1 0h.8m-.6 .1h.8m.9-.1h.8m-.6 0h.8m-.2-.1h.8m-.2 .1h.8m-.6-.2h.8m-.8 .2h.8m-.6 0h.8m-.6 .2h.8m0-.2h.8m-.5 .2h.8m-.8 0h.8m-.8-.2h.8m-.6 0h.8m-.7-.2h.8m-.8 .2h.8m-.2-.2h.8m-.7 0h.8m-.1 .4h.8m-.7-.2h.8m-.6 .1h.8m.7 0h.8m.4-.2h.8m-.8-.1h.8m2.7 .4h.8m-.7 0h.8m5.5 0h.8m-.3-.1h.8m.4 0h.8m-.6-.2h.8m-27.6 .4h.8m-.4 .1h.8m2.3-.1h.8m-.6 .4h.8m-.6-.3h.8m.1 .1h.8m.3-.1h.8m-.8 .3h.8m.2-.2h.8m-.8-.1h.8m-.3-.1h.8m-.5 .4h.8m-.7 0h.8m-.8-.4h.8m-.6 .2h.8m-.2-.2h.8m-.7 .2h.8m.3-.2h.8m-.7 .2h.8m-.7-.1h.8m-.5-.1h.8m-.2 .2h.8m-.5 .2h.8m-.7-.4h.8m-.7 .3h.8m-.7 0h.8m-.7-.3h.8m-.5 .1h.8m-.7 .1h.8m-.8-.2h.8m-.4 .2h.8m-.5 .1h.8m-.1-.3h.8m-.7 .2h.8m1.7 .2h.8m-.7-.2h.8m.3 .1h.8m-.3-.2h.8m-.6 .1h.8m-.5 .1h.8m-.3-.1h.8m-.1-.1h.8m2.3 .1h.8m2.9 0h.8m8.3 0h.8m-40.2 .3h.8m2 .4h.8m.1-.4h.8m-.4 .1h.8m.1 .1h.8m-.6 .2h.8m1.2-.1h.8m-.3-.3h.8m-.7 .3h.8m-.6-.3h.8m-.6 .4h.8m.3-.4h.8m-.2 .2h.8m-.5 0h.8m.7-.2h.8m0 0h.8m0 .4h.8m-.4-.4h.8m-.5 .3h.8m-.5-.3h.8m-.8 .4h.8m-.5-.1h.8m-.3-.2h.8m-.6 .3h.8m0 0h.8m-.6-.1h.8m.4-.3h.8m-.5 .3h.8m-.5-.2h.8m-.4 .3h.8m-.2-.3h.8m-.2 0h.8m-.6 .3h.8m-.8-.2h.8m-.2-.2h.8m2.4 .3h.8m-.6 .1h.8m.5-.1h.8m-.7 0h.8m0-.3h.8m.1 .1h.8m-29.9 .6h.8m4.7-.1h.8m1.7 .1h.8m-.7-.2h.8m-.2 .3h.8m-.1 .1h.8m-.1-.3h.8m.3 0h.8m-.5-.1h.8m-.4 .3h.8m0 .1h.8m-.6-.1h.8m0-.2h.8m0-.1h.8m-.5 .2h.8m-.6-.2h.8m-.5 0h.8m-.6 .4h.8m-.7-.1h.8m.7-.1h.8m-.5 .1h.8m-.7 .1h.8m-.2-.4h.8m-.7 .3h.8m-.4-.2h.8m-.1 0h.8m-.5 .2h.8m-.5-.2h.8m-.7 .2h.8m0-.1h.8m.3 .2h.8m-.3 0h.8m-.6-.4h.8m1.2 0h.8m-.7 .3h.8m.2-.2h.8m.1 .2h.8m.7-.3h.8m1.9 0h.8m2 .2h.8m-34.9 .4h.8m-.2 .2h.8m3.7 0h.8m.6-.3h.8m-.7 .3h.8m-.5-.1h.8m-.6 0h.8m-.5 .1h.8m-.6-.2h.8m5.1 .3h.8m-.4-.4h.8m2.4 .1h.8m-.2 0h.8m-.3 0h.8m-.6-.1h.8m-.7 .2h.8m-.6 .2h.8m-.1-.1h.8m3-.3h.8m-.7 .2h.8m-.8 0h.8m-.4 0h.8m2.3 .2h.8m2.5 0h.8m5.4-.3h.8m.2-.1h.8m-39 .5h.8m4.8 .1h.8m2.3 .2h.8m1.1-.3h.8m-.4 .4h.8m-.8-.3h.8m-.5 .1h.8m.3 .1h.8m-.7 0h.8m-.3-.1h.8m-.6-.1h.8m-.4 0h.8m-.4-.1h.8m-.2 .3h.8m-.3 0h.8m-.7 0h.8m-.1 .1h.8m0-.4h.8m-.1 .4h.8m-.5 0h.8m-.2-.1h.8m-.6-.1h.8m.6-.1h.8m-.1-.1h.8m-.5 .2h.8m-.4-.2h.8m-.3 .1h.8m.2 .3h.8m.3-.1h.8m1.6 0h.8m.6 .1h.8m-.6-.1h.8m4.6 0h.8m-24.2 .6h.8m-.5 0h.8m-.2-.3h.8m-.4 0h.8m-.7 .3h.8m-.7-.1h.8m-.6-.2h.8m0 .1h.8m-.5 0h.8m1.1-.1h.8m-.5 .1h.8m0 0h.8m.6-.2h.8m-.1 .2h.8m1.3-.2h.8m-.7 .1h.8m-.8 .1h.8m-.3 0h.8m-.4-.1h.8m-.8 0h.8m-.6 .3h.8m-.7-.4h.8m-.5 .2h.8m.1 .1h.8m-.3-.3h.8m-.7 .4h.8m.2-.2h.8m4.9 .1h.8m2.1 .1h.8m9.4-.4h.8m-41.5 .7h.8m-.8 .1h.8m3.7-.2h.8m-.4 .3h.8m.5-.1h.8m-.3-.3h.8m1.5 .3h.8m-.4-.2h.8m-.3-.1h.8m.2 .1h.8m-.7 .3h.8m0-.3h.8m1.3 .2h.8m-.4 .1h.8m.9-.1h.8m-.4 0h.8m.2-.2h.8m-.3 .2h.8m-.2 .1h.8m.5-.2h.8m-.3-.1h.8m0 .2h.8m3.6 0h.8m6.5-.2h.8m6.8 .2h.8m-39 .6h.8m2-.3h.8m.1 .2h.8m1.9-.1h.8m.7-.2h.8m.2 .3h.8m-.3-.1h.8m-.1 .2h.8m2.5-.2h.8m-.7 .1h.8m-.1-.2h.8m2 .3h.8m.3-.2h.8m0 0h.8m-.1 .2h.8m-.1-.3h.8m-.6 .3h.8m1-.1h.8m3.1-.1h.8m.6-.1h.8m2.2 .2h.8m1.4 .1h.8m-31 .1h.8m.9 .3h.8m-.6-.2h.8m-.8 .2h.8m-.6-.2h.8m0 0h.8m.5-.1h.8m.6 .4h.8m.8-.4h.8m-.4 .3h.8m-.1-.1h.8m-.3 0h.8m-.8 .2h.8m.8-.4h.8m1.2 .1h.8m-.5 .3h.8m-.8-.3h.8m-.4 0h.8m-.7 .2h.8m-.7-.2h.8m.8 .1h.8m-.3 .2h.8m-.8-.2h.8m-.2 .2h.8m-.5-.4h.8m0 .2h.8m-.4 .1h.8m-.8-.2h.8m-.5 .3h.8m-.3-.2h.8m-.3 .1h.8m-.2-.1h.8m4.9 0h.8m4.4 .2h.8m-34.9 .3h.8m-.2-.2h.8m5 .3h.8m2.6-.1h.8m-.5-.2h.8m2.2 .4h.8m-.3-.4h.8m-.4 .4h.8m.7 0h.8m-.8 0h.8m-.5 0h.8m-.7-.4h.8m-.8 .2h.8m-.4-.2h.8m1.1 .1h.8m-.4 0h.8m-.5 .3h.8m-.5 0h.8m2.9-.1h.8m5.8-.3h.8m8.1 .3h.8m1.7-.2h.8m5.7 .1h.8m-42.7 .6h.8m.2-.2h.8m.2 .1h.8m1.1 .1h.8m2.8-.3h.8m.6 0h.8m1.5 .2h.8m.7 .1h.8m0-.3h.8m0 .2h.8m-.1 .2h.8m-.7-.4h.8m0 0h.8m-.6 .1h.8m8.3 .1h.8m1.1-.1h.8m-29.2 .5h.8m4.7-.1h.8m1.5 0h.8m1.6 .1h.8m-.1-.1h.8m.4 .4h.8m.2-.3h.8m-.8 0h.8m-.2 .1h.8m2 .1h.8m3.2-.2h.8m-23.4 .8h.8m4-.2h.8m.9 .2h.8m1 0h.8m3.7 0h.8m-.8 0h.8m.9-.2h.8m1.2-.2h.8m2.3 .1h.8m-.4 .1h.8m.2 .2h.8m3.8-.4h.8m14.8 .3h.8m-44.5 .6h.8m-.8-.3h.8m4.7 .1h.8m6.3 .2h.8m18.4-.2h.8m7.1 .2h.8m-32.6 .3h.8m-.2-.2h.8m8.9 .2h.8m-.7-.1h.8m14.7-.1h.8m5.6 .4h.8m-43.8 .1h.8m3.7 .3h.8m-.6 0h.8m1.6-.1h.8m.6 .1h.8m.8 0h.8m-.2 0h.8m.5-.1h.8m1.3 .1h.8m2.2 0h.8m1.9 0h.8m.1-.2h.8m2.7 .2h.8m.9-.3h.8m.6 .1h.8m15.8 .2h.8" stroke="#000" stroke-width=".8" opacity="0.8" fill="none" filter="url(#bl)"/><path d="M147.4 519.9h.8m-54.3 .9h.8m31.2 .6h.8m-12.8 .7h.8m17.9-.2h.8m-3.6 .6h.8m-24.7 .8h.8m33.2 .4h.8m-6.2 .4h.8m4.2-.2h.8m-41.9 .7h.8m8.7 .6h.8m3.2-.1h.8m21.3 .4h.8m-19.4 1.1h.8m12.3 .1h.8m.9 .3h.8m2.8 .2h.8m-21.1 1h.8m-16.4 2.1h.8m36.4 .1h.8m9.6 0h.8m-21.7 1.6h.8m17.5 .5h.8m-10 .4h.8m-26.1 1.3h.8m-7.8 .1h.8m-1.2 .9h.8m36.6-.2h.8m-33.4 .4h.8m20 .6h.8m-19.3 .7h.8m-.6-.1h.8m8.5-.2h.8m21.5 1.4h.8m-12.6 1h.8m-7.3 1.6h.8m5.7 .3h.8m-10.1 .2h.8m-8.6 .6h.8m2.3 .1h.8m31.1-.1h.8m-41.6 .4h.8m29.1-.1h.8m-27.8 1.3h.8m3.9 .1h.8m-9.7 .3h.8m22.8-.1h.8m-10.8 .7h.8m-8 .9h.8m25.8 .2h.8m-31 .2h.8m7.9 0h.8m-15.5 .8h.8m-.1 .2h.8m38.4 2.2h.8m-32.5 .2h.8m20.8 .4h.8m-32.7 1.1h.8m.5 2.5h.8m10.8 .2h.8m17.4 .6h.8m-12.8 .8h.8m-13.5 .8h.8m14 .2h.8m-4.6 .6h.8m-15.9 .9h.8m29.2 .5h.8m4.8 0h.8m-25.8 .6h.8m22.3 .2h.8m-37.7 .1h.8m8.7 .1h.8m-11.2 2.8h.8m25.1 .5h.8m9.5-.2h.8m-6.2 1.6h.8m-16.3 .3h.8m-2.7 .5h.8m36.3 0h.8" stroke="#000" stroke-width=".8" opacity="0.35" fill="none" filter="url(#bl)"/></g><rect x="93.2" y="519.4" width="55.5" height="45.8" fill="none" stroke="#9a9a9a" stroke-width="0.9"/><path d="M93.2 565.2v1.6M93.2 565.2h-1.6M107.1 565.2v1.6M93.2 553.8h-1.6M120.9 565.2v1.6M93.2 542.3h-1.6M134.8 565.2v1.6M93.2 530.9h-1.6M148.7 565.2v1.6M93.2 519.4h-1.6" stroke="#999" stroke-width=".6" fill="none"/><rect x="121" y="538.3" width="18.8" height="10.7" fill="none" stroke="#909090" stroke-width="0.75"/><path d="M93.5 527.5L93.5 565" stroke="#000" stroke-width="0.8" fill="none"/><path d="M125.5 549L125.5 564.5" stroke="#000" stroke-width="1.2" fill="none"/><path d="M125.5 568l-2.2 -4h4.4z" fill="#000"/><clipPath id="c9"><rect x="30.2" y="582.7" width="54.4" height="48.5"/></clipPath><g clip-path="url(#c9)"><path d="M50.7 586h.8m6.4 1.1h.8m-8.4 4.1h.8m3.9 1.9h.8m-1.4 .5h.8m-6.9 1.2h.8m.9 0h.8m0 .1h.8m-1.2 .4h.8m2.2 1h.8m0 0h.8m-8 1.3h.8m5.3-.2h.8m-5.7 .6h.8m-.4 .1h.8m3.2 0h.8m1.6-.1h.8m-4 .8h.8m13.2 .1h.8m-27.5 .7h.8m14.9-.1h.8m.5 .2h.8m1.3-.2h.8m-19.1 .7h.8m16.6 0h.8m3.9 .7h.8m-13.8 .8h.8m5.4-.4h.8m-10.3 .6h.8m6.3 .3h.8m-.4 0h.8m-.1 0h.8m3.4-.4h.8m6.1 .4h.8m-19.6 .2h.8m-.7 .1h.8m3.4 .2h.8m2.2 0h.8m-.2-.3h.8m-8.9 .5h.8m-.7 0h.8m5.6 .1h.8m-2.4 .6h.8m-.2-.1h.8m-.1-.1h.8m-.1 0h.8m7.2-.1h.8m-13.2 .5h.8m-.8 .1h.8m2.9 .1h.8m-10.2 .6h.8m3.2 0h.8m2.1 0h.8m.8-.1h.8m8.3 0h.8m0 0h.8m-15.5 .5h.8m.5-.2h.8m.3 .2h.8m-.2 .1h.8m1-.2h.8m-.3 .1h.8m.7-.2h.8m3.9 .1h.8m-11.1 .7h.8m2.3-.2h.8m1.9 0h.8m.4 .2h.8m-.2 0h.8m1.4 0h.8m.2 .1h.8m-.7-.2h.8m-12.1 .3h.8m0 .1h.8m6.5 .1h.8m-.2 0h.8m-12.2 .7h.8m5.4 0h.8m-.5-.4h.8m.7 .4h.8m6.7-.4h.8m-.1 .3h.8m-21 .2h.8m3.9 .4h.8m1.2-.1h.8m2.1-.2h.8m2.6 .1h.8m6.5 .1h.8m-19.7 .2h.8m1 .2h.8m.6-.2h.8m3.6 .2h.8m-.4-.1h.8m.4 .3h.8m-.6 0h.8m1.2-.3h.8m5.7-.1h.8m-19.9 .8h.8m3.4-.3h.8m-.6 0h.8m4.9 .3h.8m1.9 0h.8m1.6-.1h.8m-14.5 .3h.8m1.6 .3h.8m.6-.3h.8m1.5 .4h.8m-.3-.3h.8m2.5 .1h.8m1.5 .1h.8m7.7-.1h.8m-22.5 .5h.8m6.5 .2h.8m.2 0h.8m-.3-.2h.8m5.1-.1h.8m2.4-.1h.8m-14.1 .8h.8m3 0h.8m8.4 0h.8m-17.1 .4h.8m3.4 .2h.8m7-.3h.8m2.5 .1h.8m1-.1h.8m-18.7 .7h.8m8.1 .1h.8m1.1 0h.8m-.7-.4h.8m1.5 .2h.8m-.5-.2h.8m-10.2 .5h.8m2.7 .3h.8m-.4-.1h.8m-.2-.2h.8m3.3 0h.8m.1 .4h.8m-.6 0h.8m-14.2 .2h.8m3.7 .1h.8m-.1 0h.8m.9 .1h.8m-.6 .1h.8m-.1-.2h.8m1-.2h.8m-.2 .3h.8m-.3 0h.8m1.2-.2h.8m6.5 .1h.8m-20.7 .4h.8m5.9 .1h.8m2.2 .1h.8m-.7-.3h.8m-.5 .4h.8m.6-.2h.8m2.1 0h.8m-.5 .2h.8m-20.5 .4h.8m6.2 .1h.8m-.4 0h.8m4.6-.2h.8m-.4-.1h.8m.8 0h.8m1.4 .2h.8m-12.6 .5h.8m1.4 0h.8m1.7-.2h.8m4.1 .1h.8m-.5 0h.8m-.7 .2h.8m1-.1h.8m-.8 .1h.8m9.8 0h.8m-21.1 .1h.8m.3 0h.8m.7 0h.8m1.6 .1h.8m.4 .2h.8m-.5-.1h.8m.2-.2h.8m-.4 .4h.8m19.8-.3h.8m-30.6 .8h.8m2.9-.1h.8m-.1-.1h.8m3.7-.1h.8m-.5-.1h.8m-6.7 .9h.8m2.1 0h.8m.5-.2h.8m-.4 .2h.8m5.1 0h.8m2.1-.2h.8m7.7-.2h.8m-32.9 .8h.8m10 0h.8m-.7-.3h.8m.2 .1h.8m-.2 .1h.8m-.8-.1h.8m9.6 .3h.8m.9-.4h.8m-13.3 .8h.8m1.8 0h.8m-.3-.1h.8m-.7 0h.8m2.1 .2h.8m0-.2h.8m1.2 0h.8m2.8-.1h.8m-21.5 .8h.8m4.8 0h.8m-.7-.3h.8m5.6 .1h.8m2.2 0h.8m-15.9 .5h.8m2.6 .2h.8m7.7-.4h.8m2.1 .2h.8m-11.6 .3h.8m3.1 .4h.8m-.4-.4h.8m.1 0h.8m2.7 .2h.8m2.2-.1h.8m.7 .1h.8m-5.8 .3h.8m-.4 .3h.8m4.5-.1h.8m-17.8 .3h.8m2.9 .4h.8m1-.3h.8m3.6-.1h.8m5 .2h.8m4.4 0h.8m-25.5 .3h.8m9.4 .3h.8m1.6-.1h.8m-.5-.2h.8m-.6 .4h.8m2.3 0h.8m1-.4h.8m-2.5 .7h.8m3.6 .1h.8m-14.2 .5h.8m2.8 0h.8m.5-.2h.8m.4 .1h.8m3.8 0h.8m-8.5 .4h.8m.2 .2h.8m-5 .5h.8m7.9-.2h.8m-.6 .1h.8m6.1 .2h.8m-13.1 .1h.8m6 0h.8m.8 0h.8m-23 .8h.8m15.7-.3h.8m2 .4h.8m-.1-.2h.8m2.6 .1h.8m1.9-.3h.8m-21.5 .8h.8m7.8-.1h.8m.8-.1h.8m1.9 0h.8m0 .3h.8m-.2 .1h.8m6.9 .8h.8m-15.3 .6h.8m-.1-.3h.8m4.8-.1h.8m-11.1 .7h.8m4.6 .3h.8m-.3 .3h.8m.2-.2h.8m-8.8 .5h.8m4.2 .3h.8m6.6-.3h.8m-7.4 1.5h.8m8.4-.1h.8m-1.9 1.2h.8m-23.9 .5h.8m5.9 1.2h.8m10.2-.4h.8m-7.6 1.1h.8m7 .7h.8m.7-.1h.8" stroke="#000" stroke-width=".8" opacity="0.7" fill="none" filter="url(#bl)"/><path d="M70.6 588.6h.8m-29 .4h.8m29.8 4.7h.8m-28.2 1h.8m35.1 1.7h.8m-50.3 2.1h.8m43.1 .4h.8m-13.2 2.2h.8m8.5 9.8h.8m-19.6 5.3h.8m2.8 6h.8m6.3-.4h.8m-10.8 .7h.8m14.6 2h.8m2.7 3h.8" stroke="#000" stroke-width=".8" opacity="0.6" fill="none" filter="url(#bl)"/></g><rect x="30.2" y="582.7" width="54.4" height="48.5" fill="none" stroke="#b4b4b4" stroke-width="0.9"/><path d="M30.2 631.2v1.6M30.2 631.2h-1.6M43.8 631.2v1.6M30.2 619.1h-1.6M57.4 631.2v1.6M30.2 607h-1.6M71 631.2v1.6M30.2 594.8h-1.6M84.6 631.2v1.6M30.2 582.7h-1.6" stroke="#999" stroke-width=".6" fill="none"/><rect x="36.7" y="585.4" width="37.2" height="22.9" fill="none" stroke="#888" stroke-width="0.75"/><text x="53.7" y="591.8" text-anchor="middle" font-size="7">0.15</text><clipPath id="c10"><rect x="93.2" y="582.7" width="55.5" height="48.5"/></clipPath><g clip-path="url(#c10)"><path d="M105.4 584.4h.8m16.4 6.7h.8m-7.8 2.5h.8m9.1 1.5h.8m-15.4 1.3h.8m-11.5 2.9h.8m23.4 1h.8m-9.7 .7h.8m5.5 .2h.8m3.5 .2h.8m-6.4 .4h.8m-.6 .5h.8m15.8 0h.8m-29 .5h.8m-.1 .9h.8m2.1 0h.8m10.5-.3h.8m-9.1 .6h.8m15 .2h.8m-12.2 .2h.8m-13 1.1h.8m14.3 .2h.8m-14.3 .5h.8m-1.3 .5h.8m15.3-.1h.8m-23.7 .6h.8m5.1 .4h.8m9.8 .6h.8m-16 .5h.8m6.5-.2h.8m4 0h.8m3.6 0h.8m-6.8 .5h.8m-4.6 .3h.8m1 .2h.8m-.2 0h.8m1.9 0h.8m4.5 0h.8m-7.8 .3h.8m-6.4 .5h.8m1.7 0h.8m2 .4h.8m.9-.3h.8m6 .1h.8m-12.6 .3h.8m1.5 .2h.8m0 .1h.8m-.7 0h.8m-.1-.2h.8m.2 0h.8m.1 .1h.8m3.1 0h.8m-7.6 .4h.8m-.2 .3h.8m.2-.2h.8m2.8 0h.8m0 0h.8m-23.7 .7h.8m10.9 0h.8m.3-.3h.8m.4 .1h.8m-.8-.2h.8m4.1 .1h.8m2.1-.1h.8m4.6 .1h.8m8.1 .1h.8m-19 .7h.8m-.7-.2h.8m.3 0h.8m-8 .7h.8m3.2-.3h.8m1 .3h.8m1.2 0h.8m-5.6 .3h.8m1.1-.2h.8m-.6 0h.8m8.1 .4h.8m-16.1 .1h.8m7.2 .1h.8m.3-.1h.8m.7 .1h.8m3.4 .1h.8m-15.4 .5h.8m1.8-.1h.8m3.2-.1h.8m2.1 .4h.8m-.3 0h.8m2.3-.4h.8m-13.7 .7h.8m5.4 0h.8m2 .2h.8m.8 0h.8m-.5-.2h.8m-13.1 .5h.8m3.9 .2h.8m-.6-.4h.8m4 .9h.8m-.2-.4h.8m-.7 .2h.8m.2 .1h.8m.4-.2h.8m-16.3 .6h.8m2.2-.1h.8m8.8 .1h.8m1.6-.1h.8m10.9 .2h.8m-22.8 .5h.8m-.3 0h.8m-.3-.3h.8m2.5 0h.8m-.7 .3h.8m-.2 .1h.8m3.8-.4h.8m-7.9 .9h.8m-.8 0h.8m-.2-.3h.8m.4 .2h.8m3.5-.3h.8m1.3 .4h.8m9.3-.1h.8m-22.1 .5h.8m4.1-.1h.8m.8 .2h.8m0-.2h.8m1 .1h.8m1 0h.8m-16.4 .6h.8m4.5-.3h.8m1.7-.1h.8m.4 .1h.8m.3 0h.8m.3 .1h.8m2.4-.1h.8m1.1 .1h.8m-17.9 .3h.8m5.7 .2h.8m1.2 .2h.8m1.7-.4h.8m1.3 0h.8m-5.9 .6h.8m3 .3h.8m-.7-.4h.8m2.2 .8h.8m.3-.2h.8m-.2 .2h.8m-10.5 .2h.8m0 .2h.8m1.8 .2h.8m2.5-.1h.8m1.4 .1h.8m-7.7 .4h.8m1.1-.3h.8m-.7 .1h.8m.7 .1h.8m1.2 .2h.8m-.4-.1h.8m-7.7 .5h.8m.3-.1h.8m1.1 .1h.8m0-.1h.8m.5 .1h.8m-7.3 .4h.8m.2 .1h.8m1.2 .1h.8m.9 0h.8m4.9-.1h.8m-.1 0h.8m-16.2 .6h.8m12-.4h.8m.3 0h.8m-9.1 .8h.8m4.4 .1h.8m-2.7 .5h.8m-.7-.4h.8m-3.9 .7h.8m.8-.1h.8m.3 .2h.8m1-.1h.8m-6.6 .3h.8m-2.8 .9h.8m2 0h.8m.7-.4h.8m4.1 0h.8m-10.2 .6h.8m4.9 .6h.8m2.4-.1h.8m3.1 .3h.8m-10 .4h.8m1-.1h.8m.2-.1h.8m3.3 .7h.8m1.2 .1h.8m-2.2 .7h.8m-4.9 .4h.8m2.2 .5h.8m6.7 0h.8m-10.3 .8h.8m-5.7 .2h.8m14.7 .1h.8m-25.9 .7h.8" stroke="#000" stroke-width=".8" opacity="0.7" fill="none" filter="url(#bl)"/><path d="M116.5 589.4h.8m10.8 4.5h.8m-15.8 .6h.8m19.9 4.8h.8m1.2 3.6h.8m-42.4 .5h.8m2.8 2.7h.8m15.7 5.7h.8m4.3 1.4h.8m-20.4 8.3h.8m13 4.5h.8m17.9 2.6h.8" stroke="#000" stroke-width=".8" opacity="0.6" fill="none" filter="url(#bl)"/></g><rect x="93.2" y="582.7" width="55.5" height="48.5" fill="none" stroke="#b4b4b4" stroke-width="0.9"/><path d="M93.2 631.2v1.6M93.2 631.2h-1.6M107.1 631.2v1.6M93.2 619.1h-1.6M120.9 631.2v1.6M93.2 607h-1.6M134.8 631.2v1.6M93.2 594.8h-1.6M148.7 631.2v1.6M93.2 582.7h-1.6" stroke="#999" stroke-width=".6" fill="none"/><rect x="100" y="585.4" width="35.8" height="22.9" fill="none" stroke="#888" stroke-width="0.75"/><text x="114.2" y="591.8" text-anchor="middle" font-size="7">0.07</text><path d="M199.2 542.5L199.2 547" stroke="#333" stroke-width="0.7" fill="none"/><path d="M197.7 542.5L200.8 542.5" stroke="#333" stroke-width="0.7" fill="none"/><rect x="192.5" y="547" width="13.5" height="76.1" fill="#000" stroke="#111" stroke-width="0.7"/><path d="M218.2 580.9L218.2 584.3" stroke="#333" stroke-width="0.7" fill="none"/><path d="M216.6 580.9L219.8 580.9" stroke="#333" stroke-width="0.7" fill="none"/><rect x="211.4" y="584.3" width="13.6" height="38.8" fill="#c8c8c8" stroke="#333" stroke-width="0.7"/><text x="217.8" y="578.8" text-anchor="middle" font-size="8">*</text><path d="M185 526L185 623.1" stroke="#222" stroke-width="0.9" fill="none"/><path d="M185 623.1L232.4 623.1" stroke="#222" stroke-width="0.9" fill="none"/><path d="M183 527.2L185 527.2" stroke="#222" stroke-width="0.7" fill="none"/><text x="182.6" y="530.2" text-anchor="end">35</text><path d="M183 540.9L185 540.9" stroke="#222" stroke-width="0.7" fill="none"/><text x="182.6" y="543.9" text-anchor="end">30</text><path d="M183 554.6L185 554.6" stroke="#222" stroke-width="0.7" fill="none"/><text x="182.6" y="557.6" text-anchor="end">25</text><path d="M183 568.3L185 568.3" stroke="#222" stroke-width="0.7" fill="none"/><text x="182.6" y="571.3" text-anchor="end">20</text><path d="M183 582L185 582" stroke="#222" stroke-width="0.7" fill="none"/><text x="182.6" y="585" text-anchor="end">15</text><path d="M183 595.7L185 595.7" stroke="#222" stroke-width="0.7" fill="none"/><text x="182.6" y="598.7" text-anchor="end">10</text><path d="M183 609.4L185 609.4" stroke="#222" stroke-width="0.7" fill="none"/><text x="182.6" y="612.4" text-anchor="end">5</text><text x="169.3" y="572.8" text-anchor="middle" transform="rotate(-90 169.3 572.8)">CDP per femur x 10<tspan dy="-3" font-size="4.5">3</tspan></text><text x="199.2" y="632.8" text-anchor="middle">V</text><text x="218.9" y="632.8" text-anchor="middle">Indo</text><text x="253" y="486" font-weight="bold" font-size="10.6" fill="#000">F</text><text x="341.4" y="493" text-anchor="middle" font-size="6.4">Gated on (CD3 NK1.1 CD19</text><text x="341.4" y="499.8" text-anchor="middle" font-size="6.4">Ter119)<tspan dy="-2" font-size="3.8">neg</tspan><tspan dy="2"> cells</tspan></text><path d="M283.2 504.1L397.7 504.1" stroke="#222" stroke-width="0.9" fill="none"/><text x="307" y="512.6" text-anchor="middle">Vehicle</text><text x="370" y="512.6" text-anchor="middle">Indomethacin</text><text x="274" y="539.2" text-anchor="middle" transform="rotate(-90 274 539.2)">MHC-II</text><text x="337.5" y="576.4" text-anchor="middle">CD11c</text><text x="273.4" y="608.7" text-anchor="middle" transform="rotate(-90 273.4 608.7)">Flt3</text><text x="337.7" y="642.3" text-anchor="middle">SIRPα</text><clipPath id="c11"><rect x="279.2" y="517.2" width="54.5" height="44.1"/></clipPath><g clip-path="url(#c11)"><ellipse cx="286" cy="556" rx="14" ry="11" fill="url(#g)" opacity="1.0"/><ellipse cx="291" cy="550" rx="17" ry="11" fill="url(#g)" opacity="0.95" transform="rotate(-40.1 291 550)"/><path d="M281.5 518.2h.8m15.4-.4h.8m4.8 0h.8m1 0h.8m7.1 0h.8m-14.2 1.4h.8m.1-.3h.8m11.2-.1h.8m-23.3 .7h.8m10.6-.2h.8m13.2 0h.8m-33.2 .7h.8m21.3-.2h.8m-19.2 .8h.8m2 0h.8m14.7 .1h.8m.2-.2h.8m-.7 0h.8m-.3 .1h.8m-13.2 .6h.8m9.1-.1h.8m1.5-.2h.8m4.5 .3h.8m-19.6 .5h.8m2.7-.2h.8m-.1 .2h.8m-.7-.2h.8m-.2 .2h.8m-.2-.1h.8m4.6 .1h.8m10.5-.2h.8m-25.3 .4h.8m10 .2h.8m-.2-.1h.8m-.6-.1h.8m3.1-.1h.8m.8 .3h.8m.7-.3h.8m-14.1 .9h.8m-.7-.2h.8m1-.2h.8m-.8 .2h.8m-.5 .1h.8m10.3 .1h.8m3.4-.2h.8m-.3-.2h.8m4.8 .2h.8m-35.8 .6h.8m2.2 0h.8m.8 .1h.8m8.4-.3h.8m2.7-.1h.8m.7 .3h.8m1.1 0h.8m5.1-.2h.8m-.3 0h.8m-.7 .2h.8m10.2-.2h.8m-31.7 .7h.8m.3-.2h.8m0-.1h.8m3.3 .4h.8m-.3-.4h.8m.8 .4h.8m.4-.2h.8m1 .1h.8m-.6 .1h.8m-.6 0h.8m2.5-.3h.8m3 .3h.8m-.3-.3h.8m-27 .7h.8m7.7 .1h.8m2.2 0h.8m.3-.2h.8m2.2 .2h.8m2.2-.4h.8m1 .2h.8m-.8 .2h.8m3 0h.8m5-.3h.8m-.3-.1h.8m-31.5 .6h.8m-.3-.1h.8m3.1 .3h.8m6.7-.3h.8m1.6 .4h.8m-.1-.2h.8m.5 .2h.8m-.7-.4h.8m-.7 .1h.8m.7 .1h.8m11.5 .2h.8m-.1 0h.8m4.6-.4h.8m-31.2 .9h.8m8.1-.2h.8m-.1 0h.8m1.2 .2h.8m.8-.1h.8m.1-.3h.8m.9 .1h.8m-.2 .1h.8m.9 0h.8m1.7-.2h.8m-24.5 .9h.8m6.4-.4h.8m-.2 .2h.8m1.2 .1h.8m0-.3h.8m3.7 .3h.8m0 0h.8m-.8-.3h.8m-.2 0h.8m1.9 .2h.8m1 .1h.8m1.8-.2h.8m-29.4 .7h.8m4.2 0h.8m1.3 0h.8m0-.2h.8m3.1 .2h.8m2.3-.3h.8m.1 0h.8m.5 0h.8m.5 0h.8m.2 .2h.8m2.6 .2h.8m.4 0h.8m-.1-.1h.8m-.7-.1h.8m2 .1h.8m.3-.1h.8m1.8 .2h.8m-25.1 .5h.8m4.1-.1h.8m1.9-.3h.8m1.4 0h.8m-.4 .3h.8m-.2-.1h.8m-.7-.2h.8m0 .1h.8m.2 .2h.8m.4-.3h.8m-.6 .4h.8m2-.1h.8m-.2 0h.8m-.2 0h.8m2.3 0h.8m.9-.2h.8m-.4 .1h.8m.8 .1h.8m-.4-.1h.8m5.1 .1h.8m-35.6 .5h.8m-.5-.1h.8m7.1-.2h.8m3.8 0h.8m1 .2h.8m.1-.2h.8m1.5 .2h.8m4.9-.1h.8m.4 .3h.8m1.1-.1h.8m2.2-.2h.8m.6 .2h.8m-30.5 .4h.8m2.6-.2h.8m-.1 .2h.8m1 .1h.8m1.1 0h.8m-.2-.1h.8m-.5 .1h.8m.6-.2h.8m-.4 .2h.8m-.1 .1h.8m-.3-.1h.8m-.8-.2h.8m1.2 .3h.8m-.2-.4h.8m1.3 .2h.8m-.3-.1h.8m-.5 .3h.8m-.7-.4h.8m1.9 .4h.8m-.1-.3h.8m-.2 0h.8m-.5 .2h.8m-.3-.1h.8m2.3 0h.8m.1 .2h.8m1.3-.2h.8m-27.7 .6h.8m.6 0h.8m1.7 .1h.8m.7-.1h.8m1.6-.2h.8m-.7 .3h.8m.4-.2h.8m.1-.2h.8m.7 .2h.8m-.3-.1h.8m-.5 .3h.8m.5-.1h.8m1-.1h.8m-.6-.2h.8m3.1 0h.8m.6 .2h.8m.4-.2h.8m.9 .1h.8m.9 .1h.8m3.3 0h.8m-26.5 .3h.8m.5 0h.8m-.2 .1h.8m-.6 0h.8m.6 .2h.8m1.3-.3h.8m-.3 .1h.8m1 .1h.8m-.6-.2h.8m.1 0h.8m-.3 .2h.8m-.2-.1h.8m-.8 .2h.8m0-.3h.8m0 0h.8m-.5 .4h.8m-.7-.3h.8m.5 0h.8m0 .1h.8m.5 .2h.8m1.8-.2h.8m-27.3 .5h.8m.2 .1h.8m4.2-.1h.8m.5-.1h.8m3.2 .2h.8m.4-.2h.8m-.3 .3h.8m-.2 0h.8m.1 0h.8m1.5 0h.8m-.3-.2h.8m-.4 .2h.8m.2-.4h.8m-.8 .4h.8m.1-.3h.8m.7 .1h.8m-.4 0h.8m-.5-.1h.8m2.2 .2h.8m1.2-.3h.8m3.1 .1h.8m2.3 .3h.8m-33.3 .3h.8m2.6 .2h.8m1.3-.3h.8m.5 .3h.8m2.8-.2h.8m-.6 0h.8m-.2 .1h.8m2.9 0h.8m-.2-.3h.8m0 .3h.8m-.5 .1h.8m0-.2h.8m3.1 .1h.8m.7 0h.8m1.2 .1h.8m0-.2h.8m-.3-.1h.8m7.9 0h.8m-32.8 .6h.8m0 .2h.8m.5-.1h.8m1.5-.1h.8m-.3-.2h.8m1.6 .2h.8m-.2 .1h.8m1 .1h.8m.5-.3h.8m-.7 0h.8m-.2-.1h.8m.8 0h.8m2.3 0h.8m-.8 .2h.8m-.3-.2h.8m-.8 .1h.8m-.7-.1h.8m.4 .2h.8m2.3 .1h.8m-.7 0h.8m-.5-.2h.8m.2-.1h.8m1.2 .3h.8m3.7-.3h.8m-34.3 .6h.8m-.5-.1h.8m4.5 .2h.8m-.5 .2h.8m1.3-.4h.8m2 .3h.8m-.6-.2h.8m-.4 .3h.8m-.6-.4h.8m-.3 .3h.8m0 .1h.8m3.5-.4h.8m-.5 .1h.8m1.3 .1h.8m-.5-.2h.8m-.5 0h.8m-.4 .1h.8m0 .1h.8m-.7 0h.8m0-.2h.8m0 .4h.8m.1-.3h.8m-.3 .3h.8m1.1-.4h.8m.6 .2h.8m.7 .1h.8m1.8 0h.8m-32.7 .3h.8m.5-.1h.8m.6 .3h.8m-.1-.1h.8m.7 .2h.8m.7 0h.8m.2-.4h.8m-.6 .4h.8m-.3 0h.8m-.8-.1h.8m-.5 .1h.8m.8-.3h.8m-.2 .1h.8m-.7 .2h.8m.2-.2h.8m.7-.2h.8m-.6 .3h.8m-.5 .1h.8m1.2-.1h.8m-.3 0h.8m.4 0h.8m-.3-.3h.8m-.2 .1h.8m-.7 .1h.8m0 .1h.8m-.2 .1h.8m-.3-.3h.8m.4-.1h.8m-.7 .4h.8m-.7 0h.8m-.5-.1h.8m-.3-.2h.8m-.2 0h.8m3.4 .3h.8m1.7-.2h.8m-30 .6h.8m0 0h.8m2-.2h.8m.7 .3h.8m1.6 0h.8m-.1-.2h.8m1.1-.2h.8m.9 .3h.8m1-.1h.8m-.4-.1h.8m-.4 .2h.8m.7 0h.8m-.3-.3h.8m-.7 .1h.8m.7 .3h.8m1-.2h.8m-.7-.1h.8m-.7 .2h.8m-.3-.2h.8m.9 .3h.8m-.8-.4h.8m-.8 .3h.8m.9-.3h.8m-.1 .4h.8m.1-.1h.8m.3-.2h.8m.6 0h.8m.3 .3h.8m1.9-.4h.8m-30.6 .7h.8m.8-.1h.8m-.6 .3h.8m2.1-.3h.8m-.2 .1h.8m1.5 .2h.8m-.1-.1h.8m1.4-.3h.8m1 .2h.8m-.6 .2h.8m-.8-.2h.8m-.5-.1h.8m-.8 .2h.8m-.4 .1h.8m-.3-.4h.8m-.5 0h.8m-.6 .3h.8m.5 .1h.8m-.7-.3h.8m.1 .1h.8m-.3 0h.8m.8-.2h.8m-.6 .1h.8m-.7 .1h.8m-.3 .1h.8m-.2-.3h.8m-.7 .3h.8m.2 .1h.8m-.4-.4h.8m1 0h.8m4.5 .1h.8m3.6-.1h.8m-32.7 .8h.8m-.4 0h.8m.5-.3h.8m.1 .2h.8m.2-.1h.8m2.5-.1h.8m-.7 .1h.8m-.5 .1h.8m.2-.2h.8m-.5 .1h.8m-.5 .1h.8m.4 .1h.8m-.7-.2h.8m.3 .1h.8m2 .1h.8m-.2-.2h.8m-.6 .3h.8m.2-.3h.8m-.3 .2h.8m-.3-.1h.8m-.4 .2h.8m.1-.2h.8m-.1-.2h.8m-.6 .2h.8m-.8 .2h.8m0 0h.8m2-.3h.8m-.3 .1h.8m1.2-.2h.8m-24.1 .8h.8m.9-.2h.8m2.3 .2h.8m-.4 .1h.8m-.1-.3h.8m-.2-.1h.8m-.7 .3h.8m.1-.3h.8m-.8 .1h.8m-.4 .3h.8m.3-.1h.8m-.3-.3h.8m-.2 .3h.8m.6 .1h.8m.2-.1h.8m-.4-.2h.8m-.7-.1h.8m.3 .2h.8m-.1-.1h.8m-.2 .1h.8m2.2 .2h.8m1.5-.1h.8m2.4-.2h.8m1.9 0h.8m-32.3 .6h.8m.3-.2h.8m1.3 .2h.8m-.1-.1h.8m.1 .1h.8m.3 .2h.8m-.6-.1h.8m.2-.1h.8m1.8 .2h.8m-.8 0h.8m2-.3h.8m0 .1h.8m.1-.2h.8m-.7 .2h.8m-.4 0h.8m0 .2h.8m-.6-.2h.8m-.7-.2h.8m-.7 .4h.8m-.7-.3h.8m.7-.1h.8m.2 .2h.8m-.6 0h.8m-.2 .1h.8m.3 0h.8m-.3 .1h.8m-.7-.3h.8m-.7 .2h.8m-.2-.1h.8m-.7-.2h.8m.3 .3h.8m-.4-.1h.8m2.7 .1h.8m-.1-.3h.8m3.1 .1h.8m-26.9 .5h.8m1.4 .2h.8m1.6-.3h.8m-.4 .1h.8m.4 .1h.8m-.6 .1h.8m.5-.1h.8m-.8-.1h.8m-.1 0h.8m.7-.1h.8m-.4 .2h.8m-.6-.2h.8m-.7 .1h.8m-.8 .3h.8m-.2-.3h.8m-.5 0h.8m.3 0h.8m.3 .2h.8m-.7-.1h.8m-.2-.1h.8m.7 .1h.8m-.5 0h.8m-.5 0h.8m-.7-.2h.8m-.3 .1h.8m-.3 0h.8m-.8 .1h.8m-.1 .1h.8m-.5 0h.8m1.7 0h.8m-.6-.2h.8m-23.7 .8h.8m.4-.4h.8m-.7 0h.8m-.3 .1h.8m-.7 0h.8m.2-.1h.8m-.7 .3h.8m1.1-.2h.8m-.8 .3h.8m.5-.3h.8m.8 0h.8m-.8 .2h.8m-.3-.2h.8m-.6 .2h.8m0-.3h.8m-.1 .2h.8m-.8 0h.8m-.4 .2h.8m-.2-.3h.8m-.7 .1h.8m-.4-.2h.8m-.6 .3h.8m.2-.2h.8m-.5 .2h.8m-.7-.2h.8m-.6 .2h.8m-.2-.1h.8m-.5 .1h.8m-.6-.2h.8m-.6 .2h.8m-.5-.2h.8m-.7 0h.8m-.4-.1h.8m.4 .4h.8m.9-.4h.8m.4 .1h.8m-.8-.1h.8m2 .2h.8m.3-.2h.8m.6 .2h.8m.7 0h.8m4.6-.2h.8m-32.8 .9h.8m.3-.4h.8m1.8 .3h.8m-.8-.1h.8m.5-.1h.8m.8 .3h.8m0-.3h.8m.6 .1h.8m-.1-.1h.8m.5 .3h.8m-.2-.1h.8m-.7-.2h.8m-.8 .3h.8m-.2-.4h.8m-.8 .2h.8m-.3 0h.8m-.5 .2h.8m-.6-.1h.8m-.7 .1h.8m0-.3h.8m-.4-.1h.8m-.2 0h.8m-.5 .2h.8m-.7-.1h.8m-.5 .2h.8m1.6-.3h.8m-.8 .4h.8m-.5 0h.8m-.1-.1h.8m-.6 0h.8m1.1-.3h.8m.4 0h.8m2.4 .4h.8m-32.6 .4h.8m1.6 .1h.8m.2-.1h.8m.1-.3h.8m-.6 .1h.8m-.7 0h.8m1.2 0h.8m-.4 .1h.8m-.4 .2h.8m-.6-.2h.8m-.2 0h.8m0 0h.8m-.6-.1h.8m0 .1h.8m1 .1h.8m-.7-.3h.8m-.7 .3h.8m-.2 0h.8m-.6 0h.8m-.3 .1h.8m.1-.4h.8m-.2 .4h.8m.5-.1h.8m-.7-.1h.8m-.4-.2h.8m-.6 .4h.8m-.3-.1h.8m-.7-.2h.8m-.2 0h.8m-.4 .3h.8m-.5-.3h.8m-.2 0h.8m.4 .2h.8m.7-.1h.8m-.2-.2h.8m-.6 .4h.8m.4-.1h.8m-.5 .1h.8m-.6-.2h.8m3.1 0h.8m0 0h.8m-.6-.1h.8m.6 .3h.8m4.8-.1h.8m5.6 0h.8m-42.2 .3h.8m-.7 0h.8m-.5 .3h.8m-.4 0h.8m1-.3h.8m.2 .3h.8m-.3 0h.8m-.6-.1h.8m-.2-.3h.8m.6 .2h.8m.6-.1h.8m.2 .3h.8m-.7-.1h.8m-.7-.2h.8m-.4 .3h.8m-.7 0h.8m-.5-.2h.8m.4 .2h.8m-.6 0h.8m-.5-.3h.8m-.1 .1h.8m.4 .1h.8m-.5 .1h.8m.3 0h.8m-.3 0h.8m-.8-.2h.8m-.6 0h.8m.4 .1h.8m-.2-.3h.8m-.6 .2h.8m.1-.2h.8m.1 .1h.8m-.6 .1h.8m-.5 0h.8m-.7 .1h.8m-.5-.3h.8m-.8 .2h.8m-.4-.1h.8m-.6 .3h.8m-.2-.4h.8m-.7 .3h.8m-.1-.1h.8m.8 .1h.8m.4-.1h.8m1.4-.2h.8m0 0h.8m-.2 .3h.8m.7 .1h.8m-.6-.4h.8m6.8 0h.8m-39.1 .6h.8m-.2 .2h.8m.9-.1h.8m.2-.2h.8m.7 .4h.8m0 0h.8m-.1-.1h.8m-.5-.2h.8m-.2 0h.8m.3 .1h.8m-.2 .2h.8m-.8-.4h.8m-.6 0h.8m-.6 .4h.8m.4-.2h.8m0 .1h.8m.5 .1h.8m-.7-.1h.8m-.3 .1h.8m-.7 0h.8m-.6-.3h.8m-.8 .3h.8m.9 0h.8m-.2-.2h.8m-.7 .1h.8m-.1 .1h.8m.9-.3h.8m-.7 .2h.8m-.1-.3h.8m-.1 .1h.8m-.2 .3h.8m0-.3h.8m-.7 0h.8m-.2 .2h.8m-.4 0h.8m-.3 0h.8m0 0h.8m-.1 0h.8m-.4 .1h.8m-.6-.1h.8m-.7-.1h.8m0 .2h.8m-.3-.1h.8m2.6-.2h.8m3-.1h.8m8.5 .2h.8m-43.9 .6h.8m-.8-.1h.8m1.4-.2h.8m1 .2h.8m.6 .2h.8m.4-.4h.8m.4 .4h.8m.3-.1h.8m-.7 .1h.8m-.1-.1h.8m0 0h.8m.5 .1h.8m.5-.2h.8m-.5 .1h.8m-.1 .1h.8m-.5-.4h.8m-.7 .4h.8m-.2-.1h.8m-.3 .1h.8m0-.2h.8m-.6 .2h.8m-.6 0h.8m-.1-.4h.8m-.5 0h.8m-.5 .3h.8m-.5 .1h.8m-.6-.1h.8m.9-.2h.8m-.6 .3h.8m-.8-.4h.8m-.7 .2h.8m.4-.2h.8m-.7 0h.8m-.2 .2h.8m.1 .2h.8m-.8 0h.8m-.1-.3h.8m.3 0h.8m6.2-.1h.8m-33.9 .8h.8m-.3-.2h.8m-.6 .3h.8m.5-.4h.8m.5 .1h.8m-.4 0h.8m-.5 .2h.8m1.5 .1h.8m.7-.3h.8m-.6-.1h.8m-.6 0h.8m-.8 0h.8m-.1 .2h.8m-.6-.2h.8m.2 .2h.8m-.7-.1h.8m.4 .2h.8m.1-.3h.8m-.4 .4h.8m-.6-.2h.8m-.5 .2h.8m-.7-.4h.8m1.9 .3h.8m-.1-.2h.8m-.3 .2h.8m.9 0h.8m-.4 0h.8m.3-.1h.8m-.8 .2h.8m.1 0h.8m-.4 0h.8m-.5-.4h.8m0 0h.8m-.6 .3h.8m-.6 0h.8m.7 0h.8m.5 0h.8m.1-.2h.8m-.5 .2h.8m-.7-.1h.8m-.5 .1h.8m.8-.1h.8m-.5-.2h.8m.3 .3h.8m-.2-.1h.8m1.2-.1h.8m-31.4 .4h.8m1.6 .1h.8m-.1 .2h.8m.4-.3h.8m-.4 0h.8m-.6 .2h.8m-.5 .1h.8m-.1 .1h.8m2.5 0h.8m-.8-.3h.8m-.6 .3h.8m-.7-.2h.8m-.6 0h.8m-.3 0h.8m.3 .2h.8m-.7-.3h.8m.3 .2h.8m-.6-.1h.8m-.7-.1h.8m-.7-.1h.8m.9 .3h.8m-.2-.1h.8m-.1 .2h.8m.9 0h.8m-.8-.2h.8m-.5 .2h.8m-.7-.4h.8m.1 .3h.8m-.6 0h.8m-.6-.2h.8m-.7 .1h.8m-.6 .2h.8m-.7-.1h.8m-.8 0h.8m-.7 0h.8m.1 0h.8m.3-.3h.8m-.1 0h.8m-.8 .4h.8m.5-.2h.8m1.8-.1h.8m-28.5 .5h.8m1 0h.8m-.4 .2h.8m.2 .1h.8m-.4-.3h.8m.5 0h.8m.1 .2h.8m-.6 0h.8m0 .1h.8m-.4-.1h.8m.3-.2h.8m-.2 .1h.8m-.6 .1h.8m-.8-.1h.8m-.7-.1h.8m-.6 .2h.8m-.6-.2h.8m-.5 .3h.8m-.6 0h.8m-.6 0h.8m-.7-.2h.8m-.8-.1h.8m-.6 0h.8m-.4 .1h.8m.4 0h.8m-.4 .2h.8m.4-.4h.8m-.7 .4h.8m-.8 0h.8m-.7-.1h.8m-.8-.2h.8m-.6 .3h.8m-.7-.1h.8m-.8 .1h.8m0-.1h.8m-.7 0h.8m-.3-.3h.8m-.4 .4h.8m.5-.2h.8m-.7 .1h.8m-.5-.2h.8m1.1 0h.8m0 0h.8m-.4 .3h.8m-.4 0h.8m-.3-.1h.8m-.5-.3h.8m-.7 .3h.8m1.1-.3h.8m1.1 0h.8m-.6 .4h.8m.1-.3h.8m-.6 0h.8m-.2 0h.8m.3-.1h.8m-.2 .4h.8m1.3 0h.8m.9-.3h.8m2.8 0h.8m-40 .8h.8m-.6-.4h.8m2 .1h.8m1.8-.1h.8m.1 .1h.8m.1 0h.8m-.7 .3h.8m.2-.2h.8m-.7 .1h.8m-.7 .1h.8m-.3-.2h.8m-.6-.2h.8m-.1 .2h.8m-.7-.1h.8m.4 .2h.8m-.8-.3h.8m.1 .2h.8m-.7 .2h.8m-.5-.4h.8m-.4 .3h.8m.6-.2h.8m.1 .2h.8m-.7 0h.8m-.7 .1h.8m-.3-.1h.8m-.1 .1h.8m0-.3h.8m-.4 .3h.8m-.3-.1h.8m-.7-.1h.8m-.7-.2h.8m.1 .4h.8m-.7-.3h.8m-.7 .1h.8m.1-.2h.8m-.2 .3h.8m-.2-.3h.8m-.8 .1h.8m-.2 0h.8m-.7 .2h.8m-.6 0h.8m-.7-.2h.8m-.7 .3h.8m-.8-.3h.8m-.4 .1h.8m.6 .2h.8m.1 0h.8m-.3 0h.8m8.1-.4h.8m-32.6 .8h.8m.7 0h.8m.9 .1h.8m-.7-.2h.8m.9 .2h.8m-.6-.3h.8m.4-.1h.8m-.5 .2h.8m.2 0h.8m.5-.2h.8m-.6 0h.8m-.6 0h.8m0 0h.8m-.2 0h.8m-.6 .2h.8m-.5 0h.8m-.2 .2h.8m-.1-.1h.8m-.5 .1h.8m-.5-.2h.8m.1 .1h.8m-.7-.1h.8m-.5 .1h.8m-.6 0h.8m-.1-.2h.8m-.7 0h.8m-.2 0h.8m-.5 0h.8m-.6 0h.8m.7 0h.8m-.3 .2h.8m-.7 .1h.8m-.2 0h.8m-.1-.3h.8m-.6-.1h.8m-.1 0h.8m2.3 .2h.8m-.6 .2h.8m-.6-.1h.8m1.1-.2h.8m-30.2 .8h.8m2.7-.2h.8m1.4 0h.8m-.8-.1h.8m-.4 .2h.8m3.2 0h.8m.1-.1h.8m1.5-.2h.8m-.4 .3h.8m.6 .1h.8m-.5-.4h.8m.1 .2h.8m-.7-.2h.8m-.4 .3h.8m-.8-.2h.8m-.7 .1h.8m-.4 .2h.8m-.4-.3h.8m.8-.1h.8m1.4 .1h.8m-.3 .2h.8m-.6-.3h.8m-.2 .3h.8m-.5 .1h.8m-.7 0h.8m-.5 0h.8m-.8-.4h.8m-.5 .2h.8m.1 .1h.8m.6 .1h.8m-.6-.4h.8m-.5 .3h.8m1.2 .1h.8m-.7-.2h.8m-.7-.2h.8m-.4 0h.8m.1 .2h.8m2.8 0h.8m0-.1h.8m5.2 .1h.8m-41 .3h.8m.2 0h.8m.2 .2h.8m-.5 0h.8m.2 .2h.8m-.7-.4h.8m-.5 .4h.8m0-.2h.8m.7 0h.8m2.2-.1h.8m-.2-.1h.8m-.5 .1h.8m1 .3h.8m-.6-.4h.8m.1 .1h.8m-.8 0h.8m-.3 .3h.8m.5-.3h.8m-.8 .1h.8m-.7 .2h.8m-.3 0h.8m-.5-.4h.8m-.5 .3h.8m-.6-.1h.8m-.7-.2h.8m-.4 .2h.8m-.6 .2h.8m.5-.4h.8m.6 .1h.8m-.2 0h.8m-.5-.1h.8m-.8 0h.8m-.7 .3h.8m-.7-.2h.8m-.6 .2h.8m-.2-.3h.8m.4 .3h.8m.1-.1h.8m-.4-.1h.8m-.8-.1h.8m-.6 .2h.8m-.7-.2h.8m-.4 .3h.8m-.4 0h.8m.1-.2h.8m-.3 .3h.8m0-.3h.8m3.3 .1h.8m-31.1 .6h.8m-.7-.2h.8m-.5 0h.8m1.8 .3h.8m1.1-.4h.8m.9 0h.8m-.4 .4h.8m-.6 0h.8m-.8 0h.8m-.3-.3h.8m.3-.1h.8m-.4 .2h.8m-.6-.1h.8m-.5-.1h.8m-.6 .2h.8m-.5-.1h.8m-.7 .3h.8m-.7-.3h.8m-.7 0h.8m.4 .3h.8m0 0h.8m.3-.4h.8m.4 .3h.8m-.6 .1h.8m-.3-.4h.8m-.8 .1h.8m-.7 .3h.8m-.8-.2h.8m-.2 .2h.8m-.5-.2h.8m-.1 .1h.8m-.7-.1h.8m-.8 .2h.8m.7 0h.8m.3-.2h.8m-.1 0h.8m.3 .1h.8m-.3-.3h.8m2 0h.8m-.5 .1h.8m-.2-.1h.8m2.2 .3h.8m.7-.2h.8m.8 .1h.8m3.4-.1h.8m-39.3 .6h.8m-.3 .2h.8m.1-.1h.8m.8-.1h.8m2.8-.2h.8m.6 .4h.8m.2-.2h.8m-.6-.2h.8m.6 .4h.8m.2-.4h.8m.1 0h.8m-.3 .4h.8m-.2-.3h.8m-.2-.1h.8m-.5 0h.8m.5 .2h.8m.3 .1h.8m.9 0h.8m-.5 .1h.8m-.8 0h.8m-.7-.2h.8m-.7 .1h.8m.4-.2h.8m-.8 .2h.8m-.5-.3h.8m-.7 .4h.8m-.6-.3h.8m.3 .1h.8m-.8-.1h.8m-.3-.1h.8m-.5 .2h.8m-.7-.1h.8m-.1-.1h.8m-.8 0h.8m-.5 .2h.8m-.7-.1h.8m-.6 .1h.8m-.5 .1h.8m1 0h.8m-.5-.2h.8m0 0h.8m.8 .2h.8m-.4-.2h.8m2.7 .3h.8m-33.8 .3h.8m-.4 .2h.8m-.1-.2h.8m3.5 0h.8m.3-.2h.8m-.3 .1h.8m-.7 .2h.8m0 .1h.8m-.4-.3h.8m-.8 .3h.8m.5 0h.8m-.5-.4h.8m-.6 0h.8m.8 .3h.8m-.5-.3h.8m-.5 .3h.8m-.5-.3h.8m-.8 .4h.8m.3-.4h.8m-.6 .4h.8m-.1-.3h.8m-.8 .2h.8m-.8-.2h.8m-.6 .3h.8m-.6-.4h.8m-.6 0h.8m0 .2h.8m-.1 .1h.8m-.8 0h.8m-.8-.2h.8m-.5 .2h.8m-.5-.1h.8m-.1-.2h.8m-.4 .2h.8m.7-.1h.8m.5 .2h.8m-.5-.3h.8m-.7 .1h.8m.3 0h.8m.7 .1h.8m-.6 0h.8m-.7 .1h.8m-.5-.3h.8m-.4 .2h.8m-.6 0h.8m-.8 0h.8m-.5 .2h.8m0-.3h.8m-.4 0h.8m1.8 .1h.8m-.8-.2h.8m-.7 .4h.8m1.7 0h.8m-.7-.2h.8m-.4-.1h.8m-33.1 .7h.8m3 0h.8m.2 0h.8m-.7-.3h.8m-.2 .3h.8m-.3-.3h.8m.3 .4h.8m-.6-.3h.8m-.8 .3h.8m-.2-.2h.8m-.3 0h.8m-.4 .1h.8m-.3-.1h.8m.3 0h.8m-.5-.2h.8m-.8 .2h.8m.5 .1h.8m-.5-.2h.8m-.3 .3h.8m.4 0h.8m-.6-.3h.8m-.6 0h.8m.1-.1h.8m-.4 .2h.8m-.7-.2h.8m-.8 .1h.8m-.1-.1h.8m-.6 0h.8m-.6 .2h.8m-.7-.2h.8m-.3 .3h.8m-.2 .1h.8m-.7-.4h.8m-.1 .2h.8m-.6 .1h.8m-.4 0h.8m-.8-.2h.8m1.1 .3h.8m-.8 0h.8m-.5-.1h.8m-.5 0h.8m-.4-.2h.8m-.5 0h.8m-.7 .1h.8m-.7 .2h.8m.3-.2h.8m-.6-.2h.8m0 .4h.8m.6-.1h.8m-.5-.2h.8m-.4 .2h.8m-.5-.3h.8m2.9 .1h.8m-31.9 .4h.8m-.2 0h.8m.1 .2h.8m-.3-.2h.8m.3 .4h.8m-.5-.3h.8m.2 .2h.8m-.6 .1h.8m1.4-.1h.8m-.7-.3h.8m1.6 .2h.8m1 .2h.8m.2-.2h.8m-.6 0h.8m-.8 0h.8m-.6 .1h.8m-.5-.2h.8m-.6 .3h.8m-.3-.4h.8m-.5 .2h.8m-.8-.2h.8m-.6 .4h.8m-.2-.1h.8m-.1 .1h.8m-.5-.3h.8m-.4 .3h.8m-.6 0h.8m-.8-.1h.8m-.8-.3h.8m-.7 .3h.8m-.4-.1h.8m-.5 .2h.8m-.7-.4h.8m-.7 .3h.8m-.7 0h.8m-.1-.1h.8m1-.1h.8m-.7 .1h.8m-.7-.2h.8m-.3 .4h.8m-.8-.3h.8m-.7-.1h.8m-.3 .3h.8m-.6 .1h.8m-.7-.2h.8m-.3 .1h.8m-.2-.1h.8m-.8-.2h.8m-.4 .3h.8m-.6-.3h.8m-.6 .4h.8m-.8-.1h.8m-.4-.2h.8m-.8 .3h.8m.1 0h.8m2.1-.1h.8m-.4 .1h.8m2.1 0h.8m1.1-.4h.8m-30.7 .5h.8m-.6 .3h.8m-.2 .1h.8m0-.3h.8m.1 .1h.8m-.6-.1h.8m-.7 .2h.8m-.2-.3h.8m-.6 .4h.8m-.3-.4h.8m-.4 .4h.8m.3-.2h.8m-.8 0h.8m-.4 .1h.8m-.5-.3h.8m.8 0h.8m-.8 0h.8m-.7 .2h.8m0-.1h.8m-.1 .2h.8m-.5-.3h.8m-.5 .1h.8m-.7 .1h.8m-.1 .1h.8m-.7 .1h.8m-.6-.1h.8m.5-.1h.8m-.7 .1h.8m-.8 0h.8m-.8-.1h.8m.2-.2h.8m-.8 .1h.8m-.4 .2h.8m-.7-.1h.8m-.7-.1h.8m.1 0h.8m-.5-.1h.8m-.6 .2h.8m-.7-.1h.8m0-.1h.8m.6 .1h.8m3 .2h.8m.7 0h.8m-.8-.2h.8m-.2 .3h.8m-.7-.2h.8m.5 .1h.8m3.6 0h.8m-32.5 .4h.8m-.6 .1h.8m-.6 0h.8m-.4 0h.8m-.7-.1h.8m.8 .2h.8m-.4-.2h.8m-.1-.2h.8m-.4 .2h.8m.8 .2h.8m.3-.3h.8m.9 .3h.8m0-.2h.8m-.5-.2h.8m-.5 .1h.8m-.8 .3h.8m-.5-.3h.8m-.3-.1h.8m-.4 .3h.8m-.8 0h.8m-.1-.2h.8m-.7 .3h.8m-.7 0h.8m-.4-.2h.8m-.6 .2h.8m-.8 0h.8m-.3-.3h.8m-.1-.1h.8m-.6 .4h.8m-.4-.4h.8m-.8 .3h.8m-.6-.2h.8m-.7-.1h.8m-.2 .4h.8m-.7 0h.8m-.5-.1h.8m-.7-.3h.8m-.4 0h.8m-.1 .2h.8m-.3 .1h.8m-.8-.2h.8m-.5 0h.8m-.6 .3h.8m-.3-.1h.8m-.7-.3h.8m-.8 .4h.8m-.4-.1h.8m-.2 .1h.8m0-.3h.8m-.3 .2h.8m-.7-.1h.8m.2 .2h.8m-.6-.1h.8m-.3-.1h.8m.2 .2h.8m-.8 0h.8m-.5 0h.8m-.8-.3h.8m.3 .1h.8m-.5 .1h.8m.5 0h.8m3.3-.1h.8m-.2 .2h.8m4-.1h.8m4.7 .1h.8m-43.2 .1h.8m.1 0h.8m2.7 0h.8m-.7 .3h.8m-.7 .1h.8m-.6 0h.8m-.7-.1h.8m-.5-.3h.8m-.7 .3h.8m.4-.2h.8m-.6 .3h.8m-.4-.3h.8m-.7 .2h.8m-.5-.2h.8m-.7 .1h.8m-.6 .1h.8m-.4-.1h.8m-.7-.1h.8m-.7 .1h.8m-.7-.2h.8m-.2 0h.8m-.6 .4h.8m-.7-.4h.8m-.4 .1h.8m-.6 .2h.8m-.6-.2h.8m-.6 .1h.8m-.5 .2h.8m-.8-.3h.8m-.5-.1h.8m-.7 .1h.8m-.8 .3h.8m-.7-.2h.8m-.1-.2h.8m-.6 .2h.8m-.5 .2h.8m-.8 0h.8m-.7-.4h.8m-.1 0h.8m.8 .4h.8m-.6-.3h.8m-.8 .2h.8m-.7-.3h.8m-.6 .4h.8m-.6 0h.8m-.8-.2h.8m-.7-.2h.8m-.6 .3h.8m-.8-.1h.8m1-.1h.8m-.7 .3h.8m-.4-.1h.8m-.5-.2h.8m-.8 .1h.8m-.2 0h.8m-.7-.1h.8m-.8 .1h.8m-.4-.2h.8m-.7 .3h.8m-.5 0h.8m0 0h.8m-.6-.1h.8m-.6-.1h.8m-.6 .1h.8m-.3 .2h.8m-.7-.2h.8m-.4-.2h.8m-.5 0h.8m-.8 .2h.8m.6 .2h.8m.6-.4h.8m-.1 .1h.8m-.7 .2h.8m-.1-.3h.8m2.2 .3h.8m7.5-.1h.8m-37.1 .4h.8m0 0h.8m-.3 .1h.8m-.5-.2h.8m-.4 0h.8m-.5 .3h.8m-.7-.3h.8m-.4 .1h.8m-.7 .2h.8m-.6 0h.8m-.1-.1h.8m-.6 .2h.8m-.7 0h.8m-.4-.3h.8m-.7-.1h.8m-.2 0h.8m-.6 .1h.8m-.8 0h.8m-.6 .1h.8m-.5 0h.8m-.4 .1h.8m-.7 .1h.8m-.7-.3h.8m-.7-.1h.8m-.3 .3h.8m-.5-.3h.8m-.5 .1h.8m-.3-.1h.8m.1 .4h.8m-.6-.3h.8m-.4 .2h.8m-.7-.1h.8m.3-.1h.8m-.5 .2h.8m-.7-.3h.8m-.5 .1h.8m-.8 .2h.8m-.7 .1h.8m0-.1h.8m.3-.2h.8m-.7-.1h.8m-.5 0h.8m-.6 .1h.8m-.4 .3h.8m-.4-.4h.8m-.2 .3h.8m-.5 0h.8m-.6-.3h.8m-.3 .1h.8m-.7 0h.8m-.7 .2h.8m-.8 0h.8m-.7-.1h.8m-.7-.1h.8m-.5 .2h.8m-.4 .1h.8m-.2-.1h.8m-.7-.3h.8m-.5 .1h.8m-.1 0h.8m-.3 0h.8m.3 0h.8m-.6 0h.8m.4 0h.8m-.1-.1h.8m-.8 .4h.8m-.7-.1h.8m.5-.1h.8m-.4 0h.8m-.3 0h.8m-.7 .2h.8m1.1-.3h.8m-.4 .2h.8m-.6-.1h.8m-.4 .2h.8m.1-.3h.8m.5 .1h.8m.6-.1h.8m-.8 .1h.8m-33.7 .6h.8m-.2-.1h.8m-.1 .2h.8m.1-.1h.8m-.4 .1h.8m.5-.3h.8m.4-.1h.8m-.5 0h.8m-.2 .3h.8m-.4 .1h.8m-.8-.3h.8m-.8-.1h.8m.1 .2h.8m0-.2h.8m-.4 .3h.8m-.3 0h.8m-.5 0h.8m-.7-.2h.8m-.6 .2h.8m-.7-.2h.8m-.8 .1h.8m-.6-.1h.8m-.8 .2h.8m-.7 0h.8m-.8 .1h.8m-.4-.3h.8m-.7 .3h.8m-.6-.1h.8m.4 .1h.8m-.8-.4h.8m-.6 0h.8m-.7 .4h.8m-.1-.1h.8m-.7-.2h.8m-.2 0h.8m-.6 .3h.8m.4-.1h.8m-.6-.1h.8m0 .1h.8m-.6-.3h.8m-.4 .3h.8m.2 0h.8m-.8-.1h.8m-.8 0h.8m-.4 0h.8m-.6 0h.8m-.8 .2h.8m-.7-.4h.8m-.5 0h.8m-.7 .2h.8m-.6 .1h.8m-.7-.1h.8m-.8-.2h.8m-.6 .2h.8m-.3 .2h.8m-.5-.4h.8m-.7 .1h.8m-.3 0h.8m-.6 .2h.8m-.8-.1h.8m-.2 .1h.8m-.5-.1h.8m-.1-.1h.8m-.6-.1h.8m-.1 .4h.8m-.2-.2h.8m-.5 .2h.8m-.8-.3h.8m-.5-.1h.8m-.7 .2h.8m-.5 .1h.8m-.3-.3h.8m-.3 .3h.8m-.6-.1h.8m-.6 .1h.8m1.4 .1h.8m-.7-.1h.8m-.6-.3h.8m3.7 .3h.8m1.5-.3h.8m-37.4 .9h.8m-.6-.3h.8m-.7 .3h.8m1.3-.4h.8m.1 .1h.8m-.4 0h.8m-.6 .2h.8m-.3 0h.8m-.5 .1h.8m-.7-.1h.8m-.2-.1h.8m-.3 .1h.8m-.6 0h.8m-.3 .1h.8m-.7-.2h.8m-.5-.1h.8m-.7-.1h.8m-.7 .3h.8m-.3-.1h.8m-.5-.2h.8m-.8 .2h.8m-.7-.1h.8m.3 0h.8m-.5 .1h.8m-.8-.1h.8m-.7 .2h.8m1.7-.3h.8m0 .1h.8m-.1 0h.8m0-.1h.8m-.3 .1h.8m.8 .3h.8m.2-.3h.8m-.4 .3h.8m-.3-.2h.8m-.2 .1h.8m-.8 0h.8m-.3-.3h.8m-.7 .3h.8m-.3 .1h.8m-.2-.2h.8m-.2 0h.8m-.3 .1h.8m-.6 .1h.8m-.4-.3h.8m-.1 .2h.8m-.4-.2h.8m-.7 .3h.8m-.4-.4h.8m-.1 0h.8m-.2 .3h.8m.2-.3h.8m.6 .2h.8m.1 0h.8m-.2 .1h.8m1.2-.1h.8m-.3-.2h.8m-.8 .4h.8m-.7-.4h.8m2.4 .1h.8m-35.4 .5h.8m-.5 .3h.8m-.1-.2h.8m-.7-.2h.8m.5 .2h.8m.6-.2h.8m-.7 .2h.8m-.7-.2h.8m-.3 .3h.8m-.7-.1h.8m-.4 .1h.8m-.7-.1h.8m-.7-.2h.8m-.7 .1h.8m-.2-.1h.8m-.7 0h.8m-.5 .1h.8m-.3 .3h.8m0-.4h.8m0 0h.8m-.6 0h.8m-.5 .4h.8m.5-.2h.8m-.8 .2h.8m-.8-.1h.8m-.2-.3h.8m-.4 .1h.8m-.2 .3h.8m-.5-.2h.8m-.8 0h.8m-.5-.1h.8m-.5 .2h.8m-.6-.3h.8m-.2 .1h.8m-.7-.1h.8m-.6 .2h.8m-.7 .1h.8m-.6-.1h.8m-.5-.1h.8m-.7 .2h.8m-.8-.2h.8m-.6 .3h.8m-.2-.1h.8m-.6 0h.8m-.7-.1h.8m-.5-.1h.8m-.5 0h.8m-.6 .3h.8m-.8-.3h.8m.4 .1h.8m-.4 .1h.8m-.8 .1h.8m-.7-.1h.8m-.8 .1h.8m-.7-.4h.8m-.4 .4h.8m1-.2h.8m-.8 .2h.8m-.7-.4h.8m-.7 .2h.8m-.3 .1h.8m0-.2h.8m.2 0h.8m-.5 .1h.8m0-.2h.8m-.1 .1h.8m-.7 .1h.8m-.5-.2h.8m-.7 0h.8m.2 0h.8m.2 .1h.8m-.8-.1h.8m-.5 .2h.8m-.3 0h.8m-.5 .1h.8m-.1-.3h.8m.9 0h.8m0 0h.8m-.6 .1h.8m-.8 .3h.8m.4-.2h.8m-34.1 .7h.8m-.8-.3h.8m-.8 .2h.8m-.4-.3h.8m-.6 .3h.8m1.7 .1h.8m-.2-.1h.8m-.5 .1h.8m-.6-.3h.8m-.6 .1h.8m-.6 .2h.8m-.4-.3h.8m-.4 0h.8m-.2-.1h.8m-.8 .1h.8m-.4 .3h.8m-.1-.1h.8m-.8 .1h.8m-.3 0h.8m-.7 0h.8m-.1-.3h.8m.4 0h.8m-.7 .3h.8m-.5 0h.8m-.6-.2h.8m-.7 .2h.8m-.5 0h.8m-.6-.3h.8m-.7 .3h.8m-.5-.3h.8m-.6 0h.8m-.6 .3h.8m-.8-.1h.8m-.5 .1h.8m-.8-.2h.8m-.8-.2h.8m-.8 .2h.8m-.4 .1h.8m-.8-.1h.8m-.5 .1h.8m-.7-.1h.8m-.7 0h.8m-.8 .2h.8m-.8-.1h.8m-.7 .1h.8m-.7-.4h.8m-.8 .4h.8m-.6-.4h.8m-.3 .1h.8m-.2 0h.8m-.6-.1h.8m-.7 0h.8m-.3 .3h.8m-.7-.1h.8m-.7 .1h.8m-.4-.3h.8m-.7 .4h.8m-.3-.4h.8m-.7 .3h.8m-.8-.3h.8m-.7 .1h.8m0 .1h.8m-.8-.2h.8m-.6 .3h.8m-.8-.2h.8m-.4 .2h.8m-.7-.3h.8m-.5 .1h.8m-.3 .2h.8m-.6-.3h.8m0 0h.8m-.2 0h.8m-.7 .2h.8m-.7-.2h.8m-.7 .1h.8m-.8 .1h.8m.8 .2h.8m-.4-.3h.8m.5 0h.8m.7 .2h.8m-.6-.2h.8m1.1-.1h.8m-28.4 .8h.8m.1-.3h.8m-.5 .2h.8m1.1 .1h.8m-.1 .1h.8m-.7-.2h.8m-.3 .2h.8m-.7-.4h.8m-.4 0h.8m-.8 .3h.8m-.5 0h.8m1 0h.8m.1 0h.8m-.4-.2h.8m-.7 .2h.8m.2-.1h.8m-.7 0h.8m-.8 .1h.8m-.5-.3h.8m-.8 0h.8m-.6 .1h.8m-.4 .2h.8m-.6 0h.8m-.4-.1h.8m.5 0h.8m-.7 0h.8m-.1-.1h.8m-.3 0h.8m.1-.1h.8m-.8 0h.8m-.7 0h.8m-.7 .2h.8m-.8 .2h.8m-.8 0h.8m-.8-.2h.8m.3 0h.8m-.4-.1h.8m-.5 .1h.8m-.6 .1h.8m-.7-.3h.8m-.6 .3h.8m-.1 .1h.8m-.6-.2h.8m.2 0h.8m-.5 0h.8m-.4 .1h.8m-.1-.3h.8m-.7 .3h.8m-.6 0h.8m-.6 .1h.8m-.7-.1h.8m-.7-.2h.8m-.1 .3h.8m-.6-.4h.8m-.8 .3h.8m-.5-.3h.8m1.6 .1h.8m-.6-.1h.8m.5 .1h.8m.1 .2h.8m4.5 0h.8m-.1-.3h.8m-.6 .2h.8m-.3 .2h.8m-34.5 .3h.8m.5 .2h.8m-.7-.2h.8m-.5-.1h.8m-.6-.1h.8m-.1 .1h.8m.1-.1h.8m-.1 .3h.8m-.6 .1h.8m0 0h.8m-.6-.2h.8m-.6-.2h.8m-.7 .2h.8m-.8-.2h.8m.7 .1h.8m-.5 .1h.8m-.7-.2h.8m-.5 .4h.8m-.7-.4h.8m-.7 .4h.8m.4 0h.8m-.3-.1h.8m-.6 .1h.8m-.7-.2h.8m-.6 .1h.8m-.4-.1h.8m-.1 0h.8m-.4 .2h.8m-.4-.3h.8m-.6 .1h.8m-.8-.2h.8m-.8 .2h.8m-.5 0h.8m-.7 .1h.8m-.3-.2h.8m-.6 0h.8m-.7 .3h.8m-.6-.4h.8m-.6 .4h.8m-.3-.3h.8m-.6 .2h.8m-.3-.3h.8m-.6 .4h.8m-.8 0h.8m-.8-.2h.8m-.7-.1h.8m-.4-.1h.8m-.7 .3h.8m-.8 0h.8m-.3 0h.8m-.4-.3h.8m-.7 0h.8m-.8 .1h.8m-.7 .1h.8m-.2 .2h.8m-.4-.1h.8m-.7-.1h.8m-.7-.2h.8m-.6 .4h.8m-.5-.1h.8m-.6-.2h.8m-.8 0h.8m0 .3h.8m-.4-.1h.8m-.5-.1h.8m-.7-.2h.8m.1 .1h.8m.5 .3h.8m0 0h.8m1 0h.8m-.3-.1h.8m-.5-.1h.8m-.1 0h.8m.3 .1h.8m1.3-.3h.8m2.5 .2h.8m-33.9 .6h.8m-.7-.3h.8m-.1 .2h.8m0 0h.8m-.1 0h.8m1-.2h.8m-.6 0h.8m.3 .4h.8m-.5 0h.8m-.4-.2h.8m-.6 0h.8m-.5 0h.8m-.6-.1h.8m1.1 0h.8m-.6 .1h.8m-.8 .2h.8m-.5-.3h.8m-.1 .3h.8m-.3 0h.8m-.6-.4h.8m.5 .3h.8m-.8-.2h.8m-.4 0h.8m-.8 .1h.8m-.1-.2h.8m-.4 .3h.8m-.2-.3h.8m-.6 0h.8m-.5 .2h.8m-.5-.2h.8m-.6 .4h.8m-.7 0h.8m-.6-.3h.8m-.6 0h.8m-.7 0h.8m-.3 .1h.8m-.2-.1h.8m-.8 .2h.8m-.6-.1h.8m.3-.2h.8m1.3 .1h.8m-.4 .3h.8m.5-.2h.8m-.5-.2h.8m-.4 .4h.8m-.5-.4h.8m-.3 .1h.8m.3 .2h.8m-.2-.2h.8m.1-.1h.8m-.7 .2h.8m-.8 .2h.8m2-.3h.8m5.4 0h.8m7.2 .2h.8m-44.1 .4h.8m-.7-.1h.8m-.4 .2h.8m.3 0h.8m.1 .1h.8m.8-.1h.8m-.3-.1h.8m1.1 .1h.8m-.8-.1h.8m-.8-.1h.8m-.6 .1h.8m-.6-.1h.8m-.4 .2h.8m-.1 0h.8m-.7-.1h.8m-.4 .1h.8m.2 0h.8m-.1 .1h.8m-.4-.4h.8m-.6 .2h.8m-.8-.2h.8m.8 .1h.8m-.3 .2h.8m-.4 .1h.8m.1-.2h.8m-.7 .1h.8m-.6-.3h.8m-.7 .3h.8m-.4-.3h.8m-.6 .4h.8m-.4-.3h.8m-.8 .3h.8m.3 0h.8m-.6-.1h.8m-.8-.3h.8m-.7 0h.8m-.5 .4h.8m-.4-.2h.8m-.7 .2h.8m-.5-.3h.8m-.6 .2h.8m-.7 0h.8m-.4 .1h.8m0 0h.8m-.5-.4h.8m.1 .1h.8m-.3-.1h.8m-.8 0h.8m1.6 .1h.8m-.8 .2h.8m.3 0h.8m1.3-.3h.8m-27.3 .9h.8m-.7 0h.8m-.4-.4h.8m-.6 .1h.8m-.6 0h.8m-.5-.1h.8m-.2 .1h.8m-.7 .2h.8m-.2 .1h.8m-.5-.4h.8m-.7 .4h.8m-.7-.3h.8m-.7-.1h.8m-.2 .3h.8m-.8-.2h.8m-.2 0h.8m-.7 .3h.8m-.8-.1h.8m-.2-.3h.8m-.7 .1h.8m-.6 .3h.8m-.6-.3h.8m-.3 .3h.8m-.8-.1h.8m-.2-.1h.8m-.7 .1h.8m-.7-.3h.8m-.5 .2h.8m-.8 .1h.8m-.7-.1h.8m-.8 0h.8m-.7 0h.8m-.3-.1h.8m-.7-.1h.8m-.3 0h.8m-.4 .1h.8m-.6 .1h.8m-.6-.1h.8m-.1 0h.8m-.5 .3h.8m-.5-.1h.8m-.6 0h.8m-.6-.1h.8m-.5-.1h.8m-.8 .3h.8m-.8-.2h.8m-.2 .1h.8m-.4-.2h.8m-.7 .1h.8m-.8 .2h.8m-.1-.3h.8m-.6-.1h.8m-.8 .3h.8m-.7 .1h.8m-.4-.4h.8m-.6 .4h.8m-.7-.1h.8m-.7 .1h.8m-.3-.2h.8m-.8 .2h.8m-.6-.1h.8m-.6-.1h.8m.2 0h.8m-.2-.2h.8m-.5 0h.8m-.6 0h.8m-.3 .4h.8m-.8 0h.8m-.6 0h.8m-.5-.1h.8m-.1-.2h.8m-.4 .3h.8m-.7 0h.8m0-.2h.8m-.5 .1h.8m-.6 0h.8m-.1 .1h.8m.1-.1h.8m-.7-.3h.8m-.8 .2h.8m-.3-.1h.8m.1 .2h.8m-.4 .1h.8m.7-.3h.8m0-.1h.8m-.1 .1h.8m9.5 .3h.8m-38.6 .2h.8m-.1-.1h.8m-.7 .2h.8m.5 .2h.8m.6-.4h.8m-.2 .3h.8m-.5 .1h.8m-.6-.4h.8m-.7 .3h.8m-.2 .1h.8m-.2-.4h.8m-.1 .1h.8m-.6 .2h.8m-.7-.2h.8m-.3 .2h.8m-.5-.1h.8m-.5-.2h.8m-.5 .2h.8m-.3 .2h.8m-.7-.3h.8m0-.1h.8m-.5 0h.8m0 .4h.8m-.2-.1h.8m-.3 0h.8m-.6 0h.8m-.7 0h.8m-.7 .1h.8m-.6-.3h.8m-.5 0h.8m-.6 .1h.8m-.7 .1h.8m-.6 .1h.8m-.7-.4h.8m-.6 .1h.8m-.5-.1h.8m.4 .4h.8m-.8-.1h.8m-.8 .1h.8m-.4-.4h.8m-.7 0h.8m-.7 0h.8m-.4 .3h.8m-.1-.2h.8m-.4 .3h.8m-.8 0h.8m-.8 0h.8m-.1 0h.8m-.8 0h.8m-.8-.4h.8m-.2 0h.8m-.7 0h.8m0 .2h.8m-.7-.1h.8m-.5-.1h.8m-.6 .3h.8m-.4-.1h.8m.1 0h.8m.4-.1h.8m.4 0h.8m-.7 .1h.8m1.2 .2h.8m-.3-.1h.8m0-.1h.8m2.2 .1h.8m.3 .1h.8m-.5-.1h.8m-32.2 .5h.8m0-.3h.8m-.8 0h.8m-.7 .3h.8m-.8 0h.8m2 .1h.8m.2-.4h.8m-.8 .4h.8m-.4 0h.8m-.6-.4h.8m-.1 .2h.8m0 .1h.8m-.4-.3h.8m-.6 0h.8m-.3 .2h.8m-.2-.1h.8m-.6 .1h.8m-.5 0h.8m-.1 .2h.8m-.5-.4h.8m-.6 .2h.8m-.6-.2h.8m-.6 0h.8m-.8 .1h.8m-.7 .3h.8m-.5-.4h.8m-.3 0h.8m-.7 .3h.8m-.2 .1h.8m-.8 0h.8m-.7-.3h.8m-.6 .2h.8m0 .1h.8m-.4-.2h.8m.2-.1h.8m-.7 0h.8m-.8 .1h.8m-.8 0h.8m-.6-.2h.8m-.7 0h.8m-.4 .3h.8m-.7-.1h.8m.7 .2h.8m-.4-.4h.8m-.2 .2h.8m-.6-.2h.8m-.7 .2h.8m-.8 .1h.8m-.6-.3h.8m-.7 .1h.8m-.7 .3h.8m-.8-.2h.8m.1 0h.8m-.5 .2h.8m1 0h.8m-.6-.3h.8m2.1 .1h.8m-.6-.1h.8m-.7 .2h.8m2.8-.2h.8m.6 .2h.8m1-.3h.8m-.4 .4h.8m-33.3 .1h.8m-.8 .4h.8m-.5-.4h.8m-.5 0h.8m-.7 .2h.8m.4 .1h.8m-.7-.3h.8m-.4 .3h.8m-.6-.2h.8m-.5-.1h.8m-.6 .4h.8m-.7-.1h.8m-.6-.3h.8m-.2 .2h.8m-.7 .1h.8m1.2 .1h.8m-.1-.3h.8m-.4 .2h.8m-.5 .1h.8m-.7-.3h.8m-.7-.1h.8m-.8 0h.8m-.1 .3h.8m-.1-.3h.8m-.4 .2h.8m-.5-.2h.8m-.8 .2h.8m-.5 .2h.8m-.7-.1h.8m-.2 0h.8m-.7-.2h.8m-.8 0h.8m-.5 0h.8m-.6 .3h.8m-.7-.4h.8m-.4 0h.8m-.3 .1h.8m-.8 .2h.8m0-.3h.8m-.7 .2h.8m-.8-.1h.8m-.6-.1h.8m-.2 .2h.8m-.4 0h.8m-.2-.1h.8m.4-.1h.8m-.7 .3h.8m-.3-.3h.8m.2 .3h.8m-.2-.3h.8m-.3 .2h.8m-.8 0h.8m-.7-.2h.8m-.3 .1h.8m-.2-.1h.8m-.8 .1h.8m-.8 .2h.8m-.5-.3h.8m-.6 0h.8m.4 .4h.8m.1-.3h.8m-.7 .3h.8m.8 0h.8m-.7 0h.8m-.1 0h.8m2.4-.4h.8m-.3 .4h.8m9.6-.4h.8m-37.4 .6h.8m-.7 .1h.8m.7 0h.8m-.1 0h.8m-.6 0h.8m-.2-.2h.8m-.5 .4h.8m-.8-.1h.8m-.7 .1h.8m-.5-.3h.8m-.7 .1h.8m-.7-.1h.8m0 .1h.8m-.4 0h.8m-.4 .1h.8m-.8-.1h.8m-.8-.1h.8m-.1 .1h.8m-.7-.1h.8m-.6 .1h.8m-.8 0h.8m.3 .1h.8m-.8 .1h.8m-.5-.1h.8m0-.1h.8m-.7 .1h.8m-.2-.1h.8m-.7 .2h.8m-.7-.2h.8m.1 0h.8m-.5 .2h.8m-.7-.2h.8m-.7 .2h.8m-.3-.3h.8m-.8 0h.8m-.6 0h.8m-.8 .1h.8m-.7 .2h.8m-.6 0h.8m-.6-.1h.8m-.7-.1h.8m-.8-.2h.8m-.8 .4h.8m-.5-.2h.8m-.6-.1h.8m.1 .1h.8m-.8 .1h.8m-.6-.1h.8m-.4-.1h.8m-.7 .3h.8m.2-.2h.8m-.8 .2h.8m-.5-.3h.8m-.6 0h.8m-.7 .3h.8m0-.1h.8m-.7-.1h.8m-.8 0h.8m-.6 .1h.8m-.2-.2h.8m.4 .1h.8m1.7-.2h.8m-.3 0h.8m2.9 .1h.8m2.6 .1h.8m-32.7 .4h.8m.7-.1h.8m.2 .4h.8m.3-.4h.8m-.7 .2h.8m-.4-.1h.8m-.5 .3h.8m-.7-.1h.8m-.6 0h.8m-.7 0h.8m-.7-.1h.8m.1-.2h.8m-.8 .2h.8m-.1-.1h.8m-.2 .2h.8m0-.3h.8m-.8 .2h.8m-.8 .2h.8m0-.1h.8m-.7 .1h.8m.1-.1h.8m-.8-.1h.8m.1 0h.8m-.5-.1h.8m-.3 .1h.8m.9 .2h.8m-.7-.4h.8m-.5 0h.8m-.8 .3h.8m-.4-.1h.8m-.2 .2h.8m-.6-.2h.8m-.5 .1h.8m-.6-.2h.8m-.4 .3h.8m-.2-.4h.8m.5 0h.8m-.2 0h.8m-.1 .1h.8m-.8 0h.8m-.5 0h.8m.7 .1h.8m0-.2h.8m-.2 .1h.8m-.2 .3h.8m.7-.3h.8m-.3 .2h.8m.7-.1h.8m-.4 .1h.8m.6-.1h.8m5.1-.1h.8m-.1-.1h.8m0 .2h.8m-36.1 .6h.8m-.4 0h.8m-.3 .1h.8m.1-.3h.8m1.4 .1h.8m-.6-.1h.8m.7 .3h.8m-.1-.1h.8m-.6-.3h.8m-.8 0h.8m-.2 .1h.8m-.8 0h.8m.6 .2h.8m-.8 0h.8m-.6 0h.8m-.6 0h.8m-.5 .1h.8m.3-.1h.8m-.4 0h.8m.2 .1h.8m-.6-.2h.8m-.2 .1h.8m-.7 0h.8m.5 .1h.8m-.7-.4h.8m0 .3h.8m-.4-.2h.8m-.6 .2h.8m-.6 .1h.8m-.6-.4h.8m-.6 .2h.8m-.8-.1h.8m-.5 0h.8m-.2 .1h.8m-.3 .1h.8m-.7-.3h.8m-.5 .4h.8m-.6-.4h.8m-.3 0h.8m-.5 .4h.8m-.6-.2h.8m-.4 .1h.8m-.4 .1h.8m0-.3h.8m1-.1h.8m.1 .2h.8m.7 .2h.8m.8-.3h.8m2.3 .3h.8m.3-.3h.8m-31.5 .7h.8m-.5-.1h.8m-.7 .1h.8m-.4-.1h.8m-.6 .1h.8m-.7 .1h.8m-.6-.2h.8m-.6 .2h.8m.5-.3h.8m-.2 .1h.8m-.6 0h.8m-.6-.1h.8m-.8 0h.8m.2 .1h.8m-.8-.2h.8m-.7 0h.8m-.4 .4h.8m-.8-.3h.8m-.6 .1h.8m-.8 .2h.8m-.1-.4h.8m-.8 .4h.8m0-.1h.8m-.6 0h.8m-.5-.3h.8m.1 .1h.8m-.7 .2h.8m-.7 .1h.8m-.5-.1h.8m-.8-.3h.8m-.7 0h.8m-.5 .4h.8m-.6-.2h.8m-.7 .1h.8m.1 0h.8m-.6 0h.8m-.7-.1h.8m-.6-.1h.8m-.6 0h.8m-.6 .2h.8m-.8 .1h.8m-.6 0h.8m-.8 0h.8m-.7-.3h.8m-.8-.1h.8m0 .2h.8m-.8 .1h.8m-.8-.3h.8m-.2 .1h.8m-.5 .2h.8m0-.3h.8m.5 .2h.8m-.7-.1h.8m-.6 .1h.8m-.8 .2h.8m.1-.3h.8m-.8 .3h.8m.3-.2h.8m-.7-.1h.8m.1-.1h.8m-.6 .4h.8m-.1 0h.8m.1-.2h.8m-.4-.1h.8m.9 0h.8m-.4 .3h.8m-.2-.1h.8m1.6 .1h.8m.4-.3h.8m.9 .1h.8m5.2 0h.8m-35.8 .7h.8m-.3-.1h.8m-.6-.2h.8m.6 .1h.8m-.3-.1h.8m-.3 .1h.8m-.5 .2h.8m.8-.4h.8m-.7 .3h.8m-.6-.3h.8m-.5 .3h.8m-.8 0h.8m-.7-.1h.8m-.1-.1h.8m.4 .2h.8m-.7 0h.8m-.5 0h.8m-.6 .1h.8m-.7 0h.8m-.5-.1h.8m-.3 .1h.8m-.4-.1h.8m-.7 0h.8m-.7-.2h.8m-.5-.1h.8m-.6 .1h.8m-.8 .3h.8m-.6-.2h.8m-.5-.1h.8m-.3 .1h.8m-.2 .2h.8m-.6-.1h.8m.6 .1h.8m-.5-.2h.8m.2 0h.8m-.7-.2h.8m-.7 0h.8m-.8 0h.8m-.5 .1h.8m-.6 .1h.8m-.6-.2h.8m.2 .2h.8m-.6 .1h.8m-.6 0h.8m0-.3h.8m-.8 .3h.8m-.5-.2h.8m-.2 .2h.8m-.2-.2h.8m-.2 .3h.8m-.7-.4h.8m-.1 0h.8m.5 .4h.8m.5-.2h.8m4.7 .2h.8m-29.6 .1h.8m-.4 .3h.8m1.3-.3h.8m-.2 .4h.8m-.7-.4h.8m-.6 .1h.8m-.6-.1h.8m-.2 .2h.8m.6 .1h.8m-.8 0h.8m-.7-.3h.8m-.1 .2h.8m-.7-.1h.8m-.8-.1h.8m-.6 .4h.8m-.2-.3h.8m-.4 .2h.8m-.7-.1h.8m0-.1h.8m-.4 .1h.8m-.8 0h.8m-.7-.1h.8m-.7 .1h.8m-.1 .2h.8m-.2-.4h.8m-.5 .2h.8m-.6-.2h.8m-.6 .2h.8m-.8 .2h.8m-.4-.3h.8m-.3 .3h.8m.7-.4h.8m-.6 .1h.8m-.5 .2h.8m-.3 0h.8m-.3-.1h.8m-.3 .1h.8m-.3 0h.8m0-.3h.8m-.8 .2h.8m-.6 .1h.8m.2-.2h.8m.5 .1h.8m1.9-.2h.8m2 0h.8m.4 0h.8m1.3 .4h.8m.6 0h.8m.8-.2h.8m-32 .7h.8m.9-.4h.8m-.8 0h.8m-.6 .2h.8m3.2 0h.8m-.1 0h.8m-.3-.1h.8m-.6 .2h.8m-.1 0h.8m-.7 .1h.8m-.7-.2h.8m-.5-.1h.8m-.1 .3h.8m-.1-.4h.8m-.8 .1h.8m1.9-.1h.8m-.8 .3h.8m-.8-.3h.8m-.7 0h.8m-.2 0h.8m.1 .3h.8m.3-.3h.8m-.3 .3h.8m-.5 0h.8m-.4-.3h.8m-.3 .1h.8m-.8 .2h.8m0-.3h.8m-.3 .2h.8m-.2 0h.8m-.4 .2h.8m-.5 0h.8m-.3-.4h.8m-.8 0h.8m-.7 .2h.8m-.7-.1h.8m2 .3h.8m.1-.4h.8m-24.5 .8h.8m-.3-.3h.8m.1 .4h.8m-.1-.3h.8m-.5 .3h.8m-.5 0h.8m-.7-.4h.8m-.7 .3h.8m-.8-.2h.8m-.2 .3h.8m-.4 0h.8m-.7-.3h.8m-.7 0h.8m-.4-.1h.8m-.6 .3h.8m-.8 .1h.8m-.6-.1h.8m-.8 .1h.8m-.2-.4h.8m-.6 0h.8m-.7 .3h.8m-.7-.2h.8m-.6 .1h.8m-.7 0h.8m-.8-.2h.8m-.7 .2h.8m0-.1h.8m-.5 .2h.8m-.4 0h.8m-.5-.2h.8m-.8-.1h.8m-.6 .3h.8m-.4 0h.8m-.8 0h.8m-.8-.3h.8m-.7 .3h.8m-.7-.3h.8m-.7 .1h.8m-.7 0h.8m.1-.1h.8m-.6 .1h.8m-.7 .1h.8m-.7-.1h.8m-.8 0h.8m-.6-.1h.8m-.5 .1h.8m-.3 .3h.8m-.7-.2h.8m-.8 .2h.8m-.5-.1h.8m-.2-.3h.8m-.7 .2h.8m-.6 .1h.8m-.7 .1h.8m-.5-.1h.8m-.8-.1h.8m-.7 0h.8m-.1-.1h.8m-.5 .2h.8m1.3-.3h.8m-.7 .4h.8m-.7-.4h.8m-.6 .2h.8m-.2 .2h.8m-.4-.1h.8m.8-.3h.8m-.2 .1h.8m-.4 0h.8m-.7 .3h.8m-.2-.3h.8m2.5 0h.8m1.7 .2h.8m-27.1 .5h.8m.7 0h.8m.1 0h.8m-.3 0h.8m-.4 .1h.8m-.7-.2h.8m.4-.2h.8m-.5 0h.8m-.5 .2h.8m-.7-.2h.8m0 .2h.8m-.7-.1h.8m-.1-.1h.8m-.7 .1h.8m-.5 .2h.8m-.6-.1h.8m-.5-.1h.8m-.4 .1h.8m-.7 0h.8m.8 .2h.8m.3-.3h.8m-.4 .3h.8m-.5-.4h.8m-.8 .3h.8m0 0h.8m-.2-.2h.8m-.7-.1h.8m-.6 .4h.8m-.6 0h.8m-.4-.1h.8m-.2 0h.8m-.1-.1h.8m.4 0h.8m1.5 0h.8m.4-.2h.8m-.7 0h.8m2.4 .3h.8m1.5-.2h.8m-27.2 .4h.8m-.7 .2h.8m-.1-.2h.8m1.1 .4h.8m0-.3h.8m.2 .3h.8m-.6-.4h.8m-.4 .4h.8m-.3-.2h.8m-.4-.2h.8m.3 .4h.8m-.4 0h.8m-.6 0h.8m-.6 0h.8m-.6-.4h.8m-.7 .2h.8m-.6 0h.8m.3 .2h.8m-.5-.3h.8m.1 .2h.8m-.3 0h.8m-.8-.3h.8m-.7 .3h.8m-.7-.3h.8m-.2 .3h.8m-.8 .1h.8m0-.2h.8m-.6-.2h.8m-.8 .4h.8m0-.4h.8m-.3 .3h.8m.6-.3h.8m-.6 0h.8m-.5 0h.8m-.2 .2h.8m-.7 0h.8m.2 .1h.8m1.2 0h.8m-.7-.2h.8m1.7 .3h.8m.8-.1h.8m.6-.1h.8m-26.3 .3h.8m1.2 0h.8m-.6 .1h.8m-.2-.1h.8m-.3 0h.8m-.6 .3h.8m-.8-.1h.8m-.3 .1h.8m-.7-.2h.8m-.3 .3h.8m-.7-.2h.8m-.5 .1h.8m-.3-.1h.8m.3 0h.8m-.4-.1h.8m-.7 .3h.8m0 0h.8m-.1-.3h.8m-.3-.1h.8m-.5 .2h.8m-.6-.1h.8m-.7 .3h.8m-.2 0h.8m-.3 0h.8m-.5 0h.8m-.5-.4h.8m-.4 .3h.8m.1-.1h.8m-.5-.1h.8m-.5 .2h.8m-.8 0h.8m1.3 0h.8m-.8 .1h.8m-.5-.3h.8m-.4-.1h.8m-.4 0h.8m.5 .1h.8m-.5 0h.8m-.6 0h.8m.5 .2h.8m-.5 0h.8m.5-.3h.8m-.5 0h.8m0 .4h.8m-.4-.2h.8m.7-.2h.8m2.9 .4h.8m.2-.2h.8m-29.7 .3h.8m0 .3h.8m.5-.3h.8m-.2 .1h.8m-.5 0h.8m0-.1h.8m-.1 .2h.8m-.4 0h.8m1-.2h.8m-.7 .1h.8m-.3 .3h.8m.6-.3h.8m.4 0h.8m-.1 .1h.8m-.6-.1h.8m-.8 .1h.8m.6 .2h.8m-.6-.4h.8m-.8 0h.8m-.7 .3h.8m-.3 0h.8m-.7 .1h.8m-.8-.1h.8m-.1-.2h.8m.4 .2h.8m-.1 0h.8m-.6-.1h.8m-.5-.1h.8m.7-.1h.8m-.7 .4h.8m-.5 0h.8m-.3 0h.8m.7 0h.8m-.1-.2h.8m-.6 .2h.8m0-.2h.8m-.7 0h.8m-.6 .2h.8m4.7-.4h.8m-.8 .1h.8m-28.2 .4h.8m1 .1h.8m-.8-.1h.8m-.6 .3h.8m.3 0h.8m.7 .1h.8m-.8-.1h.8m-.5 .1h.8m-.4-.3h.8m-.3 0h.8m-.4 .3h.8m0-.3h.8m-.7 .3h.8m-.2-.4h.8m-.1 .4h.8m.4 0h.8m-.2-.1h.8m0-.2h.8m-.8 0h.8m-.7-.1h.8m-.4 .3h.8m-.5-.1h.8m.9 .1h.8m-.7 .1h.8m0-.4h.8m-.6 0h.8m-.4 .4h.8m-.3 0h.8m0-.1h.8m.4-.3h.8m-.8 .2h.8m-.6-.2h.8m.8 .4h.8m.1-.4h.8m1.6 .3h.8m-.7 0h.8m4.9 0h.8m3.5-.3h.8m-33.7 .8h.8m-.6-.2h.8m-.2 0h.8m-.5 .3h.8m.3-.4h.8m-.4 .4h.8m2.1-.1h.8m-.4 .1h.8m-.3-.3h.8m-.2 .1h.8m-.2-.2h.8m-.8 0h.8m0 0h.8m-.3 .3h.8m0 .1h.8m-.5-.1h.8m.5 .1h.8m.1-.4h.8m-.7 .3h.8m-.7-.2h.8m0 .1h.8m.2 .1h.8m-.6 .1h.8m2.2-.2h.8m.9-.1h.8m-.5-.1h.8m-.4 .3h.8m-.1-.2h.8m.9 .3h.8m.1 0h.8m-.3-.2h.8m-23.7 .7h.8m1.2-.4h.8m-.6 .4h.8m-.7-.2h.8m-.7 .2h.8m-.7-.2h.8m0 .2h.8m.2 0h.8m-.4-.2h.8m-.6-.2h.8m1.1 0h.8m.8 .4h.8m-.5-.3h.8m-.6 .3h.8m-.6-.3h.8m-.5 .2h.8m-.8-.2h.8m-.6 .3h.8m0-.1h.8m-.1-.2h.8m-.4 0h.8m-.2 .1h.8m-.7 .2h.8m1.8-.4h.8m-.6 .2h.8m-.8 .1h.8m.8 0h.8m-.3-.1h.8m-.6 0h.8m0-.1h.8m.2 0h.8m.7 0h.8m1.3 .3h.8m1.8 0h.8m1.6 0h.8m-26.8 .3h.8m-.7-.2h.8m-.8 .4h.8m-.8-.4h.8m-.3 .3h.8m0 0h.8m-.5-.1h.8m1.7-.1h.8m0 .3h.8m1.2-.3h.8m-.5 .1h.8m-.7-.2h.8m-.8 .3h.8m-.4-.2h.8m.2 .3h.8m.3-.1h.8m.3-.1h.8m-.2 .2h.8m-.6-.3h.8m-.7 .2h.8m-.5 0h.8m-.5-.3h.8m-.6 .1h.8m.7 .2h.8m6.2-.2h.8m2.1 0h.8m7.2 .1h.8m-35.3 .4h.8m-.8 .1h.8m1.1 .2h.8m.8-.1h.8m1.9-.1h.8m-.3-.2h.8m-.4 .3h.8m.1 0h.8m.5 .1h.8m-.7-.3h.8m-.4 .1h.8m-.6-.1h.8m-.5 .1h.8m-.7-.1h.8m-.6 .1h.8m-.4 .1h.8m-.5-.2h.8m1.4 .2h.8m-.5-.1h.8m-.7 .1h.8m-.6-.2h.8m0 .1h.8m-.4 0h.8m-.1 .2h.8m-.7-.1h.8m-.7-.2h.8m-.6 .2h.8m2.5-.2h.8m-.6 .1h.8m-.3 0h.8m-.6-.1h.8m-.7 .3h.8m-21.5 .1h.8m1.2 0h.8m-.7 .2h.8m1.8-.2h.8m-.1 .1h.8m-.5 .3h.8m-.4-.4h.8m-.6 0h.8m-.3 .1h.8m1 .1h.8m0 0h.8m.3 0h.8m-.2 .1h.8m-.2-.2h.8m.2 .1h.8m-.5 .2h.8m-.5-.2h.8m-.5-.2h.8m-.8 .2h.8m-.7-.2h.8m-.8 .3h.8m.2 0h.8m.1-.1h.8m-.2 .1h.8m-17 .6h.8m-.8 0h.8m-.8 0h.8m-.8 0h.8m-.3-.2h.8m-.1 .1h.8m-.8-.3h.8m-.4 0h.8m1.3 .4h.8m-.7 0h.8m-.6 0h.8m-.4-.2h.8m-.7-.2h.8m-.5 .3h.8m-.3-.1h.8m.1-.1h.8m-.5-.1h.8m-.5 .3h.8m-.2 0h.8m1.4 .1h.8m-.6-.2h.8m-.8 0h.8m0-.2h.8m-.8 0h.8m.6 .4h.8m-.4-.1h.8m-.8 .1h.8m2-.4h.8m-.2 .4h.8m-.3 0h.8m-.5 0h.8m.3-.2h.8m.5 0h.8m.3 .2h.8m1.5-.4h.8m2.4 .2h.8" stroke="#000" stroke-width=".8" opacity="0.85" fill="none" filter="url(#bl)"/><path d="M307 517.9h.8m4 .5h.8m-12 .4h.8m7.3 .9h.8m6.5 1.3h.8m-31.6 1.1h.8m10.3 .1h.8m-16.3 .8h.8m8.2-.2h.8m22.9 1.4h.8m-23.6 .4h.8m30.6-.2h.8m-3.5 1.4h.8m-11.9 2.2h.8m7.2 .2h.8m-22.9 .9h.8m-8.5 4h.8m38.7 1.4h.8m-1.2 .5h.8m-29.5 2.6h.8m1.4 1.1h.8m-12.4 2.4h.8m21.8 1.3h.8m13.3 1.9h.8m-44 3.8h.8m15 .1h.8m-5.3 .2h.8m10.8 .3h.8m13.2-.2h.8m-1.7 1.7h.8m-29 .1h.8m2.8 2.2h.8m3.3 .7h.8m-1.9 3h.8m-10.3 .4h.8m33.7-.1h.8m10.7 2.5h.8m-36.1 .6h.8m-7.2 .9h.8m-.3 0h.8" stroke="#000" stroke-width=".8" opacity="0.35" fill="none" filter="url(#bl)"/></g><rect x="279.2" y="517.2" width="54.5" height="44.1" fill="none" stroke="#b0b0b0" stroke-width="0.9"/><path d="M279.2 561.3v1.6M279.2 561.3h-1.6M292.8 561.3v1.6M279.2 550.3h-1.6M306.4 561.3v1.6M279.2 539.2h-1.6M320.1 561.3v1.6M279.2 528.2h-1.6M333.7 561.3v1.6M279.2 517.2h-1.6" stroke="#999" stroke-width=".6" fill="none"/><rect x="305.4" y="541.3" width="12.1" height="18.9" fill="none" stroke="#b0b0b0" stroke-width="0.75"/><path d="M310 566.4L310 574.2" stroke="#000" stroke-width="1.2" fill="none"/><path d="M310 577.7l-2.2 -4h4.4z" fill="#000"/><clipPath id="c12"><rect x="342.8" y="517.2" width="54.7" height="44.1"/></clipPath><g clip-path="url(#c12)"><ellipse cx="349" cy="557" rx="12.5" ry="10" fill="url(#g)" opacity="1.0"/><ellipse cx="353" cy="551" rx="14" ry="9.5" fill="url(#g)" opacity="0.85" transform="rotate(-40.1 353 551)"/><path d="M359.8 517.8h.8m13.4 0h.8m-.6 .6h.8m-18.7 .7h.8m5.9 0h.8m1.8-.2h.8m.3 0h.8m-15.7 .7h.8m1.1-.3h.8m6.9 .9h.8m5.1-.1h.8m-6.1 .4h.8m1-.1h.8m.9 0h.8m-9.4 .5h.8m-12.4 .7h.8m11.5-.3h.8m3.5 .1h.8m4.9 .1h.8m-11.9 .6h.8m1.1-.2h.8m-.6 .1h.8m3-.1h.8m4.6 0h.8m-2 .4h.8m2.9 .7h.8m-14 .5h.8m1.2 .1h.8m5.4 0h.8m-15.3 .3h.8m11.2 .3h.8m5.2-.4h.8m2.4 .2h.8m-26.2 .7h.8m-.7-.4h.8m.8 0h.8m10.9 .3h.8m2-.3h.8m.8 0h.8m4.9 .1h.8m-19 .6h.8m6.3-.1h.8m.2 .3h.8m1.4-.1h.8m2.1-.2h.8m-.3 .3h.8m6.2 0h.8m-16.8 .2h.8m2.5 .1h.8m-.4-.1h.8m-.6 0h.8m2.3 .3h.8m-.4 0h.8m5.1-.1h.8m-.1-.3h.8m1.9 .4h.8m-17.5 .4h.8m2.9-.1h.8m-.7-.1h.8m1.1 0h.8m-.3 .1h.8m-.4 0h.8m2.9 0h.8m1.5 0h.8m2.3-.2h.8m-26 .8h.8m5.3-.2h.8m4.3 0h.8m2.1 .1h.8m.8 0h.8m1.9 0h.8m.2-.1h.8m.2-.1h.8m7.8 .4h.8m-30.9 .2h.8m1.5 0h.8m5.4 0h.8m5.8-.1h.8m.1 .1h.8m1.4 0h.8m-.8 .3h.8m-.2-.2h.8m.8-.1h.8m1.2 .3h.8m1.5 0h.8m-19.2 .4h.8m.7 0h.8m1.2 0h.8m3.9-.1h.8m.4 0h.8m-.1 0h.8m1.8-.2h.8m.8 0h.8m-.6 0h.8m-.5 .3h.8m4.1 0h.8m-19.6 .4h.8m-.1 0h.8m-.5 0h.8m.3-.2h.8m-.5 .3h.8m3.7 .1h.8m-.4-.2h.8m.9-.2h.8m-.7 .4h.8m.6-.1h.8m.5-.2h.8m-.2 .2h.8m2-.2h.8m.2 .1h.8m-.4 .1h.8m2.6 0h.8m2.6-.2h.8m-24.5 .4h.8m-.6 .1h.8m1.4-.1h.8m-.6 .3h.8m-.2-.2h.8m2.1 .3h.8m0-.2h.8m-.2-.1h.8m1.8-.1h.8m.9 .2h.8m0 0h.8m-.6 0h.8m-.7-.1h.8m.3 .3h.8m-.2-.1h.8m-.4 .1h.8m0-.1h.8m4.3-.3h.8m-27.3 .8h.8m3.7 0h.8m-.4-.3h.8m9.2 .3h.8m-.4-.3h.8m-.7 .3h.8m0-.3h.8m8.3 .1h.8m1.3 .2h.8m-24.9 .6h.8m3.8-.2h.8m.8 .2h.8m-.7-.3h.8m.7 .2h.8m-.2-.2h.8m.7 .2h.8m1.6 0h.8m.4-.2h.8m-.3 .2h.8m-.3 .1h.8m2.3-.1h.8m1.6 .1h.8m.5-.1h.8m-26.2 .3h.8m12 .2h.8m0-.2h.8m2 .2h.8m-.3 0h.8m-.7 .1h.8m-.2-.1h.8m.4 0h.8m1.6-.3h.8m.2 .1h.8m-.3 .2h.8m-23.2 .6h.8m1.3 0h.8m3.4-.3h.8m.7 0h.8m4.1 .2h.8m.6 0h.8m-.1 0h.8m.3-.2h.8m-.2 0h.8m-.8-.1h.8m0 .4h.8m2.2-.3h.8m-16.3 .7h.8m8.6 .1h.8m.3 0h.8m-.2-.1h.8m-.4-.1h.8m.4 .2h.8m1.8-.3h.8m1-.1h.8m2.7 .3h.8m2.3-.1h.8m-29.1 .5h.8m.3 0h.8m3.2-.1h.8m.8 .3h.8m1.6-.1h.8m1.5-.3h.8m-.5 .3h.8m.3-.2h.8m1.2-.1h.8m-.5 .3h.8m3.1 0h.8m2.6-.2h.8m-.1 .1h.8m4.6 .1h.8m-29.6 .3h.8m2.1 .2h.8m2.8 0h.8m.3-.2h.8m.1 .2h.8m.7-.3h.8m1 .1h.8m.4 0h.8m.1 .1h.8m-.7-.2h.8m0 .3h.8m1.7-.3h.8m5.3 .4h.8m2.6-.4h.8m-26.9 .8h.8m-.5 0h.8m3.7 0h.8m.3 0h.8m1.4-.3h.8m2 .4h.8m-.4-.2h.8m-.2 0h.8m2.2-.2h.8m.8 0h.8m1.8 .3h.8m1.9-.3h.8m-26 .5h.8m2 .3h.8m1.9-.2h.8m1.2-.1h.8m.5 .4h.8m-.1-.2h.8m-.5 .1h.8m1-.2h.8m1.1 0h.8m1.1 .1h.8m-.1 0h.8m-.8 0h.8m-.2-.2h.8m-.7 .1h.8m-.6 .2h.8m-.7 0h.8m1-.3h.8m2.6 .3h.8m-.7-.2h.8m4.6 .2h.8m2 0h.8m-28.3 .6h.8m.1-.2h.8m.2 .2h.8m2.6-.3h.8m-.5 0h.8m.7 .1h.8m-.5 0h.8m.6 .2h.8m3.1 0h.8m1.4-.1h.8m-.4 .1h.8m-.3 0h.8m-.3 0h.8m.2-.4h.8m1 0h.8m-.2 .4h.8m-.6-.3h.8m0 .3h.8m1.7-.3h.8m-.5-.1h.8m2.3 .4h.8m-.3-.4h.8m-30.9 .7h.8m2.4 .2h.8m3.7-.2h.8m-.4-.2h.8m1 .3h.8m-.5-.2h.8m-.4 .3h.8m2.1-.3h.8m1.1 .1h.8m.8 0h.8m-.1-.1h.8m.2 .3h.8m-.1-.3h.8m2 .1h.8m1.9 .2h.8m-.4-.4h.8m.1 .4h.8m-21.1 .2h.8m1.8 0h.8m0 .1h.8m-.5-.1h.8m.1 .2h.8m-.6 0h.8m-.8 .1h.8m3.7-.1h.8m0-.2h.8m-.8 .2h.8m1.7 .1h.8m-.5-.1h.8m.2 .1h.8m-.1-.2h.8m.8 .2h.8m-.7-.4h.8m-.8 .2h.8m1.6 0h.8m.6-.1h.8m.4 0h.8m-27.8 .7h.8m2.9 .1h.8m4.4-.3h.8m1.1 .3h.8m2.4 0h.8m.1-.2h.8m2.7 .1h.8m.2-.3h.8m1.1 0h.8m.3 .1h.8m.5 .1h.8m.5 0h.8m3.3 .2h.8m2.5-.4h.8m2.4 .4h.8m-35.2 .5h.8m4.7-.2h.8m-.6 0h.8m1.6-.2h.8m-.7 0h.8m.3 .3h.8m1.9 .1h.8m-.6 0h.8m-.6-.4h.8m-.5 .3h.8m-.8-.3h.8m.9 .1h.8m-.6 .2h.8m-.7-.1h.8m-.7 .1h.8m-.5 .1h.8m-.7-.4h.8m-.3 .4h.8m1.4 0h.8m.2-.3h.8m.4 .2h.8m-.1 .1h.8m2.8-.3h.8m-.6 0h.8m-.2 0h.8m4.2 .3h.8m.4 0h.8m-34.3 .1h.8m2.3 .3h.8m1.1 .1h.8m3.5 0h.8m-.3-.2h.8m-.6 0h.8m-.2-.1h.8m-.3 0h.8m-.5 .3h.8m-.1-.3h.8m-.6-.1h.8m-.6 .3h.8m.4-.1h.8m-.5 .2h.8m-.6-.2h.8m-.4 .1h.8m-.3 .1h.8m.1 0h.8m-.4-.4h.8m-.1 0h.8m-.5 .2h.8m-.7 .2h.8m-.8-.3h.8m-.7 .2h.8m1.4-.3h.8m-.1 .3h.8m-.8 0h.8m-.6 .1h.8m.4 0h.8m3-.4h.8m1.8 .2h.8m0-.2h.8m-30 .6h.8m-.4 .3h.8m.6-.4h.8m.7 .1h.8m1.9 .2h.8m-.6-.2h.8m0-.1h.8m-.6 0h.8m1.6 .3h.8m.3 .1h.8m-.4-.1h.8m-.4 0h.8m.2 0h.8m-.4 .1h.8m.3-.2h.8m1.4-.1h.8m-.2-.1h.8m.7 .1h.8m.5 .3h.8m-.6-.4h.8m.5 .1h.8m-.1 .1h.8m.1-.2h.8m.8 .3h.8m-.5 0h.8m2.4 .1h.8m5.6-.4h.8m-29.7 .6h.8m-.3 .2h.8m-.7-.3h.8m.2 .2h.8m1.1 .1h.8m-.5-.3h.8m.1 0h.8m3 .1h.8m2.8 .1h.8m-.3-.1h.8m-.3 .1h.8m.4-.2h.8m1.2 .2h.8m2.2 0h.8m.2 0h.8m-.2-.2h.8m3.5 .2h.8m-29.5 .6h.8m1.1-.1h.8m-.5-.1h.8m-.7 0h.8m.1-.1h.8m-.6 .4h.8m0-.4h.8m-.8 .1h.8m.8 .2h.8m-.2-.3h.8m.9 .4h.8m1.1-.1h.8m-.6 .1h.8m-.7-.4h.8m-.1 .1h.8m-.4-.1h.8m-.8 .4h.8m-.8-.2h.8m.1-.2h.8m-.6 .4h.8m-.4-.2h.8m2.3-.1h.8m-.2 .1h.8m.5 .2h.8m4.7 0h.8m-.2-.2h.8m.2 0h.8m5.9 .2h.8m-33.8 .3h.8m-.5 .2h.8m1.4-.2h.8m5.8-.1h.8m-.2 .2h.8m-.8 .1h.8m-.5-.1h.8m.3 .1h.8m-.2-.2h.8m-.7 .2h.8m-.3-.1h.8m0 .1h.8m2.2-.2h.8m1.6-.2h.8m.1 .4h.8m-.7-.4h.8m.4 .3h.8m.4 0h.8m.5-.1h.8m-.4 .1h.8m.4-.2h.8m0-.1h.8m4.9 .1h.8m-30.2 .7h.8m-.4-.1h.8m3.6 .2h.8m-.7-.1h.8m-.4-.2h.8m-.3 .2h.8m.3-.3h.8m-.4 0h.8m-.8 .3h.8m.1-.1h.8m-.5-.1h.8m-.6 0h.8m2.9 0h.8m-.2 .1h.8m-.4-.2h.8m-.7 .3h.8m-.3 .1h.8m-.5-.3h.8m-.7 .3h.8m-.5-.1h.8m-.5-.2h.8m-.2 .3h.8m-.2 0h.8m-.3-.3h.8m.5 .2h.8m-.8 .1h.8m.4-.3h.8m1.6 .1h.8m-.6 .1h.8m.1-.1h.8m.2 .1h.8m8.9-.1h.8m-29.2 .7h.8m.4-.4h.8m.5 .3h.8m-.2 .1h.8m.2-.2h.8m-.1 .2h.8m.2-.4h.8m-.5 0h.8m.7 0h.8m-.3 .4h.8m.6-.1h.8m-.6-.2h.8m-.7 .3h.8m0-.4h.8m-.2 .1h.8m1.4 .3h.8m-.7-.2h.8m.5 .2h.8m2.2 0h.8m3.4-.3h.8m-.2 .2h.8m-.2-.3h.8m-28.6 .7h.8m-.6 .1h.8m1.3-.1h.8m2.2 0h.8m-.4-.2h.8m-.4 .2h.8m-.2 0h.8m.4-.1h.8m.5 .2h.8m-.2-.1h.8m-.4 .1h.8m-.5 0h.8m.1 0h.8m-.4 .1h.8m-.4 0h.8m-.6-.3h.8m.3 .1h.8m-.2-.1h.8m.7 .1h.8m.6-.2h.8m-.8 .1h.8m-.6 .3h.8m.7-.4h.8m-.8 .1h.8m1.5 .3h.8m-.7-.2h.8m-.6 .2h.8m-.1-.1h.8m1.6 0h.8m.2 0h.8m.7-.2h.8m.3 0h.8m-29.1 .4h.8m-.3 0h.8m1 .3h.8m2-.3h.8m-.6 .2h.8m-.7-.1h.8m.3 .2h.8m2-.2h.8m.3 .1h.8m-.1-.1h.8m-.3 .3h.8m.4-.1h.8m-.4-.2h.8m-.6-.1h.8m-.1 .2h.8m-.8-.2h.8m1.1 .4h.8m0-.3h.8m-.7-.1h.8m-.3 .4h.8m-.2 0h.8m-.8-.3h.8m.9 .2h.8m1.6-.3h.8m-.7 .1h.8m.2 .2h.8m-25.7 .6h.8m2.4-.1h.8m3-.3h.8m.7 .1h.8m.1 0h.8m-.6-.1h.8m-.6 0h.8m-.8 .2h.8m0 .2h.8m-.1-.3h.8m-.7 .2h.8m-.3-.3h.8m1.4 .3h.8m-.4-.1h.8m-.6-.2h.8m-.8 .1h.8m.4-.1h.8m-.6 .4h.8m0-.2h.8m4.3-.2h.8m2.3 0h.8m1.6 .1h.8m-25.2 .5h.8m-.6-.1h.8m.1 .2h.8m-.1 .1h.8m-.6 0h.8m.1 0h.8m-.6-.3h.8m-.4 .2h.8m-.2 0h.8m.6 .1h.8m0-.3h.8m-.7 .2h.8m-.7 0h.8m-.7-.2h.8m.5 .3h.8m-.5 .1h.8m-.3-.3h.8m-.3 .1h.8m-.3-.1h.8m-.5-.1h.8m-.3 .1h.8m0 .1h.8m-.2-.1h.8m.1 .3h.8m-.8 0h.8m1-.2h.8m-.2 .2h.8m-.6-.2h.8m-.7-.1h.8m-.7 .3h.8m-.7-.2h.8m-.3 .2h.8m.6-.4h.8m-.6 0h.8m-.8 .3h.8m-.5-.2h.8m-.5 .3h.8m.1 0h.8m-.3-.3h.8m.6 0h.8m1.5 .3h.8m-28.3 .5h.8m4 0h.8m-.7 0h.8m-.1-.3h.8m-.4 .3h.8m-.7 0h.8m-.6-.1h.8m1 0h.8m0-.1h.8m-.7-.1h.8m-.5 0h.8m1.6-.1h.8m.3 .4h.8m-.6-.4h.8m-.7 0h.8m-.3 .2h.8m-.2-.1h.8m-.6-.1h.8m-.6 0h.8m-.6 .3h.8m-.5 0h.8m-.6-.3h.8m.4 .3h.8m-.6-.1h.8m-.8-.1h.8m-.4 .3h.8m-.7-.4h.8m-.8 .1h.8m-.5 .1h.8m-.5 .1h.8m-.7 0h.8m-.6 .1h.8m-.1 0h.8m.2-.3h.8m2.6 0h.8m3.5-.1h.8m-.7 .4h.8m-28 .4h.8m.2-.2h.8m.3-.1h.8m1.4 .2h.8m2 .2h.8m-.4-.1h.8m.1-.2h.8m.2 .3h.8m-.5 0h.8m0-.1h.8m-.1 .1h.8m-.7-.3h.8m.2 0h.8m-.7 .3h.8m-.7-.1h.8m-.4 0h.8m-.7-.3h.8m-.2 0h.8m-.1 0h.8m-.1 .4h.8m-.3-.4h.8m.3 0h.8m-.3 .4h.8m-.7-.3h.8m.5-.1h.8m-.4 .1h.8m-.7 .3h.8m-.6-.2h.8m-.2-.1h.8m-.2 .1h.8m-.3-.1h.8m3.9-.1h.8m.8 0h.8m-.5 0h.8m-24.1 .9h.8m-.1-.1h.8m-.2-.2h.8m-.8 .2h.8m.8-.2h.8m.4 .3h.8m-.4-.2h.8m-.3 .2h.8m-.1-.2h.8m-.4-.1h.8m-.7 .3h.8m-.6-.4h.8m-.4 .2h.8m-.4-.2h.8m-.7 .4h.8m-.5-.4h.8m.2 0h.8m-.7 .2h.8m-.2 .1h.8m-.7 0h.8m-.3-.3h.8m-.3 .4h.8m-.4-.1h.8m-.4-.1h.8m.2-.2h.8m-.3 .2h.8m.2 .1h.8m.7-.3h.8m-.6 .2h.8m1.1-.2h.8m-.7 .4h.8m-.6-.3h.8m-.3-.1h.8m-.4 .3h.8m1.4-.2h.8m1.9 .1h.8m4.8 .2h.8m-33.5 .5h.8m.7-.4h.8m.3 .2h.8m-.7-.2h.8m-.5 .2h.8m1.6 .2h.8m-.4-.2h.8m-.4 0h.8m-.6 .1h.8m.7 0h.8m0-.3h.8m1.1 .3h.8m-.6-.2h.8m-.8 .3h.8m-.8-.1h.8m-.7-.3h.8m-.7 .3h.8m-.4-.3h.8m.2 0h.8m-.2 0h.8m-.4 .2h.8m-.3-.1h.8m.1 .1h.8m.3-.1h.8m1 0h.8m.1 .2h.8m-.8-.3h.8m-.4 .3h.8m-.5 0h.8m-.2 .1h.8m-.2-.4h.8m-.5 .2h.8m-.5 0h.8m-.5 .1h.8m-.4-.2h.8m-.5 .2h.8m-.3-.1h.8m-.6-.1h.8m-.7-.1h.8m-.7 0h.8m1.3 .2h.8m-.3 .2h.8m-.6-.3h.8m.4-.1h.8m.7 .4h.8m.4-.1h.8m-31.3 .5h.8m-.8 0h.8m-.6 .1h.8m-.3-.3h.8m.6-.1h.8m-.8 .3h.8m1.4-.3h.8m.1 .2h.8m-.3 0h.8m.1-.2h.8m.4 0h.8m-.5 .4h.8m-.5-.1h.8m-.7 .1h.8m-.8-.3h.8m-.6 0h.8m-.8 .2h.8m-.5 .1h.8m-.6-.2h.8m-.7-.1h.8m-.4 .2h.8m-.7-.3h.8m-.8 .1h.8m-.3-.1h.8m-.6 .4h.8m-.5-.3h.8m0 0h.8m-.5 .3h.8m.7-.2h.8m.7 .1h.8m0 .1h.8m-.4-.1h.8m-.7-.1h.8m0 .1h.8m-.8-.2h.8m-.2 .1h.8m.2-.1h.8m-.6 0h.8m-.7-.1h.8m-.7 0h.8m-.6 0h.8m-.7 .4h.8m-.8-.3h.8m.1 .3h.8m-.3-.3h.8m.7 .1h.8m-.1-.1h.8m0 .1h.8m3-.2h.8m.1 .3h.8m6.8-.1h.8m-35 .7h.8m-.6-.3h.8m-.6 0h.8m-.5 .3h.8m-.5-.3h.8m-.3 .1h.8m-.5 .2h.8m-.7-.1h.8m.7-.3h.8m.5 .3h.8m-.3-.2h.8m-.5 0h.8m-.6-.1h.8m-.5 .4h.8m0 0h.8m-.8-.3h.8m-.1 0h.8m-.7-.1h.8m-.6 .4h.8m-.4-.2h.8m-.7-.2h.8m-.4 .3h.8m-.8 .1h.8m-.1-.1h.8m-.1-.1h.8m-.5-.1h.8m-.8 .2h.8m.6 0h.8m-.5-.1h.8m-.2 0h.8m-.7 .2h.8m-.2 0h.8m-.3-.4h.8m-.5 0h.8m-.1 .3h.8m-.4 .1h.8m-.6-.2h.8m-.4-.1h.8m.6 0h.8m-.5 .2h.8m-.1 0h.8m-.6-.3h.8m1.8 .2h.8m-.5-.1h.8m-.6 0h.8m-.4 .1h.8m-.2-.1h.8m2 .2h.8m-26.8 .5h.8m.1-.3h.8m-.8 .2h.8m-.3-.2h.8m.5 .2h.8m-.4 .1h.8m0 0h.8m1.5-.3h.8m-.7 .3h.8m-.7 0h.8m0-.3h.8m-.6 .4h.8m-.4-.2h.8m-.7-.1h.8m-.3 .1h.8m-.8-.2h.8m.7 .3h.8m-.8-.2h.8m-.5 0h.8m-.7 .3h.8m-.8-.2h.8m-.7 0h.8m-.4-.2h.8m-.8 .3h.8m-.6 .1h.8m-.7-.2h.8m-.6 .1h.8m-.8 0h.8m-.7-.3h.8m-.6 0h.8m-.8 .3h.8m-.6-.1h.8m-.8-.2h.8m-.4 .1h.8m.1 .2h.8m-.6-.1h.8m-.4-.1h.8m-.7 .2h.8m-.6-.1h.8m-.3 .1h.8m-.6-.3h.8m-.3 .3h.8m1.6-.2h.8m-.4-.1h.8m1.1 .2h.8m.7 0h.8m2.7-.2h.8m.9 0h.8m-.3 .4h.8m1.6-.2h.8m-31.5 .6h.8m.7-.2h.8m.7 0h.8m-.7 .2h.8m-.5-.3h.8m-.5 .1h.8m-.5 .2h.8m1 .1h.8m-.4-.1h.8m.3-.3h.8m-.6 .3h.8m-.5-.2h.8m-.7-.1h.8m-.4 0h.8m-.5 0h.8m-.7 .4h.8m-.6-.2h.8m-.8-.2h.8m-.8 .2h.8m-.8-.1h.8m-.6 0h.8m-.1 .2h.8m.1-.2h.8m-.8 .2h.8m-.5-.3h.8m0 .3h.8m-.6-.1h.8m0 0h.8m-.5 0h.8m.4-.2h.8m.2 .3h.8m-.7 0h.8m-.5 .1h.8m1.1-.4h.8m-.7 .1h.8m.9 .2h.8m.1 .1h.8m.4-.3h.8m.2 0h.8m-17.7 .5h.8m-.1-.1h.8m-.6 .4h.8m.3-.2h.8m-.5 0h.8m-.8-.2h.8m-.7 0h.8m-.6 .4h.8m.8-.3h.8m-.6 .3h.8m-.6-.2h.8m-.6-.1h.8m-.4 .1h.8m-.6-.2h.8m-.4 .3h.8m-.5-.3h.8m.4 0h.8m-.4 .4h.8m.1-.2h.8m-.7-.2h.8m-.7 .3h.8m-.2-.2h.8m-.3 .3h.8m.3-.2h.8m-.5 .1h.8m-.4-.3h.8m-.4 .4h.8m-.6-.2h.8m-.1 .1h.8m-.6-.1h.8m-.2-.2h.8m0 .2h.8m-.4-.1h.8m0 .1h.8m-.4 .1h.8m-.8-.1h.8m-.7-.2h.8m.6 .3h.8m1.1 0h.8m.6-.1h.8m-26.3 .5h.8m0 .1h.8m0 .1h.8m-.6-.2h.8m-.3 0h.8m-.5-.2h.8m-.2 .3h.8m0-.2h.8m-.8 .1h.8m-.5 .2h.8m-.4-.1h.8m-.8 .1h.8m-.5-.1h.8m0-.1h.8m-.6-.2h.8m-.2 .1h.8m-.8-.1h.8m-.2 .2h.8m0 .2h.8m-.5-.4h.8m.5 0h.8m-.7 0h.8m-.5 .4h.8m.3-.2h.8m0 .2h.8m-.3-.1h.8m-.5 0h.8m-.7-.3h.8m-.5 .3h.8m-.1 0h.8m-.6 0h.8m.8 .1h.8m-.1-.1h.8m-.2-.1h.8m-.3 .1h.8m-.7-.3h.8m-.6 .2h.8m-.2-.2h.8m.4 .1h.8m-.5 .2h.8m-.4-.1h.8m-.4 0h.8m.1 .1h.8m0-.3h.8m2.4 0h.8m6.2 .3h.8m-34.4 .4h.8m-.6-.2h.8m-.1 .2h.8m3.6-.1h.8m-.7-.1h.8m-.5 .3h.8m-.3 .1h.8m-.8-.3h.8m-.7 0h.8m1.2 0h.8m-.8 0h.8m-.5-.1h.8m-.3 .2h.8m-.7 .2h.8m-.3-.1h.8m-.6-.3h.8m-.7 .1h.8m-.6 .3h.8m-.2-.4h.8m-.2 .1h.8m-.7 .3h.8m-.6-.3h.8m-.3 .3h.8m-.5-.4h.8m-.4 .4h.8m.2-.4h.8m-.4 .2h.8m-.7-.1h.8m-.7 .3h.8m-.4 0h.8m-.7-.1h.8m-.8-.3h.8m0 .1h.8m2 .2h.8m-.4-.3h.8m-.3 .3h.8m-.5-.3h.8m-.7 .2h.8m-.2-.1h.8m.1-.1h.8m-.3 0h.8m-.4 .2h.8m-.2 .2h.8m-.6-.2h.8m5.7 0h.8m-29.4 .5h.8m-.5-.1h.8m.2-.1h.8m-.1 .2h.8m-.3 .1h.8m-.7 0h.8m-.5 0h.8m.7-.3h.8m.5 .3h.8m-.5-.3h.8m-.7 .2h.8m-.8 .1h.8m-.4 0h.8m-.8-.2h.8m-.7 .3h.8m-.8 0h.8m-.4 0h.8m-.6-.2h.8m-.6 0h.8m-.5-.1h.8m-.1 0h.8m-.5-.1h.8m-.8 .1h.8m-.7 .2h.8m-.3-.1h.8m-.6-.2h.8m-.5 .1h.8m-.3-.1h.8m-.6 .1h.8m-.7 .3h.8m-.3-.1h.8m-.6 0h.8m-.4 0h.8m.4-.1h.8m-.3 0h.8m-.6 0h.8m-.6 .1h.8m-.4-.3h.8m.2 .2h.8m-.7-.2h.8m-.6 0h.8m0 0h.8m-.5 .3h.8m-.7 0h.8m-.6-.3h.8m-.2 0h.8m-.6 .2h.8m.2 .2h.8m.4-.1h.8m-.4-.3h.8m-.7 .2h.8m0 0h.8m0 0h.8m-.1-.2h.8m.2 .2h.8m4-.1h.8m-30.3 .6h.8m-.8-.1h.8m.7 .2h.8m-.6-.3h.8m-.6 .2h.8m.8 0h.8m-.4-.2h.8m-.1 .3h.8m.8 0h.8m.2-.1h.8m-.6 .2h.8m-.5 0h.8m-.5-.1h.8m-.7 .1h.8m-.8-.2h.8m-.8 0h.8m.6 0h.8m-.6-.1h.8m.7 .2h.8m-.5 0h.8m-.7 .1h.8m-.7-.2h.8m-.6 .2h.8m-.1-.1h.8m-.3-.3h.8m.3 .1h.8m-.6 .3h.8m-.3-.1h.8m-.4-.2h.8m-.5 .3h.8m-.5-.4h.8m-.8 .4h.8m-.3-.3h.8m-.7-.1h.8m-.7 .4h.8m-.4-.2h.8m-.6-.1h.8m-.5 .3h.8m-.1-.2h.8m-.3 .2h.8m-.3-.2h.8m-.8 .1h.8m.5 0h.8m-.6-.2h.8m.6 .2h.8m-.8-.1h.8m-.5-.2h.8m-.8 .4h.8m-.2-.1h.8m-23.4 .2h.8m-.8 .1h.8m.4-.1h.8m.9 .1h.8m-.7 .3h.8m-.7-.3h.8m-.7 .1h.8m-.5 .1h.8m-.4-.1h.8m-.2 .1h.8m-.4-.2h.8m-.6 0h.8m-.4 .1h.8m-.4 .1h.8m-.7-.1h.8m-.7 .2h.8m-.4 0h.8m-.3-.4h.8m-.7 0h.8m-.7 0h.8m-.7 .4h.8m-.5-.2h.8m-.4 .1h.8m-.3 .1h.8m1.1 0h.8m-.5-.4h.8m-.7 0h.8m-.2 .2h.8m-.7 0h.8m-.6 0h.8m-.7 0h.8m-.7 .1h.8m-.8-.3h.8m-.1 0h.8m-.4 .4h.8m-.1-.3h.8m-.1 .1h.8m-.7-.1h.8m-.7 .3h.8m-.8-.2h.8m-.1 .1h.8m-.3-.3h.8m-.8 .2h.8m.1 .1h.8m-.4 0h.8m-.5 0h.8m-.2 0h.8m-.7-.3h.8m-.6 0h.8m-.2 .2h.8m2.7-.2h.8m-23.6 .8h.8m-.2-.1h.8m-.6 .2h.8m-.4-.4h.8m1.1 .1h.8m0 .3h.8m-.7-.4h.8m-.8 .4h.8m-.3-.3h.8m.1 .2h.8m-.8-.3h.8m-.5 .3h.8m-.3-.3h.8m-.5 .4h.8m-.6-.4h.8m0 .3h.8m0 0h.8m.3-.2h.8m-.4 .3h.8m-.6-.2h.8m-.5-.2h.8m-.5 .3h.8m-.7 .1h.8m-.7 0h.8m-.4 0h.8m-.2 0h.8m-.4-.4h.8m-.6 .3h.8m-.6-.1h.8m-.7 .2h.8m-.6-.1h.8m.1-.2h.8m-.6 0h.8m-.8 .1h.8m-.8-.1h.8m-.2 .3h.8m-.6-.1h.8m.2 .1h.8m-.7-.3h.8m-.4 .3h.8m-.6-.3h.8m3.4 .2h.8m-.6 .1h.8m-.7-.4h.8m0 .3h.8m-.3-.3h.8m4.3 .2h.8m-27.9 .7h.8m-.3-.2h.8m-.5 .2h.8m-.2 0h.8m-.4-.1h.8m-.6 0h.8m-.6-.1h.8m.7-.2h.8m.7 0h.8m-.7 0h.8m-.4 .3h.8m-.7-.3h.8m-.6 .3h.8m-.7-.1h.8m-.7 0h.8m-.2 .2h.8m-.3-.1h.8m-.5 0h.8m-.1-.2h.8m-.8 .2h.8m-.3-.2h.8m-.8 .3h.8m-.7 0h.8m-.7-.1h.8m-.7 0h.8m-.8-.3h.8m-.5 0h.8m0 .4h.8m-.7-.4h.8m-.5 0h.8m-.6 .4h.8m-.8-.4h.8m-.7 .3h.8m-.5-.3h.8m-.7 0h.8m-.2 .2h.8m-.1-.1h.8m-.8 0h.8m-.4-.1h.8m-.3 .4h.8m-.2-.2h.8m-.2-.2h.8m-.7 .3h.8m-.4-.1h.8m-.7-.1h.8m-.3 .2h.8m.4 0h.8m-.1-.3h.8m-.4 .4h.8m-.3-.4h.8m-.7 0h.8m-.4 0h.8m.5 .1h.8m.3 .2h.8m.4-.1h.8m0-.2h.8m-.4 0h.8m.2 .1h.8m-25.9 .6h.8m.4 .2h.8m-.4-.4h.8m.3 .3h.8m-.5-.2h.8m-.2 .3h.8m.2-.4h.8m-.7 .2h.8m-.8 .2h.8m-.7-.3h.8m-.8 .3h.8m-.8-.4h.8m-.3 .2h.8m-.4 .2h.8m-.7 0h.8m-.5-.1h.8m-.7-.2h.8m-.7-.1h.8m-.8 .1h.8m-.5 .1h.8m-.7 0h.8m-.6-.1h.8m-.5 .1h.8m-.5-.1h.8m-.6 0h.8m-.7 0h.8m-.2 .2h.8m-.5-.2h.8m-.3 .2h.8m-.5 0h.8m.1 .1h.8m-.7-.4h.8m-.5 .1h.8m-.6-.1h.8m-.5 0h.8m-.2 .2h.8m-.2 .1h.8m-.6-.2h.8m-.5-.1h.8m-.6 .2h.8m-.7 .2h.8m-.7 0h.8m-.5-.2h.8m-.7 .2h.8m-.5-.2h.8m-.2 0h.8m-.3-.2h.8m-.7 .1h.8m-.4 .3h.8m-.1 0h.8m-.8-.1h.8m-.2-.1h.8m-.3-.1h.8m.2 .2h.8m-.6-.1h.8m-.6 0h.8m.6 0h.8m.1 0h.8m-.1 .1h.8m.5-.1h.8m0-.2h.8m.7 .1h.8m.3 .2h.8m4.8-.1h.8m-33.1 .5h.8m-.8 0h.8m.1-.2h.8m.9 0h.8m-.7 .2h.8m-.2 .1h.8m-.6-.1h.8m-.5 0h.8m-.7-.2h.8m-.7 .1h.8m.1 0h.8m-.7-.1h.8m-.5 .1h.8m-.5-.1h.8m-.8 .2h.8m-.6 .2h.8m-.7-.1h.8m-.6-.3h.8m-.4 .3h.8m-.6 .1h.8m-.3-.1h.8m-.3-.1h.8m-.8-.1h.8m-.5 0h.8m-.3 .3h.8m-.7-.1h.8m-.2-.2h.8m-.5 0h.8m1 .1h.8m-.6-.2h.8m-.1 .3h.8m-.5-.1h.8m0 0h.8m-.7 .1h.8m-.8-.1h.8m-.6-.2h.8m-.5 .3h.8m-.7-.2h.8m-.4 .3h.8m-.6-.3h.8m-.5 0h.8m-.8-.1h.8m-.3 .3h.8m.3-.1h.8m-.8 .1h.8m-.4 .1h.8m-.8 0h.8m-.3 0h.8m0-.1h.8m0-.3h.8m.1 .3h.8m.1 0h.8m.4 0h.8m.3-.2h.8m4 .2h.8m-27.2 .2h.8m-.1 .4h.8m-.5-.3h.8m-.7 0h.8m-.8-.1h.8m-.3 .4h.8m0-.1h.8m-.7-.1h.8m.7-.1h.8m-.7-.1h.8m-.6 .4h.8m-.5-.3h.8m.4 .1h.8m-.7-.1h.8m-.3 .1h.8m-.6 .1h.8m-.6 0h.8m-.8-.2h.8m-.6 0h.8m-.7 .3h.8m-.6-.1h.8m-.5 0h.8m-.4 .1h.8m-.6 0h.8m-.5-.4h.8m-.5 .2h.8m-.8 0h.8m-.7 .2h.8m-.7-.2h.8m-.7 .2h.8m-.7-.4h.8m-.7 0h.8m-.5 .1h.8m-.8 .3h.8m.9 0h.8m-.4-.4h.8m-.6 .2h.8m-.2 0h.8m-.6-.2h.8m.7 .2h.8m.2-.1h.8m-.6-.1h.8m-.5 .1h.8m.2-.1h.8m-.4 .3h.8m0-.2h.8m-.6 .2h.8m-.5-.3h.8m.6 .2h.8m-.4-.2h.8m-.3 .1h.8m-.7 .2h.8m1.9 .1h.8m-.4-.3h.8m-.7 .3h.8m-26.3 .2h.8m-.7 0h.8m-.6-.1h.8m-.3 .4h.8m.1-.2h.8m-.6-.1h.8m-.1 .2h.8m-.6 .1h.8m-.6-.1h.8m-.7-.2h.8m-.1 .3h.8m-.7-.2h.8m-.6 .1h.8m-.7 0h.8m-.5 0h.8m-.8 .1h.8m-.2-.4h.8m-.7 .2h.8m-.6 .2h.8m-.8 0h.8m-.7 0h.8m-.8-.3h.8m-.7 .2h.8m-.1 .1h.8m-.8-.3h.8m-.8 .2h.8m-.6 0h.8m-.7-.2h.8m-.7 .2h.8m.5 0h.8m-.8 0h.8m-.7-.2h.8m-.8 .1h.8m-.2 0h.8m-.7-.1h.8m-.5 .2h.8m-.7-.1h.8m-.2-.2h.8m-.4 0h.8m-.7 .1h.8m-.6 .2h.8m-.8 .1h.8m-.7 0h.8m-.6-.1h.8m-.6-.3h.8m-.6 .1h.8m-.3 .3h.8m.7-.1h.8m.8 0h.8m.2 0h.8m-.5 0h.8m-.3 0h.8m-.7 0h.8m-.4 .1h.8m.3-.4h.8m-.7 .3h.8m-.8-.1h.8m-.6 .1h.8m.6 0h.8m.7 0h.8m-.7 .1h.8m3.4-.2h.8m-26.5 .6h.8m-.8 0h.8m-.8-.1h.8m-.5 .1h.8m-.2-.2h.8m.5 .1h.8m-.6-.1h.8m-.5-.1h.8m-.7 .1h.8m-.7 .1h.8m-.7 .2h.8m-.7-.4h.8m-.8 0h.8m-.2 .1h.8m-.5 .2h.8m-.5 .1h.8m1-.1h.8m-.8 0h.8m-.1-.2h.8m-.7 0h.8m-.7 .2h.8m-.8-.2h.8m.4 0h.8m-.4 .1h.8m-.6 .1h.8m-.8-.2h.8m-.7 .1h.8m-.7 0h.8m-.7-.2h.8m.4 0h.8m-.6 .4h.8m-.8 0h.8m-.4-.2h.8m-.7-.2h.8m0 0h.8m-.1 .1h.8m-.6 .1h.8m-.1-.2h.8m-.2 .2h.8m-.7 0h.8m-.4-.1h.8m.1 0h.8m-.3 0h.8m-.2 0h.8m-.8 .2h.8m0 0h.8m-.4 .1h.8m-.8 0h.8m-.3 0h.8m-.7-.3h.8m-.8 .1h.8m-.7 .1h.8m.2 0h.8m.1-.1h.8m-.2-.1h.8m-.4 0h.8m2.7 .3h.8m3.3-.2h.8m14.4 0h.8m-44.4 .4h.8m-.4-.1h.8m-.3 .3h.8m-.4 .1h.8m-.1-.4h.8m-.4 .2h.8m-.2-.2h.8m-.1 .4h.8m-.5-.3h.8m-.7 0h.8m-.4 .3h.8m.2 0h.8m-.5-.4h.8m-.2 .2h.8m0-.1h.8m-.8 .2h.8m-.1-.3h.8m-.5 .4h.8m-.5-.3h.8m-.7-.1h.8m-.4 .1h.8m-.7 .1h.8m-.7 .1h.8m-.5-.1h.8m0-.2h.8m-.3 .3h.8m-.8-.3h.8m-.1 0h.8m-.8 .4h.8m-.6-.1h.8m-.7-.2h.8m0 .3h.8m-.4-.2h.8m-.7 .1h.8m-.7 .1h.8m-.7-.2h.8m-.4 0h.8m.9-.2h.8m-.7 0h.8m-.7 .2h.8m-.6-.1h.8m.6 .2h.8m-.6-.2h.8m-.6 .1h.8m-.5 0h.8m3.7-.2h.8m1.5 0h.8m-25.4 .6h.8m-.1 .1h.8m-.1 .1h.8m-.5 .1h.8m0-.2h.8m-.8-.1h.8m-.5 .3h.8m-.8-.4h.8m-.5 .1h.8m.1 .3h.8m1.2-.4h.8m-.8 .1h.8m-.7 .2h.8m-.6-.3h.8m-.6 0h.8m-.6 .2h.8m-.7-.1h.8m-.3 .1h.8m-.5-.1h.8m-.8 .1h.8m-.8-.1h.8m-.7 .1h.8m-.8 .2h.8m-.6-.4h.8m-.7 .1h.8m-.2 .3h.8m-.5-.1h.8m-.4-.2h.8m-.6 0h.8m-.4 .2h.8m.2-.1h.8m-.6 0h.8m-.6-.1h.8m-.3 .2h.8m-.7-.3h.8m-.2 0h.8m-.3 0h.8m-.7 .1h.8m-.6 .2h.8m-.7-.3h.8m-.7 .4h.8m-.5 0h.8m-.5-.3h.8m-.6 .3h.8m-.8-.4h.8m.1 .2h.8m-.8-.1h.8m-.7 .2h.8m-.7 0h.8m2.5 .1h.8m1.4-.3h.8m.2 .3h.8m.6-.1h.8m-.2-.3h.8m1.6 .2h.8m-27.7 .4h.8m-.8 .3h.8m-.6-.2h.8m-.7-.1h.8m-.6 .3h.8m-.6 0h.8m-.7-.1h.8m-.8-.1h.8m-.4-.1h.8m-.8 .3h.8m-.2-.1h.8m-.5 0h.8m-.7-.3h.8m-.8 .1h.8m-.7-.1h.8m0 .3h.8m-.3 0h.8m-.8-.2h.8m-.1 0h.8m-.8-.1h.8m.3 .1h.8m-.8-.1h.8m-.3 .4h.8m-.6-.4h.8m-.6 0h.8m-.8 .1h.8m-.7 .1h.8m-.4 .2h.8m-.5-.2h.8m-.7-.1h.8m-.6-.1h.8m-.7 .3h.8m-.7 .1h.8m-.8-.1h.8m-.8 .1h.8m-.5-.2h.8m-.7 .2h.8m-.8 0h.8m-.5-.3h.8m-.1 .2h.8m-.7-.2h.8m-.4 .3h.8m-.1-.2h.8m-.7-.2h.8m-.5 .1h.8m-.6 .1h.8m-.4 .1h.8m-.8 0h.8m-.6-.1h.8m-.3 .2h.8m-.2-.2h.8m.2 0h.8m-.8-.2h.8m-.2 .2h.8m-.4-.2h.8m-.8 .4h.8m.1-.2h.8m-.7-.1h.8m-.8 .1h.8m-.2-.1h.8m-.6 .1h.8m-.8 .1h.8m-.7-.3h.8m-.6 .1h.8m.5-.1h.8m-.7 .2h.8m.3-.1h.8m-.4 0h.8m.7 .3h.8m-.6 0h.8m.5-.4h.8m-.7 0h.8m.8 .3h.8m-25 .5h.8m-.7-.2h.8m-.7 .1h.8m.1-.2h.8m-.8 .1h.8m-.6-.1h.8m-.6 .2h.8m-.7 0h.8m.6 0h.8m-.4-.1h.8m-.7 0h.8m-.1 .3h.8m.2-.3h.8m-.6 .3h.8m-.1-.3h.8m-.5-.1h.8m-.8 .3h.8m-.3-.3h.8m-.7 .1h.8m-.8 .3h.8m-.4-.1h.8m-.7-.3h.8m-.8 .3h.8m.1-.1h.8m-.6 0h.8m-.4-.2h.8m-.4 0h.8m-.7 .2h.8m.2-.2h.8m-.3 .1h.8m-.8 .2h.8m-.2-.3h.8m-.2 .4h.8m-.7-.4h.8m-.6 .2h.8m-.7-.2h.8m-.7 .2h.8m-.6-.1h.8m-.4 .1h.8m.1-.2h.8m-.7 .2h.8m-.6 .1h.8m-.8-.3h.8m-.6 .4h.8m-.5-.3h.8m-.7-.1h.8m0 .3h.8m-.6 0h.8m-.1 .1h.8m-.7-.3h.8m-.6 .1h.8m-.8 0h.8m-.1 .2h.8m-.5 0h.8m1.2-.2h.8m-.5 0h.8m-.7 0h.8m0-.1h.8m.6 .2h.8m2.8-.3h.8m-27 .8h.8m.3 .1h.8m.1-.3h.8m-.7-.1h.8m-.2 .1h.8m-.5 .2h.8m-.6-.1h.8m-.7-.1h.8m-.2-.1h.8m-.6 .3h.8m-.7-.1h.8m-.5 .2h.8m-.7-.2h.8m-.7 .1h.8m-.7 0h.8m-.6 0h.8m-.5 0h.8m-.7-.2h.8m-.7 .3h.8m-.5-.3h.8m-.5 .2h.8m-.7 0h.8m-.7 .1h.8m-.7-.2h.8m-.8-.1h.8m-.6 .3h.8m-.8 0h.8m-.7-.1h.8m-.6-.3h.8m-.8 .2h.8m-.3 .1h.8m-.8-.2h.8m-.8-.1h.8m-.7 .3h.8m.6-.1h.8m-.7 0h.8m0 0h.8m-.6-.2h.8m-.6 .1h.8m-.5 .1h.8m-.3 .1h.8m-.1 .1h.8m-.6-.3h.8m-.4 .2h.8m-.7-.3h.8m-.7 .2h.8m-.4 .2h.8m-.4-.3h.8m-.6-.1h.8m.2 0h.8m-.6 .4h.8m-.8-.3h.8m-.5 .2h.8m-.7-.2h.8m-.6-.1h.8m.9 .4h.8m1.4-.3h.8m-.3 .2h.8m3.1-.3h.8m1.9 .2h.8m-27.3 .5h.8m.1-.2h.8m.5 .1h.8m-.7 .2h.8m-.7-.3h.8m-.6 .4h.8m-.6 0h.8m-.6 0h.8m-.4-.4h.8m-.5 .4h.8m-.7-.3h.8m-.2 0h.8m-.6 .1h.8m0 .1h.8m-.5-.3h.8m-.7 .1h.8m-.5 .1h.8m-.4 .1h.8m-.7-.1h.8m-.3 .1h.8m-.7-.1h.8m-.5-.2h.8m-.6 .4h.8m-.8-.1h.8m-.7-.1h.8m-.7-.1h.8m-.6 .3h.8m-.6-.4h.8m-.4 .2h.8m-.3 0h.8m-.8-.1h.8m-.2-.1h.8m-.8 .1h.8m-.8 .1h.8m0-.1h.8m-.8 .3h.8m-.1 0h.8m-.7-.4h.8m-.7 .4h.8m.1 0h.8m-.7-.4h.8m-.7 .3h.8m-.8 0h.8m0 0h.8m-.5 0h.8m.1-.2h.8m-.7 .2h.8m-.5 0h.8m-.8-.1h.8m-.8-.1h.8m-.3 .2h.8m-.3 .1h.8m-.6-.4h.8m-.7 .1h.8m-.7 .1h.8m-.4-.2h.8m-.2 .1h.8m-.6 0h.8m.1 0h.8m.4 .3h.8m-.3-.2h.8m-.5 0h.8m1.8-.2h.8m.2 .4h.8m1.7-.3h.8m5.6-.1h.8m-33.5 .7h.8m0 0h.8m-.6-.1h.8m-.8-.1h.8m-.7 .1h.8m.3 .2h.8m-.6 0h.8m-.7 0h.8m-.7-.1h.8m0 .1h.8m-.6-.3h.8m-.2 0h.8m-.7 .4h.8m.6-.2h.8m-.8 .2h.8m-.6 0h.8m-.7-.2h.8m-.6 .1h.8m-.4 0h.8m-.7-.1h.8m-.6-.2h.8m-.3 .1h.8m.6 .2h.8m-.5-.3h.8m-.4 0h.8m-.6 .1h.8m-.6 .2h.8m-.4-.1h.8m-.1 0h.8m-.8 .2h.8m-.5 0h.8m-.1-.4h.8m-.5 .4h.8m-.5-.1h.8m-.2 0h.8m-.4-.2h.8m-.7 0h.8m-.6 0h.8m-.3 .3h.8m-.7 0h.8m.1-.3h.8m-.3 .1h.8m-.4 .2h.8m-.3-.4h.8m-.5 .1h.8m.2 .2h.8m-.4-.2h.8m-.2-.1h.8m-.7 .1h.8m-.1 0h.8m-.7 0h.8m-.5 0h.8m-.1-.1h.8m1.8 0h.8m-23.8 .6h.8m-.8 .3h.8m-.6-.2h.8m-.7 0h.8m.9-.1h.8m.5 .2h.8m-.7-.1h.8m-.7-.2h.8m-.8 .4h.8m-.8-.1h.8m.5 .1h.8m-.7-.4h.8m-.7 .4h.8m-.8-.3h.8m-.6 .2h.8m.1 .1h.8m-.8 0h.8m-.7 0h.8m-.7 0h.8m-.7-.2h.8m-.3 .1h.8m-.7-.3h.8m-.4 .1h.8m-.5 .3h.8m-.6 0h.8m-.8-.2h.8m.7-.1h.8m-.6-.1h.8m-.5 .1h.8m-.7 0h.8m-.2 .1h.8m-.7 .2h.8m-.7-.4h.8m-.7 .2h.8m-.6-.1h.8m-.2 .3h.8m.4-.3h.8m-.3 .3h.8m-.3-.4h.8m-.8 .1h.8m-.7-.1h.8m-.2 .1h.8m-.2 .2h.8m-.3-.1h.8m-.7 .2h.8m0-.2h.8m-.4 .2h.8m1.8 0h.8m0 0h.8m2.7-.3h.8m1.8 .1h.8m-28.1 .7h.8m-.8-.2h.8m.3 .2h.8m-.5-.1h.8m-.8 0h.8m.8 0h.8m-.4-.1h.8m-.7 .2h.8m-.5-.1h.8m-.4-.3h.8m-.8 .1h.8m-.2 .2h.8m-.8 .1h.8m-.1-.4h.8m-.5 .2h.8m-.3-.1h.8m-.5 .2h.8m-.7-.2h.8m-.6 0h.8m-.6 .1h.8m-.7-.2h.8m-.2 .1h.8m-.6-.1h.8m.1 .2h.8m-.7-.2h.8m-.4 .4h.8m-.8-.1h.8m-.6 0h.8m-.6-.3h.8m-.4 .2h.8m-.2-.1h.8m-.7-.1h.8m-.6 0h.8m-.6 0h.8m-.6 .4h.8m-.8-.4h.8m-.7 .3h.8m-.3 .1h.8m-.5-.1h.8m.1-.2h.8m-.8 .3h.8m-.7-.1h.8m-.8-.1h.8m-.7 .2h.8m-.4-.3h.8m-.5-.1h.8m-.5 .1h.8m-.7 0h.8m-.2 .1h.8m-.7 .1h.8m.9-.2h.8m-.3 .3h.8m.5-.2h.8m.3 0h.8m.5-.1h.8m.1 .2h.8m-.6-.2h.8m.1-.1h.8m.6 .4h.8m.1-.1h.8m-26.3 .3h.8m.8 .1h.8m.6-.1h.8m.1 .3h.8m-.6-.2h.8m-.8 .2h.8m-.1-.1h.8m-.4-.1h.8m-.5 .1h.8m-.6 .1h.8m-.6-.4h.8m-.8 .1h.8m-.4-.1h.8m-.8 0h.8m-.7 .3h.8m.3 0h.8m-.7 .1h.8m-.1-.2h.8m-.7-.1h.8m-.7 .1h.8m-.8-.2h.8m-.6 .1h.8m-.7 .3h.8m-.8-.4h.8m-.6 .2h.8m-.8-.2h.8m-.6 .2h.8m-.8-.2h.8m-.5 .4h.8m-.7-.1h.8m-.5-.3h.8m-.1 .4h.8m-.4 0h.8m-.6-.4h.8m-.7 .2h.8m0-.2h.8m-.7 .3h.8m-.8-.3h.8m-.3 .4h.8m-.5 0h.8m-.1-.2h.8m.3 .1h.8m-.1-.3h.8m-.1 .2h.8m.7 .2h.8m.3-.4h.8m-.1 .4h.8m1.9-.2h.8m1.2 0h.8m-24.3 .7h.8m-.5-.3h.8m-.7 .1h.8m-.5 .1h.8m.4-.2h.8m1.4 .3h.8m-.3-.1h.8m-.2 .1h.8m-.5-.2h.8m-.1 .2h.8m-.7-.1h.8m-.5-.3h.8m-.6 0h.8m-.4 .2h.8m-.6 0h.8m-.7 .1h.8m.6 0h.8m-.3 0h.8m-.1-.3h.8m-.7 0h.8m-.7 .4h.8m-.8-.2h.8m0-.2h.8m-.8 .4h.8m0-.3h.8m-.1-.1h.8m0 .2h.8m.3 0h.8m-.7 .2h.8m.4-.4h.8m-.2 .2h.8m-.7 0h.8m2.7-.1h.8m.9 .3h.8m2.7-.2h.8m-25.7 .3h.8m-.3 .2h.8m0 .1h.8m-.5-.1h.8m-.5 0h.8m-.4-.1h.8m-.5 .1h.8m-.6 .1h.8m-.8-.3h.8m-.2 .2h.8m-.7 .1h.8m-.4-.2h.8m-.8 0h.8m-.8 .3h.8m-.1 0h.8m-.5-.4h.8m-.7 .4h.8m-.3-.2h.8m.2 0h.8m-.5 0h.8m-.8-.1h.8m-.6 .2h.8m-.6-.2h.8m-.7 .2h.8m-.8-.1h.8m.1 .1h.8m-.7 .1h.8m.3 0h.8m-.5 0h.8m-.3 0h.8m0-.2h.8m-.2 .2h.8m-.3 0h.8m-.5-.4h.8m.8 .1h.8m-.8 .3h.8m.2 0h.8m.5-.1h.8m1.5-.2h.8m4.8 .3h.8m-25.1 .3h.8m1.7-.1h.8m.5 .2h.8m.7-.2h.8m0 .3h.8m-.7-.3h.8m.1-.1h.8m-.5 .2h.8m-.6-.2h.8m-.7 .2h.8m-.4 .2h.8m-.5 0h.8m-.7-.3h.8m-.5 .1h.8m-.7-.1h.8m.1-.1h.8m-.8 .3h.8m-.6-.2h.8m-.8 0h.8m1.6 .2h.8m-.1-.2h.8m1.4 .3h.8m.5-.2h.8m2.4 0h.8m-.1 .1h.8m-20.4 .5h.8m-.7-.2h.8m-.3 0h.8m-.8-.1h.8m-.5 0h.8m-.7 .3h.8m-.2-.3h.8m-.8 .1h.8m.3-.1h.8m-.7 .1h.8m-.1 .3h.8m.1-.1h.8m.1-.3h.8m-.4 .4h.8m.2-.2h.8m-.7 0h.8m.5-.2h.8m-.6 0h.8m-.7 .4h.8m-.8-.3h.8m-.8 .2h.8m1.1 0h.8m-.7-.3h.8m-.6 .3h.8m1.8-.1h.8m-.3-.1h.8m.2 0h.8m-.3 .1h.8m.3 .2h.8m.6 0h.8m-20 .3h.8m.7-.1h.8m.7 .1h.8m2-.1h.8m-.3 .1h.8m-.7 0h.8m0 .1h.8m-.3-.1h.8m.4-.2h.8m-.4 .1h.8m-.5 .2h.8m-.5 .1h.8m-.1 0h.8m-.6-.3h.8m3.3-.1h.8m-.1 0h.8m-.6 .4h.8m0-.2h.8m.4 .2h.8m.6 0h.8m-20.3 .5h.8m1.3-.3h.8m.2 .3h.8m.4-.1h.8m-.6 .1h.8m-.6-.2h.8m.8 .2h.8m-.5-.1h.8m1-.2h.8m-.4 0h.8m-.5 0h.8m-.5 0h.8m.4 .2h.8m-.3 .1h.8m-.3-.3h.8m-.6-.1h.8m-.5 .1h.8m.5 .1h.8m5.8-.2h.8m.8 .4h.8m-.7 0h.8m2.4-.3h.8m-25.7 .8h.8m-.8-.2h.8m1 .1h.8m1.4 .1h.8m-.6-.3h.8m1.1 .3h.8m-.5 0h.8m.5-.1h.8m-.2-.2h.8m-.6-.1h.8m-.6 .4h.8m2.6-.3h.8m0-.1h.8m1.6 .4h.8m2.7-.2h.8m-19.4 .7h.8m-.5 0h.8m-.5-.4h.8m.9 .4h.8m-.6-.3h.8m-.5 .2h.8m-.5 .1h.8m-.7-.4h.8m-.4 .4h.8m.5-.3h.8m-.3 0h.8m-.6-.1h.8m-.6 .1h.8m-.2-.1h.8m-.7 .3h.8m-.3 .1h.8m-.2 0h.8m-.4 0h.8m-.6-.3h.8m-.5 .3h.8m-.4 0h.8m-.7-.2h.8m-.2-.2h.8m-.3 .4h.8m-.6 0h.8m-.7 0h.8m-.2-.2h.8m-.6-.1h.8m-.7-.1h.8m-.6 .4h.8m.4-.2h.8m.3 .2h.8m0 0h.8m.9-.1h.8m3-.3h.8m-15.6 .5h.8m.5 0h.8m1.7 0h.8" stroke="#000" stroke-width=".8" opacity="0.85" fill="none" filter="url(#bl)"/><path d="M391.3 518.7h.8m-43.8 1.2h.8m11.5-.1h.8m22.9 2.2h.8m10.6 .4h.8m-17 .6h.8m-.4 1.9h.8m-7.1 3.2h.8m8 .3h.8m-10.8 4.3h.8m8.1 .4h.8m-5.2 .6h.8m-3.5 3.7h.8m20.2 .2h.8m-20.7 .3h.8m7.8 .1h.8m-25.9 .8h.8m20 1.7h.8m10.6 .7h.8m-43.8 2.6h.8m-2.2 1h.8m17.5 1h.8m18.5 1.1h.8m-4.6 .8h.8m12.4 1.2h.8m.5 3h.8m-7.8 3.8h.8m-11.6 2.8h.8m-8.6 .5h.8m-8.7 .3h.8" stroke="#000" stroke-width=".8" opacity="0.35" fill="none" filter="url(#bl)"/></g><rect x="342.8" y="517.2" width="54.7" height="44.1" fill="none" stroke="#b0b0b0" stroke-width="0.9"/><path d="M342.8 561.3v1.6M342.8 561.3h-1.6M356.5 561.3v1.6M342.8 550.3h-1.6M370.1 561.3v1.6M342.8 539.2h-1.6M383.8 561.3v1.6M342.8 528.2h-1.6M397.5 561.3v1.6M342.8 517.2h-1.6" stroke="#999" stroke-width=".6" fill="none"/><rect x="364.6" y="541.3" width="16.2" height="20.2" fill="none" stroke="#b0b0b0" stroke-width="0.75"/><path d="M372.7 566.4L372.7 574.2" stroke="#000" stroke-width="1.2" fill="none"/><path d="M372.7 577.7l-2.2 -4h4.4z" fill="#000"/><clipPath id="c13"><rect x="279.2" y="585.4" width="53.8" height="44.4"/></clipPath><g clip-path="url(#c13)"><path d="M297.3 591.1h.8m8.8 1.5h.8m-15.7 .5h.8m-10 .4h.8m20 .2h.8m-7.6 .2h.8m-1.9 1.7h.8m12.2 .1h.8m-2.1 .5h.8m-10.8 1h.8m1.7 0h.8m-10.7 .2h.8m6.6 .3h.8m2.1 0h.8m1.1-.2h.8m1.6 .2h.8m-13.5 1h.8m1.1 0h.8m4 0h.8m5.4 0h.8m3.5-.4h.8m-13.4 .7h.8m6.8 .2h.8m1-.3h.8m-18.2 .6h.8m2 .2h.8m2.8-.2h.8m-.4-.1h.8m2.5 0h.8m2.1-.1h.8m1.7 .2h.8m-.3 .2h.8m-15.3 .8h.8m.7 0h.8m.7 0h.8m-.3-.1h.8m-.5 0h.8m-.6 .2h.8m2.4-.3h.8m-.8 .4h.8m1.2-.3h.8m-.4 .3h.8m-.6 0h.8m1.1 0h.8m-.3 0h.8m3.5-.1h.8m1.8 0h.8m-17.3 .4h.8m1.1 .2h.8m-.1-.2h.8m-.1 .1h.8m-.4 0h.8m.3 .1h.8m3.1 0h.8m-.2-.2h.8m2.2-.2h.8m.6 .1h.8m8.4-.1h.8m-20.4 .9h.8m-.6-.4h.8m.7 .1h.8m1.7-.1h.8m-.5 .3h.8m-.7-.1h.8m-.7-.1h.8m.8 .2h.8m-.2 .1h.8m-.7-.1h.8m-.5-.3h.8m-.1 .3h.8m2.7-.3h.8m-9.8 .7h.8m2 .1h.8m-.2 0h.8m-.1-.1h.8m.7 0h.8m-.7-.2h.8m-.6 .1h.8m-.3 .2h.8m-.1 .1h.8m.2-.1h.8m-.5-.2h.8m-.5-.1h.8m7.4 .4h.8m-36.4 .3h.8m9.8-.1h.8m-.2 .2h.8m2.3 .1h.8m.5-.1h.8m-.5-.3h.8m-.6 .2h.8m.5-.1h.8m-.7 .3h.8m.4-.1h.8m-.4 0h.8m.3-.1h.8m-.8-.1h.8m-.5-.1h.8m2.7 .1h.8m1.9-.1h.8m-18.6 .5h.8m-.6 0h.8m-.5 .3h.8m-.6 0h.8m-.5 0h.8m3 0h.8m-.6 .1h.8m0 0h.8m.7-.2h.8m-.5-.1h.8m-.5-.1h.8m.2 .4h.8m-.6-.3h.8m.3 .3h.8m-.6-.2h.8m-.3 0h.8m-.2-.2h.8m-.7 .3h.8m-.7 .1h.8m-.2-.3h.8m-.8-.1h.8m-.4 .3h.8m-.7-.2h.8m-.2 0h.8m-.6 .1h.8m1.7-.1h.8m-.5 .1h.8m-.7 0h.8m1.1-.1h.8m0 .2h.8m5.2-.1h.8m-34.8 .5h.8m11.4-.2h.8m-.4 .2h.8m0-.1h.8m-.6-.1h.8m-.3 .4h.8m0-.2h.8m-.4 0h.8m-.4-.2h.8m1.4 .4h.8m-.3-.3h.8m-.6 .3h.8m.2-.2h.8m-.1 .1h.8m-.1-.3h.8m-.7 0h.8m2.7 0h.8m-.8 .2h.8m-.1 .2h.8m1.2-.1h.8m-.3-.3h.8m-21.3 .6h.8m6.4 .1h.8m-.4 0h.8m-.2-.1h.8m-.2 .1h.8m-.8 .1h.8m-.1-.1h.8m-.8 .2h.8m-.1 0h.8m-.6-.1h.8m-.6-.3h.8m-.2 0h.8m-.5 .4h.8m0-.1h.8m-.7 .1h.8m.1-.3h.8m.5 .2h.8m-.3-.2h.8m-.1-.1h.8m.5 .2h.8m.1 .2h.8m1.9-.1h.8m1.9 0h.8m-30.3 .5h.8m5.4-.2h.8m-.3 0h.8m2 .2h.8m-.2-.1h.8m1.3-.1h.8m-.4-.1h.8m-.3 .4h.8m-.6-.1h.8m-.6 0h.8m.2-.3h.8m-.5 .4h.8m-.7-.4h.8m-.4 .2h.8m-.1-.2h.8m-.1 .2h.8m.1-.1h.8m-.2 .3h.8m-.6-.3h.8m-.6 .1h.8m-.8 0h.8m-.4 .2h.8m0-.2h.8m0 0h.8m1.2-.1h.8m-.8 .3h.8m1.3-.3h.8m-.5 0h.8m1 .3h.8m-.3-.2h.8m-.3 .1h.8m-19.8 .3h.8m.1 0h.8m-.6 0h.8m1.3-.1h.8m-.8 .1h.8m.2 .2h.8m.2-.3h.8m.9 .2h.8m-.7 0h.8m-.7-.1h.8m-.8 .2h.8m-.6 .1h.8m-.5-.2h.8m-.6-.1h.8m-.2 .1h.8m.9 .1h.8m-.8 0h.8m-.1 0h.8m-.8 .1h.8m-.8-.4h.8m-.4 .4h.8m-.7-.3h.8m.8 .3h.8m0-.1h.8m-.5-.3h.8m-.3 0h.8m-.4 .1h.8m-.2-.1h.8m-.8 .2h.8m.1-.2h.8m-.8 .1h.8m-17 .8h.8m1.1 0h.8m.2-.4h.8m0 .1h.8m.9 .1h.8m-.8-.1h.8m-.6 .3h.8m-.3-.4h.8m-.7 .3h.8m.5-.1h.8m-.7 0h.8m-.1-.2h.8m-.6 .4h.8m0-.2h.8m-.7-.1h.8m-.4 .2h.8m-.6-.2h.8m-.6-.1h.8m0 .2h.8m-.1 .1h.8m0-.1h.8m-.7-.1h.8m.4 .1h.8m.2-.2h.8m-.8 0h.8m-.2 .1h.8m-.7 .3h.8m1-.2h.8m13.5-.2h.8m-38.8 .5h.8m2.1 .1h.8m-.1 .1h.8m-.5-.2h.8m.1 0h.8m.4 .2h.8m.6 .2h.8m.9 0h.8m.3 0h.8m.1-.1h.8m-.5 .1h.8m-.2 0h.8m-.4-.2h.8m-.8 .1h.8m-.5-.3h.8m-.5 .4h.8m-.1-.4h.8m-.5 .2h.8m-.6-.1h.8m-.4 .1h.8m.1 .2h.8m-.8-.1h.8m1.2 .1h.8m-.7-.3h.8m-.8 .2h.8m-.3-.1h.8m-.1-.1h.8m-.4 0h.8m-.7 .1h.8m-.5-.2h.8m-.8 .1h.8m-.5 .2h.8m-.8-.2h.8m-.4 .2h.8m-.8 .1h.8m-.1-.1h.8m-.3-.2h.8m-.7 .1h.8m.1 0h.8m-.5-.2h.8m-17.2 .5h.8m1.3 .1h.8m.6 .3h.8m-.1 0h.8m-.8 0h.8m.6-.3h.8m-.5 0h.8m-.6 .2h.8m-.7-.2h.8m.1 0h.8m1.3 .3h.8m-.5 0h.8m-.6-.3h.8m-.1 0h.8m-.3-.1h.8m-.8 .2h.8m-.7-.2h.8m0 .4h.8m-.2-.1h.8m-.8-.1h.8m-.1 0h.8m-.4-.1h.8m2.6 .1h.8m2-.2h.8m5 .1h.8m1.3 .2h.8m-28.1 .6h.8m-.6 0h.8m-.8-.1h.8m0 0h.8m.2-.1h.8m-.1 0h.8m.3 .2h.8m-.1-.3h.8m-.5 .3h.8m-.5-.1h.8m1.2 .1h.8m.7-.4h.8m-.8 .4h.8m-.5-.3h.8m-.8-.1h.8m.1 .3h.8m.1-.1h.8m-.5 0h.8m-.4 0h.8m-.8 .2h.8m-.3-.1h.8m-.7 0h.8m-.8-.3h.8m.9 .1h.8m-.1 .1h.8m-.5 .2h.8m-.8-.3h.8m-.7 .2h.8m-.5 0h.8m1.3-.3h.8m-24.2 .8h.8m2.7 .1h.8m2.4 0h.8m1.6-.4h.8m.1 .3h.8m-.1-.3h.8m-.8 .3h.8m.9-.2h.8m-.5-.1h.8m-.6 .2h.8m-.4-.2h.8m-.8 .2h.8m.5 0h.8m-.6 0h.8m.2 .2h.8m.3 0h.8m1.5-.1h.8m-.6 0h.8m.2-.1h.8m-.4 .1h.8m0-.1h.8m-.6-.1h.8m-.6-.1h.8m-.1 .3h.8m-.5 .1h.8m7.4-.1h.8m-25.1 .3h.8m1.8 .3h.8m.5-.2h.8m.6 0h.8m-.3-.1h.8m-.6 0h.8m-.6 0h.8m-.1 0h.8m.2 .2h.8m.9 .1h.8m-.6-.1h.8m-.7 .1h.8m-.4-.2h.8m0-.2h.8m-.7 .3h.8m-.4-.1h.8m.2-.1h.8m-.4 .3h.8m-.6-.4h.8m-.7 .3h.8m.6-.2h.8m.6 .1h.8m2.4-.1h.8m-24.8 .4h.8m-.7 .2h.8m2 0h.8m-.8 .1h.8m.1 0h.8m.6 .1h.8m-.2-.2h.8m-.1-.2h.8m0 .1h.8m.5 .3h.8m-.6-.1h.8m.6 .1h.8m-.1-.4h.8m0 .4h.8m-.7 0h.8m.5-.4h.8m0 0h.8m.4 .2h.8m.3 0h.8m-.7 .2h.8m-.7-.3h.8m-.7 .2h.8m-.7 0h.8m-.6 .1h.8m-.7-.1h.8m-.4-.3h.8m1.5 .3h.8m-.4 0h.8m1.7-.2h.8m-26.4 .8h.8m3.3-.2h.8m.9 0h.8m2.5 .2h.8m1.3-.1h.8m.3-.3h.8m-.6 .4h.8m-.5 0h.8m.7-.3h.8m-.7 0h.8m.1-.1h.8m0 .4h.8m1.3 0h.8m.4-.4h.8m-.4 0h.8m-.6 .3h.8m-.8 0h.8m0-.2h.8m.8 0h.8m1-.1h.8m2.8 .3h.8m7.9 .1h.8m-29.8 .5h.8m1.7-.2h.8m-.8 .2h.8m3.1-.2h.8m.2 .2h.8m-.4-.4h.8m-.7 .3h.8m-.7-.3h.8m-.7 .1h.8m-.7 0h.8m-.8 0h.8m-.5 0h.8m-.5-.1h.8m.1 .2h.8m-.5 0h.8m-.5-.1h.8m-.7 .2h.8m.4-.2h.8m.1 .1h.8m0-.1h.8m-.4 .1h.8m-.6 .1h.8m.1-.1h.8m-.2 .2h.8m.1-.3h.8m.1 .3h.8m-20 .3h.8m1.2 .1h.8m1.4-.1h.8m0 .1h.8m-.6-.3h.8m-.7 .1h.8m-.5 .3h.8m-.4 0h.8m.7-.3h.8m-.4-.1h.8m1.7 .2h.8m0 0h.8m-.7-.1h.8m-.2 .2h.8m-.4-.3h.8m2.7 .1h.8m.2 .1h.8m-.7 .2h.8m-17 .5h.8m-.6-.4h.8m-.6 .1h.8m2.2 .1h.8m1 .2h.8m.5-.3h.8m-.7 .2h.8m-.6-.3h.8m.8 .1h.8m0 0h.8m-.3 0h.8m-.6 .1h.8m-.7 .2h.8m-.6 0h.8m.4 0h.8m-.3 0h.8m3.5-.4h.8m-.5 .1h.8m2.6 .3h.8m-26.4 .2h.8m1.8 .3h.8m.8-.3h.8m-.8 .1h.8m2.8 .2h.8m-.5-.4h.8m1.1 .4h.8m1.1-.4h.8m1.4 .2h.8m1.5-.1h.8m2.6 .3h.8m-.6-.1h.8m.5-.1h.8m-13.3 .5h.8m-.3 .1h.8m1-.3h.8m0 .2h.8m2.1 .2h.8m.1-.1h.8m.1 0h.8m-.7-.3h.8m-.5 .1h.8m-.7 .1h.8m-.6 .2h.8m2-.4h.8m.9 .1h.8m-15.2 .8h.8m4.8-.4h.8m1.8 .1h.8m.3 .3h.8m-.2-.2h.8m-.7 .2h.8m-.4-.2h.8m3.5 0h.8m-22 .5h.8m2.8-.1h.8m1.6 .3h.8m3.9-.3h.8m1.2 .3h.8m1.3 0h.8m2.5-.4h.8m5.4 .3h.8m.7 .1h.8m-.1-.4h.8m-25.7 .5h.8m7.1 0h.8m4.9 0h.8m-.8 0h.8m1.7 .3h.8m.3-.3h.8m6.2 .4h.8m-18.1 .4h.8m3.2-.1h.8m-.8 .1h.8m-.2-.3h.8m.3 0h.8m-.5 .1h.8m2.5 .1h.8m-.5 0h.8m.5 .1h.8m-12.6 .3h.8m6.7 .1h.8m.6-.1h.8m1.7 0h.8m-14.5 .6h.8m.5 .1h.8m6.6-.3h.8m.4 .1h.8m3.7 .3h.8m-6.1 .1h.8m-12.4 .6h.8m6.2 .1h.8m1.3-.2h.8m.9 .4h.8m-2.3 .4h.8m4.7 0h.8m6.9-.3h.8m-9.3 .6h.8m-6.8 .5h.8m12.2 .1h.8m-8 .6h.8m-4.9 .6h.8m7.5-.2h.8m.9-.1h.8m-.6 .6h.8m-19.1 .4h.8m3.7 .3h.8m1.5-.3h.8m2 .7h.8m7.8 .5h.8m3.8 1.4h.8m-25.3 1.4h.8m13.6 .3h.8m-2.5 1.1h.8m.4 .4h.8" stroke="#000" stroke-width=".8" opacity="0.75" fill="none" filter="url(#bl)"/><path d="M325.2 587.6h.8m-37.3 3.7h.8m36.7 .9h.8m-42.1 2.7h.8m20.3 2.4h.8m3.7 5.6h.8m-8.5 .8h.8m-2.2 .4h.8m2.3 1.2h.8m11.9 2.3h.8m-19.6 .3h.8m21.9 7.4h.8m-7.9 9.1h.8m-20.6 .5h.8m36 1.1h.8" stroke="#000" stroke-width=".8" opacity="0.6" fill="none" filter="url(#bl)"/></g><rect x="279.2" y="585.4" width="53.8" height="44.4" fill="none" stroke="#b0b0b0" stroke-width="0.9"/><path d="M279.2 629.8v1.6M279.2 629.8h-1.6M292.6 629.8v1.6M279.2 618.7h-1.6M306.1 629.8v1.6M279.2 607.6h-1.6M319.6 629.8v1.6M279.2 596.5h-1.6M333 629.8v1.6M279.2 585.4h-1.6" stroke="#999" stroke-width=".6" fill="none"/><rect x="294" y="595.2" width="11.4" height="10.8" fill="none" stroke="#a0a0a0" stroke-width="0.75"/><text x="299.5" y="593.2" text-anchor="middle" font-size="7">0.23</text><clipPath id="c14"><rect x="342.7" y="585.4" width="55.5" height="44.4"/></clipPath><g clip-path="url(#c14)"><path d="M357.7 589.9h.8m.5 .3h.8m3.4 .4h.8m12.3 1.1h.8m-26.5 2.1h.8m17.6 .4h.8m-17.7 .5h.8m11-.4h.8m-1.3 .8h.8m-7.7 .5h.8m2-.2h.8m-1.5 1.3h.8m-2.4 .4h.8m5.3 0h.8m1.1-.1h.8m-14.2 .7h.8m1.7 0h.8m7.6-.1h.8m1.7 .2h.8m-.6 .2h.8m-9.3 .3h.8m-.4 .6h.8m.7 .3h.8m1 0h.8m-8.3 .2h.8m6.5 0h.8m8.7 .2h.8m2.3 0h.8m-9.6 .2h.8m1.9 0h.8m1.4 .4h.8m3-.1h.8m-18.8 .2h.8m.7 .3h.8m.5-.3h.8m2.9 0h.8m4.7 .2h.8m-.5-.2h.8m-.3 .3h.8m-9.7 .4h.8m1.4-.1h.8m.5 .2h.8m1.6-.2h.8m.6 .3h.8m-14.1 .3h.8m.8-.2h.8m3.7 .3h.8m-.6 .1h.8m0-.2h.8m3.1-.1h.8m1.5 .1h.8m2.9 .1h.8m-.7-.2h.8m5.4-.1h.8m-18.4 .8h.8m.7-.3h.8m1 .2h.8m-.7 .2h.8m2.2-.3h.8m.3 .2h.8m.8 0h.8m3.9-.2h.8m-21.6 .5h.8m4.6 .3h.8m-.5-.3h.8m2.5 .1h.8m-.3 0h.8m1.6-.2h.8m1.2 .3h.8m-.6-.1h.8m1.9 .1h.8m-7.7 .6h.8m.2-.4h.8m0 0h.8m-.3 .3h.8m2.8 .1h.8m2.1-.4h.8m-14.7 .8h.8m-.6-.1h.8m5.2 .2h.8m.5-.3h.8m-.7 0h.8m-8 .8h.8m2.1-.2h.8m-.3 0h.8m-.8 0h.8m2.9 .1h.8m-.5-.3h.8m-.4 .2h.8m-.6-.1h.8m-.7 .2h.8m7.2-.1h.8m.3-.1h.8m.5 .2h.8m-.2-.3h.8m-16.4 .5h.8m2.1 .4h.8m-.7-.3h.8m1.5 .2h.8m-.6-.1h.8m2.5-.1h.8m1.4 .1h.8m3.7 .2h.8m-.5-.2h.8m-18.3 .4h.8m-.7 .2h.8m-.7-.3h.8m-.4 .1h.8m-.6 .2h.8m.1 .1h.8m-.5 0h.8m.2 0h.8m-.8-.1h.8m-.7-.1h.8m2 0h.8m1.3-.2h.8m-9.8 .5h.8m1.4 0h.8m-.2 .2h.8m-.1-.1h.8m-.7 .3h.8m-.7 0h.8m-.5-.2h.8m1 .2h.8m.3 0h.8m.9-.4h.8m-.5 0h.8m6.8 0h.8m.1 .1h.8m-25 .7h.8m3-.2h.8m.6-.1h.8m.7 .4h.8m-.7-.2h.8m1.7-.1h.8m.2 0h.8m-.6 .3h.8m.7-.2h.8m.5-.1h.8m-.1-.1h.8m7.3 .1h.8m-13.5 .4h.8m1 .4h.8m1.8 0h.8m1.4-.1h.8m-.6-.2h.8m-.2 0h.8m-16.7 .6h.8m7 .1h.8m-.8-.1h.8m2.1 .2h.8m-.5 0h.8m-.7-.3h.8m.5 .2h.8m.7-.2h.8m-.4 .3h.8m.3-.3h.8m-.6-.1h.8m.8 .3h.8m3.3-.1h.8m-16.7 .5h.8m.2 0h.8m0-.2h.8m-.7 .3h.8m-.7-.1h.8m-.5-.1h.8m-.6-.1h.8m-.7 .1h.8m1.2 .3h.8m0-.1h.8m.4 0h.8m-.6-.1h.8m-.6-.2h.8m-.4 .3h.8m-.4 0h.8m-.2-.2h.8m-14.3 .4h.8m2.7 .1h.8m.9 0h.8m.2 0h.8m2.2 0h.8m-.1-.1h.8m-.1 .1h.8m-.6 .2h.8m.2-.2h.8m2.1 .2h.8m-.4-.3h.8m-10.3 .9h.8m.8-.4h.8m1.5 .4h.8m.1-.2h.8m4.9-.2h.8m0 .4h.8m-23.2 .2h.8m7.3 .1h.8m1.8 0h.8m.9 0h.8m1.8 .1h.8m5.2 .1h.8m-11.5 .2h.8m-.4-.1h.8m-.2 0h.8m2.4 .2h.8m-.5 0h.8m1.3-.1h.8m.9 0h.8m-.2 .3h.8m2.4 0h.8m-12.6 .5h.8m2.4 0h.8m-.6-.1h.8m1.4-.3h.8m.2 0h.8m.2 .4h.8m1.2-.3h.8m-.7 .1h.8m-13.1 .6h.8m.8-.3h.8m.2 .4h.8m-.2-.2h.8m0 .2h.8m4.7-.4h.8m.2 0h.8m-.7 .4h.8m1.9-.3h.8m2.2 .2h.8m0-.3h.8m-20.6 .6h.8m4.4 .2h.8m.3-.3h.8m-.1 .2h.8m1.1 .2h.8m-.5-.4h.8m-.5 .3h.8m-.7 0h.8m-.8-.2h.8m3-.1h.8m.7 .2h.8m2.4-.2h.8m-6.5 .7h.8m.3-.1h.8m1.9-.1h.8m8.9 .3h.8m-27.6 .5h.8m2.4 .1h.8m1.4 0h.8m1.9-.3h.8m-.3 .1h.8m1.8 .2h.8m4.2-.3h.8m.8 0h.8m-.7 .3h.8m-17 .1h.8m4.9 .2h.8m-.1-.1h.8m-2.7 .6h.8m-.6-.1h.8m3.8 .3h.8m-.7-.1h.8m.2-.3h.8m.6 .4h.8m6.3-.4h.8m-17 .5h.8m5.8 .3h.8m2.4 0h.8m1.7-.2h.8m-10.5 .4h.8m1.6 .4h.8m-.2-.3h.8m2.5 .1h.8m-5.6 .6h.8m8-.2h.8m2.6 .1h.8m10.3 .1h.8m-29.2 .6h.8m5.3 0h.8m3.1-.3h.8m-15.4 .4h.8m9.1 .3h.8m1.8 .2h.8m-11.9 .5h.8m9.8 .1h.8m4.9-.1h.8m6.6 0h.8m-21.8 .7h.8m2.1 0h.8m7.6 0h.8m-1.6 .5h.8m10.6 0h.8m-13.4 .7h.8m-2.3 .4h.8m-7.6 .4h.8m8.2 .2h.8m-.8 .1h.8m-12.6 .8h.8m11.4 .2h.8m1.7 1.4h.8m-1.5 .5h.8m-6.7 .7h.8m0 0h.8" stroke="#000" stroke-width=".8" opacity="0.7" fill="none" filter="url(#bl)"/><path d="M348.9 589.2h.8m4.6 7.5h.8m18.8 4.6h.8m-9.7 4.7h.8m6.6 5.6h.8m-11.9 .5h.8m1.3 .3h.8m-10.1 3.3h.8m40.8 6h.8m-5.2 .8h.8m-41.2 .4h.8m35.2 1.7h.8" stroke="#000" stroke-width=".8" opacity="0.6" fill="none" filter="url(#bl)"/></g><rect x="342.7" y="585.4" width="55.5" height="44.4" fill="none" stroke="#b0b0b0" stroke-width="0.9"/><path d="M342.7 629.8v1.6M342.7 629.8h-1.6M356.6 629.8v1.6M342.7 618.7h-1.6M370.4 629.8v1.6M342.7 607.6h-1.6M384.3 629.8v1.6M342.7 596.5h-1.6M398.2 629.8v1.6M342.7 585.4h-1.6" stroke="#999" stroke-width=".6" fill="none"/><rect x="357.9" y="595.2" width="10.8" height="16.2" fill="none" stroke="#a0a0a0" stroke-width="0.75"/><path d="M343 596.5L343 607.5" stroke="#222" stroke-width="0.9" fill="none"/><text x="362" y="593.2" text-anchor="middle" font-size="7">0.09</text><path d="M438.1 539.7L438.1 542.2" stroke="#333" stroke-width="0.7" fill="none"/><path d="M436.5 539.7L439.7 539.7" stroke="#333" stroke-width="0.7" fill="none"/><rect x="431.2" y="542.2" width="13.8" height="82" fill="#000" stroke="#111" stroke-width="0.7"/><path d="M457.2 573.4L457.2 581.9" stroke="#333" stroke-width="0.7" fill="none"/><path d="M455.6 573.4L458.9 573.4" stroke="#333" stroke-width="0.7" fill="none"/><rect x="450.3" y="581.9" width="13.9" height="42.3" fill="#c8c8c8" stroke="#333" stroke-width="0.7"/><text x="457.2" y="572.8" text-anchor="middle" font-size="8">*</text><path d="M424.9 527.7L424.9 624.2" stroke="#222" stroke-width="0.9" fill="none"/><path d="M424.9 624.2L470.4 624.2" stroke="#222" stroke-width="0.9" fill="none"/><path d="M422.9 529.2L424.9 529.2" stroke="#222" stroke-width="0.7" fill="none"/><text x="423.6" y="532.2" text-anchor="end">50</text><path d="M422.9 548L424.9 548" stroke="#222" stroke-width="0.7" fill="none"/><text x="423.6" y="551" text-anchor="end">40</text><path d="M422.9 566.8L424.9 566.8" stroke="#222" stroke-width="0.7" fill="none"/><text x="423.6" y="569.8" text-anchor="end">30</text><path d="M422.9 585.6L424.9 585.6" stroke="#222" stroke-width="0.7" fill="none"/><text x="423.6" y="588.6" text-anchor="end">20</text><path d="M422.9 604.4L424.9 604.4" stroke="#222" stroke-width="0.7" fill="none"/><text x="423.6" y="607.4" text-anchor="end">10</text><text x="414" y="573" text-anchor="middle" transform="rotate(-90 414 573)">Pre-cDc per femur x 10<tspan dy="-3" font-size="4.5">3</tspan></text><text x="438" y="634" text-anchor="middle">V</text><text x="457.2" y="634" text-anchor="middle">Indo</text>
</svg>
</body></html>
